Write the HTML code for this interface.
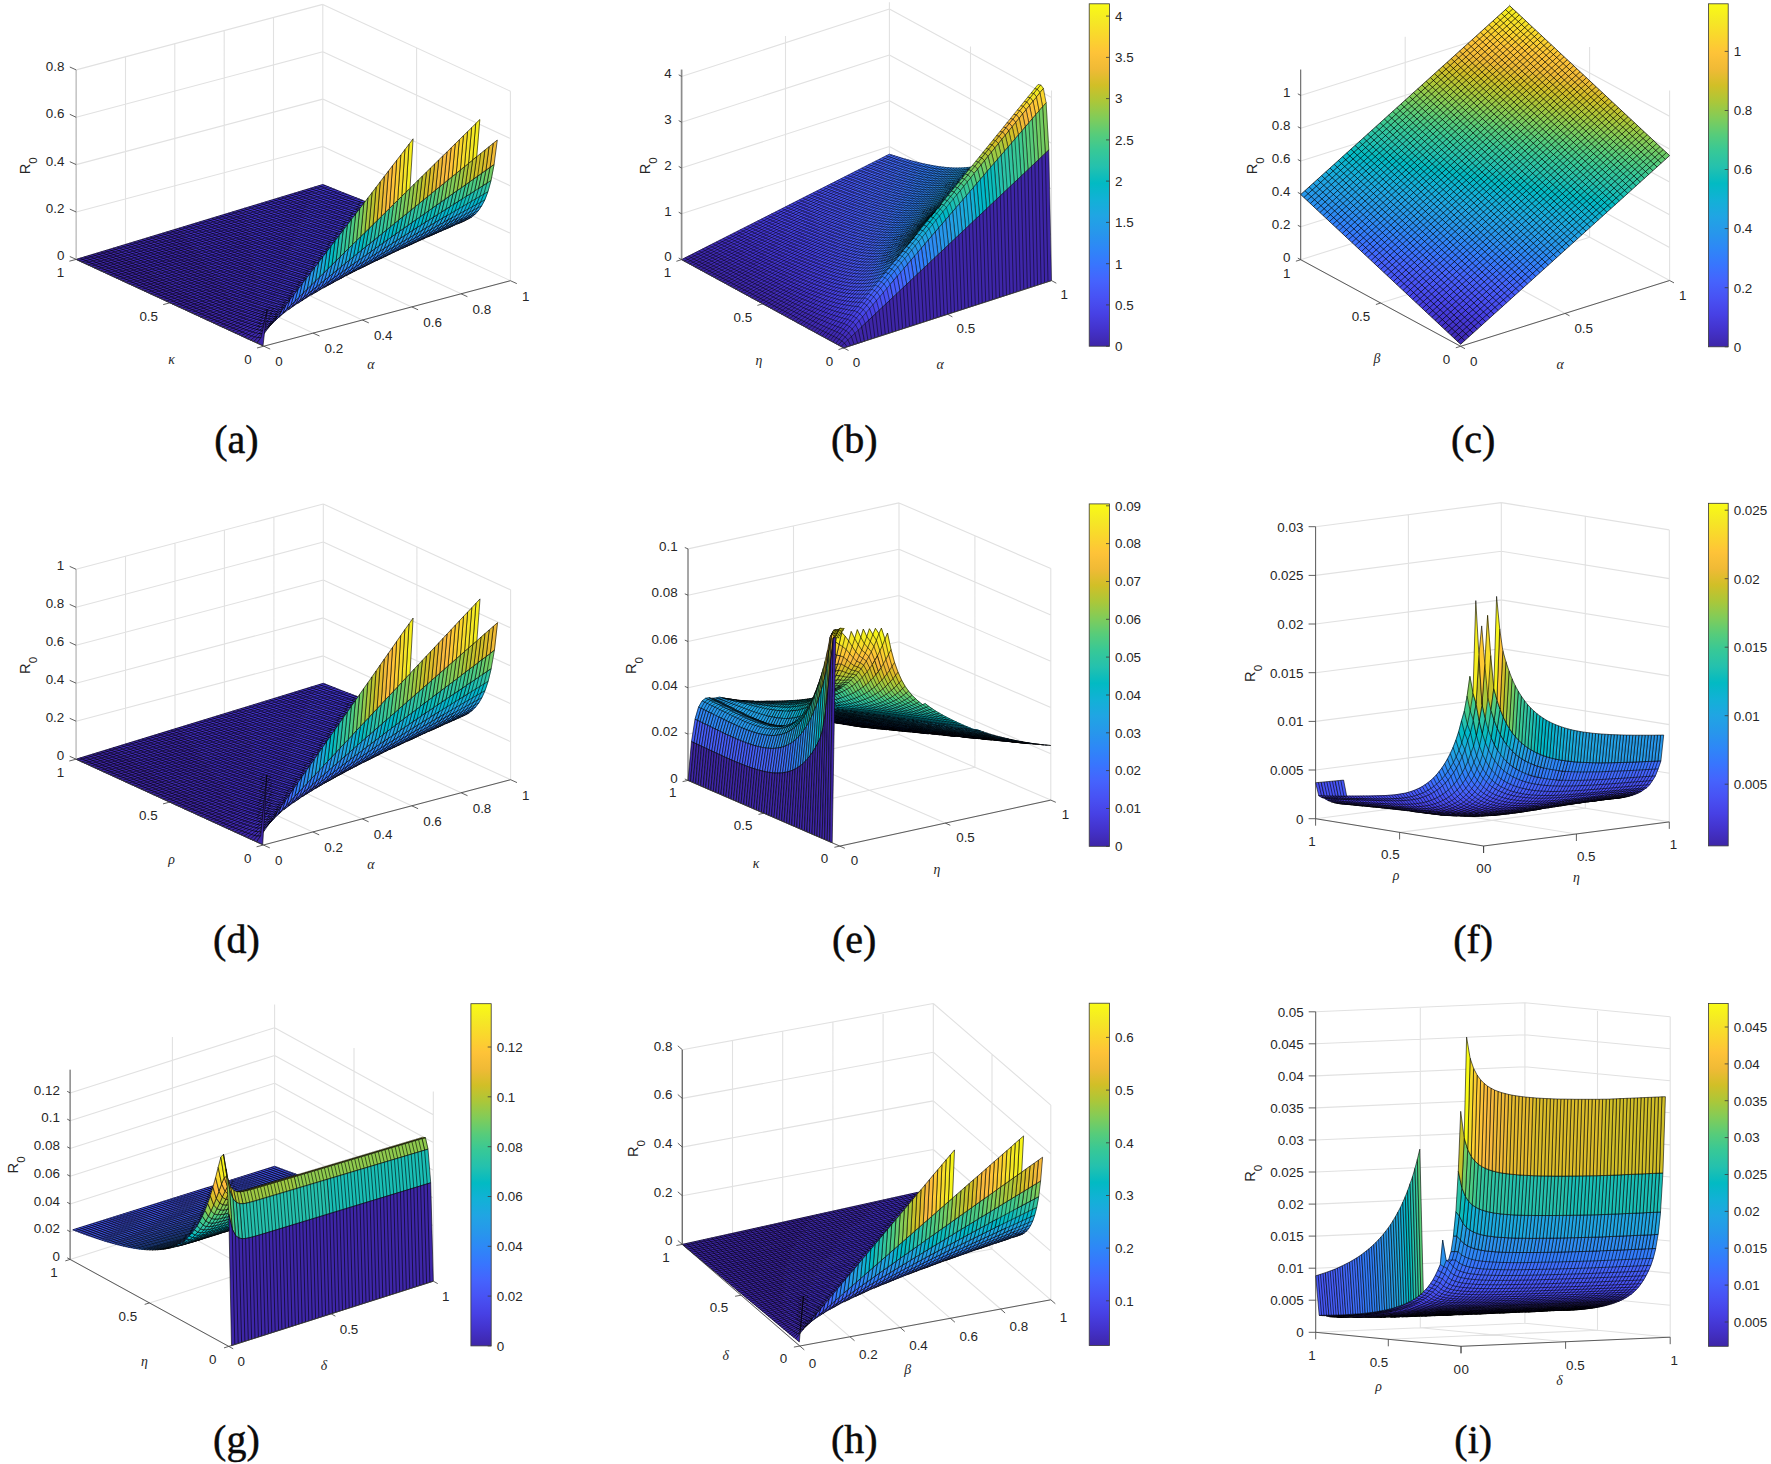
<!DOCTYPE html>
<html><head><meta charset="utf-8"><title>Figure</title>
<style>
html,body{margin:0;padding:0;background:#fff}
svg{display:block}
text{font-family:"Liberation Sans",sans-serif;fill:#262626}
.gk{font-family:"Liberation Serif",serif;font-style:italic;font-size:13.8px}
.cap{font-family:"Liberation Serif",serif;font-size:40px;fill:#0a0a0a;stroke:#0a0a0a;stroke-width:.45px}
</style></head><body>
<svg width="1771" height="1464" viewBox="0 0 1771 1464">
<rect width="1771" height="1464" fill="#fff"/>
<defs><linearGradient id="gc" gradientUnits="userSpaceOnUse" x1="1460.6" y1="344.5" x2="1528.3" y2="1.0"><stop offset="0.0000" stop-color="#3e26a8"/><stop offset="0.0476" stop-color="#4332cb"/><stop offset="0.0952" stop-color="#4741e5"/><stop offset="0.1429" stop-color="#4852f4"/><stop offset="0.1905" stop-color="#4563fd"/><stop offset="0.2381" stop-color="#3875fe"/><stop offset="0.2857" stop-color="#2e87f7"/><stop offset="0.3333" stop-color="#2797eb"/><stop offset="0.3810" stop-color="#20a5e3"/><stop offset="0.4286" stop-color="#12b1d6"/><stop offset="0.4762" stop-color="#02bac3"/><stop offset="0.5238" stop-color="#24c1ae"/><stop offset="0.5714" stop-color="#37c897"/><stop offset="0.6190" stop-color="#57cc7a"/><stop offset="0.6667" stop-color="#81cc59"/><stop offset="0.7143" stop-color="#abc739"/><stop offset="0.7619" stop-color="#d1bf27"/><stop offset="0.8095" stop-color="#f0ba36"/><stop offset="0.8571" stop-color="#fec338"/><stop offset="0.9048" stop-color="#fad62d"/><stop offset="0.9524" stop-color="#f5e924"/><stop offset="1.0000" stop-color="#f9fb15"/></linearGradient></defs>
<path d="M263.8 346.2L76.2 259.4M313.1 333.1L125.5 246.3M362.4 320.0L174.8 233.2M411.8 306.9L224.2 220.1M461.1 293.8L273.5 207.0M510.4 280.7L322.8 193.9M263.8 346.2L510.4 280.7M170.0 302.8L416.6 237.3M76.2 259.4L322.8 193.9M76.2 259.4L76.2 69.9M125.5 246.3L125.5 56.8M174.8 233.2L174.8 43.7M224.2 220.1L224.2 30.6M273.5 207.0L273.5 17.5M322.8 193.9L322.8 4.4M76.2 259.4L322.8 193.9M76.2 212.0L322.8 146.5M76.2 164.6L322.8 99.1M76.2 117.3L322.8 51.8M76.2 69.9L322.8 4.4M510.4 280.7L510.4 91.2M416.6 237.3L416.6 47.8M322.8 193.9L322.8 4.4M322.8 193.9L510.4 280.7M322.8 146.5L510.4 233.3M322.8 99.1L510.4 185.9M322.8 51.8L510.4 138.6M322.8 4.4L510.4 91.2" stroke="#e1e1e1" stroke-width="1.1" fill="none"/><g transform="scale(0.1)" stroke="#000" stroke-width="6" stroke-linejoin="round" fill="none"><g stroke-width="6"><path fill=#4537d5 stroke=#4537d5 d="M3228 1845l-82 25 25 10 82-25zM3253 1855l-123 38 31 12 123-37zM3284 1868l-164 50 31 13 164-50zM3315 1881l-205 62 31 13 206-63zM3347 1893l-247 76 31 13 247-76zM3378 1906l-288 88 32 13 287-88zM3409 1919l-329 101 32 13 329-102zM3441 1931l-370 114 31 13 370-115zM3472 1943l-411 128 31 12 411-127zM3503 1956l-452 140 31 13 452-141zM3534 1968l-493 154 31 12 494-154zM3566 1980l-535 167 32 13 534-168zM3556 2005l-535 168 32 12 534-168zM3546 2030l-534 168 31 13 534-169zM3495 2068l-493 155 31 13 493-156zM3485 2093l-493 156 31 12 493-156zM3475 2118l-493 156 31 13 494-157zM3466 2143l-494 157 32 12 493-158zM3456 2168l-494 157 32 13 493-159zM3405 2206l-452 145 31 12 452-146zM3395 2231l-452 145 31 13 452-147zM3385 2255l-452 147 31 12 452-147zM3375 2280l-452 148 31 12 453-148zM3324 2319l-411 134 32 12 411-135zM3314 2343l-411 136 32 12 411-136zM3305 2368l-411 136 31 12 411-137zM3295 2393l-411 137 31 11 411-137zM3244 2431l-329 110 31 12 329-111zM3234 2456l-329 111 32 12 328-112zM3224 2481l-329 111 32 12 328-112zM3214 2506l-328 112 31 11 329-113zM3163 2544l-287 99 31 12 288-100zM3154 2569l-288 100 31 11 288-101zM3144 2594l-288 101 31 11 288-102zM3134 2618l-288 102 32 11 287-103zM3083 2658l-247 88 32 10 246-88zM3073 2682l-246 89 31 11 246-90zM3063 2707l-246 90 31 10 247-91zM3054 2731l-247 91 31 11 247-93zM3044 2756l-247 92 31 10 247-93zM2993 2796l-206 78 32 10 205-80zM2983 2820l-206 79 32 10 205-81zM2973 2845l-205 80 31 9 205-82zM2963 2869l-205 82 31 9 206-84zM2912 2910l-164 67 31 8 165-68zM2902 2934l-164 68 31 9 165-70zM2893 2958l-165 70 32 8 164-72zM2883 2982l-165 72 32 8 164-75zM2832 3024l-123 56 31 7 123-58zM2822 3049l-123 58 31 6 123-61zM2812 3073l-123 60 31 5 123-63zM2761 3117l-82 43 31 4 83-45zM2751 3142l-82 44 32 4 82-48zM2742 3166l-83 48 32 2 82-53zM2732 3189l-41 27 31-3 41-30zM2722 3213l-41 29 31-8 41-33z"/><path fill=#4332cb stroke=#4332cb d="M3146 1870l-699 212 25 11 699-213zM3130 1893l-658 200 31 13 658-201zM3120 1918l-658 201 31 13 658-201zM3110 1943l-658 201 32 14 657-202zM3100 1969l-657 201 31 14 657-202zM3090 1994l-616 190 31 13 617-190zM3080 2020l-616 190 31 13 617-190zM3071 2045l-617 191 31 13 617-191zM3061 2071l-576 178 32 13 575-179zM3051 2096l-575 179 31 13 575-179zM3041 2122l-575 179 31 13 575-180zM3031 2147l-534 167 31 13 535-167zM3021 2173l-534 167 31 13 535-168zM3012 2198l-535 168 32 13 534-168zM3002 2223l-493 156 31 13 493-156zM2992 2249l-493 156 31 13 493-157zM2982 2274l-493 157 31 13 493-157zM2972 2300l-452 144 31 13 453-145zM2962 2325l-452 145 32 13 452-145zM2953 2351l-452 145 31 13 452-146zM2943 2376l-452 146 31 13 452-146zM2933 2402l-411 133 31 13 411-134zM2923 2428l-411 133 31 13 411-134zM2913 2453l-411 135 32 12 411-135zM2903 2479l-369 121 31 13 370-122zM2894 2504l-370 122 31 13 370-123zM2884 2530l-370 123 31 12 370-124zM2915 2541l-370 124 31 13 370-125zM2905 2567l-370 125 32 12 370-125zM2895 2592l-369 126 31 12 370-126zM2886 2618l-329 112 31 12 329-113zM2876 2643l-329 114 31 12 329-114zM2866 2669l-329 114 31 12 329-115zM2856 2695l-288 100 32 12 287-101zM2846 2720l-287 102 31 12 288-103zM2836 2746l-287 102 31 12 288-104zM2827 2771l-288 104 31 12 288-105zM2817 2797l-247 90 31 11 247-91zM2807 2822l-247 91 32 12 246-92zM2797 2848l-247 92 32 12 246-94zM2787 2874l-205 78 31 11 206-79zM2777 2899l-205 79 31 11 206-80zM2768 2925l-206 81 31 10 206-82zM2758 2951l-165 65 32 11 164-67zM2748 2977l-164 67 31 10 164-69zM2738 3002l-164 69 31 10 164-70zM2728 3028l-123 53 31 9 124-54zM2718 3054l-123 54 31 10 124-56zM2626 3118l-41 18 32 9 41-19z"/><path fill=#422ec0 stroke=#422ec0 d="M2447 2082l-657 200 24 11 658-200zM2472 2093l-658 200 32 14 657-201zM2462 2119l-657 200 31 14 657-201zM2452 2144l-616 189 31 14 617-189zM2443 2170l-617 189 31 14 617-189zM2474 2184l-617 189 32 14 616-190zM2464 2210l-617 189 32 14 616-190zM2454 2236l-575 177 31 14 575-178zM2485 2249l-575 178 31 14 576-179zM2476 2275l-576 178 31 14 576-179zM2466 2301l-535 166 32 14 534-167zM2497 2314l-575 180 31 13 575-180zM2487 2340l-534 167 31 14 534-168zM2477 2366l-493 155 31 13 494-155zM2509 2379l-535 168 32 14 534-169zM2499 2405l-493 156 31 14 493-157zM2489 2431l-493 157 31 13 493-157zM2520 2444l-493 157 31 14 493-158zM2510 2470l-452 145 32 13 452-145zM2501 2496l-453 145 32 14 452-146zM2491 2522l-411 133 31 13 411-133zM2522 2535l-452 147 31 13 452-147zM2512 2561l-411 134 31 14 411-135zM2502 2588l-411 134 32 13 411-135zM2534 2600l-411 135 31 14 411-136zM2524 2626l-370 123 31 13 370-123zM2514 2653l-370 123 31 13 370-124zM2545 2665l-370 124 32 13 369-124zM2535 2692l-370 124 32 13 370-125zM2526 2718l-329 111 31 14 329-113zM2557 2730l-329 113 31 13 329-114zM2547 2757l-329 113 31 13 329-114zM2537 2783l-288 100 32 13 287-101zM2568 2795l-328 115 31 13 329-116zM2559 2822l-288 101 31 13 288-102zM2549 2848l-288 103 31 13 288-104zM2539 2875l-247 89 32 13 246-90zM2570 2887l-246 90 31 12 246-91zM2560 2913l-246 91 31 13 247-92zM2550 2940l-205 77 31 12 206-77zM2582 2952l-247 93 31 13 247-95zM2572 2978l-206 80 32 12 205-81zM2562 3006l-164 64 31 12 164-66zM2593 3016l-205 82 31 12 206-83zM2584 3044l-165 66 31 12 165-68zM2574 3071l-165 68 32 12 164-70zM2605 3081l-164 70 31 12 164-73zM2595 3108l-123 55 31 11 123-56zM2585 3136l-123 56 31 11 124-58zM2617 3145l-124 58 32 11 123-61zM2607 3173l-124 61 32 10 123-63zM2597 3202l-82 42 31 10 82-45zM2587 3231l-82 45 31 10 82-48zM2577 3262l-41 24 31 8 41-26zM2599 3300l-41 29 31 6 41-34z"/><path fill=#402ab4 stroke=#402ab4 d="M1790 2282l-658 200 25 11 657-200zM1814 2293l-657 200 31 14 658-200zM1805 2319l-658 201 31 14 658-201zM1836 2333l-658 201 32 14 657-201zM1826 2359l-616 189 31 14 616-189zM1857 2373l-616 189 31 15 617-190zM1847 2399l-575 178 31 14 576-178zM1879 2413l-576 178 32 14 575-178zM1910 2427l-575 178 31 14 575-178zM1900 2453l-575 179 31 14 575-179zM1931 2467l-575 179 31 14 576-179zM1922 2494l-535 166 32 15 534-168zM1953 2507l-534 168 31 14 534-168zM1984 2521l-534 168 31 14 534-169zM1974 2547l-493 156 31 14 494-156zM2006 2561l-494 156 32 14 493-156zM1996 2588l-493 156 31 14 493-157zM2027 2601l-493 157 31 15 493-158zM2058 2615l-493 158 31 14 494-159zM2048 2641l-452 146 32 14 452-146zM2080 2655l-452 146 31 14 452-147zM2070 2682l-411 133 31 14 411-134zM2101 2695l-411 134 31 14 411-134zM2091 2722l-411 135 32 14 411-136zM2123 2735l-411 136 31 14 411-136zM2154 2749l-411 136 31 14 411-137zM2144 2776l-370 123 31 14 370-124zM2175 2789l-370 124 32 14 370-125zM2165 2816l-328 111 31 14 329-112zM2197 2829l-329 112 31 14 329-112zM2228 2843l-329 112 31 14 329-113zM2218 2870l-329 113 32 14 328-114zM2249 2883l-328 114 31 14 329-115zM2240 2910l-288 101 31 14 288-102zM2271 2923l-288 102 31 14 288-103zM2261 2951l-247 88 32 14 246-89zM2292 2964l-246 89 31 13 247-89zM2324 2977l-247 89 31 14 247-91zM2314 3004l-247 91 31 14 247-92zM2345 3017l-247 92 32 14 246-94zM2335 3045l-205 78 31 14 205-79zM2366 3058l-205 79 31 13 206-80zM2398 3070l-206 80 31 14 206-82zM2388 3098l-165 66 32 13 164-67zM2419 3110l-164 67 31 14 164-69zM2409 3139l-164 69 31 13 165-70zM2441 3151l-165 70 31 14 165-72zM2472 3163l-165 72 32 13 164-74zM2462 3192l-123 56 31 13 123-58zM2493 3203l-123 58 31 13 124-60zM2483 3234l-82 40 31 13 83-43zM2515 3244l-83 43 32 12 82-45zM2505 3276l-82 45 31 13 82-48zM2536 3286l-82 48 31 12 82-52zM2567 3294l-82 52 31 12 83-58zM2558 3329l-42 29 32 10 41-33zM2589 3335l-41 33 31 7 41-40z"/><path fill=#3e26a8 stroke=#3e26a8 d="M1132 2482l-370 112 25 12 370-113zM1157 2493l-370 113 31 14 370-113zM1147 2520l-329 100 31 14 329-100zM1178 2534l-329 100 32 15 329-101zM1210 2548l-329 101 31 14 329-101zM1241 2562l-329 101 31 15 329-101zM1272 2577l-329 101 32 14 328-101zM1303 2591l-328 101 31 15 329-102zM1335 2605l-329 102 31 14 329-102zM1325 2632l-288 89 31 15 288-90zM1356 2646l-288 90 32 14 287-90zM1387 2660l-287 90 31 15 288-90zM1419 2675l-288 90 31 14 288-90zM1450 2689l-288 90 31 15 288-91zM1481 2703l-288 91 32 14 287-91zM1512 2717l-287 91 31 15 288-92zM1503 2744l-247 79 31 14 247-79zM1534 2758l-247 79 31 14 247-78zM1565 2773l-247 78 32 15 246-79zM1596 2787l-246 79 31 14 247-79zM1628 2801l-247 79 31 15 247-80zM1659 2815l-247 80 32 14 246-80zM1690 2829l-246 80 31 15 246-81zM1680 2857l-205 67 31 14 206-67zM1712 2871l-206 67 31 15 206-68zM1743 2885l-206 68 32 14 205-68zM1774 2899l-205 68 31 15 205-69zM1805 2913l-205 69 31 14 206-69zM1837 2927l-206 69 31 15 206-70zM1868 2941l-206 70 32 14 205-70zM1899 2955l-205 70 31 15 205-71zM1889 2983l-164 57 31 14 165-57zM1921 2997l-165 57 31 14 165-57zM1952 3011l-165 57 32 15 164-58zM1983 3025l-164 58 31 14 164-58zM2014 3039l-164 58 31 15 165-59zM2046 3053l-165 59 32 14 164-60zM2077 3066l-164 60 31 15 164-61zM2067 3095l-123 46 31 14 123-46zM2098 3109l-123 46 31 15 124-47zM2130 3123l-124 47 32 14 123-47zM2161 3137l-123 47 31 15 123-49zM2192 3150l-123 49 31 14 123-49zM2223 3164l-123 49 31 15 124-51zM2255 3177l-124 51 32 14 123-51zM2245 3208l-82 34 31 15 82-36zM2276 3221l-82 36 31 14 82-36zM2307 3235l-82 36 31 14 83-37zM2339 3248l-83 37 32 15 82-39zM2370 3261l-82 39 31 14 82-40zM2401 3274l-82 40 31 15 82-42zM2432 3287l-82 42 32 14 82-44zM2423 3321l-41 22 31 15 41-24zM2454 3334l-41 24 31 14 41-26zM2485 3346l-41 26 31 15 41-29zM2516 3358l-41 29 32 14 41-33zM2548 3368l-41 33 31 15 41-41z"/><path fill=#463cde stroke=#463cde d="M3597 1992l-41 13 31 12 41-13zM3587 2017l-41 13 31 12 41-13zM3577 2042l-82 26 31 12 82-26zM3567 2067l-82 26 31 12 83-26zM3558 2092l-83 26 32 12 82-27zM3507 2130l-41 13 31 11 41-13zM3497 2154l-41 14 31 11 41-13zM3487 2179l-82 27 31 11 82-26zM3436 2217l-41 14 31 11 41-13zM3426 2242l-41 13 31 12 41-13zM3416 2267l-41 13 32 12 41-14zM3407 2292l-83 27 32 11 82-27zM3356 2330l-42 13 32 12 41-14zM3346 2355l-41 13 31 11 41-13zM3336 2379l-41 14 31 11 41-14zM3285 2418l-41 13 31 11 41-13zM3275 2442l-41 14 31 11 41-14zM3265 2467l-41 14 31 11 42-14zM3255 2492l-41 14 32 10 41-14zM3205 2530l-42 14 32 11 41-14zM3195 2555l-41 14 31 10 41-14zM3185 2579l-41 15 31 10 41-15zM3124 2643l-41 15 31 10 41-15zM3114 2668l-41 14 31 10 42-15zM3034 2780l-41 16 31 8 41-15zM2763 3183l-41 30 31-12 41-33z"/><path fill=#4269fe stroke=#4269fe d="M4351 2324l-41 17 31-6 41-17z"/><path fill=#4563fd stroke=#4563fd d="M4310 2341l-41 16 31-5 41-17zM4094 2438l-82 34 31-5 83-36z"/><path fill=#465efb stroke=#465efb d="M3746 2603l-41 18 31-7 41-18z"/><path fill=#4758f8 stroke=#4758f8 d="M3572 2689l-83 37 32-6 82-39z"/><path fill=#2797eb stroke=#2797eb d="M4754 2140l-82 39 31-34 82-40zM4580 2206l-42 20 32-40 41-21z"/><path fill=#2b91ef stroke=#2b91ef d="M4672 2179l-83 38 32-31 82-41z"/><path fill=#23a0e5 stroke=#23a0e5 d="M4785 2105l-123 60 31-42 123-64zM4570 2186l-83 42 32-50 82-45z"/><path fill=#259be8 stroke=#259be8 d="M4662 2165l-82 41 31-41 82-42z"/><path fill=#4852f4 stroke=#4852f4 d="M3305 2831l-41 20 32-9 41-21z"/><path fill=#18addb stroke=#18addb d="M4816 2059l-82 42 31-57 83-45zM4560 2156l-82 44 31-67 82-48z"/><path fill=#1ca9df stroke=#1ca9df d="M4734 2101l-82 43 31-56 82-44zM4478 2200l-41 23 31-66 41-24z"/><path fill=#20a5e3 stroke=#20a5e3 d="M4652 2144l-82 42 31-53 82-45z"/><path fill=#02bac3 stroke=#02bac3 d="M4848 1999l-42 22 32-80 41-24zM4591 2085l-82 48 31-93 82-52z"/><path fill=#01b8ca stroke=#01b8ca d="M4806 2021l-82 45 32-77 82-48zM4509 2133l-82 48 31-88 82-53z"/><path fill=#08b5d0 stroke=#08b5d0 d="M4724 2066l-82 45 31-74 83-48zM4427 2181l-82 48 31-84 82-52z"/><path fill=#12b1d6 stroke=#12b1d6 d="M4642 2111l-82 45 31-71 82-48z"/><path fill=#31c69f stroke=#31c69f d="M4879 1917l-41 24 31-110 41-26zM4540 2040l-41 26 31-131 41-29z"/><path fill=#2cc4a7 stroke=#2cc4a7 d="M4838 1941l-41 24 31-108 41-26z"/><path fill=#24c1ae stroke=#24c1ae d="M4797 1965l-83 48 32-103 82-53zM4417 2119l-41 26 31-123 41-29z"/><path fill=#19bfb6 stroke=#19bfb6 d="M4714 2013l-82 48 31-99 83-52z"/><path fill=#0bbdbd stroke=#0bbdbd d="M4632 2061l-41 24 31-97 41-26z"/><path fill=#72cd64 stroke=#72cd64 d="M4910 1805l-41 26 31-158 41-29z"/><path fill=#57cc7a stroke=#57cc7a d="M4787 1884l-41 26 31-149 41-30z"/><path fill=#3fca8e stroke=#3fca8e d="M4663 1962l-41 26 32-140 41-29z"/><path fill=#f6ef20 stroke=#f6ef20 d="M4767 1567l-41 33 31-364 41-40z"/></g><path d="M2538 3416l82-81M4757 1236l41-40M2507 3401l123-100M2712 3234l82-66M4726 1600l41-33M2475 3387l124-87M2681 3242l82-59M4407 2022l41-29M4530 1935l41-29M4654 1848l41-29M4777 1761l41-30M4900 1673l41-29M2444 3372l164-104M2691 3216l82-53M4376 2145l534-340M2413 3358l205-120M2659 3214l124-72M4345 2229l534-312M2382 3343l246-134M2669 3186l124-67M4437 2223l411-224M2350 3329l288-148M2679 3160l164-85M3296 2842l41-21M4487 2228l329-169M2319 3314l329-161M2689 3133l164-81M3264 2851l41-20M4538 2226l247-121M2288 3300l370-174M2699 3107l164-78M3521 2720l82-39M4589 2217l165-77M2256 3285l658-298M3489 2726l83-37M3736 2614l41-18M2225 3271l699-307M3705 2621l41-18M2194 3257l740-316M4043 2467l83-36M2163 3242l781-325M4012 2472l82-34M4300 2352l82-34M2131 3228l864-352M4269 2357l82-33M2100 3213l904-361M2069 3199l945-371M2038 3184l1027-395M2006 3170l1069-405M1975 3155l1110-415M1944 3141l1151-425M1913 3126l1233-449M1881 3112l1274-459M1850 3097l1315-469M1819 3083l1397-494M1787 3068l1439-503M1756 3054l1480-513M1725 3040l1562-538M1694 3025l1603-547M1662 3011l1644-558M1631 2996l1685-567M1600 2982l1767-592M1569 2967l1808-601M1537 2953l1850-612M1506 2938l1932-635M1475 2924l1973-646M1444 2909l2013-655M1412 2895l2055-666M1381 2880l2137-689M1350 2866l2178-700M1318 2851l2220-710M1287 2837l2302-734M1256 2823l2343-744M1225 2808l2383-754M1193 2794l2425-765M1162 2779l2466-775M1131 2765l2466-773M1100 2750l2466-770M1068 2736l2466-768M1037 2721l2466-765M1006 2707l2466-764M975 2692l2466-761M943 2678l2466-759M912 2663l2466-757M881 2649l2466-756M849 2634l2466-753M818 2620l2466-752M787 2606l2466-751M762 2594l2466-749M2538 3416l-1776-822M2579 3375l-31-7-32-10-62-24-219-95-469-214-963-443M2620 3335l-31 0-31-6-63-19-94-36-125-53-187-82-282-128-963-442M2630 3301l-31-1-32-6-62-18-94-34-156-65-188-82-281-126-901-412M2608 3268l-31-6-31-8-94-31-94-37-156-65-188-82-281-126-807-369M2712 3234l-31 8M2618 3238l-62-15-94-31-125-48-156-66-188-81-250-112-775-353M2753 3201l-31 12-31 3-32-2M2628 3209l-62-16-94-30-125-48-157-65-187-82-250-111-744-338M2794 3168l-31 15-31 6-31 1-32-4M2638 3181l-63-16-93-31-125-48-157-65-187-80-250-111-713-323M2773 3163l-31 3-32-2-31-4M2648 3153l-94-26-94-33-125-49-156-65-188-81-250-111-650-294M2783 3142l-32 0-31-4-31-5M2658 3126l-94-27-94-33-125-49-156-65-407-177-650-293M2793 3119l-32-2-62-10M2667 3099l-93-28-94-33-125-49-157-64-406-177-619-279M2802 3096l-62-9-31-7-63-17-125-41-156-60-188-78-250-108-313-139-400-180M2843 3075l-31-2-31-5-31-6-63-16-62-19-63-21-156-59-188-77-250-108-313-138-400-180M2853 3052l-31-3-62-13-94-26-125-43-157-60-187-78-250-107-282-125-369-165M2863 3029l-31-5-63-13-93-27-126-44-156-60-187-78-219-94-282-124-369-165M2873 3006l-31-6-63-15-94-28-125-44-156-60-188-78-218-94-282-123-338-151M2914 2987l-31-5-63-14-94-27-125-43-156-60-188-76-218-94-282-123-337-151M2924 2964l-31-6-63-15-94-28-125-43-156-60-188-77-219-94-281-123-306-136M2934 2941l-94-23-94-29-125-44-156-60-188-77-219-93-556-246M2944 2917l-94-24-94-30-125-44-156-61-188-77-188-79-250-109-306-136M2953 2893l-93-25-94-30-125-45-157-61-187-77-188-80-525-231M2995 2876l-94-24-94-30-125-44-156-60-188-77-188-79-525-230M3004 2852l-93-25-94-30-125-45-157-60-187-77-188-80-494-216M3296 2842l-32 9M3014 2828l-94-26-93-31-125-45-157-61-156-63-188-80-494-215M3337 2821l-32 10M3024 2804l-94-27-94-31-125-46-156-61-156-64-188-79-463-202M3065 2789l-94-27-93-31-126-45-156-61-156-63-188-79-462-201M3075 2765l-94-28-94-31-125-46-156-61-156-63-188-79-431-188M3085 2740l-94-28-94-32-125-46-125-48-156-64-188-78-431-187M3095 2716l-94-29-94-32-125-46-125-49-313-129-431-187M3104 2692l-93-30-94-33-125-46-125-49-313-129-400-173M3521 2720l-32 6M3146 2677l-94-29-94-33-125-46-125-49-313-128-400-173M3562 2701l-31 7M3155 2653l-93-30-94-33-125-47-125-49-313-128-369-159M3603 2681l-31 8M3165 2628l-94-30-93-33-125-47-126-49-281-116-369-159M3175 2604l-94-31-94-34-218-84-282-115-369-158M3216 2589l-94-30-93-34-219-83-282-115-369-158M3226 2565l-94-31-94-34-218-84-282-115-338-144M3736 2614l-31 7M3236 2541l-188-66-219-84-281-116-306-131M3777 2596l-31 7M3246 2516l-188-66-219-85-250-103-306-130M3287 2502l-188-66-219-84-250-102-306-131M3297 2478l-188-67-188-72-250-102-306-130M3306 2453l-187-67-188-73-250-102-275-117M3316 2429l-187-68-188-73-219-90-275-116M3326 2404l-156-57-188-73-219-89-275-115M3367 2390l-156-56-188-73-219-88-275-116M3377 2366l-156-57-188-73-219-89-244-102M4043 2467l-31 5M3387 2341l-156-57-188-73-188-77-243-102M4085 2449l-32 6M3397 2316l-157-57-156-61-188-76-243-102M4407 2022l-31 123-31 84M4126 2431l-32 7M3438 2303l-157-58-156-60-187-76-244-102M4448 1993l-31 126-31 86M3448 2278l-157-58-156-61-188-76-212-88M4458 2093l-31 88M3457 2254l-156-59-156-61-369-152M4530 1935l-31 131-31 91-31 66M3467 2229l-125-47-156-61-369-151M4571 1906l-31 134-31 93-31 67M3477 2204l-125-47-156-61-338-139M4581 2014l-31 95-31 69-32 50M4300 2352l-31 5M3518 2191l-125-47-156-61-338-138M4654 1848l-32 140-31 97-31 71-31 51M4341 2335l-31 6M3528 2166l-281-108-307-126M4757 1236l-31 364M4695 1819l-32 143-31 99-31 72-31 53-32 40M4382 2318l-31 6M3538 2141l-250-96-307-125M4798 1196l-31 371M4705 1936l-32 101-31 74-31 54-31 41M3548 2117l-250-97-276-113M4777 1761l-31 149-32 103-31 75-31 56-31 42-32 31M3589 2103l-250-96-275-112M4818 1731l-31 153-31 105-32 77-31 57-31 42-32 33M3599 2079l-219-85-275-112M4828 1857l-31 108-32 79-31 57-31 44-31 34M3608 2054l-218-85-244-99M4900 1673l-31 158-31 110-32 80-31 59-31 45-31 34M3618 2029l-187-73-244-99M4941 1644l-31 161-31 112-31 82-32 60-31 46-31 35M3628 2004l-187-73-213-86"/><path fill=#463cde d="M3628 2004l-41 13 31 12 41-13z"/><path fill=#463cde d="M3659 2016l-82 26 31 12 83-26zM3618 2029l32 12"/><path fill=#463cde d="M3608 2054l-41 13 32 12 41-13z"/><path fill=#463cde d="M3599 2079l-41 13 31 11 41-13z"/><path fill=#463cde d="M3589 2103l-82 27 31 11 82-26zM3548 2117l31 11"/><path fill=#463cde d="M3579 2128l-82 26 31 12 82-26zM3538 2141l31 12"/><path fill=#463cde d="M3528 2166l-41 13 31 12 41-13z"/><path fill=#463cde d="M3518 2191l-82 26 31 12 82-27zM3477 2204l31 11"/><path fill=#463cde d="M3508 2215l-82 27 31 12 83-27zM3467 2229l32 11"/><path fill=#463cde d="M3457 2254l-41 13 32 11 41-13z"/><path fill=#463cde d="M3448 2278l-41 14 31 11 41-14z"/><path fill=#463cde d="M3438 2303l-82 27 31 11 82-27zM3397 2316l31 11"/><path fill=#463cde d="M3428 2327l-82 28 31 11 82-28zM3387 2341l31 11"/><path fill=#463cde d="M3377 2366l-41 13 31 11 41-14z"/><path fill=#463cde d="M3367 2390l-82 28 31 11 82-28zM3326 2404l31 11"/><path fill=#463cde d="M3357 2415l-82 27 31 11 83-28zM3316 2429l32 10"/><path fill=#463cde d="M3306 2453l-41 14 32 11 41-14z"/><path fill=#463cde d="M3297 2478l-42 14 32 10 41-14z"/><path fill=#463cde d="M3287 2502l-82 28 31 11 82-29zM3246 2516l31 10"/><path fill=#463cde d="M3277 2526l-82 29 31 10 82-29zM3236 2541l31 10"/><path fill=#463cde d="M3226 2565l-41 14 31 10 41-14z"/><path fill=#463cde d="M3216 2589l-82 29 31 10 82-29zM3175 2604l31 10"/><path fill=#463cde d="M3206 2614l-82 29 31 10 83-30zM3165 2628l31 10"/><path fill=#463cde d="M3155 2653l-41 15 32 9 41-15z"/><path fill=#463cde d="M3146 2677l-83 30 32 9 82-30zM3104 2692l32 9"/><path fill=#463cde d="M3136 2701l-82 30 31 9 82-30zM3095 2716l31 9"/><path fill=#463cde d="M3126 2725l-82 31 31 9 82-32zM3085 2740l31 9"/><path fill=#463cde d="M3075 2765l-41 15 31 9 41-16z"/><path fill=#463cde d="M3065 2789l-82 31 31 8 82-32zM3024 2804l31 8"/><path fill=#463cde d="M3055 2812l-82 33 31 7 83-32zM3014 2828l31 8"/><path fill=#463cde d="M3004 2852l-41 17 32 7 41-17z"/><path fill=#463cde d="M2995 2876l-83 34 32 7 82-34zM2953 2893l32 7"/><path fill=#463cde d="M2985 2900l-83 34 32 7 82-36zM2944 2917l31 6"/><path fill=#327cfc d="M4619 2221l-41 17 31-14 41-18z"/><path fill=#3875fe d="M4496 2273l-42 18 32-13 41-18z"/><path fill=#463cde d="M2934 2941l-41 17 31 6 41-18z"/><path fill=#2e87f7 d="M4691 2188l-41 18 31-20 41-19z"/><path fill=#2f81fa d="M4650 2206l-123 54 31-19 123-55zM4609 2224l31-20M4568 2242l31-19"/><path fill=#327cfc d="M4527 2260l-123 54 31-17 123-56zM4486 2278l31-18M4445 2296l31-17"/><path fill=#3875fe d="M4404 2314l-124 54 31-15 124-56zM4362 2332l32-16M4321 2350l32-15"/><path fill=#463cde d="M2924 2964l-41 18 31 5 41-18z"/><path fill=#2d8cf3 d="M4722 2167l-82 37 32-25 82-39zM4681 2186l32-27"/><path fill=#2e87f7 d="M4640 2204l-164 75 31-23 165-77zM4599 2223l31-25M4558 2241l31-24M4517 2260l31-23"/><path fill=#2f81fa d="M4476 2279l-123 56 31-21 123-58zM4435 2297l31-22M4394 2316l31-21"/><path fill=#327cfc d="M4353 2335l-124 56 32-19 123-58zM4311 2353l32-20M4270 2372l32-19"/><path fill=#3875fe d="M4229 2391l-123 56 31-17 124-58zM4188 2409l31-18M4147 2428l31-17"/><path fill=#3e6fff d="M4106 2447l-82 37 31-15 82-39zM4065 2465l31-16"/><path fill=#463cde d="M2914 2987l-82 37 31 5 82-38zM2873 3006l31 4"/><path fill=#4332cb d="M2709 3080l-83 38 32 8 82-39zM2667 3099l32 8"/><path fill=#2b91ef d="M4589 2217l-41 20 32-31 41-20z"/><path fill=#2d8cf3 d="M4548 2237l-123 58 31-29 124-60zM4507 2256l31-30M4466 2275l31-29"/><path fill=#2e87f7 d="M4425 2295l-82 38 31-26 82-41zM4384 2314l31-28"/><path fill=#2f81fa d="M4343 2333l-124 58 32-24 123-60zM4302 2353l31-26M4261 2372l31-25"/><path fill=#327cfc d="M4219 2391l-123 58 31-22 124-60zM4178 2411l32-24M4137 2430l32-23"/><path fill=#3875fe d="M4096 2449l-123 58 31-19 123-61zM4055 2469l31-21M4014 2488l31-20"/><path fill=#3e6fff d="M3973 2507l-123 58 31-17 123-60zM3932 2527l31-19M3891 2546l31-18"/><path fill=#4269fe d="M3850 2565l-83 39 32-15 82-41zM3808 2585l32-16"/><path fill=#463cde d="M2904 3010l-82 39 31 3 83-40zM2863 3029l31 3"/><path fill=#4332cb d="M2699 3107l-82 38 31 8 82-40zM2658 3126l31 7"/><path fill=#2797eb d="M4538 2226l-82 40 31-38 83-42zM4497 2246l32-39"/><path fill=#2b91ef d="M4456 2266l-82 41 31-36 82-43zM4415 2286l31-36"/><path fill=#2d8cf3 d="M4374 2307l-123 60 31-33 123-63zM4333 2327l31-35M4292 2347l31-34"/><path fill=#2e87f7 d="M4251 2367l-82 40 31-30 82-43zM4210 2387l31-32"/><path fill=#2f81fa d="M4169 2407l-124 61 31-28 124-63zM4127 2427l32-29M4086 2448l32-29"/><path fill=#327cfc d="M4045 2468l-82 40 31-26 82-42zM4004 2488l31-27"/><path fill=#3875fe d="M3963 2508l-123 61 31-23 123-64zM3922 2528l31-24M3881 2548l31-23"/><path fill=#3e6fff d="M3840 2569l-82 40 31-21 82-42zM3799 2589l31-22"/><path fill=#4269fe d="M3758 2609l-124 60 31-17 124-64zM3716 2629l32-20M3675 2649l32-18"/><path fill=#4563fd d="M3634 2669l-41 21 31-17 41-21z"/><path fill=#463cde d="M2853 3052l-41 21 31 2 42-21z"/><path fill=#4332cb d="M2689 3133l-82 40 31 8 82-43zM2648 3153l31 7"/><path fill=#23a0e5 d="M4487 2228l-41 22 32-50 41-22z"/><path fill=#259be8 d="M4446 2250l-82 42 31-47 83-45zM4405 2271l32-48"/><path fill=#2797eb d="M4364 2292l-82 42 31-44 82-45zM4323 2313l31-45"/><path fill=#2b91ef d="M4282 2334l-82 43 31-42 82-45zM4241 2355l31-43"/><path fill=#2d8cf3 d="M4200 2377l-124 63 32-38 123-67zM4159 2398l31-41M4118 2419l31-39"/><path fill=#2e87f7 d="M4076 2440l-82 42 32-35 82-45zM4035 2461l32-37"/><path fill=#2f81fa d="M3994 2482l-82 43 31-33 83-45zM3953 2504l31-35"/><path fill=#327cfc d="M3912 2525l-123 63 31-29 123-67zM3871 2546l31-32M3830 2567l31-30"/><path fill=#3875fe d="M3789 2588l-82 43 31-27 82-45zM3748 2609l31-28"/><path fill=#3e6fff d="M3707 2631l-83 42 32-24 82-45zM3665 2652l32-26"/><path fill=#4269fe d="M3624 2673l-82 42 31-22 83-44zM3583 2694l32-23"/><path fill=#4563fd d="M3542 2715l-82 43 31-20 82-45zM3501 2736l31-20"/><path fill=#465efb d="M3419 2779l-41 21 31-17 41-22z"/><path fill=#463cde d="M2843 3075l-41 21 32 1 41-23z"/><path fill=#4537d5 d="M2802 3096l-41 21 32 2 41-22z"/><path fill=#4332cb d="M2679 3160l-82 42 31 7 82-45zM2638 3181l31 5"/><path fill=#1ca9df d="M4437 2223l-42 22 32-64 41-24z"/><path fill=#20a5e3 d="M4395 2245l-82 45 32-61 82-48zM4354 2268l32-63"/><path fill=#23a0e5 d="M4313 2290l-82 45 31-58 83-48zM4272 2312l31-59"/><path fill=#259be8 d="M4231 2335l-82 45 31-54 82-49zM4190 2357l31-55"/><path fill=#2797eb d="M4149 2380l-82 44 31-50 82-48zM4108 2402l31-52"/><path fill=#2b91ef d="M4067 2424l-83 45 32-47 82-48zM4026 2447l31-49"/><path fill=#2d8cf3 d="M3984 2469l-82 45 32-44 82-48zM3943 2492l32-46"/><path fill=#2e87f7 d="M3902 2514l-82 45 31-41 83-48zM3861 2537l31-43"/><path fill=#2f81fa d="M3820 2559l-82 45 31-38 82-48zM3779 2581l31-39"/><path fill=#327cfc d="M3738 2604l-82 45 31-35 82-48zM3697 2626l31-36"/><path fill=#3875fe d="M3656 2649l-83 44 32-31 82-48zM3615 2671l31-33"/><path fill=#3e6fff d="M3573 2693l-82 45 32-28 82-48zM3532 2716l32-30"/><path fill=#4269fe d="M3491 2738l-82 45 31-25 83-48zM3450 2761l31-27"/><path fill=#4563fd d="M3409 2783l-82 45 31-22 82-48zM3368 2805l31-23"/><path fill=#465efb d="M3327 2828l-82 45 31-19 82-48zM3286 2850l31-20"/><path fill=#463cde d="M2834 3097l-83 45 32 0 82-48zM2793 3119l31-1"/><path fill=#4332cb d="M2669 3186l-82 45 31 7 83-48zM2628 3209l31 5"/><path fill=#12b1d6 d="M4345 2229l-42 24 32-82 41-26z"/><path fill=#18addb d="M4303 2253l-82 49 31-79 83-52zM4262 2277l32-80"/><path fill=#1ca9df d="M4221 2302l-82 48 31-75 82-52zM4180 2326l31-77"/><path fill=#20a5e3 d="M4139 2350l-41 24 31-73 41-26z"/><path fill=#23a0e5 d="M4098 2374l-82 48 31-68 82-53zM4057 2398l31-70"/><path fill=#259be8 d="M4016 2422l-82 48 31-64 82-52zM3975 2446l31-66"/><path fill=#2797eb d="M3934 2470l-83 48 32-60 82-52zM3892 2494l32-62"/><path fill=#2b91ef d="M3851 2518l-41 24 31-58 42-26z"/><path fill=#2d8cf3 d="M3810 2542l-82 48 31-53 82-53zM3769 2566l31-56"/><path fill=#2e87f7 d="M3728 2590l-82 48 31-49 82-52zM3687 2614l31-51"/><path fill=#2f81fa d="M3646 2638l-41 24 31-47 41-26z"/><path fill=#327cfc d="M3605 2662l-82 48 31-43 82-52zM3564 2686l31-45"/><path fill=#3875fe d="M3523 2710l-83 48 32-39 82-52zM3481 2734l32-41"/><path fill=#3e6fff d="M3440 2758l-41 24 31-37 42-26z"/><path fill=#4269fe d="M3399 2782l-82 48 31-32 82-53zM3358 2806l31-34"/><path fill=#4563fd d="M3317 2830l-82 48 31-28 82-52zM3276 2854l31-30"/><path fill=#465efb d="M3235 2878l-82 48 31-24 82-52zM3194 2902l31-26"/><path fill=#4758f8 d="M3153 2926l-41 24 31-22 41-26z"/><path fill=#463cde d="M2783 3142l-41 24 31-3 41-26z"/><path fill=#4332cb d="M2659 3214l-41 24 32 4 41-26z"/><path fill=#422ec0 d="M2618 3238l-41 24 31 6 42-26z"/><path fill=#72cd64 d="M4869 1831l-41 26 31-155 41-29z"/><path fill=#64cd6f d="M4828 1857l-41 27 31-153 41-29z"/><path fill=#4acb84 d="M4746 1910l-83 52 32-143 82-58zM4705 1936l31-146"/><path fill=#37c897 d="M4622 1988l-82 52 31-134 83-58zM4581 2014l32-137"/><path fill=#2cc4a7 d="M4499 2066l-82 53 31-126 82-58zM4458 2093l31-129"/><path fill=#19bfb6 d="M4376 2145l-41 26 31-120 41-29z"/><path fill=#0bbdbd d="M4335 2171l-83 52 32-114 82-58zM4294 2197l31-117"/><path fill=#02bac3 d="M4252 2223l-41 26 32-111 41-29z"/><path fill=#01b8ca d="M4211 2249l-82 52 31-105 83-58zM4170 2275l32-108"/><path fill=#08b5d0 d="M4129 2301l-41 27 31-103 41-29z"/><path fill=#12b1d6 d="M4088 2328l-82 52 31-97 82-58zM4047 2354l31-100"/><path fill=#18addb d="M4006 2380l-41 26 31-94 41-29z"/><path fill=#1ca9df d="M3965 2406l-41 26 31-91 41-29z"/><path fill=#20a5e3 d="M3924 2432l-83 52 32-85 82-58zM3883 2458l31-88"/><path fill=#23a0e5 d="M3841 2484l-41 26 32-82 41-29z"/><path fill=#259be8 d="M3800 2510l-82 53 31-76 83-59zM3759 2537l32-80"/><path fill=#2797eb d="M3718 2563l-41 26 31-73 41-29z"/><path fill=#2b91ef d="M3677 2589l-82 52 31-67 82-58zM3636 2615l31-70"/><path fill=#2d8cf3 d="M3595 2641l-41 26 31-64 41-29z"/><path fill=#2e87f7 d="M3554 2667l-41 26 31-61 41-29z"/><path fill=#2f81fa d="M3513 2693l-83 52 32-55 82-58zM3472 2719l31-58"/><path fill=#327cfc d="M3430 2745l-41 27 32-53 41-29z"/><path fill=#3875fe d="M3389 2772l-82 52 31-47 83-58zM3348 2798l32-50"/><path fill=#3e6fff d="M3307 2824l-41 26 31-44 41-29z"/><path fill=#4269fe d="M3266 2850l-82 52 31-38 82-58zM3225 2876l31-41"/><path fill=#4563fd d="M3184 2902l-41 26 31-35 41-29z"/><path fill=#465efb d="M3143 2928l-41 26 31-32 41-29z"/><path fill=#4758f8 d="M3102 2954l-83 53 32-27 82-58zM3061 2981l31-30"/><path fill=#4852f4 d="M3019 3007l-41 26 32-24 41-29z"/><path fill=#463cde d="M2773 3163l-41 26 31-6 41-29z"/><path fill=#4332cb d="M2691 3216l-83 52 32 3 82-58zM2650 3242l31 0"/><path fill=#422ec0 d="M2608 3268l-41 26 32 6 41-29z"/><path fill=#f0ba36 d="M4941 1644l-41 29 32-240 41-33z"/><path fill=#e6bb2d d="M4900 1673l-41 29 31-235 42-34z"/><path fill=#dcbd29 d="M4859 1702l-41 29 31-231 41-33z"/><path fill=#d1bf27 d="M4818 1731l-82 59 31-223 82-67zM4777 1761l31-228"/><path fill=#c5c22a d="M4736 1790l-41 29 31-219 41-33z"/><path fill=#b9c431 d="M4695 1819l-41 29 31-214 41-34z"/><path fill=#abc739 d="M4654 1848l-41 29 31-210 41-33z"/><path fill=#9dc943 d="M4613 1877l-42 29 32-206 41-33z"/><path fill=#8fcb4e d="M4571 1906l-41 29 32-201 41-34z"/><path fill=#81cc59 d="M4530 1935l-82 58 31-193 83-66zM4489 1964l32-197"/><path fill=#72cd64 d="M4448 1993l-41 29 31-188 41-34z"/><path fill=#64cd6f d="M4407 2022l-41 29 31-184 41-33z"/><path fill=#57cc7a d="M4366 2051l-41 29 31-180 41-33z"/><path fill=#4acb84 d="M4325 2080l-41 29 31-175 41-34z"/><path fill=#3fca8e d="M4284 2109l-41 29 31-171 41-33z"/><path fill=#37c897 d="M4243 2138l-41 29 31-167 41-33z"/><path fill=#31c69f d="M4202 2167l-83 58 32-158 82-67zM4160 2196l32-162"/><path fill=#2cc4a7 d="M4119 2225l-41 29 32-154 41-33z"/><path fill=#24c1ae d="M4078 2254l-41 29 31-149 42-34z"/><path fill=#19bfb6 d="M4037 2283l-41 29 31-145 41-33z"/><path fill=#0bbdbd d="M3996 2312l-41 29 31-140 41-34z"/><path fill=#02bac3 d="M3955 2341l-41 29 31-136 41-33z"/><path fill=#01b8ca d="M3914 2370l-82 58 31-127 82-67zM3873 2399l31-132"/><path fill=#08b5d0 d="M3832 2428l-41 29 31-123 41-33z"/><path fill=#12b1d6 d="M3791 2457l-42 30 32-120 41-33z"/><path fill=#18addb d="M3749 2487l-41 29 32-115 41-34z"/><path fill=#1ca9df d="M3708 2516l-41 29 32-111 41-33z"/><path fill=#20a5e3 d="M3667 2545l-41 29 31-107 42-33z"/><path fill=#23a0e5 d="M3626 2574l-41 29 31-102 41-34z"/><path fill=#259be8 d="M3585 2603l-82 58 31-94 82-66zM3544 2632l31-98"/><path fill=#2797eb d="M3503 2661l-41 29 31-89 41-34z"/><path fill=#2b91ef d="M3462 2690l-41 29 31-85 41-33z"/><path fill=#2d8cf3 d="M3421 2719l-41 29 31-81 41-33z"/><path fill=#2e87f7 d="M3380 2748l-42 29 32-76 41-34z"/><path fill=#2f81fa d="M3338 2777l-41 29 32-72 41-33z"/><path fill=#327cfc d="M3297 2806l-82 58 31-63 83-67zM3256 2835l32-67"/><path fill=#3875fe d="M3215 2864l-41 29 31-59 41-33z"/><path fill=#3e6fff d="M3174 2893l-41 29 31-54 41-34z"/><path fill=#4269fe d="M3133 2922l-41 29 31-50 41-33z"/><path fill=#4563fd d="M3092 2951l-41 29 31-46 41-33z"/><path fill=#465efb d="M3051 2980l-41 29 31-41 41-34z"/><path fill=#4758f8 d="M3010 3009l-83 58 32-33 82-66zM2969 3038l31-37"/><path fill=#4852f4 d="M2927 3067l-41 29 32-28 41-34z"/><path fill=#4332cb d="M2681 3242l-82 58 31 1 82-67zM2640 3271l31-3"/><path fill=#f5e924 d="M4726 1600l-41 34 31-357 41-41z"/><path fill=#f5e327 d="M4685 1634l-41 33 31-350 41-40z"/><path fill=#f7dc2a d="M4644 1667l-41 33 31-343 41-40z"/><path fill=#fad62d d="M4603 1700l-41 34 31-336 41-41z"/><path fill=#fccf30 d="M4562 1734l-41 33 31-329 41-40z"/><path fill=#fec338 d="M4521 1767l-42 33 32-322 41-40z"/><path fill=#febe3c d="M4479 1800l-41 34 32-315 41-41z"/><path fill=#f8ba3d d="M4438 1834l-41 33 31-308 42-40z"/><path fill=#f0ba36 d="M4397 1867l-41 33 31-301 41-40z"/><path fill=#e6bb2d d="M4356 1900l-41 34 31-294 41-41z"/><path fill=#dcbd29 d="M4315 1934l-41 33 31-287 41-40z"/><path fill=#d1bf27 d="M4274 1967l-41 33 31-279 41-41z"/><path fill=#c5c22a d="M4233 2000l-41 34 31-273 41-40z"/><path fill=#abc739 d="M4192 2034l-41 33 31-266 41-40z"/><path fill=#9dc943 d="M4151 2067l-41 33 31-258 41-41z"/><path fill=#8fcb4e d="M4110 2100l-42 34 32-252 41-40z"/><path fill=#81cc59 d="M4068 2134l-41 33 32-245 41-40z"/><path fill=#72cd64 d="M4027 2167l-41 34 31-238 42-41z"/><path fill=#64cd6f d="M3986 2201l-41 33 31-231 41-40z"/><path fill=#57cc7a d="M3945 2234l-41 33 31-224 41-40z"/><path fill=#3fca8e d="M3904 2267l-41 34 31-217 41-41z"/><path fill=#37c897 d="M3863 2301l-41 33 31-210 41-40z"/><path fill=#31c69f d="M3822 2334l-41 33 31-202 41-41z"/><path fill=#2cc4a7 d="M3781 2367l-41 34 31-196 41-40z"/><path fill=#24c1ae d="M3740 2401l-41 33 31-189 41-40z"/><path fill=#19bfb6 d="M3699 2434l-42 33 32-181 41-41z"/><path fill=#0bbdbd d="M3657 2467l-41 34 32-175 41-40z"/><path fill=#02bac3 d="M3616 2501l-41 33 31-168 42-40z"/><path fill=#08b5d0 d="M3575 2534l-41 33 31-160 41-41z"/><path fill=#12b1d6 d="M3534 2567l-41 34 31-154 41-40z"/><path fill=#18addb d="M3493 2601l-41 33 31-147 41-40z"/><path fill=#1ca9df d="M3452 2634l-41 33 31-139 41-41z"/><path fill=#20a5e3 d="M3411 2667l-41 34 31-133 41-40z"/><path fill=#23a0e5 d="M3370 2701l-41 33 31-126 41-40z"/><path fill=#259be8 d="M3329 2734l-41 34 31-119 41-41z"/><path fill=#2b91ef d="M3288 2768l-42 33 32-112 41-40z"/><path fill=#2d8cf3 d="M3246 2801l-41 33 32-104 41-41z"/><path fill=#2e87f7 d="M3205 2834l-41 34 31-98 42-40z"/><path fill=#2f81fa d="M3164 2868l-41 33 31-91 41-40z"/><path fill=#327cfc d="M3123 2901l-41 33 31-83 41-41z"/><path fill=#3875fe d="M3082 2934l-41 34 31-77 41-40z"/><path fill=#3e6fff d="M3041 2968l-41 33 31-70 41-40z"/><path fill=#4563fd d="M3000 3001l-41 33 31-62 41-41z"/><path fill=#465efb d="M2959 3034l-41 34 31-56 41-40z"/><path fill=#4758f8 d="M2918 3068l-41 33 31-49 41-40z"/><path fill=#4852f4 d="M2877 3101l-42 33 32-41 41-41z"/><path fill=#484df0 d="M2835 3134l-41 34 32-35 41-40z"/><path fill=#4747eb d="M2794 3168l-41 33 31-27 42-41z"/><path fill=#463cde d="M2712 3234l-41 34 31-14 41-40z"/><path fill=#4332cb d="M2671 3268l-41 33 31-6 41-41z"/><path fill=#422ec0 d="M2630 3301l-41 34 31 0 41-40z"/><path fill=#f6ef20 d="M4100 1882l-41 40 31-480 41-54z"/><path fill=#f5e327 d="M4059 1922l-42 41 32-467 41-54z"/><path fill=#f7dc2a d="M4017 1963l-41 40 32-453 41-54z"/><path fill=#fccf30 d="M3976 2003l-41 40 32-440 41-53z"/><path fill=#fec338 d="M3935 2043l-41 41 31-427 42-54z"/><path fill=#febe3c d="M3894 2084l-41 40 31-413 41-54z"/><path fill=#f0ba36 d="M3853 2124l-41 41 31-401 41-53z"/><path fill=#e6bb2d d="M3812 2165l-41 40 31-387 41-54z"/><path fill=#d1bf27 d="M3771 2205l-41 40 31-373 41-54z"/><path fill=#b9c431 d="M3730 2245l-41 41 31-360 41-54z"/><path fill=#abc739 d="M3689 2286l-41 40 31-347 41-53z"/><path fill=#8fcb4e d="M3648 2326l-42 40 32-333 41-54z"/><path fill=#72cd64 d="M3606 2366l-41 41 32-320 41-54z"/><path fill=#64cd6f d="M3565 2407l-41 40 32-306 41-54z"/><path fill=#4acb84 d="M3524 2447l-41 40 31-293 42-53z"/><path fill=#37c897 d="M3483 2487l-41 41 31-280 41-54z"/><path fill=#31c69f d="M3442 2528l-41 40 31-266 41-54z"/><path fill=#24c1ae d="M3401 2568l-41 40 31-252 41-54z"/><path fill=#0bbdbd d="M3360 2608l-41 41 31-240 41-53z"/><path fill=#02bac3 d="M3319 2649l-41 40 31-226 41-54z"/><path fill=#08b5d0 d="M3278 2689l-41 41 31-213 41-54z"/><path fill=#18addb d="M3237 2730l-42 40 32-200 41-53z"/><path fill=#1ca9df d="M3195 2770l-41 40 32-186 41-54z"/><path fill=#23a0e5 d="M3154 2810l-41 41 32-173 41-54z"/><path fill=#2797eb d="M3113 2851l-41 40 31-159 42-54z"/><path fill=#2b91ef d="M3072 2891l-41 40 31-146 41-53z"/><path fill=#2e87f7 d="M3031 2931l-41 41 31-133 41-54z"/><path fill=#2f81fa d="M2990 2972l-41 40 31-119 41-54z"/><path fill=#3875fe d="M2949 3012l-41 40 31-105 41-54z"/><path fill=#4269fe d="M2908 3052l-41 41 31-93 41-53z"/><path fill=#4563fd d="M2867 3093l-41 40 31-79 41-54z"/><path fill=#4758f8 d="M2826 3133l-42 41 32-66 41-54z"/><path fill=#484df0 d="M2784 3174l-41 40 32-53 41-53z"/><path fill=#4747eb d="M2743 3214l-41 40 32-39 41-54z"/><path fill=#463cde d="M2702 3254l-41 41 31-26 42-54z"/><path fill=#4332cb d="M2661 3295l-41 40 31-12 41-54z"/><path fill=#422ec0 d="M2620 3335l-41 40 31 1 41-53z"/><path fill=#3e26a8 d="M2579 3375l-41 41 31 14 41-54z"/><path fill=#3e26a8 d="M2610 3376l-41 54 61 29 42-367z"/></g><path d="M76.2 259.4L76.2 69.9" stroke="#c6c6c6" stroke-width="1.5" fill="none"/><path d="M263.8 346.2L510.4 280.7M263.8 346.2L76.2 259.4M263.8 346.2L270.2 349.1M313.1 333.1L319.5 336.0M362.4 320.0L368.8 322.9M411.8 306.9L418.1 309.8M461.1 293.8L467.4 296.7M510.4 280.7L516.8 283.6M263.8 346.2L257.0 348.0M170.0 302.8L163.2 304.6M76.2 259.4L69.4 261.2M76.2 259.4L69.8 256.5M76.2 212.0L69.8 209.1M76.2 164.6L69.8 161.7M76.2 117.3L69.8 114.3M76.2 69.9L69.8 67.0" stroke="#3a3a3a" stroke-width="0.8" fill="none"/><text x="275.3" y="366.0" font-size="13.4" text-anchor="start">0</text><text x="324.6" y="352.9" font-size="13.4" text-anchor="start">0.2</text><text x="373.9" y="339.8" font-size="13.4" text-anchor="start">0.4</text><text x="423.3" y="326.7" font-size="13.4" text-anchor="start">0.6</text><text x="472.6" y="313.6" font-size="13.4" text-anchor="start">0.8</text><text x="521.9" y="300.5" font-size="13.4" text-anchor="start">1</text><text x="251.8" y="364.0" font-size="13.4" text-anchor="end">0</text><text x="158.0" y="320.6" font-size="13.4" text-anchor="end">0.5</text><text x="64.2" y="277.2" font-size="13.4" text-anchor="end">1</text><text x="64.4" y="260.4" font-size="13.4" text-anchor="end">0</text><text x="64.4" y="213.0" font-size="13.4" text-anchor="end">0.2</text><text x="64.4" y="165.6" font-size="13.4" text-anchor="end">0.4</text><text x="64.4" y="118.3" font-size="13.4" text-anchor="end">0.6</text><text x="64.4" y="70.9" font-size="13.4" text-anchor="end">0.8</text><text x="370.8" y="369.4" class="gk" text-anchor="middle">α</text><text x="171.6" y="364.4" class="gk" text-anchor="middle">κ</text><text transform="translate(30.1 165.8) rotate(-90)" font-size="14.7" text-anchor="middle">R<tspan font-size="11.7" dy="7">0</tspan></text>
<path d="M843.7 347.9L681.6 259.6M947.6 314.2L785.5 225.9M1051.5 280.6L889.4 192.3M843.7 347.9L1051.5 280.6M762.7 303.8L970.5 236.4M681.6 259.6L889.4 192.3M681.6 259.6L681.6 69.6M785.5 225.9L785.5 35.9M889.4 192.3L889.4 2.3M681.6 259.6L889.4 192.3M681.6 213.8L889.4 146.5M681.6 168.0L889.4 100.7M681.6 122.2L889.4 54.9M681.6 76.4L889.4 9.1M1051.5 280.6L1051.5 90.6M970.5 236.4L970.5 46.4M889.4 192.3L889.4 2.3M889.4 192.3L1051.5 280.6M889.4 146.5L1051.5 234.8M889.4 100.7L1051.5 189.0M889.4 54.9L1051.5 143.2M889.4 9.1L1051.5 97.4" stroke="#e1e1e1" stroke-width="1.1" fill="none"/><g transform="scale(0.1)" stroke="#000" stroke-width="5" stroke-linejoin="round" fill="none"><g stroke-width="6"><path fill=#4269fe stroke=#4269fe d="M8894 1542l-35 17 27 9 35-17zM8921 1551l-69 35 27 9 69-36zM8948 1559l-104 54 27 8 104-53zM8975 1568l-138 71 27 9 138-72zM9002 1576l-173 90 27 9 173-91zM8994 1602l-173 91 27 8 173-91zM8987 1629l-139 72 27 9 139-74zM8979 1655l-138 73 27 8 138-73zM8972 1681l-139 74 27 8 139-74zM8964 1707l-139 75 27 8 139-75zM8956 1734l-138 74 27 8 138-75zM8949 1760l-139 75 27 8 139-76zM8941 1786l-138 76 27 8 138-77zM8934 1812l-139 77 27 8 139-78zM8926 1839l-139 77 27 7 139-77zM8918 1865l-104 58 27 8 104-59zM8911 1891l-104 59 27 7 104-59zM8903 1918l-104 59 27 7 104-60zM8895 1944l-103 60 27 7 103-60zM8888 1971l-104 60 27 7 104-61zM8880 1997l-104 61 27 7 104-62zM8873 2024l-104 61 27 6 104-62zM8865 2050l-104 62 27 6 104-62zM8857 2077l-104 62 27 6 104-63zM8884 2082l-104 63 27 6 104-64zM8877 2108l-104 65 27 5 104-65zM8869 2135l-104 65 27 5 104-66zM8862 2161l-104 66 27 5 104-67zM8854 2188l-104 66 27 5 104-67zM8846 2214l-104 68 27 4 104-68zM8839 2241l-104 68 27 4 104-69zM8831 2267l-104 70 27 4 104-71zM8823 2294l-69 47 27 3 69-47zM8816 2321l-69 47 27 3 69-48zM8808 2347l-69 49 27 3 69-49zM8801 2374l-70 49 27 3 70-50zM8793 2401l-69 50 27 2 69-50zM8785 2428l-69 51 27 2 69-52zM8778 2455l-70 52 27 2 70-53zM8770 2482l-69 53 27 2 69-54zM8763 2510l-35 27 27 0 35-27zM8755 2537l-35 28 27 0 35-28zM8782 2537l-69 56 27 0 69-58zM8774 2564l-69 58 27-1 69-59zM8767 2591l-70 59 27-1 70-61zM8759 2619l-69 61 27-2 69-63zM8751 2647l-69 62 27-2 69-64zM8744 2675l-35 32 27-3 35-33zM8736 2704l-34 33 27-4 34-34zM8729 2733l-35 35 27-4 35-36zM8721 2764l-35 35 27-4 35-37zM8748 2758l-35 37 27-5 35-38zM8740 2790l-34 38 27-5 34-39zM8733 2823l-35 40 27-3 35-41zM8725 2860l-35 41 28-8 34-42zM8752 2851l-34 42 27 13 34-43zM8814 2820l-35 43 27 19 35-42zM8841 2840l-35 42 27 43 35-41zM9041 2682l-35 41 27 152 35-33z"/><path fill=#4563fd stroke=#4563fd d="M8859 1559l-173 88 27 10 173-89zM8852 1586l-173 88 27 10 173-89zM8844 1613l-138 71 27 9 138-72zM8837 1639l-139 72 27 9 139-72zM8829 1666l-139 72 27 9 139-72zM8821 1693l-138 72 27 9 138-73zM8848 1701l-173 91 27 9 173-91zM8841 1728l-139 73 27 9 139-74zM8833 1755l-138 74 27 8 138-74zM8825 1782l-138 74 27 8 138-74zM8818 1808l-139 75 27 9 139-76zM8810 1835l-138 75 27 9 138-76zM8803 1862l-139 76 27 8 139-76zM8795 1889l-104 57 27 8 104-57zM8787 1916l-104 58 27 8 104-59zM8814 1923l-138 78 27 8 138-78zM8807 1950l-139 79 27 7 139-79zM8799 1977l-138 79 27 8 138-80zM8792 2004l-104 60 27 7 104-60zM8784 2031l-104 60 27 8 104-61zM8776 2058l-104 61 27 7 104-61zM8769 2085l-104 62 27 7 104-63zM8761 2112l-104 62 27 7 104-63zM8753 2139l-103 63 27 7 103-64zM8780 2145l-103 64 27 6 103-64zM8773 2173l-104 64 27 6 104-65zM8765 2200l-104 65 27 6 104-66zM8758 2227l-104 66 27 6 104-67zM8750 2254l-104 67 27 5 104-67zM8742 2282l-69 44 27 6 69-46zM8735 2309l-69 46 27 5 69-47zM8727 2337l-69 46 27 5 69-47zM8754 2341l-104 70 27 5 104-72zM8747 2368l-104 71 27 5 104-73zM8739 2396l-104 72 27 4 104-73zM8731 2423l-69 49 27 4 69-50zM8724 2451l-70 50 27 3 70-51zM8716 2479l-69 51 27 3 69-52zM8708 2507l-69 52 27 3 69-53zM8701 2535l-69 53 27 3 69-54zM8728 2537l-69 54 27 1 69-55zM8720 2565l-69 55 27 1 69-56zM8713 2593l-70 56 27 2 70-58zM8705 2622l-69 57 27 1 69-59zM8697 2650l-34 30 27 0 34-31zM8690 2680l-35 30 27-1 35-31zM8682 2709l-34 32 27-1 34-33zM8709 2707l-69 65 27-2 69-66zM8702 2737l-35 33 27-2 35-35zM8694 2768l-35 34 27-3 35-35zM8686 2799l-34 36 27-3 34-37zM8713 2795l-69 74 27-3 69-76zM8706 2828l-35 38 27-3 35-40zM8698 2863l-35 39 27-1 35-41zM8718 2893l-35 43 27 13 35-43zM8779 2863l-34 43 27 19 34-43zM8806 2882l-34 43 27 40 34-40zM9006 2723l-34 40 27 145 34-33z"/><path fill=#465efb stroke=#465efb d="M8686 1647l-138 70 27 10 138-70zM8679 1674l-139 71 27 10 139-71zM8706 1684l-174 88 27 10 174-89zM8698 1711l-173 89 27 10 173-90zM8690 1738l-138 72 27 9 138-72zM8683 1765l-139 72 27 10 139-73zM8675 1792l-138 73 27 10 138-74zM8702 1801l-173 92 27 9 173-92zM8695 1829l-139 73 27 9 139-74zM8687 1856l-139 74 27 9 139-75zM8679 1883l-138 75 27 9 138-75zM8672 1910l-139 76 27 9 139-76zM8664 1938l-104 57 27 9 104-58zM8691 1946l-138 77 27 8 138-77zM8683 1974l-138 77 27 8 138-77zM8676 2001l-139 78 27 8 139-78zM8668 2029l-104 58 27 9 104-60zM8661 2056l-104 59 27 9 104-60zM8688 2064l-139 79 27 9 139-81zM8680 2091l-139 81 28 8 138-81zM8672 2119l-103 61 27 8 103-62zM8665 2147l-104 61 27 8 104-62zM8657 2174l-104 62 27 8 104-63zM8650 2202l-104 63 27 7 104-63zM8677 2209l-104 63 27 7 104-64zM8669 2237l-104 64 27 7 104-65zM8661 2265l-104 65 27 6 104-65zM8654 2293l-104 65 27 7 104-66zM8646 2321l-69 44 27 6 69-45zM8673 2326l-104 68 27 6 104-68zM8666 2355l-104 68 27 6 104-69zM8658 2383l-104 69 27 6 104-70zM8650 2411l-69 47 27 5 69-47zM8643 2439l-70 48 27 5 70-48zM8635 2468l-69 48 27 6 69-50zM8662 2472l-104 74 27 5 104-75zM8654 2501l-69 50 27 4 69-51zM8647 2530l-69 51 27 4 69-52zM8639 2559l-69 52 27 4 69-53zM8632 2588l-35 27 27 3 35-27zM8659 2591l-70 54 27 2 70-55zM8651 2620l-69 55 27 3 69-57zM8643 2649l-69 57 27 2 69-57zM8636 2679l-35 29 27 2 35-30zM8663 2680l-69 59 27 2 69-61zM8655 2710l-69 61 27 1 69-63zM8648 2741l-35 31 27 0 35-32zM8640 2772l-35 32 27 0 35-34zM8667 2770l-69 67 27-1 69-68zM8659 2802l-34 34 27-1 34-36zM8652 2835l-35 35 27-1 35-37zM8644 2869l-35 36 27-1 35-38zM8671 2866l-35 38 27-2 35-39zM8663 2902l-34 40 27 0 34-41zM8690 2901l-34 41 27-6 35-43zM8745 2906l-35 43 27 18 35-42zM8772 2925l-35 42 27 38 35-40z"/><path fill=#4758f8 stroke=#4758f8 d="M8548 1717l-174 88 28 11 173-89zM8540 1745l-173 88 27 11 173-89zM8532 1772l-138 72 27 10 138-72zM8525 1800l-139 72 27 10 139-72zM8552 1810l-173 90 27 10 173-91zM8544 1837l-138 73 27 10 138-73zM8537 1865l-139 73 27 10 139-73zM8529 1893l-139 73 27 10 139-74zM8556 1902l-173 93 27 9 173-93zM8548 1930l-138 74 27 10 138-75zM8541 1958l-139 75 27 9 139-75zM8533 1986l-138 75 27 10 138-76zM8560 1995l-138 76 27 9 138-76zM8553 2023l-139 76 27 9 139-77zM8545 2051l-139 77 27 9 139-78zM8537 2079l-104 58 27 9 104-59zM8564 2087l-138 79 27 9 138-79zM8557 2115l-139 79 27 9 139-79zM8549 2143l-104 60 27 9 104-60zM8541 2172l-103 60 27 9 104-61zM8569 2180l-139 81 27 9 139-82zM8561 2208l-104 62 27 8 104-62zM8553 2236l-104 63 27 8 104-63zM8546 2265l-104 63 27 8 104-64zM8573 2272l-104 64 27 8 104-65zM8565 2301l-104 64 27 8 104-65zM8557 2330l-103 64 27 8 103-66zM8550 2358l-69 44 27 7 69-44zM8577 2365l-104 67 27 7 104-68zM8569 2394l-104 67 27 7 104-68zM8562 2423l-70 45 27 7 70-46zM8554 2452l-69 46 27 7 69-47zM8581 2458l-104 70 27 7 104-72zM8573 2487l-69 48 27 6 69-49zM8566 2516l-70 49 28 6 69-49zM8558 2546l-69 49 27 6 69-50zM8585 2551l-69 50 27 5 69-51zM8578 2581l-70 51 27 5 70-52zM8570 2611l-69 52 27 4 69-52zM8597 2615l-69 52 27 5 69-54zM8589 2645l-69 54 27 4 69-56zM8582 2675l-70 55 27 4 70-56zM8574 2706l-35 28 27 3 35-29zM8601 2708l-69 58 27 3 69-59zM8594 2739l-70 60 27 3 70-61zM8586 2771l-35 31 27 1 35-31zM8613 2772l-69 63 27 1 69-64zM8605 2804l-34 32 27 1 34-33zM8598 2837l-35 33 27 1 35-35zM8625 2836l-70 69 27 1 70-71zM8617 2870l-35 36 27-1 35-36zM8609 2905l-34 37 27 0 34-38zM8636 2904l-34 38 27 0 34-40zM8629 2942l-35 39 27 1 35-40zM8656 2942l-35 40 27-3 35-43zM8683 2936l-35 43 27 13 35-43zM8710 2949l-35 43 27 18 35-43zM8737 2967l-35 43 27 36 35-41zM8902 2844l-34 40 27 122 34-33z"/><path fill=#4852f4 stroke=#4852f4 d="M8374 1805l-173 88 27 11 174-88zM8367 1833l-139 71 27 11 139-71zM8394 1844l-173 88 27 11 173-89zM8386 1872l-173 89 27 11 173-90zM8379 1900l-139 72 27 10 139-72zM8406 1910l-173 90 27 11 173-91zM8398 1938l-138 73 27 10 138-73zM8390 1966l-138 73 27 11 138-74zM8383 1995l-139 73 27 11 139-75zM8410 2004l-139 75 27 10 139-75zM8402 2033l-138 74 27 11 138-76zM8395 2061l-104 57 27 10 104-57zM8422 2071l-139 76 27 9 139-76zM8414 2099l-139 77 28 10 138-78zM8406 2128l-103 58 27 9 103-58zM8433 2137l-138 78 27 9 138-78zM8426 2166l-104 58 27 10 104-59zM8418 2194l-104 60 27 9 104-60zM8445 2203l-138 80 27 9 138-80zM8438 2232l-104 60 27 10 104-61zM8430 2261l-104 61 27 9 104-61zM8457 2270l-104 61 27 9 104-62zM8449 2299l-104 62 27 9 104-63zM8442 2328l-104 62 27 9 104-63zM8469 2336l-104 63 27 9 104-64zM8461 2365l-104 64 27 9 104-65zM8454 2394l-70 44 27 8 70-44zM8481 2402l-104 66 27 8 104-67zM8473 2432l-104 66 27 8 104-67zM8465 2461l-69 45 27 8 69-46zM8492 2468l-104 69 27 7 104-69zM8485 2498l-104 69 27 8 104-70zM8477 2528l-69 47 27 7 69-47zM8504 2535l-104 71 27 7 104-72zM8496 2565l-69 48 27 7 70-49zM8489 2595l-69 49 27 7 69-50zM8516 2601l-69 50 27 6 69-51zM8508 2632l-69 50 27 6 69-51zM8501 2663l-70 51 27 6 70-53zM8528 2667l-70 53 27 6 70-54zM8520 2699l-69 54 27 5 69-55zM8512 2730l-34 28 27 4 34-28zM8539 2734l-69 57 27 4 69-58zM8532 2766l-69 58 27 4 69-59zM8524 2799l-34 29 27 4 34-30zM8551 2802l-69 60 27 4 69-63zM8544 2835l-35 31 27 3 35-33zM8571 2836l-70 65 27 2 70-66zM8563 2870l-35 33 27 2 35-34zM8555 2905l-34 34 27 2 34-35zM8582 2906l-34 35 27 1 34-37zM8575 2942l-35 37 27 1 35-38zM8602 2942l-35 38 27 1 35-39zM8594 2981l-34 40 27 2 34-41zM8621 2982l-34 41 27-2 34-42zM8648 2979l-34 42 27 13 34-42zM8675 2992l-34 42 27 18 34-42zM8702 3010l-34 42 27 34 34-40zM8868 2884l-69 81 27 106 69-65z"/><path fill=#484df0 stroke=#484df0 d="M8201 1893l-138 70 27 12 138-71zM8228 1904l-173 88 27 11 173-88zM8221 1932l-173 89 27 11 173-89zM8213 1961l-138 71 27 12 138-72zM8240 1972l-173 90 27 11 173-91zM8233 2000l-139 73 27 11 139-73zM8260 2011l-174 91 27 11 174-92zM8252 2039l-139 74 27 11 139-74zM8244 2068l-138 74 27 11 138-74zM8271 2079l-138 74 27 11 138-75zM8264 2107l-139 75 27 11 139-75zM8291 2118l-139 75 27 10 139-75zM8283 2147l-138 75 27 11 138-77zM8275 2176l-103 57 27 10 104-57zM8303 2186l-139 77 27 10 139-78zM8295 2215l-104 58 27 10 104-59zM8322 2224l-139 79 27 10 139-79zM8314 2254l-138 79 27 10 138-80zM8307 2283l-104 60 27 10 104-61zM8334 2292l-139 81 27 10 139-81zM8326 2322l-104 61 27 10 104-62zM8353 2331l-138 82 27 10 138-83zM8345 2361l-103 62 27 9 103-62zM8338 2390l-104 63 27 10 104-64zM8365 2399l-104 64 27 9 104-64zM8357 2429l-104 64 27 10 104-65zM8384 2438l-104 65 27 9 104-66zM8377 2468l-104 65 27 9 104-66zM8369 2498l-69 44 27 9 69-45zM8396 2506l-104 68 27 8 104-68zM8388 2537l-69 45 27 8 69-46zM8381 2567l-69 47 27 8 69-47zM8408 2575l-69 47 27 8 69-48zM8400 2606l-69 48 27 7 69-48zM8427 2613l-104 73 27 7 104-73zM8420 2644l-70 49 27 8 70-50zM8447 2651l-104 75 27 7 104-76zM8439 2682l-69 51 27 7 69-52zM8431 2714l-69 52 27 7 69-53zM8458 2720l-69 53 27 7 69-54zM8451 2753l-69 54 27 6 69-55zM8478 2758l-69 55 27 6 69-57zM8470 2791l-69 56 27 6 69-58zM8463 2824l-35 29 27 5 35-30zM8490 2828l-70 60 27 5 70-61zM8482 2862l-35 31 27 4 35-31zM8509 2866l-69 63 27 4 69-64zM8501 2901l-34 32 27 4 34-34zM8528 2903l-69 67 27 4 69-69zM8521 2939l-35 35 27 3 35-36zM8548 2941l-69 71 27 4 69-74zM8540 2979l-34 37 27 2 34-38zM8567 2980l-34 38 27 3 34-40zM8560 3021l-35 39 27 4 35-41zM8587 3023l-35 41 27 0 35-43zM8614 3021l-35 43 27 13 35-43zM8641 3034l-35 43 27 18 35-43zM8668 3052l-35 43 27 32 35-41zM8799 2965l-35 40 27 99 35-33z"/><path fill=#4747eb stroke=#4747eb d="M8063 1963l-173 88 27 12 173-88zM8055 1992l-173 89 27 11 173-89zM8048 2021l-139 71 27 12 139-72zM8075 2032l-174 90 27 11 174-89zM8067 2062l-139 71 27 12 139-72zM8094 2073l-139 72 27 11 139-72zM8086 2102l-138 73 27 11 138-73zM8113 2113l-138 73 27 11 138-73zM8106 2142l-139 74 27 11 139-74zM8133 2153l-139 74 27 11 139-74zM8125 2182l-138 75 27 11 138-75zM8152 2193l-138 75 27 11 138-76zM8145 2222l-139 76 27 11 139-76zM8172 2233l-139 76 27 11 139-77zM8164 2263l-139 77 27 11 139-78zM8191 2273l-139 78 27 10 139-78zM8183 2303l-138 78 27 11 138-79zM8176 2333l-104 59 27 11 104-60zM8203 2343l-104 60 27 10 104-60zM8195 2373l-104 60 27 11 104-61zM8222 2383l-104 61 27 10 104-61zM8215 2413l-104 62 27 10 104-62zM8242 2423l-104 62 27 10 104-63zM8234 2453l-104 63 27 10 104-63zM8261 2463l-104 63 27 10 104-64zM8253 2493l-104 65 27 10 104-65zM8280 2503l-104 65 27 9 104-65zM8273 2533l-104 66 27 10 104-67zM8300 2542l-104 67 27 9 104-67zM8292 2574l-104 67 27 9 104-68zM8319 2582l-104 68 27 10 104-70zM8312 2614l-70 46 27 9 70-47zM8339 2622l-104 70 27 9 104-71zM8331 2654l-69 47 27 9 69-49zM8323 2686l-69 48 27 9 69-50zM8350 2693l-69 50 27 8 69-50zM8343 2726l-70 50 27 8 70-51zM8370 2733l-70 51 28 8 69-52zM8362 2766l-69 52 27 8 69-53zM8389 2773l-69 53 27 8 69-54zM8382 2807l-70 54 27 7 70-55zM8409 2813l-70 55 27 7 70-56zM8401 2847l-35 28 27 7 35-29zM8428 2853l-69 58 27 6 69-59zM8420 2888l-34 29 27 6 34-30zM8447 2893l-69 61 27 6 69-63zM8440 2929l-35 31 27 5 35-32zM8467 2933l-70 65 27 5 70-66zM8459 2970l-35 33 28 5 34-34zM8486 2974l-34 34 27 4 34-35zM8479 3012l-35 36 27 4 35-36zM8506 3016l-35 36 27 5 35-39zM8533 3018l-70 77 27 5 70-79zM8525 3060l-35 40 27 5 35-41zM8552 3064l-35 41 27 2 35-43zM8579 3064l-35 43 27 13 35-43zM8606 3077l-35 43 27 17 35-42zM8633 3095l-35 42 27 30 35-40zM8764 3005l-35 41 27 91 35-33z"/><path fill=#4741e5 stroke=#4741e5 d="M7890 2051l-174 88 27 12 174-88zM7882 2081l-139 70 27 12 139-71zM7909 2092l-173 89 27 12 173-89zM7901 2122l-138 71 27 12 138-72zM7928 2133l-138 72 27 12 138-72zM7955 2145l-173 90 27 12 173-91zM7948 2175l-139 72 27 12 139-73zM7975 2186l-173 92 27 12 173-93zM7967 2216l-138 74 27 11 138-74zM7994 2227l-138 74 27 12 138-75zM7987 2257l-139 75 27 12 139-76zM8014 2268l-139 76 27 11 139-76zM8006 2298l-104 57 27 12 104-58zM8033 2309l-138 77 27 11 138-77zM8025 2340l-103 57 27 12 103-58zM8052 2351l-138 77 27 12 138-79zM8045 2381l-104 59 27 11 104-59zM8072 2392l-104 59 27 11 104-59zM8099 2403l-139 79 27 12 139-81zM8091 2433l-104 61 27 11 104-61zM8118 2444l-138 81 27 11 138-82zM8111 2475l-104 61 27 11 104-62zM8138 2485l-104 62 27 11 104-63zM8130 2516l-104 63 27 11 104-64zM8157 2526l-104 64 27 10 104-64zM8149 2558l-103 64 27 10 103-64zM8176 2568l-103 64 27 11 103-66zM8169 2599l-69 44 27 10 69-44zM8196 2609l-104 66 27 11 104-68zM8188 2641l-69 45 27 10 69-46zM8215 2650l-104 69 27 10 104-69zM8242 2660l-104 69 27 10 104-70zM8235 2692l-70 47 27 10 70-48zM8262 2701l-104 71 27 10 104-72zM8254 2734l-69 48 27 10 69-49zM8281 2743l-69 49 27 9 69-50zM8273 2776l-69 50 27 9 69-51zM8300 2784l-69 51 27 9 70-52zM8293 2818l-69 52 27 9 69-53zM8320 2826l-69 53 27 9 69-54zM8312 2861l-34 27 27 8 34-28zM8339 2868l-69 55 27 9 69-57zM8366 2875l-69 57 27 8 69-58zM8359 2911l-70 58 27 8 70-60zM8386 2917l-70 60 27 7 70-61zM8378 2954l-35 30 27 7 35-31zM8405 2960l-69 62 27 8 69-65zM8397 2998l-34 32 27 6 34-33zM8424 3003l-34 33 27 6 35-34zM8452 3008l-70 69 27 6 70-71zM8444 3048l-35 35 27 6 35-37zM8471 3052l-35 37 27 6 35-38zM8463 3095l-34 38 27 6 34-39zM8490 3100l-34 39 27 7 34-41zM8517 3105l-34 41 27 3 34-42zM8544 3107l-34 42 27 14 34-43zM8571 3120l-34 43 27 17 34-43zM8598 3137l-34 43 27 27 34-40zM8729 3046l-69 81 27 75 69-65z"/><path fill=#463cde stroke=#463cde d="M7716 2139l-138 70 27 13 138-71zM7743 2151l-173 89 27 12 173-89zM7736 2181l-139 71 27 13 139-72zM7763 2193l-139 72 27 12 139-72zM7790 2205l-173 90 27 13 173-91zM7782 2235l-138 73 27 12 138-73zM7809 2247l-138 73 27 13 138-74zM7802 2278l-139 73 27 12 139-73zM7829 2290l-139 73 27 13 139-75zM7856 2301l-139 75 27 12 139-75zM7848 2332l-138 75 27 12 138-75zM7875 2344l-138 75 27 12 138-76zM7902 2355l-138 76 27 12 138-76zM7895 2386l-139 76 27 13 139-78zM7922 2397l-139 78 27 12 139-78zM7914 2428l-104 59 27 12 104-59zM7941 2440l-139 78 27 12 139-79zM7968 2451l-139 79 27 12 139-80zM7960 2482l-104 60 27 12 104-60zM7987 2494l-138 80 27 12 138-81zM7980 2525l-104 61 27 12 104-62zM8007 2536l-104 62 27 11 104-62zM8034 2547l-139 83 27 12 139-84zM8026 2579l-104 63 27 11 104-63zM8053 2590l-104 63 27 11 104-64zM8046 2622l-70 42 27 12 70-44zM8073 2632l-104 65 27 12 104-66zM8100 2643l-104 66 27 11 104-67zM8092 2675l-69 45 27 11 69-45zM8119 2686l-104 67 27 11 104-68zM8111 2719l-69 45 27 11 69-46zM8138 2729l-69 46 27 11 69-47zM8165 2739l-103 70 27 11 103-71zM8158 2772l-69 48 27 11 69-49zM8185 2782l-69 49 27 10 69-49zM8212 2792l-104 73 27 11 104-75zM8204 2826l-69 50 27 10 69-51zM8231 2835l-69 51 27 10 69-52zM8224 2870l-70 52 27 10 70-53zM8251 2879l-70 53 27 10 70-54zM8278 2888l-70 54 27 9 70-55zM8270 2923l-69 56 27 9 69-56zM8297 2932l-69 56 27 9 69-57zM8289 2969l-34 28 27 9 34-29zM8316 2977l-34 29 27 9 34-31zM8343 2984l-69 61 27 9 69-63zM8336 3022l-35 32 27 8 35-32zM8363 3030l-35 32 27 8 35-34zM8390 3036l-69 67 27 8 69-69zM8382 3077l-34 34 27 8 34-36zM8409 3083l-34 36 27 7 34-37zM8436 3089l-34 37 27 7 34-38zM8429 3133l-35 38 27 8 35-40zM8456 3139l-35 40 27 8 35-41zM8483 3146l-35 41 27 5 35-43zM8510 3149l-35 43 27 14 35-43zM8537 3163l-35 43 27 16 35-42zM8564 3180l-35 42 27 26 35-41zM8660 3127l-35 40 27 68 35-33z"/><path fill=#4537d5 stroke=#4537d5 d="M7578 2209l-173 88 27 13 173-88zM7570 2240l-138 70 27 13 138-71zM7597 2252l-173 89 27 13 173-89zM7624 2265l-173 89 27 13 173-90zM7617 2295l-139 72 27 13 139-72zM7644 2308l-139 72 27 13 139-73zM7671 2320l-173 91 27 13 173-91zM7663 2351l-138 73 27 13 138-74zM7690 2363l-138 74 27 13 138-74zM7717 2376l-138 74 27 13 138-75zM7710 2407l-139 74 27 13 139-75zM7737 2419l-139 75 27 13 139-76zM7764 2431l-139 76 27 13 139-77zM7756 2462l-104 58 27 12 104-57zM7783 2475l-139 77 27 12 139-77zM7810 2487l-139 77 27 13 139-78zM7802 2518l-104 59 28 12 103-59zM7829 2530l-103 59 27 13 103-60zM7856 2542l-138 80 27 12 138-80zM7849 2574l-104 60 27 13 104-61zM7876 2586l-104 61 27 12 104-61zM7903 2598l-104 61 27 12 104-62zM7895 2630l-104 62 27 12 104-62zM7922 2642l-104 62 27 13 104-64zM7949 2653l-104 64 27 12 104-65zM7976 2664l-104 65 27 12 104-65zM7969 2697l-104 65 27 12 104-65zM7996 2709l-104 65 27 12 104-66zM8023 2720l-104 66 27 12 104-67zM8015 2753l-69 45 27 12 69-46zM8042 2764l-104 69 27 11 104-69zM8069 2775l-104 69 27 12 104-70zM8062 2809l-70 47 27 12 70-48zM8089 2820l-70 48 27 11 70-48zM8116 2831l-104 72 27 12 104-74zM8108 2865l-69 50 27 11 69-50zM8135 2876l-69 50 27 11 69-51zM8162 2886l-69 51 27 11 69-52zM8154 2922l-69 52 27 11 69-53zM8181 2932l-69 53 27 11 69-54zM8208 2942l-69 54 27 10 69-55zM8201 2979l-35 27 27 10 35-28zM8228 2988l-70 57 28 10 69-58zM8255 2997l-69 58 27 11 69-60zM8282 3006l-69 60 27 10 69-61zM8274 3045l-34 31 27 9 34-31zM8301 3054l-34 31 27 9 34-32zM8328 3062l-69 64 27 10 69-66zM8321 3103l-35 33 27 9 35-34zM8348 3111l-35 34 27 9 35-35zM8375 3119l-35 35 27 9 35-37zM8402 3126l-70 73 27 10 70-76zM8394 3171l-35 38 27 9 35-39zM8421 3179l-35 39 27 9 35-40zM8448 3187l-35 40 27 8 35-43zM8475 3192l-35 43 27 14 35-43zM8502 3206l-35 43 27 16 35-43zM8529 3222l-35 43 28 23 34-40zM8625 3167l-69 81 27 53 69-66z"/><path fill=#4332cb stroke=#4332cb d="M7405 2297l-173 88 27 14 173-89zM7432 2310l-173 89 27 13 173-89zM7424 2341l-138 71 27 14 138-72zM7451 2354l-138 72 27 13 138-72zM7478 2367l-173 90 27 14 173-91zM7505 2380l-173 91 27 13 173-91zM7498 2411l-139 73 27 13 139-73zM7525 2424l-139 73 27 14 139-74zM7552 2437l-139 74 27 13 139-74zM7579 2450l-139 74 27 13 139-74zM7571 2481l-139 75 28 14 138-76zM7598 2494l-138 76 27 13 138-76zM7625 2507l-138 76 27 13 138-76zM7652 2520l-138 76 27 13 138-77zM7644 2552l-103 57 27 14 103-59zM7671 2564l-103 59 27 13 103-59zM7698 2577l-138 78 27 13 139-79zM7726 2589l-139 79 27 14 139-80zM7718 2622l-104 60 27 13 104-61zM7745 2634l-104 61 27 13 104-61zM7772 2647l-104 61 27 13 104-62zM7799 2659l-139 82 27 13 139-83zM7791 2692l-104 62 27 13 104-63zM7818 2704l-104 63 27 13 104-63zM7845 2717l-104 63 27 13 104-64zM7872 2729l-104 64 28 13 103-65zM7865 2762l-69 44 27 12 69-44zM7892 2774l-104 66 27 13 104-67zM7919 2786l-104 67 27 13 104-68zM7946 2798l-104 68 27 12 104-68zM7938 2833l-69 45 27 13 69-47zM7965 2844l-69 47 27 12 69-47zM7992 2856l-69 47 27 12 69-47zM8019 2868l-104 71 27 12 104-72zM8012 2903l-70 48 27 13 70-49zM8039 2915l-70 49 27 12 70-50zM8066 2926l-70 50 27 12 70-51zM8093 2937l-70 51 27 12 70-52zM8085 2974l-69 52 27 12 69-53zM8112 2985l-69 53 27 12 69-54zM8139 2996l-69 54 27 11 69-55zM8166 3006l-69 55 27 12 69-57zM8158 3045l-34 28 27 11 35-29zM8186 3055l-35 29 27 11 35-29zM8213 3066l-70 59 27 11 70-60zM8240 3076l-70 60 27 12 70-63zM8267 3085l-70 63 27 11 70-65zM8259 3126l-35 33 27 10 35-33zM8286 3136l-35 33 27 11 35-35zM8313 3145l-35 35 27 10 35-36zM8340 3154l-69 71 27 11 69-73zM8332 3199l-34 37 27 11 34-38zM8359 3209l-34 38 27 11 34-40zM8386 3218l-34 40 27 10 34-41zM8413 3227l-34 41 27 9 34-42zM8440 3235l-34 42 27 15 34-43zM8467 3249l-34 43 27 15 34-42zM8494 3265l-34 42 27 21 35-40zM8556 3248l-34 40 27 45 34-32z"/><path fill=#422ec0 stroke=#422ec0 d="M7232 2385l-139 70 27 14 139-70zM7259 2399l-174 88 27 14 174-89zM7286 2412l-174 89 27 14 174-89zM7313 2426l-174 89 28 14 173-90zM7305 2457l-138 72 27 14 138-72zM7332 2471l-138 72 27 14 138-73zM7359 2484l-138 73 27 14 138-74zM7386 2497l-138 74 27 14 138-74zM7413 2511l-138 74 27 13 138-74zM7440 2524l-138 74 27 14 138-75zM7432 2556l-138 75 27 14 139-75zM7460 2570l-139 75 27 14 139-76zM7487 2583l-139 76 27 14 139-77zM7514 2596l-139 77 27 13 139-77zM7541 2609l-139 77 27 14 139-77zM7568 2623l-139 77 27 14 139-78zM7560 2655l-104 59 27 14 104-60zM7587 2668l-104 60 27 13 104-59zM7614 2682l-104 59 27 14 104-60zM7641 2695l-139 80 28 14 138-81zM7668 2708l-138 81 27 14 138-82zM7660 2741l-103 62 27 13 103-62zM7687 2754l-103 62 27 14 103-63zM7714 2767l-103 63 27 13 103-63zM7741 2780l-103 63 27 14 103-64zM7768 2793l-103 64 27 13 104-64zM7796 2806l-104 64 27 14 104-66zM7788 2840l-69 44 27 13 69-44zM7815 2853l-69 44 27 13 69-44zM7842 2866l-104 67 27 13 104-68zM7869 2878l-104 68 27 14 104-69zM7896 2891l-104 69 27 13 104-70zM7923 2903l-104 70 27 14 104-72zM7915 2939l-69 48 27 13 69-49zM7942 2951l-69 49 27 13 69-49zM7969 2964l-69 49 27 13 69-50zM7996 2976l-69 50 27 13 69-51zM8023 2988l-69 51 27 13 69-52zM8016 3026l-69 51 27 14 69-53zM8043 3038l-69 53 27 13 69-54zM8070 3050l-69 54 27 13 69-56zM8097 3061l-69 56 27 12 69-56zM8124 3073l-69 56 27 13 69-58zM8151 3084l-69 58 27 13 69-60zM8143 3125l-34 30 27 12 34-31zM8170 3136l-34 31 27 12 34-31zM8197 3148l-34 31 27 12 34-32zM8224 3159l-34 32 27 12 34-34zM8251 3169l-69 67 27 12 69-68zM8278 3180l-69 68 27 13 69-71zM8271 3225l-35 36 27 12 35-37zM8298 3236l-35 37 27 12 35-38zM8325 3247l-35 38 27 12 35-39zM8352 3258l-35 39 27 12 35-41zM8379 3268l-35 41 27 11 35-43zM8406 3277l-35 43 27 14 35-42zM8433 3292l-35 42 27 16 35-43zM8460 3307l-35 43 27 19 35-41zM8522 3288l-35 40 27 38 35-33z"/><path fill=#402ab4 stroke=#402ab4 d="M7093 2455l-173 88 27 15 173-89zM7085 2487l-138 71 27 14 138-71zM7112 2501l-138 71 27 15 138-72zM7139 2515l-138 72 27 14 139-72zM7167 2529l-139 72 27 14 139-72zM7194 2543l-139 72 27 15 139-73zM7221 2557l-139 73 27 14 139-73zM7248 2571l-139 73 27 14 139-73zM7275 2585l-139 73 27 15 139-75zM7302 2598l-139 75 27 14 139-75zM7294 2631l-139 75 27 14 139-75zM7321 2645l-139 75 27 15 139-76zM7348 2659l-139 76 27 14 139-76zM7375 2673l-139 76 28 15 138-78zM7402 2686l-138 78 27 14 138-78zM7429 2700l-138 78 27 14 138-78zM7456 2714l-138 78 27 15 138-79zM7483 2728l-138 79 27 14 138-80zM7510 2741l-138 80 27 14 138-80zM7502 2775l-103 60 27 15 104-61zM7530 2789l-104 61 27 14 104-61zM7557 2803l-104 61 27 14 104-62zM7584 2816l-104 62 27 15 104-63zM7611 2830l-104 63 27 14 104-64zM7638 2843l-104 64 27 14 104-64zM7665 2857l-104 64 27 14 104-65zM7692 2870l-104 65 27 15 104-66zM7719 2884l-104 66 27 14 104-67zM7746 2897l-104 67 27 14 104-68zM7738 2933l-69 45 27 14 69-46zM7765 2946l-69 46 27 14 69-46zM7792 2960l-69 46 27 14 69-47zM7819 2973l-69 47 27 14 69-47zM7846 2987l-69 47 27 14 69-48zM7873 3000l-69 48 27 14 69-49zM7900 3013l-69 49 27 14 69-50zM7927 3026l-69 50 27 14 69-51zM7954 3039l-69 51 27 13 69-51zM7947 3077l-70 52 27 15 70-53zM7974 3091l-70 53 27 14 70-54zM8001 3104l-70 54 27 14 70-55zM8028 3117l-70 55 27 14 70-57zM8055 3129l-70 57 27 14 70-58zM8082 3142l-70 58 27 14 70-59zM8109 3155l-70 59 27 14 70-61zM8136 3167l-70 61 27 14 70-63zM8163 3179l-70 63 27 13 70-64zM8190 3191l-70 64 27 14 70-66zM8182 3236l-35 33 27 14 35-35zM8209 3248l-35 35 27 13 35-35zM8236 3261l-35 35 27 14 35-37zM8263 3273l-35 37 28 13 34-38zM8290 3285l-34 38 27 14 34-40zM8317 3297l-34 40 27 13 34-41zM8344 3309l-34 41 27 13 34-43zM8371 3320l-34 43 27 14 34-43zM8398 3334l-34 43 27 15 34-42zM8425 3350l-34 42 27 17 34-40zM8487 3328l-69 81 27 23 69-66z"/><path fill=#3e26a8 stroke=#3e26a8 d="M6920 2543l-104 53 27 15 104-53zM6947 2558l-104 53 27 14 104-53zM6974 2572l-104 53 27 15 104-53zM7001 2587l-104 53 27 15 104-54zM7028 2601l-104 54 27 15 104-55zM7055 2615l-104 55 27 14 104-54zM7082 2630l-104 54 27 15 104-55zM7109 2644l-104 55 27 15 104-56zM7136 2658l-104 56 27 14 104-55zM7163 2673l-104 55 27 15 104-56zM7155 2706l-69 37 27 15 69-38zM7182 2720l-69 38 27 15 69-38zM7209 2735l-69 38 27 14 69-38zM7236 2749l-69 38 27 15 70-38zM7264 2764l-70 38 27 15 70-39zM7291 2778l-70 39 27 14 70-39zM7318 2792l-70 39 27 15 70-39zM7345 2807l-70 39 27 15 70-40zM7372 2821l-70 40 27 15 70-41zM7399 2835l-70 41 27 14 70-40zM7426 2850l-70 40 27 15 70-41zM7453 2864l-70 41 27 15 70-42zM7480 2878l-70 42 27 14 70-41zM7507 2893l-70 41 27 15 70-42zM7534 2907l-70 42 27 15 70-43zM7561 2921l-70 43 27 15 70-44zM7588 2935l-70 44 27 14 70-43zM7615 2950l-70 43 27 15 70-44zM7642 2964l-70 44 27 15 70-45zM7669 2978l-70 45 28 15 69-46zM7696 2992l-69 46 27 14 69-46zM7723 3006l-69 46 27 15 69-47zM7750 3020l-69 47 27 15 69-48zM7777 3034l-69 48 27 14 69-48zM7804 3048l-69 48 27 15 69-49zM7831 3062l-69 49 27 15 69-50zM7858 3076l-69 50 27 15 69-51zM7885 3090l-69 51 27 14 69-52zM7877 3129l-34 26 27 15 34-26zM7904 3144l-34 26 27 15 34-27zM7931 3158l-34 27 27 14 34-27zM7958 3172l-34 27 27 15 34-28zM7985 3186l-34 28 27 15 34-29zM8012 3200l-34 29 27 15 34-30zM8039 3214l-34 30 27 14 34-30zM8066 3228l-34 30 27 15 34-31zM8093 3242l-34 31 27 15 34-33zM8120 3255l-34 33 27 14 34-33zM8147 3269l-34 33 27 15 34-34zM8174 3283l-34 34 27 15 34-36zM8201 3296l-34 36 27 15 34-37zM8228 3310l-34 37 27 14 35-38zM8256 3323l-35 38 27 15 35-39zM8283 3337l-35 39 27 15 35-41zM8310 3350l-35 41 27 14 35-42zM8337 3363l-35 42 27 15 35-43zM8364 3377l-35 43 27 15 35-43zM8391 3392l-35 43 27 15 35-41zM8418 3409l-35 41 27 14 35-32zM8618 3268l-208 196 27 15 208-67z"/><path fill=#3e6fff stroke=#3e6fff d="M9029 1584l-35 18 27 8 35-18zM9056 1592l-69 37 27 7 69-36zM9083 1600l-104 55 27 8 104-56zM9110 1607l-138 74 27 8 138-75zM9103 1633l-139 74 27 8 139-75zM9095 1659l-139 75 27 7 139-75zM9087 1684l-138 76 27 7 138-76zM9080 1710l-139 76 27 7 139-76zM9072 1736l-138 76 27 7 138-77zM9064 1762l-138 77 27 7 138-78zM9057 1787l-139 78 27 7 139-78zM9049 1813l-138 78 27 7 138-79zM9042 1839l-139 79 27 6 139-79zM9034 1864l-139 80 27 7 139-81zM9026 1890l-138 81 27 6 138-81zM9019 1916l-139 81 27 6 139-82zM9011 1942l-138 82 27 5 138-82zM9004 1967l-139 83 27 6 139-84zM8996 1993l-139 84 27 5 139-85zM8954 2040l-70 42 27 5 70-43zM8946 2066l-69 42 27 5 69-43zM8938 2091l-69 44 27 4 69-43zM8931 2117l-69 44 27 4 69-44zM8923 2143l-69 45 27 4 69-45zM8916 2169l-70 45 27 4 70-46zM8908 2195l-69 46 27 3 69-46zM8900 2221l-69 46 27 3 69-46zM8893 2247l-70 47 27 3 70-48zM8885 2273l-69 48 27 2 69-48zM8877 2299l-69 48 27 3 69-50zM8870 2325l-69 49 27 2 69-50zM8862 2351l-69 50 27 2 69-51zM8855 2377l-70 51 27 1 70-52zM8847 2403l-69 52 27 1 69-53zM8839 2429l-69 53 27 1 69-54zM8832 2456l-69 54 27 0 69-56zM8824 2482l-69 55 27 0 69-57zM8817 2508l-35 29 27-2 35-29zM8809 2535l-35 29 27-2 35-30zM8801 2562l-34 29 27-3 34-30zM8794 2588l-35 31 27-4 35-31zM8786 2615l-35 32 27-4 35-32zM8778 2643l-34 32 27-4 34-34zM8771 2671l-35 33 27-5 35-34zM8798 2665l-69 68 27-5 69-71zM8790 2693l-69 71 27-6 69-73zM8783 2722l-35 36 27-6 35-38zM8775 2752l-35 38 27-6 35-40zM8767 2784l-34 39 27-4 34-41zM8760 2819l-35 41 27-9 35-43zM8787 2808l-35 43 27 12 35-43zM8875 2797l-34 43 27 44 34-40z"/><path fill=#3875fe stroke=#3875fe d="M9137 1614l-34 19 27 7 34-19zM9164 1621l-69 38 27 7 69-38zM9191 1628l-104 56 27 7 104-57zM9218 1634l-138 76 27 7 138-77zM9211 1659l-139 77 27 6 139-77zM9168 1704l-104 58 27 6 104-58zM9161 1729l-104 58 27 7 104-59zM9153 1754l-104 59 27 6 104-59zM9145 1780l-103 59 27 6 103-60zM9138 1805l-104 59 27 6 104-60zM9130 1830l-104 60 27 6 104-61zM9123 1855l-104 61 27 5 104-61zM9115 1880l-104 62 27 5 104-63zM9107 1905l-103 62 27 5 103-63zM9100 1930l-104 63 27 4 104-63zM9058 1976l-104 64 27 4 104-64zM9050 2001l-104 65 27 4 104-65zM9042 2027l-104 64 27 5 104-66zM9035 2052l-104 65 27 4 104-66zM9027 2077l-104 66 27 4 104-68zM9019 2102l-103 67 27 3 103-68zM9012 2127l-104 68 27 3 104-69zM9004 2152l-104 69 27 3 104-71zM8997 2177l-104 70 27 2 104-71zM8989 2202l-104 71 27 2 104-73zM8981 2226l-104 73 27 1 104-73zM8939 2276l-69 49 27 1 69-50zM8932 2301l-70 50 27 1 70-51zM8924 2326l-69 51 27 0 69-52zM8916 2351l-69 52 27 0 69-53zM8909 2376l-70 53 27 0 70-54zM8901 2402l-69 54 27-2 69-55zM8893 2427l-69 55 27-2 69-56zM8886 2452l-69 56 27-2 69-58zM8878 2477l-69 58 27-3 69-59zM8871 2502l-70 60 27-4 70-61zM8828 2558l-34 30 27-4 34-31zM8855 2553l-69 62 27-4 69-65zM8813 2611l-35 32 27-6 35-33zM8840 2604l-69 67 27-6 69-69zM8832 2630l-34 35 27-8 35-35zM8825 2657l-35 36 27-8 35-37zM8817 2685l-34 37 27-8 34-38zM8810 2714l-35 38 27-8 35-39zM8802 2744l-35 40 27-6 35-41zM8794 2778l-34 41 27-11 34-43zM8821 2765l-34 43 27 12 34-43zM8848 2777l-34 43 27 20 34-43zM8945 2712l-70 85 27 47 70-81z"/><path fill=#327cfc stroke=#327cfc d="M9245 1640l-34 19 27 6 34-19zM9272 1646l-104 58 27 6 104-59zM9299 1651l-138 78 27 6 138-79zM9292 1676l-139 78 27 6 139-79zM9284 1701l-139 79 27 5 139-80zM9242 1745l-104 60 27 5 104-61zM9234 1770l-104 60 27 5 104-61zM9227 1794l-104 61 27 5 104-62zM9219 1819l-104 61 27 4 104-62zM9211 1843l-104 62 27 4 104-63zM9204 1867l-104 63 27 4 104-63zM9161 1913l-103 63 27 4 103-64zM9154 1937l-104 64 27 4 104-65zM9146 1962l-104 65 27 3 104-66zM9139 1986l-104 66 27 3 104-67zM9131 2010l-104 67 27 2 104-67zM9123 2034l-104 68 27 2 104-68zM9081 2081l-69 46 27 2 69-46zM9073 2106l-69 46 27 1 69-47zM9066 2130l-69 47 27 1 69-48zM9058 2154l-69 48 27 0 69-48zM9051 2178l-70 48 27 1 70-49zM9043 2202l-104 74 27 0 104-75zM9001 2251l-69 50 27 0 69-51zM8993 2275l-69 51 27-1 69-51zM8986 2299l-70 52 27-1 70-53zM8978 2324l-69 52 27-1 69-54zM8970 2348l-69 54 27-3 69-55zM8928 2399l-35 28 27-3 35-29zM8955 2395l-69 57 27-4 69-58zM8905 2473l-34 29 27-5 34-30zM8898 2497l-35 30 27-5 35-32zM8882 2546l-34 32 27-7 34-33zM8867 2596l-35 34 28-8 34-36zM8860 2622l-35 35 27-9 35-37zM8852 2648l-35 37 27-9 35-39zM8844 2676l-34 38 27-9 34-39zM8837 2705l-35 39 27-7 35-40zM8829 2737l-35 41 27-13 35-42zM8856 2723l-35 42 27 12 35-43zM8883 2734l-35 43 27 20 35-42zM8979 2670l-34 42 27 51 34-40zM9180 2521l-35 40 27 183 35-33z"/><path fill=#2f81fa stroke=#2f81fa d="M9326 1656l-34 20 27 5 34-20zM9353 1661l-69 40 27 4 69-40zM9380 1665l-138 80 27 4 138-80zM9373 1689l-139 81 27 4 139-81zM9330 1733l-103 61 27 4 103-61zM9323 1757l-104 62 27 3 104-62zM9315 1781l-104 62 27 3 104-62zM9308 1805l-104 62 27 4 104-64zM9265 1849l-104 64 27 3 104-64zM9258 1873l-104 64 27 3 104-65zM9250 1897l-104 65 27 2 104-66zM9242 1920l-103 66 27 2 104-66zM9200 1966l-69 44 27 2 69-45zM9193 1990l-70 44 27 2 70-46zM9185 2013l-104 68 27 2 104-70zM9177 2036l-104 70 27 0 104-70zM9170 2060l-104 70 27 0 104-71zM9128 2107l-70 47 27 0 70-48zM9120 2130l-69 48 27 0 69-50zM9112 2153l-69 49 27-1 69-50zM9105 2176l-104 75 27-1 104-76zM9062 2224l-69 51 27-1 69-52zM9055 2248l-69 51 27-2 69-53zM9047 2271l-69 53 27-3 69-54zM9040 2294l-70 54 27-4 70-55zM9032 2316l-69 56 27-5 69-56zM8982 2390l-69 58 27-5 69-59zM8974 2413l-34 30 27-7 34-30zM8967 2436l-69 61 27-7 69-62zM8959 2459l-69 63 27-8 69-65zM8917 2514l-35 32 27-8 35-33zM8909 2538l-34 33 27-9 34-35zM8902 2562l-35 34 27-10 35-35zM8887 2611l-35 37 27-11 35-38zM8879 2637l-35 39 27-10 35-40zM8871 2666l-34 39 27-8 34-41zM8918 2692l-35 42 27 21 35-43zM9014 2627l-35 43 27 53 35-41z"/><path fill=#2e87f7 stroke=#2e87f7 d="M9407 1669l-34 20 27 4 34-21zM9434 1672l-104 61 27 4 104-62zM9427 1696l-104 61 27 3 104-62zM9419 1719l-104 62 27 3 104-63zM9411 1742l-103 63 27 2 104-63zM9369 1786l-104 63 27 3 104-64zM9362 1809l-104 64 27 2 104-65zM9354 1832l-104 65 27 1 104-65zM9312 1877l-70 43 28 2 69-45zM9304 1899l-104 67 27 1 104-67zM9297 1922l-104 68 27 0 104-68zM9289 1945l-104 68 27 0 104-69zM9247 1990l-70 46 27 0 70-47zM9239 2013l-69 47 27-1 69-48zM9231 2035l-103 72 27-1 103-73zM9189 2082l-69 48 27-2 69-49zM9182 2104l-70 49 27-2 70-50zM9174 2126l-69 50 27-2 69-51zM9132 2174l-70 50 27-2 70-52zM9124 2196l-69 52 27-4 69-53zM9116 2218l-69 53 27-4 69-54zM9109 2240l-69 54 27-5 69-55zM9067 2289l-35 27 27-5 35-29zM9059 2311l-69 56 27-6 69-57zM9017 2361l-35 29 27-6 35-30zM9044 2354l-70 59 27-7 70-61zM9001 2406l-34 30 27-8 34-32zM8994 2428l-35 31 27-10 35-32zM8986 2449l-69 65 27-9 69-67zM8979 2471l-70 67 27-11 70-68zM8936 2527l-34 35 27-11 34-36zM8929 2551l-35 35 27-11 35-37zM8914 2599l-35 38 27-11 35-39zM8906 2626l-35 40 27-10 35-41zM8898 2656l-34 41 27-17 34-43zM8925 2637l-34 43 27 12 34-43zM8952 2649l-34 43 27 20 34-42zM9049 2585l-35 42 27 55 35-40z"/><path fill=#2d8cf3 stroke=#2d8cf3 d="M9461 1675l-34 21 27 2 34-21zM9488 1677l-69 42 27 2 69-42zM9515 1679l-104 63 28 2 103-64zM9473 1722l-104 64 27 2 104-65zM9466 1745l-104 64 27 1 104-65zM9458 1767l-104 65 27 1 104-66zM9416 1811l-104 66 27 0 104-66zM9408 1833l-104 66 27 1 104-68zM9366 1877l-69 45 27 0 69-46zM9358 1899l-69 46 27-1 69-46zM9351 1921l-104 69 27-1 104-70zM9308 1966l-69 47 27-2 69-47zM9301 1988l-70 47 27-2 70-48zM9293 2009l-104 73 27-3 104-73zM9251 2055l-69 49 27-3 69-50zM9243 2076l-69 50 27-3 69-51zM9201 2123l-69 51 27-4 69-52zM9193 2144l-69 52 27-5 69-53zM9186 2165l-70 53 27-5 70-54zM9143 2213l-34 27 27-6 34-28zM9136 2234l-35 27 27-7 35-28zM9094 2282l-35 29 27-7 35-29zM9086 2304l-35 28 27-8 35-29zM9071 2345l-35 30 27-10 35-31zM9028 2396l-34 32 27-11 35-32zM9006 2459l-70 68 27-12 70-71zM8963 2515l-34 36 27-13 34-37zM8956 2538l-35 37 27-14 35-38zM8933 2615l-35 41 27-19 35-42zM8960 2595l-35 42 27 12 35-43zM8987 2606l-35 43 27 21 35-43zM9083 2542l-34 43 27 57 34-40z"/><path fill=#2b91ef stroke=#2b91ef d="M9542 1680l-69 42 27 1 69-42zM9569 1681l-103 64 27 0 103-65zM9527 1724l-69 43 27 0 69-44zM9520 1745l-104 66 27 0 104-67zM9477 1789l-69 44 27-1 69-45zM9470 1810l-104 67 27-1 104-68zM9462 1831l-104 68 27-1 104-69zM9420 1875l-69 46 27-2 69-47zM9412 1896l-104 70 27-2 104-72zM9370 1940l-69 48 27-3 69-48zM9362 1961l-69 48 27-3 69-49zM9320 2006l-69 49 27-4 69-50zM9312 2026l-69 50 27-4 69-51zM9305 2046l-104 77 27-5 104-78zM9228 2118l-35 26 27-6 35-26zM9220 2138l-34 27 27-6 34-27zM9213 2159l-70 54 27-7 70-55zM9205 2178l-69 56 27-8 69-56zM9155 2246l-69 58 27-9 69-60zM9148 2265l-70 59 27-10 70-61zM9090 2353l-69 64 27-12 69-67zM9033 2444l-35 36 27-16 35-37zM8990 2501l-34 37 27-15 34-38zM8983 2523l-35 38 27-14 35-39zM8975 2547l-34 40 27-13 34-41zM8995 2552l-35 43 27 11 35-43zM9022 2563l-35 43 27 21 35-42zM9118 2500l-35 42 27 60 35-41z"/><path fill=#2797eb stroke=#2797eb d="M9596 1680l-69 44 27-1 69-44zM9623 1679l-103 66 27-1 103-66zM9581 1722l-104 67 27-2 104-67zM9574 1742l-104 68 27-2 104-68zM9531 1785l-69 46 27-2 69-47zM9524 1806l-35 23 27-4 35-23zM9454 1852l-34 23 27-3 34-23zM9447 1872l-35 24 27-4 35-23zM9474 1869l-104 71 27-3 104-73zM9432 1912l-70 49 27-4 70-50zM9424 1932l-104 74 27-5 104-75zM9382 1976l-70 50 27-5 70-51zM9374 1995l-69 51 27-6 69-52zM9332 2040l-69 52 27-6 69-53zM9324 2059l-34 27 27-8 34-27zM9247 2132l-34 27 27-8 34-28zM9274 2123l-69 55 27-8 69-57zM9232 2170l-69 56 27-9 69-58zM9225 2188l-35 29 27-11 35-30zM9182 2235l-34 30 27-12 34-30zM9175 2253l-70 61 27-12 70-62zM9132 2302l-34 32 27-13 34-33zM9117 2338l-34 34 27-16 34-35zM9017 2485l-34 38 27-15 34-40zM9029 2509l-34 43 27 11 34-43zM9056 2520l-34 43 27 22 34-43zM9153 2457l-35 43 27 61 35-40z"/><path fill=#259be8 stroke=#259be8 d="M9650 1678l-69 44 27-2 69-45zM9643 1698l-69 44 27-2 69-46zM9635 1717l-104 68 27-3 104-69zM9593 1759l-69 47 27-4 69-47zM9585 1779l-69 46 27-4 69-47zM9543 1821l-35 24 28-5 34-24zM9501 1864l-69 48 27-5 69-49zM9493 1883l-69 49 27-6 69-50zM9451 1926l-69 50 27-6 69-51zM9443 1945l-69 50 27-7 69-52zM9401 1988l-69 52 27-7 69-53zM9359 2033l-35 26 27-8 35-27zM9351 2051l-69 54 27-9 69-56zM9309 2096l-35 27 27-10 35-28zM9267 2141l-35 29 27-11 35-29zM9252 2176l-70 59 27-12 70-61zM9167 2271l-35 31 27-14 35-32zM9052 2447l-35 38 27-17 35-39zM9091 2477l-35 43 27 22 35-42zM9187 2415l-34 42 27 64 34-40z"/><path fill=#23a0e5 stroke=#23a0e5 d="M9677 1675l-34 23 27-4 34-22zM9670 1694l-35 23 27-4 35-23zM9628 1736l-35 23 27-4 35-23zM9620 1755l-35 24 27-5 35-24zM9578 1797l-35 24 27-5 35-24zM9570 1816l-69 48 27-6 69-49zM9563 1834l-35 24 27-7 35-25zM9520 1876l-34 25 27-7 34-26zM9478 1919l-35 26 27-9 35-25zM9470 1936l-69 52 27-8 69-53zM9428 1980l-69 53 27-9 69-54zM9421 1997l-70 54 27-11 70-55zM9344 2068l-35 28 27-11 35-28zM9336 2085l-35 28 27-12 35-29zM9294 2130l-35 29 27-13 35-29zM9279 2162l-70 61 27-15 70-62zM9194 2256l-35 32 27-16 35-33zM9079 2429l-35 39 27-16 35-41zM9098 2424l-34 43 27 10 35-43zM9126 2434l-35 43 27 23 35-43zM9222 2372l-35 43 27 66 35-41z"/><path fill=#20a5e3 stroke=#20a5e3 d="M9363 2072l-35 29 27-14 35-30zM9321 2117l-35 29 27-14 35-31zM9271 2177l-35 31 27-16 35-33zM9133 2381l-35 43 28 10 34-42zM9160 2392l-34 42 27 23 34-42zM9256 2330l-34 42 27 68 34-40z"/><path fill=#24c1ae stroke=#24c1ae d="M9410 2040l-34 43 27 9 34-43zM9472 2006l-35 43 27 25 35-42zM9568 1947l-35 42 27 88 35-41z"/><path fill=#0bbdbd stroke=#0bbdbd d="M9376 2083l-35 42 27 9 35-42zM9403 2092l-35 42 27 25 35-42zM9499 2032l-35 42 27 84 35-41z"/><path fill=#02bac3 stroke=#02bac3 d="M9341 2125l-35 43 27 9 35-43zM9368 2134l-35 43 27 25 35-43zM9464 2074l-34 43 27 81 34-40z"/><path fill=#18addb stroke=#18addb d="M9202 2296l-34 43 27 10 34-43zM9229 2306l-34 43 27 23 34-42zM9326 2244l-35 43 27 72 35-40z"/><path fill=#1ca9df stroke=#1ca9df d="M9168 2339l-35 42 27 11 35-43zM9195 2349l-35 43 27 23 35-43zM9291 2287l-35 43 27 70 35-41z"/><path fill=#f6ef20 stroke=#f6ef20 d="M10407 849l-35 43 27 35 35-43z"/><path fill=#9dc943 stroke=#9dc943 d="M9818 1577l-34 43 27 29 34-42z"/><path fill=#31c69f stroke=#31c69f d="M9541 1920l-35 43 27 26 35-42zM9637 1862l-34 42 27 92 34-40z"/><path fill=#2cc4a7 stroke=#2cc4a7 d="M9506 1963l-34 43 27 26 34-43zM9603 1904l-35 43 27 89 35-40z"/><path fill=#19bfb6 stroke=#19bfb6 d="M9437 2049l-34 43 27 25 34-43zM9533 1989l-34 43 27 85 34-40z"/><path fill=#01b8ca stroke=#01b8ca d="M9333 2177l-34 43 27 24 34-42zM9430 2117l-35 42 27 79 35-40z"/><path fill=#08b5d0 stroke=#08b5d0 d="M9299 2220l-35 43 27 24 35-43zM9395 2159l-35 43 27 77 35-41z"/><path fill=#12b1d6 stroke=#12b1d6 d="M9264 2263l-35 43 27 24 35-43zM9360 2202l-34 42 27 75 34-40z"/><path fill=#fec934 stroke=#fec934 d="M10365 969l-35 43 27 136 35-40z"/><path fill=#4acb84 stroke=#4acb84 d="M9741 1734l-34 43 27 98 34-40z"/><path fill=#3fca8e stroke=#3fca8e d="M9707 1777l-35 42 27 96 35-40z"/><path fill=#37c897 stroke=#37c897 d="M9672 1819l-35 43 27 94 35-41z"/><path fill=#81cc59 stroke=#81cc59 d="M10461 1027l-35 40 27 465 35-32z"/></g><path d="M8437 3479l208-67M8410 3464l519-491M8999 2908l69-66M9172 2744l35-33M10453 1532l35-32M8383 3450l1385-1615M10357 1148l35-40M10426 1067l35-40M8356 3435l1385-1701M9811 1649l34-42M10330 1012l35-43M10399 927l35-43M8329 3420l1212-1500M9784 1620l34-43M10372 892l35-43M8302 3405l554-682M8891 2680l138-171M9064 2467l138-171M9306 2168l104-128M8275 3391l658-776M8968 2574l34-41M9071 2452l35-41M8248 3376l831-947M8221 3361l693-762M8948 2561l104-114M8194 3347l693-736M8921 2575l69-74M9025 2464l35-37M8167 3332l866-888M8140 3317l866-858M9110 2356l34-35M8113 3302l727-698M8875 2571l138-133M9048 2405l69-67M9186 2272l35-33M8086 3288l1004-935M9125 2321l69-65M9263 2192l35-33M8059 3273l796-720M8890 2522l138-126M9063 2365l139-125M9236 2208l70-62M8032 3258l1039-913M9105 2314l174-152M9313 2132l35-31M8005 3244l900-771M8940 2443l104-89M9078 2324l174-148M9286 2146l35-29M9355 2087l35-30M7978 3229l1177-983M9190 2217l104-87M9328 2101l35-29M7951 3214l1004-819M8990 2367l104-85M9128 2254l243-197M7924 3199l1524-1214M7897 3185l1350-1053M9282 2105l173-135M7870 3170l1385-1058M9290 2086l207-159M7843 3155l1662-1244M7816 3141l1662-1222M9513 1894l34-26M7789 3126l1731-1250M9555 1851l35-25M7762 3111l1835-1302M7735 3096l1870-1304M7708 3082l1766-1213M9508 1845l139-95M7681 3067l1800-1218M9516 1825l139-93M7654 3052l2043-1362M7627 3038l2077-1366M7599 3023l2078-1348M7572 3008l2078-1330M7545 2993l2078-1314M7518 2979l2078-1299M7491 2964l2078-1283M7464 2949l2078-1269M7437 2934l2078-1255M7410 2920l2078-1243M7383 2905l2078-1230M7356 2890l2078-1218M7329 2876l2078-1207M7302 2861l2078-1196M7275 2846l2078-1185M7248 2831l2078-1175M7221 2817l2078-1166M7194 2802l2078-1156M7167 2787l2078-1147M7140 2773l2078-1139M7113 2758l2078-1130M7086 2743l2078-1122M7059 2728l2078-1114M7032 2714l2078-1107M7005 2699l2078-1099M6978 2684l2078-1092M6951 2670l2078-1086M6924 2655l2078-1079M6897 2640l2078-1072M6870 2625l2078-1066M6843 2611l2078-1060M6816 2596l2078-1054M8437 3479l-1621-883M8472 3468l-27-36-27-23-54-32-271-135-270-141-405-216-567-307M8506 3457l-27-58-27-30-27-19-27-16-27-14-108-47-135-63-270-134-405-212-568-303M8541 3445l-27-79-27-38-27-21-27-15-27-15-27-9-81-32-135-57-135-62-136-66-189-96-216-111-567-301M8576 3434l-27-101-27-45-28-23-27-16-27-14-27-8-81-28-135-51-135-59-135-63-189-93-216-110-567-297M8610 3423l-27-122-27-53-27-26-27-16-27-14-27-5-81-24-54-18-81-29-135-55-135-60-189-91-216-107-271-139-297-156M8645 3412l-27-144-27-61-27-27-27-17-27-14-27-3-81-20-54-15-81-26-136-51-135-58-189-88-216-106-270-137-297-154M8652 3235l-27-68-27-30-27-17-27-13-27-2-81-16-54-12-54-15-54-17-81-29-135-54-189-84-216-103-270-135-325-167M8687 3202l-27-75-27-32-27-18-27-13-27 0-81-12-54-10-54-12-54-15-81-27-135-51-189-82-217-101-270-133-324-166M8722 3170l-27-84-27-34-27-18-27-13-27 2-81-7-54-8-55-10-54-14-81-24-135-49-81-32-108-46-216-100-270-131-324-164M8756 3137l-27-91-27-36-27-18-27-13-27 3-81-3-54-5-54-9-54-11-81-22-54-17-81-29-81-31-108-45-216-97-270-130-325-163M8791 3104l-27-99-27-38-27-18-27-13-27 6-81 0-54-3-54-6-54-10-81-19-54-16-81-27-81-30-109-44-108-46-108-49-270-128-324-161M8826 3071l-27-106-27-40-27-19-27-13-28 8-81 4-54 0-54-4-54-8-81-18-54-14-81-26-81-29-108-42-108-45-108-48-270-126-324-160M8860 3039l-27-114-27-43-27-19-27-12-27 9-81 9-54 2-54-2-54-7-81-15-54-13-81-24-81-28-108-40-108-45-108-46-135-62-136-63-324-158M8895 3006l-27-122-27-44-27-20-27-12-27 11-81 13-54 4-54 0-54-4-81-13-54-12-82-23-81-26-108-39-108-43-108-46-135-60-135-63-324-157M8929 2973l-27-129-27-47-27-20-27-12-27 13-81 17-54 7-54 2-54-2-81-11-54-11-81-21-81-25-108-38-108-42-108-45-135-59-135-62-324-156M8937 2804l-27-49-27-21-27-11-27 14-81 21-54 10-27 2-54 2-54-3-81-11-81-18-108-30-81-27-81-30-108-42-109-45-243-109-297-142M8999 2908l-27-145-27-51-27-20-27-12-27 17-81 25-54 11-54 7-54 1-82-7-54-8-81-18-81-22-108-36-108-39-108-43-135-58-135-60-162-75-162-78M9033 2875l-27-152-27-53-27-21-27-12-27 19-81 29-54 14-54 8-54 3-27 0-54-4-54-7-81-17-81-21-108-33-108-39-108-42-135-56-135-60-162-74-163-77M9068 2842l-27-160-27-55-27-21-27-11-27 20-81 33-54 17-54 10-54 5-27 0-54-2-54-6-81-15-81-20-108-32-109-37-108-42-135-55-135-59-162-74-162-76M9076 2642l-27-57-27-22-27-11M8968 2574l-54 25-54 23-55 15-54 10-54 3-27 1-54-4-54-6-81-15-81-20-108-32-108-38-108-41-135-55-135-59-135-61-162-75M9110 2602l-27-60-27-22-27-11M9002 2533l-54 28-54 25-54 18-54 11-54 6-27 1-54-2-54-5-81-14-81-19-108-31-108-36-108-40-135-55-136-58-135-60-162-75M9172 2744l-27-183-27-61-27-23-27-10M9010 2508l-54 30-54 24-54 16-54 10-54 5-27 0-54-2-54-6-81-14-82-19-81-23-108-36-108-39-135-53-135-57-135-60-162-75M9207 2711l-27-190-27-64-27-23-28-10M9071 2452l-54 33-54 30-54 23-54 15-54 9-27 2-54 1-54-3-81-11-81-16-108-29-108-34-108-38-135-53-135-56-135-59-162-74M9214 2481l-27-66-27-23-27-11M9106 2411l-54 36M9025 2464l-54 29-54 21-54 13-54 8-54 2-81-4-54-7-81-15-81-20-81-23-108-36-108-39-109-42-135-57-270-120M9249 2440l-27-68-27-23-27-10M9060 2427l-54 32-54 23-54 15-54 9-54 4-82-3-54-6-81-14-81-19-81-22-108-35-108-38-108-42-135-55-135-59-135-60M9283 2400l-27-70-27-24-27-10M9013 2438l-27 11-54 18-54 10-54 5-54 0-81-6-54-8-81-16-81-20-81-24-81-27-108-38-108-42-108-44-135-58-136-60M9318 2359l-27-72-27-24M9048 2405l-27 12-54 19-54 12-54 6-54 2-81-5-54-7-81-15-81-20-81-23-82-25-108-38-108-41-108-44-135-57-135-59M9353 2319l-27-75-27-24M9110 2356l-27 16-55 24-54 17-54 11-54 5-81-1-54-5-81-12-81-17-81-21-81-24-108-36-108-40-135-53-135-57-135-59M9387 2279l-27-77-27-25-27-9M9144 2321l-27 17-27 15M9063 2365l-27 10-54 15-54 9-54 4-54 0-81-7-54-8-81-17-81-20-81-23-81-26-81-29-108-40-108-43-244-104M9422 2238l-27-79-27-25-27-9M9125 2321l-27 13-54 20-54 13-54 8-54 2-81-3-54-6-81-13-82-19-81-21-81-25-108-36-108-40-108-43-243-102M9457 2198l-27-81-27-25-27-9M9186 2272l-27 16-54 26-54 18-54 12-54 6-81 1-54-4-81-10-81-16-81-20-81-23-108-35-108-38-108-41-135-55-135-58M9491 2158l-27-84-27-25-27-9M9221 2239l-27 17-54 28-54 20-54 12-54 8-27 1-54 1-54-3-81-10-81-14-81-20-81-22-108-34-108-37-109-41-135-54-135-57M9526 2117l-27-85-27-26M9202 2240l-27 13-54 22-54 14-54 8-54 4-82-2-54-5-81-12-81-17-81-21-81-24-81-26-108-38-108-40-108-43-135-57M9560 2077l-27-88-27-26M9263 2192l-27 16-27 15-54 23M9128 2254l-27 7-54 10-54 4-54 1-54-3-54-6-54-8-81-16-54-13-81-22-81-25-81-27-189-69-216-88M9595 2036l-27-89-27-27M9298 2159l-27 18-54 29-54 20-54 14-54 8-27 2-54 1-54-2-81-8-81-14-81-18-81-21-109-33-108-37-108-39-108-43-135-55M9630 1996l-27-92M9306 2146l-27 16-54 26-55 18-54 12-54 6-81 2-54-2-81-10-81-14-81-19-81-22-81-24-108-36-108-39-108-42-135-55M9664 1956l-27-94M9313 2132l-27 14-54 24-54 16-54 10-54 5-81 1-54-4-81-10-81-15-81-19-81-22-81-25-81-27-108-39-108-41-136-54M9699 1915l-27-96M9348 2101l-27 16-54 24-54 18-54 11-54 6-81 2-54-3-81-10-82-14-81-18-81-22-81-24-81-26-108-38-108-41-135-54M9734 1875l-27-98M9355 2087l-27 14-54 22-54 15-54 10-54 5-81 0-54-3-81-11-81-15-81-18-81-22-81-25-81-26-108-38-108-41-108-43M9768 1835l-27-101M9390 2057l-54 28-54 20M9255 2112l-27 6-54 8-54 4-54 0-54-3-54-6-108-18-54-12-81-20-81-23-81-25-163-57-189-73M9371 2057l-27 11-54 18-54 11-54 7-54 3-55-1-54-4-81-11-54-9-81-17-81-21-81-24-81-25-108-37-108-40-108-42M9811 1649l-27-29M9378 2040l-27 11-54 15-54 10-54 6-54 1-54-2-54-4-81-11-54-10-81-18-81-21-81-24-81-26-108-37-189-72M9845 1607l-27-30M9413 2013l-27 11-54 16-54 11-54 6-54 3-54-1-54-4-81-11-54-9-81-18-81-20-82-23-81-26-108-37-189-71M9448 1985l-27 12-55 17-54 12-54 7-54 3-54 0-54-4-81-9-54-9-81-17-81-20-81-23-81-25-108-36-189-70M9455 1970l-27 10-54 15-54 11-54 5-54 2-54-1-54-4-81-11-54-9-81-17-81-21-81-23-162-52-190-70M9463 1953l-27 9-54 14-54 9-54 4-54 1-54-2-54-5-54-7-54-9-82-16-81-20-81-23-162-52-189-68M9497 1927l-27 9-54 15-54 10-54 5-54 1-54-1-54-4-54-7-54-8-81-17-81-19-81-22-162-51-189-68M9505 1911l-27 8-54 13-54 8-54 4-54 1-54-3-54-5-54-7-54-9-81-17-135-34-162-50-190-67M9513 1894l-27 7-54 11-54 7-54 3-54 0-55-4-54-5-54-8-54-9-81-18-135-35-162-51-162-57M9547 1868l-27 8-54 12-54 8-54 3-54 0-54-2-54-5-54-8-54-9-81-16-135-35-162-50-162-57M9555 1851l-27 7-54 11-54 6-54 2-54 0-54-4-54-6-54-7-54-10-81-17-136-36-135-41-162-56M9590 1826l-27 8-55 11M9481 1849l-81 6-81-2-81-7-108-16-108-23-135-36-135-42-135-47M9597 1809l-27 7-54 9-81 7-54 1-54-3-54-4-54-7-54-9-81-16-135-34-135-40-162-55M9605 1792l-27 5-54 9-81 5-54-1-54-3-54-5-54-8-109-20-135-33-135-40-162-54M9612 1774l-27 5-54 6-81 4-54-1-54-4-108-14-108-21-135-34-135-40-135-45M9647 1750l-27 5-54 8-81 4-54-1-54-3-108-14-108-20-135-33-135-39-136-45M10357 1148l-27-136M9655 1732l-81 10-81 3-82-3-108-13-108-19-135-33-135-39-135-44M10392 1108l-27-139M9662 1713l-81 9-81 1-81-4-108-14-108-20-108-26-135-39-135-43M10453 1532l-27-465M10399 927l-27-35M9697 1690l-81 10-81 2-81-4-108-13-108-20-108-25-136-38-135-43M10488 1500l-27-473M10434 884l-27-35M9704 1672l-81 7-81 1-81-5-108-14-108-21-108-26-108-30-135-42"/><path fill=#23a0e5 d="M9704 1672l-34 22 27-4 35-23z"/><path fill=#23a0e5 d="M9697 1690l-69 46 27-4 69-47zM9662 1713l27-5"/><path fill=#2797eb d="M9489 1829l-35 23 27-3 35-24z"/><path fill=#23a0e5 d="M9655 1732l-35 23 27-5 35-24z"/><path fill=#259be8 d="M9516 1825l-35 24 27-4 35-24z"/><path fill=#2797eb d="M9481 1849l-34 23 27-3 34-24z"/><path fill=#20a5e3 d="M9647 1750l-35 24 27-7 35-24z"/><path fill=#23a0e5 d="M9612 1774l-34 23 27-5 34-25z"/><path fill=#259be8 d="M9508 1845l-34 24 27-5 35-24z"/><path fill=#23a0e5 d="M9605 1792l-35 24 27-7 35-24z"/><path fill=#20a5e3 d="M9597 1809l-34 25 27-8 34-25z"/><path fill=#23a0e5 d="M9528 1858l-35 25 27-7 35-25z"/><path fill=#20a5e3 d="M9590 1826l-70 50 27-8 70-51zM9555 1851l27-8"/><path fill=#23a0e5 d="M9486 1901l-35 25 27-7 35-25z"/><path fill=#20a5e3 d="M9547 1868l-34 26 27-9 34-26z"/><path fill=#23a0e5 d="M9513 1894l-35 25 27-8 35-26z"/><path fill=#20a5e3 d="M9540 1885l-70 51 27-9 70-53zM9505 1911l27-11"/><path fill=#2b91ef d="M9263 2092l-35 26 27-6 35-26z"/><path fill=#20a5e3 d="M9497 1927l-69 53 27-10 69-54zM9463 1953l27-10"/><path fill=#2797eb d="M9290 2086l-35 26 27-7 35-27z"/><path fill=#2b91ef d="M9255 2112l-35 26 27-6 35-27z"/><path fill=#20a5e3 d="M9490 1943l-69 54 27-12 69-55zM9455 1970l27-12"/><path fill=#2797eb d="M9282 2105l-35 27 27-9 35-27z"/><path fill=#20a5e3 d="M9448 1985l-70 55 27-12 70-56zM9413 2013l27-13"/><path fill=#23a0e5 d="M9378 2040l-34 28 27-11 34-29z"/><path fill=#2d8cf3 d="M9101 2261l-34 28 27-7 34-28z"/><path fill=#327cfc d="M8963 2372l-35 27 27-4 35-28z"/><path fill=#1ca9df d="M9440 2000l-35 28 27-14 35-29z"/><path fill=#20a5e3 d="M9405 2028l-34 29 27-14 34-29z"/><path fill=#23a0e5 d="M9371 2057l-35 28 27-13 35-29z"/><path fill=#259be8 d="M9301 2113l-34 28 27-11 34-29z"/><path fill=#2b91ef d="M9163 2226l-35 28 27-8 35-29z"/><path fill=#2d8cf3 d="M9128 2254l-34 28 27-7 34-29z"/><path fill=#2f81fa d="M8990 2367l-35 28 27-5 35-29z"/><path fill=#1ca9df d="M9432 2014l-34 29 27-15 34-30z"/><path fill=#20a5e3 d="M9398 2043l-35 29 27-15 35-29z"/><path fill=#23a0e5 d="M9328 2101l-34 29 27-13 34-30z"/><path fill=#259be8 d="M9259 2159l-34 29 27-12 34-30z"/><path fill=#2797eb d="M9190 2217l-35 29 27-11 35-29z"/><path fill=#2e87f7 d="M9051 2332l-34 29 27-7 34-30z"/><path fill=#327cfc d="M8913 2448l-35 29 27-4 35-30z"/><path fill=#1ca9df d="M9390 2057l-35 30 27-16 35-31z"/><path fill=#20a5e3 d="M9355 2087l-34 30 27-16 34-30z"/><path fill=#23a0e5 d="M9286 2146l-34 30 27-14 34-30z"/><path fill=#2d8cf3 d="M9078 2324l-34 30 27-9 34-31z"/><path fill=#2f81fa d="M8940 2443l-35 30 27-6 35-31z"/><path fill=#1ca9df d="M9382 2071l-69 61 27-17 69-63zM9348 2101l27-18"/><path fill=#20a5e3 d="M9313 2132l-34 30 27-16 34-31z"/><path fill=#259be8 d="M9209 2223l-34 30 27-13 34-32z"/><path fill=#2b91ef d="M9105 2314l-34 31 27-11 34-32z"/><path fill=#2d8cf3 d="M9036 2375l-35 31 27-10 35-31z"/><path fill=#3875fe d="M8863 2527l-35 31 27-5 35-31z"/><path fill=#18addb d="M9375 2083l-35 32 27-20 35-32z"/><path fill=#1ca9df d="M9340 2115l-34 31 27-19 34-32z"/><path fill=#20a5e3 d="M9306 2146l-35 31 27-18 35-32z"/><path fill=#23a0e5 d="M9236 2208l-34 32 27-16 34-32z"/><path fill=#259be8 d="M9202 2240l-35 31 27-15 35-32z"/><path fill=#2b91ef d="M9098 2334l-70 62 28-11 69-64zM9063 2365l27-12"/><path fill=#327cfc d="M8890 2522l-35 31 27-7 35-32z"/><path fill=#18addb d="M9333 2127l-35 32 27-20 35-33z"/><path fill=#1ca9df d="M9298 2159l-35 33 27-20 35-33z"/><path fill=#20a5e3 d="M9263 2192l-34 32 27-19 34-33z"/><path fill=#23a0e5 d="M9229 2224l-35 32 27-17 35-34z"/><path fill=#259be8 d="M9159 2288l-34 33 27-16 34-33z"/><path fill=#2797eb d="M9125 2321l-35 32 27-15 35-33z"/><path fill=#2d8cf3 d="M9021 2417l-35 32 27-11 35-33z"/><path fill=#3875fe d="M8848 2578l-35 33 27-7 35-33z"/><path fill=#18addb d="M9325 2139l-35 33 27-22 35-35z"/><path fill=#1ca9df d="M9290 2172l-69 67 27-21 69-68zM9256 2205l27-21"/><path fill=#20a5e3 d="M9221 2239l-35 33 27-19 35-35z"/><path fill=#23a0e5 d="M9186 2272l-34 33 27-18 34-34z"/><path fill=#259be8 d="M9152 2305l-35 33 27-17 35-34z"/><path fill=#2797eb d="M9083 2372l-35 33 27-15 35-34z"/><path fill=#2b91ef d="M9048 2405l-35 33 27-14 35-34z"/><path fill=#2d8cf3 d="M9013 2438l-34 33 27-12 34-35z"/><path fill=#327cfc d="M8875 2571l-35 33 27-8 35-34z"/><path fill=#12b1d6 d="M9317 2150l-34 34 27-24 34-35z"/><path fill=#18addb d="M9283 2184l-35 34 27-22 35-36z"/><path fill=#1ca9df d="M9248 2218l-35 35 27-22 35-35z"/><path fill=#20a5e3 d="M9213 2253l-34 34 27-20 34-36z"/><path fill=#23a0e5 d="M9179 2287l-69 69 27-18 69-71zM9144 2321l27-19"/><path fill=#259be8 d="M9110 2356l-35 34 27-17 35-35z"/><path fill=#2797eb d="M9075 2390l-35 34 27-15 35-36z"/><path fill=#2b91ef d="M9040 2424l-34 35 27-15 34-35z"/><path fill=#12b1d6 d="M9310 2160l-35 36 27-26 35-37z"/><path fill=#18addb d="M9275 2196l-35 35 27-24 35-37z"/><path fill=#1ca9df d="M9240 2231l-69 71 27-22 69-73zM9206 2267l27-23"/><path fill=#20a5e3 d="M9171 2302l-34 36 27-21 34-37z"/><path fill=#23a0e5 d="M9137 2338l-35 35 27-19 35-37z"/><path fill=#259be8 d="M9102 2373l-35 36 27-18 35-37z"/><path fill=#2797eb d="M9067 2409l-34 35 27-17 34-36z"/><path fill=#2d8cf3 d="M8998 2480l-35 35 27-14 35-37z"/><path fill=#2f81fa d="M8894 2586l-34 36 27-11 34-36z"/><path fill=#18addb d="M9233 2244l-35 36 27-23 35-39z"/><path fill=#1ca9df d="M9198 2280l-34 37 27-22 34-38z"/><path fill=#20a5e3 d="M9164 2317l-35 37 27-21 35-38z"/><path fill=#23a0e5 d="M9129 2354l-35 37 27-20 35-38z"/><path fill=#259be8 d="M9094 2391l-34 36 27-18 34-38z"/><path fill=#2797eb d="M9060 2427l-35 37 27-17 35-38z"/><path fill=#2b91ef d="M9025 2464l-35 37 27-16 35-38z"/><path fill=#2e87f7 d="M8921 2575l-34 36 27-12 34-38z"/><path fill=#08b5d0 d="M9294 2180l-34 38 27-26 35-40z"/><path fill=#12b1d6 d="M9260 2218l-35 39 27-26 35-39z"/><path fill=#18addb d="M9225 2257l-34 38 27-24 34-40z"/><path fill=#1ca9df d="M9191 2295l-35 38 27-23 35-39z"/><path fill=#20a5e3 d="M9156 2333l-35 38 27-21 35-40z"/><path fill=#23a0e5 d="M9121 2371l-34 38 27-20 34-39z"/><path fill=#259be8 d="M9087 2409l-35 38 27-18 35-40z"/><path fill=#2d8cf3 d="M8948 2561l-34 38 27-12 34-40z"/><path fill=#12b1d6 d="M9252 2231l-69 79 27-22 69-81zM9218 2271l27-23"/><path fill=#18addb d="M9183 2310l-35 40 27-21 35-41z"/><path fill=#1ca9df d="M9148 2350l-34 39 27-19 34-41z"/><path fill=#20a5e3 d="M9114 2389l-35 40 27-18 35-41z"/><path fill=#259be8 d="M9044 2468l-34 40 27-16 34-40z"/><path fill=#2797eb d="M9010 2508l-35 39 27-14 35-41z"/><path fill=#2d8cf3 d="M8941 2587l-35 39 27-11 35-41z"/><path fill=#1ca9df d="M9141 2370l-35 41 27-30 35-42z"/><path fill=#20a5e3 d="M9106 2411l-35 41 27-28 35-43z"/><path fill=#23a0e5 d="M9071 2452l-34 40 27-25 34-43z"/><path fill=#259be8 d="M9037 2492l-35 41 27-24 35-42z"/><path fill=#2797eb d="M9002 2533l-34 41 27-22 34-43z"/><path fill=#2b91ef d="M8968 2574l-35 41 27-20 35-43z"/><path fill=#2f81fa d="M8864 2697l-35 40 27-14 35-43z"/><path fill=#f7f51b d="M10380 845l-35 43 27 4 35-43z"/><path fill=#f6ef20 d="M10345 888l-34 43 27 3 34-42z"/><path fill=#f5e924 d="M10311 931l-35 42 27 4 35-43z"/><path fill=#f5e327 d="M10276 973l-35 43 27 4 35-43z"/><path fill=#f7dc2a d="M10241 1016l-34 43 27 4 34-43z"/><path fill=#fad62d d="M10207 1059l-35 42 27 5 35-43z"/><path fill=#fccf30 d="M10172 1101l-35 43 27 5 35-43z"/><path fill=#fec934 d="M10137 1144l-34 43 27 5 34-43z"/><path fill=#febe3c d="M10103 1187l-35 42 27 5 35-42z"/><path fill=#f8ba3d d="M10068 1229l-34 43 27 5 34-43z"/><path fill=#f0ba36 d="M10034 1272l-35 43 27 5 35-43z"/><path fill=#e6bb2d d="M9999 1315l-35 42 27 6 35-43z"/><path fill=#dcbd29 d="M9964 1357l-34 43 27 6 34-43z"/><path fill=#d1bf27 d="M9930 1400l-35 43 27 6 35-43z"/><path fill=#c5c22a d="M9895 1443l-35 42 27 7 35-43z"/><path fill=#b9c431 d="M9860 1485l-34 43 27 6 34-42z"/><path fill=#abc739 d="M9826 1528l-35 43 27 6 35-43z"/><path fill=#9dc943 d="M9791 1571l-34 42 27 7 34-43z"/><path fill=#8fcb4e d="M9757 1613l-35 43 27 7 35-43z"/><path fill=#81cc59 d="M9722 1656l-35 43 27 7 35-43z"/><path fill=#72cd64 d="M9687 1699l-34 42 27 8 34-43z"/><path fill=#64cd6f d="M9653 1741l-35 43 27 8 35-43z"/><path fill=#57cc7a d="M9618 1784l-35 43 27 7 35-42z"/><path fill=#4acb84 d="M9583 1827l-34 42 27 8 34-43z"/><path fill=#3fca8e d="M9549 1869l-35 43 27 8 35-43z"/><path fill=#37c897 d="M9514 1912l-35 43 27 8 35-43z"/><path fill=#31c69f d="M9479 1955l-34 42 27 9 34-43z"/><path fill=#2cc4a7 d="M9445 1997l-35 43 27 9 35-43z"/><path fill=#01b8ca d="M9306 2168l-34 43 27 9 34-43z"/><path fill=#08b5d0 d="M9272 2211l-35 42 27 10 35-43z"/><path fill=#12b1d6 d="M9237 2253l-35 43 27 10 35-43z"/><path fill=#259be8 d="M9064 2467l-35 42 27 11 35-43z"/><path fill=#2f81fa d="M8891 2680l-35 43 27 11 35-42z"/><path fill=#f5e924 d="M10372 892l-34 42 27 35 34-42z"/><path fill=#f5e327 d="M10338 934l-35 43 27 35 35-43z"/><path fill=#f7dc2a d="M10303 977l-35 43 27 34 35-42z"/><path fill=#fad62d d="M10268 1020l-34 43 27 34 34-43z"/><path fill=#fccf30 d="M10234 1063l-35 43 27 33 35-42z"/><path fill=#fec934 d="M10199 1106l-35 43 28 33 34-43z"/><path fill=#fec338 d="M10164 1149l-34 43 27 32 35-42z"/><path fill=#febe3c d="M10130 1192l-35 42 27 33 35-43z"/><path fill=#f8ba3d d="M10095 1234l-34 43 27 32 34-42z"/><path fill=#f0ba36 d="M10061 1277l-35 43 27 32 35-43z"/><path fill=#e6bb2d d="M10026 1320l-35 43 27 31 35-42z"/><path fill=#dcbd29 d="M9991 1363l-34 43 27 31 34-43z"/><path fill=#d1bf27 d="M9957 1406l-35 43 27 30 35-42z"/><path fill=#c5c22a d="M9922 1449l-35 43 27 30 35-43z"/><path fill=#b9c431 d="M9887 1492l-34 42 27 30 34-42z"/><path fill=#abc739 d="M9853 1534l-35 43 27 30 35-43z"/><path fill=#8fcb4e d="M9784 1620l-35 43 27 29 35-43z"/><path fill=#81cc59 d="M9749 1663l-35 43 27 28 35-42z"/><path fill=#64cd6f d="M9714 1706l-34 43 27 28 34-43z"/><path fill=#57cc7a d="M9680 1749l-35 43 27 27 35-42z"/><path fill=#4acb84 d="M9645 1792l-35 42 27 28 35-43z"/><path fill=#3fca8e d="M9610 1834l-34 43 27 27 34-42z"/><path fill=#37c897 d="M9576 1877l-35 43 27 27 35-43z"/><path fill=#fad62d d="M10434 884l-35 43 27 140 35-40z"/><path fill=#fccf30 d="M10399 927l-34 42 27 139 34-41z"/><path fill=#fec338 d="M10330 1012l-35 42 27 135 35-41z"/><path fill=#febe3c d="M10295 1054l-34 43 27 132 34-40z"/><path fill=#f8ba3d d="M10261 1097l-35 42 27 130 35-40z"/><path fill=#f0ba36 d="M10226 1139l-34 43 27 128 34-41z"/><path fill=#e6bb2d d="M10192 1182l-35 42 27 126 35-40z"/><path fill=#dcbd29 d="M10157 1224l-35 43 27 123 35-40z"/><path fill=#d1bf27 d="M10122 1267l-34 42 27 122 34-41z"/><path fill=#c5c22a d="M10088 1309l-35 43 27 119 35-40z"/><path fill=#b9c431 d="M10053 1352l-35 42 27 118 35-41z"/><path fill=#abc739 d="M10018 1394l-34 43 27 115 34-40z"/><path fill=#9dc943 d="M9984 1437l-70 85 27 111 70-81zM9949 1479l27 113"/><path fill=#8fcb4e d="M9914 1522l-34 42 27 109 34-40z"/><path fill=#81cc59 d="M9880 1564l-35 43 27 106 35-40z"/><path fill=#72cd64 d="M9845 1607l-34 42 27 105 34-41z"/><path fill=#64cd6f d="M9811 1649l-35 43 27 102 35-40z"/><path fill=#57cc7a d="M9776 1692l-35 42 27 101 35-41z"/><path fill=#72cd64 d="M10426 1067l-69 81 27 450 69-66zM10392 1108l27 457"/><path fill=#64cd6f d="M10357 1148l-35 41 27 442 35-33z"/><path fill=#57cc7a d="M10322 1189l-69 80 27 427 69-65zM10288 1229l27 434"/><path fill=#4acb84 d="M10253 1269l-34 41 27 419 34-33z"/><path fill=#3fca8e d="M10219 1310l-35 40 27 412 35-33z"/><path fill=#37c897 d="M10184 1350l-69 81 27 396 69-65zM10149 1390l27 404"/><path fill=#31c69f d="M10115 1431l-35 40 27 389 35-33z"/><path fill=#2cc4a7 d="M10080 1471l-69 81 27 373 69-65zM10045 1512l27 381"/><path fill=#24c1ae d="M10011 1552l-35 40 27 366 35-33z"/><path fill=#19bfb6 d="M9976 1592l-35 41 27 358 35-33z"/><path fill=#0bbdbd d="M9941 1633l-69 80 27 343 69-65zM9907 1673l27 351"/><path fill=#02bac3 d="M9872 1713l-34 41 27 335 34-33z"/><path fill=#01b8ca d="M9838 1754l-70 81 27 320 70-66zM9803 1794l27 328"/><path fill=#08b5d0 d="M9768 1835l-34 40 27 312 34-32z"/><path fill=#12b1d6 d="M9734 1875l-35 40 27 305 35-33z"/><path fill=#18addb d="M9699 1915l-69 81 27 290 69-66zM9664 1956l27 297"/><path fill=#1ca9df d="M9630 1996l-35 40 27 282 35-32z"/><path fill=#20a5e3 d="M9595 2036l-69 81 27 267 69-66zM9560 2077l28 274"/><path fill=#23a0e5 d="M9526 2117l-35 41 27 259 35-33z"/><path fill=#259be8 d="M9491 2158l-34 40 27 251 34-32z"/><path fill=#2797eb d="M9457 2198l-70 81 27 236 70-66zM9422 2238l27 244"/><path fill=#2b91ef d="M9387 2279l-34 40 27 228 34-32z"/><path fill=#2d8cf3 d="M9353 2319l-70 81 27 213 70-66zM9318 2359l27 221"/><path fill=#2e87f7 d="M9283 2400l-34 40 27 206 34-33z"/><path fill=#2f81fa d="M9249 2440l-35 41 27 197 35-32z"/><path fill=#327cfc d="M9214 2481l-34 40 27 190 34-33z"/><path fill=#3875fe d="M9145 2561l-35 41 27 175 35-33z"/><path fill=#3e6fff d="M9110 2602l-69 80 27 160 69-65zM9076 2642l27 167"/><path fill=#465efb d="M8972 2763l-70 81 27 129 70-65zM8937 2804l27 136"/><path fill=#3e26a8 d="M10488 1500l-1870 1768 27 144 1870-606zM10453 1532l27 1285M10419 1565l27 1263M10384 1598l27 1242M10349 1631l27 1220M10315 1663l27 1199M10280 1696l27 1177M10246 1729l27 1156M10211 1762l27 1134M10176 1794l27 1113M10142 1827l27 1091M10107 1860l27 1069M10072 1893l27 1048M10038 1925l27 1027M10003 1958l27 1005M9968 1991l28 983M9934 2024l27 961M9899 2056l27 941M9865 2089l27 919M9830 2122l27 897M9795 2155l27 875M9761 2187l27 855M9726 2220l27 833M9691 2253l27 811M9657 2286l27 789M9622 2318l27 768M9588 2351l27 747M9553 2384l27 725M9518 2417l27 703M9484 2449l27 682M9449 2482l27 660M9414 2515l27 639M9380 2547l27 618M9345 2580l27 596M9310 2613l27 574M9276 2646l27 553M9241 2678l27 532M9207 2711l27 510M9172 2744l27 488M9137 2777l27 466M9103 2809l27 446M9068 2842l27 424M9033 2875l27 402M8999 2908l27 380M8964 2940l27 360M8929 2973l27 338M8895 3006l27 316M8860 3039l27 294M8826 3071l27 273M8791 3104l27 252M8756 3137l27 230M8722 3170l27 208M8687 3202l27 187M8652 3235l27 165"/></g><path d="M681.6 259.6L681.6 69.6" stroke="#8c8c8c" stroke-width="1.7" fill="none"/><path d="M843.7 347.9L1051.5 280.6M843.7 347.9L681.6 259.6M843.7 347.9L848.5 350.5M947.6 314.2L952.4 316.9M1051.5 280.6L1056.3 283.2M843.7 347.9L838.5 349.6M762.7 303.8L757.4 305.4M681.6 259.6L676.4 261.3M681.6 259.6L678.7 258.0M681.6 213.8L678.7 212.2M681.6 168.0L678.7 166.4M681.6 122.2L678.7 120.6M681.6 76.4L678.7 74.8" stroke="#3a3a3a" stroke-width="0.8" fill="none"/><text x="852.7" y="366.7" font-size="13.4" text-anchor="start">0</text><text x="956.6" y="333.0" font-size="13.4" text-anchor="start">0.5</text><text x="1060.5" y="299.4" font-size="13.4" text-anchor="start">1</text><text x="833.2" y="365.7" font-size="13.4" text-anchor="end">0</text><text x="752.2" y="321.5" font-size="13.4" text-anchor="end">0.5</text><text x="671.1" y="277.4" font-size="13.4" text-anchor="end">1</text><text x="671.7" y="261.4" font-size="13.4" text-anchor="end">0</text><text x="671.7" y="215.6" font-size="13.4" text-anchor="end">1</text><text x="671.7" y="169.8" font-size="13.4" text-anchor="end">2</text><text x="671.7" y="124.0" font-size="13.4" text-anchor="end">3</text><text x="671.7" y="78.2" font-size="13.4" text-anchor="end">4</text><text x="940.0" y="368.9" class="gk" text-anchor="middle">α</text><text x="759.0" y="364.7" class="gk" text-anchor="middle">η</text><text transform="translate(649.6 165.8) rotate(-90)" font-size="14.7" text-anchor="middle">R<tspan font-size="11.7" dy="7">0</tspan></text><linearGradient id="cbb" x1="0" y1="0" x2="0" y2="1"><stop offset="0.0000" stop-color="#f9fb15"/><stop offset="0.0476" stop-color="#f5e924"/><stop offset="0.0952" stop-color="#fad62d"/><stop offset="0.1429" stop-color="#fec338"/><stop offset="0.1905" stop-color="#f0ba36"/><stop offset="0.2381" stop-color="#d1bf27"/><stop offset="0.2857" stop-color="#abc739"/><stop offset="0.3333" stop-color="#81cc59"/><stop offset="0.3810" stop-color="#57cc7a"/><stop offset="0.4286" stop-color="#37c897"/><stop offset="0.4762" stop-color="#24c1ae"/><stop offset="0.5238" stop-color="#02bac3"/><stop offset="0.5714" stop-color="#12b1d6"/><stop offset="0.6190" stop-color="#20a5e3"/><stop offset="0.6667" stop-color="#2797eb"/><stop offset="0.7143" stop-color="#2e87f7"/><stop offset="0.7619" stop-color="#3875fe"/><stop offset="0.8095" stop-color="#4563fd"/><stop offset="0.8571" stop-color="#4852f4"/><stop offset="0.9048" stop-color="#4741e5"/><stop offset="0.9524" stop-color="#4332cb"/><stop offset="1.0000" stop-color="#3e26a8"/></linearGradient><rect x="1089.2" y="3.8" width="20.3" height="342.4" fill="url(#cbb)" stroke="#3a3a3a" stroke-width="0.8"/><text x="1115.0" y="351.0" font-size="13.4" text-anchor="start">0</text><text x="1115.0" y="309.7" font-size="13.4" text-anchor="start">0.5</text><text x="1115.0" y="268.5" font-size="13.4" text-anchor="start">1</text><text x="1115.0" y="227.2" font-size="13.4" text-anchor="start">1.5</text><text x="1115.0" y="185.9" font-size="13.4" text-anchor="start">2</text><text x="1115.0" y="144.7" font-size="13.4" text-anchor="start">2.5</text><text x="1115.0" y="103.4" font-size="13.4" text-anchor="start">3</text><text x="1115.0" y="62.2" font-size="13.4" text-anchor="start">3.5</text><text x="1115.0" y="20.9" font-size="13.4" text-anchor="start">4</text><path d="M1109.5 346.2h-3.5M1109.5 304.9h-3.5M1109.5 263.7h-3.5M1109.5 222.4h-3.5M1109.5 181.1h-3.5M1109.5 139.9h-3.5M1109.5 98.6h-3.5M1109.5 57.4h-3.5M1109.5 16.1h-3.5" stroke="#3a3a3a" stroke-width="0.8" fill="none"/>
<path d="M263.4 845.0L76.1 759.2M312.8 831.9L125.5 746.1M362.3 818.9L175.0 733.1M411.7 805.8L224.4 720.0M461.2 792.8L273.9 707.0M510.6 779.7L323.3 693.9M263.4 845.0L510.6 779.7M169.7 802.1L416.9 736.8M76.1 759.2L323.3 693.9M76.1 759.2L76.1 569.3M125.5 746.1L125.5 556.2M175.0 733.1L175.0 543.2M224.4 720.0L224.4 530.1M273.9 707.0L273.9 517.1M323.3 693.9L323.3 504.0M76.1 759.2L323.3 693.9M76.1 721.2L323.3 655.9M76.1 683.2L323.3 617.9M76.1 645.3L323.3 580.0M76.1 607.3L323.3 542.0M76.1 569.3L323.3 504.0M510.6 779.7L510.6 589.8M416.9 736.8L416.9 546.9M323.3 693.9L323.3 504.0M323.3 693.9L510.6 779.7M323.3 655.9L510.6 741.7M323.3 617.9L510.6 703.7M323.3 580.0L510.6 665.8M323.3 542.0L510.6 627.8M323.3 504.0L510.6 589.8" stroke="#e1e1e1" stroke-width="1.1" fill="none"/><g transform="scale(0.1)" stroke="#000" stroke-width="6" stroke-linejoin="round" fill="none"><g stroke-width="6"><path fill=#4537d5 stroke=#4537d5 d="M3233 6833l-124 38 25 10 124-38zM3258 6843l-124 38 32 13 123-38zM3289 6856l-165 50 32 13 164-51zM3320 6868l-206 64 32 12 206-64zM3352 6880l-248 77 32 12 247-76zM3383 6893l-289 89 32 13 288-90zM3414 6905l-330 103 32 12 329-103zM3445 6917l-371 116 32 12 370-116zM3476 6929l-412 129 32 12 412-129zM3508 6941l-454 142 32 13 453-143zM3539 6953l-495 156 32 12 494-157zM3529 6977l-495 157 32 12 494-157zM3519 7002l-495 157 32 12 494-157zM3468 7040l-453 144 31 13 453-145zM3458 7065l-453 145 31 12 453-146zM3448 7090l-453 145 31 12 453-146zM3438 7114l-453 146 31 12 453-146zM3387 7152l-412 134 31 12 412-134zM3377 7177l-412 134 31 12 412-135zM3367 7202l-412 134 31 12 412-135zM3357 7226l-412 136 31 11 412-136zM3347 7251l-412 136 31 12 412-137zM3295 7289l-370 123 31 12 371-124zM3285 7314l-370 124 31 11 371-124zM3275 7339l-370 124 31 11 371-125zM3266 7363l-371 125 31 12 371-126zM3214 7402l-329 112 31 11 330-113zM3204 7427l-329 112 31 11 330-113zM3194 7451l-288 99 31 11 289-100zM3184 7476l-288 100 31 11 289-101zM3174 7500l-288 101 31 11 289-102zM3123 7539l-247 87 31 11 247-88zM3113 7564l-247 88 31 10 247-88zM3103 7588l-247 89 31 10 247-89zM3093 7613l-247 89 31 11 247-91zM3042 7652l-206 76 31 10 206-76zM3032 7677l-206 76 31 10 206-77zM3022 7701l-206 77 31 10 206-78zM3012 7726l-206 78 31 9 206-79zM3002 7750l-206 79 31 10 206-81zM2951 7790l-165 65 31 9 165-66zM2941 7815l-165 65 31 9 165-67zM2931 7839l-165 67 31 8 165-68zM2921 7863l-165 68 31 9 165-70zM2870 7905l-124 52 31 8 124-54zM2860 7929l-124 54 31 7 124-55zM2850 7954l-124 55 31 7 124-57zM2840 7978l-124 56 31 7 124-59zM2830 8002l-124 58 32 6 123-61zM2779 8046l-83 41 32 5 82-43zM2769 8070l-83 43 32 4 82-45zM2759 8095l-83 44 32 3 82-47zM2749 8119l-83 47 32 2 82-51zM2739 8142l-83 52 32 0 82-56z"/><path fill=#4332cb stroke=#4332cb d="M3109 6871l-659 203 25 10 659-203zM3134 6881l-659 203 31 13 660-203zM3124 6906l-659 204 31 13 660-204zM3114 6932l-659 203 31 13 660-204zM3104 6957l-659 204 31 13 660-205zM3094 6982l-618 192 32 13 618-192zM3084 7008l-618 192 32 13 618-193zM3074 7033l-618 193 32 13 618-194zM3064 7058l-576 181 31 13 577-182zM3054 7083l-576 182 31 12 577-181zM3044 7109l-576 181 31 13 577-182zM3034 7134l-535 169 31 13 536-170zM3024 7159l-535 170 31 13 536-171zM3015 7184l-536 171 31 13 536-171zM3005 7210l-495 158 31 12 495-158zM2995 7235l-495 159 31 12 495-159zM2985 7260l-495 160 31 12 495-160zM2975 7286l-454 146 32 13 453-147zM2965 7311l-454 147 32 13 453-148zM2955 7336l-454 148 32 13 453-149zM2945 7362l-454 148 32 13 453-150zM2935 7387l-412 136 31 12 412-136zM2925 7412l-412 137 31 12 412-137zM2915 7438l-412 137 31 12 412-138zM2905 7463l-371 124 31 12 371-125zM2895 7488l-371 125 31 12 371-125zM2885 7514l-371 125 31 13 371-127zM2875 7539l-330 113 31 12 330-114zM2906 7550l-371 128 31 12 371-129zM2896 7576l-371 128 31 12 371-129zM2886 7601l-330 115 32 12 329-116zM2876 7626l-330 116 32 12 329-117zM2866 7652l-330 117 32 11 329-118zM2856 7677l-206 74 31 11 206-75zM2609 7766l-41 14 31 12 41-15zM2846 7702l-165 60 31 11 165-60zM2599 7792l-41 15 31 11 41-15zM2836 7728l-165 60 31 11 165-61zM2630 7803l-82 30 31 12 82-31zM2826 7753l-165 61 32 11 164-62zM2620 7829l-82 31 31 11 82-31zM2816 7778l-123 47 31 10 123-47zM2610 7856l-41 15 31 11 41-15zM2806 7804l-123 47 31 10 123-48zM2600 7882l-41 16 31 11 41-16zM2796 7829l-123 48 31 10 123-48zM2590 7909l-41 16 31 10 41-16zM2786 7855l-123 48 31 10 123-49zM2621 7919l-41 16 31 11 42-16zM2776 7880l-82 33 31 10 82-34zM2611 7946l-41 16 31 11 42-17zM2766 7906l-82 33 31 10 82-35zM2601 7973l-41 16 31 11 42-17zM2756 7931l-82 35 31 9 82-35zM2746 7957l-82 35 31 9 82-36zM2736 7983l-82 36 31 8 82-37zM2726 8009l-41 18 31 7 41-18zM2716 8034l-41 19 31 7 41-19zM2706 8060l-41 20 31 7 42-21zM2696 8087l-41 20 31 6 42-21zM2686 8113l-41 21 31 5 42-22zM2678 8220l-42 31 32-5 41-36z"/><path fill=#422ec0 stroke=#422ec0 d="M2450 7074l-659 202 25 11 659-203zM2475 7084l-659 203 31 13 659-203zM2465 7110l-659 203 31 13 659-203zM2455 7135l-618 191 31 14 618-192zM2445 7161l-618 192 31 13 618-192zM2476 7174l-618 192 32 14 618-193zM2466 7200l-618 193 32 13 618-193zM2456 7226l-576 180 31 14 577-181zM2488 7239l-577 181 31 13 577-181zM2478 7265l-577 181 31 13 577-182zM2468 7290l-536 169 31 14 536-170zM2499 7303l-577 183 31 13 577-183zM2489 7329l-536 170 32 14 535-171zM2479 7355l-494 158 31 13 494-158zM2510 7368l-535 171 31 13 535-172zM2500 7394l-494 158 31 14 494-160zM2490 7420l-494 159 31 13 494-160zM2521 7432l-494 160 31 13 495-160zM2511 7458l-494 161 31 13 495-161zM2501 7484l-453 148 31 13 454-148zM2491 7510l-412 135 32 14 412-136zM2523 7523l-454 149 32 13 453-150zM2513 7549l-412 136 31 13 412-137zM2503 7575l-412 137 31 13 412-138zM2534 7587l-412 138 31 13 412-139zM2524 7613l-371 125 31 13 371-126zM2514 7639l-371 126 31 13 371-126zM2545 7652l-371 126 32 13 370-127zM2535 7678l-371 127 32 13 370-128zM2525 7704l-329 114 31 13 329-115zM2556 7716l-329 115 31 13 330-116zM2546 7742l-329 116 31 13 330-117zM2536 7769l-288 102 31 13 289-104zM2568 7780l-330 119 31 12 330-119zM2558 7807l-289 104 31 13 289-106zM2548 7833l-289 106 31 12 289-106zM2538 7860l-248 91 32 13 247-93zM2569 7871l-247 93 31 12 247-94zM2559 7898l-247 94 31 12 247-95zM2549 7925l-206 79 31 12 206-81zM2580 7935l-247 97 31 12 247-98zM2570 7962l-206 82 31 12 206-83zM2560 7989l-165 67 32 12 164-68zM2591 8000l-206 85 32 11 206-87zM2581 8027l-164 69 31 12 165-72zM2571 8054l-164 72 31 11 165-73zM2603 8064l-165 73 31 11 165-76zM2593 8091l-124 57 31 10 124-58zM2583 8119l-124 59 31 10 124-61zM2573 8148l-83 40 32 10 82-43zM2563 8177l-83 42 32 10 82-45zM2594 8184l-82 45 31 9 82-48zM2584 8214l-82 47 31 9 82-51zM2574 8245l-41 25 31 7 41-27z"/><path fill=#402ab4 stroke=#402ab4 d="M1791 7276l-659 202 25 11 659-202zM1816 7287l-659 202 31 14 659-203zM1806 7313l-659 203 31 14 659-204zM1837 7326l-659 204 31 14 659-204zM1827 7353l-618 191 31 14 618-192zM1858 7366l-618 192 32 14 618-192zM1848 7393l-576 179 31 14 577-180zM1880 7406l-577 180 31 14 577-180zM1911 7420l-577 180 31 14 577-181zM1901 7446l-577 181 31 14 577-182zM1932 7459l-577 182 31 14 577-182zM1922 7486l-536 169 32 14 535-170zM1953 7499l-535 170 31 14 536-170zM1985 7513l-536 170 31 14 536-171zM1975 7539l-495 158 31 14 495-159zM2006 7552l-495 159 32 14 494-159zM1996 7579l-495 159 32 14 494-160zM2027 7592l-494 160 31 14 494-161zM2017 7619l-453 147 31 14 453-148zM2048 7632l-453 148 31 14 453-149zM2079 7645l-453 149 31 14 454-149zM2069 7672l-412 136 32 14 412-137zM2101 7685l-412 137 31 14 412-138zM2091 7712l-412 137 31 14 412-138zM2122 7725l-412 138 31 14 412-139zM2153 7738l-412 139 31 14 412-140zM2143 7765l-371 126 32 14 370-127zM2174 7778l-370 127 31 14 371-128zM2164 7805l-329 114 31 13 330-114zM2196 7818l-330 114 31 14 330-115zM2227 7831l-330 115 31 14 330-116zM2217 7858l-330 116 31 14 330-117zM2248 7871l-330 117 32 14 329-118zM2238 7899l-288 103 31 14 288-105zM2269 7911l-288 105 31 13 288-105zM2259 7939l-247 90 31 14 247-92zM2290 7951l-247 92 32 13 247-92zM2322 7964l-247 92 31 14 247-94zM2312 7992l-247 94 31 13 247-95zM2343 8004l-247 95 31 14 247-97zM2333 8032l-206 81 31 13 206-82zM2364 8044l-206 82 31 14 206-84zM2395 8056l-206 84 32 13 206-85zM2385 8085l-164 68 31 13 165-70zM2417 8096l-165 70 31 13 165-71zM2407 8126l-165 71 31 13 165-73zM2438 8137l-165 73 31 13 165-75zM2469 8148l-165 75 31 13 165-78zM2459 8178l-124 58 32 13 123-61zM2490 8188l-123 61 31 13 124-64zM2480 8219l-82 43 31 12 83-45zM2512 8229l-83 45 31 11 83-47zM2502 8261l-83 48 31 12 83-51zM2533 8270l-83 51 32 12 82-56zM2564 8277l-82 56 31 11 82-62zM2554 8313l-41 31 31 10 41-36z"/><path fill=#3e26a8 stroke=#3e26a8 d="M1132 7478l-371 114 25 11 371-114zM1157 7489l-371 114 31 15 371-115zM1147 7516l-330 102 31 14 330-102zM1178 7530l-330 102 32 14 329-102zM1209 7544l-329 102 31 15 329-103zM1240 7558l-329 103 31 14 330-103zM1272 7572l-330 103 31 14 330-103zM1303 7586l-330 103 31 15 330-104zM1334 7600l-330 104 32 14 329-104zM1324 7627l-288 91 31 14 288-91zM1355 7641l-288 91 31 14 288-91zM1386 7655l-288 91 31 15 289-92zM1418 7669l-289 92 32 14 288-92zM1449 7683l-288 92 31 14 288-92zM1480 7697l-288 92 31 15 288-93zM1511 7711l-288 93 31 14 289-93zM1501 7738l-247 80 31 14 248-80zM1533 7752l-248 80 32 15 247-81zM1564 7766l-247 81 31 14 247-81zM1595 7780l-247 81 31 14 247-81zM1626 7794l-247 81 31 14 247-81zM1657 7808l-247 81 31 15 248-82zM1689 7822l-248 82 32 14 247-82zM1679 7849l-206 69 31 14 206-69zM1710 7863l-206 69 31 15 206-70zM1741 7877l-206 70 31 14 206-70zM1772 7891l-206 70 32 14 206-70zM1804 7905l-206 70 31 15 206-71zM1835 7919l-206 71 31 14 206-72zM1866 7932l-206 72 31 14 206-72zM1897 7946l-206 72 31 14 206-72zM1887 7974l-165 58 32 15 164-59zM1918 7988l-164 59 31 14 165-59zM1950 8002l-165 59 31 14 165-59zM1981 8016l-165 59 31 15 165-61zM2012 8029l-165 61 31 14 165-61zM2043 8043l-165 61 32 14 165-62zM2075 8056l-165 62 31 15 165-63zM2065 8086l-124 47 31 14 124-48zM2096 8099l-124 48 31 14 124-48zM2127 8113l-124 48 32 14 123-49zM2158 8126l-123 49 31 15 123-50zM2189 8140l-123 50 31 14 124-51zM2221 8153l-124 51 31 14 124-52zM2252 8166l-124 52 31 15 124-54zM2242 8197l-83 36 32 14 82-37zM2273 8210l-82 37 31 14 82-38zM2304 8223l-82 38 31 15 82-40zM2335 8236l-82 40 31 14 83-41zM2367 8249l-83 41 32 14 82-42zM2398 8262l-82 42 31 14 82-44zM2429 8274l-82 44 31 15 82-48zM2419 8309l-41 24 31 14 41-26zM2450 8321l-41 26 31 14 42-28zM2482 8333l-42 28 32 15 41-32zM2513 8344l-41 32 31 14 41-36zM2544 8354l-41 36 31 14 41-44z"/><path fill=#4563fd stroke=#4563fd d="M4538 7188l-83 33 32-5 82-34z"/><path fill=#465efb stroke=#465efb d="M4198 7335l-41 17 31-4 41-18zM4106 7383l-41 17 31-6 41-18zM3931 7465l-41 18 31-6 41-18z"/><path fill=#4758f8 stroke=#4758f8 d="M3890 7483l-41 18 31-6 41-18z"/><path fill=#2d8cf3 stroke=#2d8cf3 d="M4725 7102l-124 59 32-30 123-61zM4550 7172l-41 20 31-35 42-22z"/><path fill=#2e87f7 stroke=#2e87f7 d="M4601 7161l-41 20 32-29 41-21z"/><path fill=#4852f4 stroke=#4852f4 d="M3448 7709l-41 19 31-7 41-21z"/><path fill=#2797eb stroke=#2797eb d="M4756 7070l-82 41 31-39 83-43zM4582 7135l-83 43 31-46 83-44z"/><path fill=#2b91ef stroke=#2b91ef d="M4674 7111l-124 61 32-37 123-63z"/><path fill=#23a0e5 stroke=#23a0e5 d="M4788 7029l-124 64 31-50 124-67zM4572 7110l-124 67 31-57 124-71z"/><path fill=#259be8 stroke=#259be8 d="M4664 7093l-82 42 31-47 82-45zM4448 7177l-41 23 31-56 41-24z"/><path fill=#18addb stroke=#18addb d="M4819 6976l-83 44 32-66 82-48zM4562 7072l-83 48 31-77 83-51z"/><path fill=#1ca9df stroke=#1ca9df d="M4736 7020l-82 45 31-64 83-47zM4479 7120l-82 48 31-74 82-51z"/><path fill=#20a5e3 stroke=#20a5e3 d="M4654 7065l-82 45 31-61 82-48zM4397 7168l-41 23 31-71 41-26z"/><path fill=#02bac3 stroke=#02bac3 d="M4850 6906l-41 24 31-92 41-25zM4593 6992l-83 51 32-107 82-55zM4253 7132l-41 28 31-127 41-31z"/><path fill=#01b8ca stroke=#01b8ca d="M4809 6930l-83 47 32-87 82-52zM4510 7043l-82 51 31-102 83-56z"/><path fill=#08b5d0 stroke=#08b5d0 d="M4726 6977l-82 48 31-84 83-51zM4428 7094l-82 51 31-97 82-56z"/><path fill=#12b1d6 stroke=#12b1d6 d="M4644 7025l-82 47 31-80 82-51zM4346 7145l-42 26 32-95 41-28z"/><path fill=#31c69f stroke=#31c69f d="M4881 6813l-41 25 31-125 41-28z"/><path fill=#2cc4a7 stroke=#2cc4a7 d="M4840 6838l-41 26 31-123 41-28zM4500 6964l-41 28 31-146 42-31z"/><path fill=#24c1ae stroke=#24c1ae d="M4799 6864l-83 51 32-118 82-56z"/><path fill=#19bfb6 stroke=#19bfb6 d="M4716 6915l-41 26 31-116 42-28zM4377 7048l-41 28 31-136 41-32z"/><path fill=#64cd6f stroke=#64cd6f d="M4830 6741l-41 28 31-173 41-31z"/><path fill=#4acb84 stroke=#4acb84 d="M4706 6825l-41 28 31-163 42-31z"/><path fill=#f0ba36 stroke=#f0ba36 d="M4944 6503l-42 31 32-271 41-36z"/><path fill=#d1bf27 stroke=#d1bf27 d="M4820 6596l-41 31 31-256 41-36z"/><path fill=#57cc7a stroke=#57cc7a d="M4367 6940l-41 31 31-204 41-36z"/><path fill=#37c897 stroke=#37c897 d="M4243 7033l-41 32 31-189 41-36z"/><path fill=#463cde stroke=#463cde d="M2709 8210l-41 36 31-17 41-44z"/></g><path d="M2534 8404l41-44M2699 8229l41-44M2503 8390l82-72M2668 8246l41-36M4233 6876l41-36M4357 6767l41-36M4810 6371l41-36M4934 6263l41-36M2472 8376l123-94M2636 8251l42-31M4202 7065l82-63M4326 6971l82-63M4490 6846l42-31M4696 6690l42-31M4779 6627l82-62M4902 6534l42-31M2440 8361l165-111M2688 8194l82-56M4212 7160l41-28M4336 7076l288-195M4665 6853l247-168M2409 8347l206-128M2656 8194l124-77M4304 7171l577-358M2378 8333l247-143M2666 8166l124-71M4356 7191l494-285M2347 8318l247-134M2676 8139l124-67M4407 7200l412-224M2316 8304l288-149M2645 8134l165-85M4499 7178l289-149M2284 8290l330-163M2655 8107l206-102M3438 7721l41-21M4509 7192l247-122M2253 8276l371-176M2665 8080l206-98M3407 7728l41-19M4560 7181l165-79M2222 8261l412-189M2675 8053l206-94M2191 8247l412-183M2685 8027l206-92M3880 7495l82-36M2159 8233l454-197M2654 8019l247-108M3849 7501l82-36M4096 7394l41-18M2128 8218l495-209M2664 7992l288-122M4065 7400l41-17M4188 7348l41-18M2097 8204l536-221M2674 7966l288-120M4157 7352l41-17M4487 7216l82-34M2066 8190l577-234M2684 7939l288-117M4455 7221l83-33M2035 8175l618-245M2694 7913l288-115M2003 8161l618-242M2663 7903l370-145M1972 8147l659-254M2673 7877l370-143M1941 8133l700-266M2683 7851l370-141M1910 8118l741-278M2693 7825l370-139M1878 8104l1195-442M1847 8090l783-287M2671 7788l453-166M1816 8075l824-298M2681 7762l453-164M1785 8061l1359-487M1754 8047l1400-498M1722 8032l1484-522M1691 8018l1525-532M1660 8004l1566-543M1629 7990l1607-553M1598 7975l1648-563M1566 7961l1731-587M1535 7947l1772-598M1504 7932l1813-607M1473 7918l1854-618M1441 7904l1937-642M1410 7889l1978-652M1379 7875l2019-662M1348 7861l2060-673M1317 7847l2101-683M1285 7832l2184-706M1254 7818l2225-717M1223 7804l2266-728M1192 7789l2307-737M1161 7775l2389-761M1129 7761l2431-772M1098 7746l2472-782M1067 7732l2472-779M1036 7718l2472-777M1004 7704l2472-775M973 7689l2472-772M942 7675l2472-770M911 7661l2472-768M880 7646l2472-766M848 7632l2472-764M817 7618l2472-762M786 7603l2472-760M761 7592l2472-759M2534 8404l-1773-812M2575 8360l-31-6-31-10-63-23-93-38-125-54-468-211-962-439M2585 8318l-31-5-31-8-63-20-93-36-156-66-469-208-899-408M2595 8282l-31-5-31-7-63-19-93-34-156-64-188-81-281-125-867-393M2699 8229l-31 17-32 5M2605 8250l-31-5-31-7-94-29-94-35-156-64-187-81-281-124-805-364M2740 8185l-31 25-31 10M2615 8219l-62-12-94-29-125-47-156-64-187-80-250-110-774-348M2688 8194l-32 0M2625 8190l-62-13-94-29-125-46-156-63-187-80-250-110-743-333M2729 8166l-31 2-32-2M2604 8155l-94-26-93-33-125-48-156-64-188-80-249-110-650-291M2770 8138l-31 4-31 0-32-3-31-5M2614 8127l-94-27-93-32-125-48-156-64-406-175-649-290M2780 8117l-31 2-31-2-63-10M2624 8100l-94-28-93-33-125-47-156-64-188-79-218-96-618-275M2790 8095l-31 0-31-3-63-12M2634 8072l-94-28-93-33-125-47-156-64-188-79-218-95-587-260M2800 8072l-31-2-31-4-63-13M2613 8036l-94-30-94-34-125-48-156-64-374-161-556-246M2810 8049l-63-8-31-7-62-15M2623 8009l-94-30-94-34-125-49-156-63-374-161-525-232M2820 8026l-63-10-93-24M2633 7983l-94-31-94-35-125-48-156-64-374-160-493-217M2861 8005l-31-3-63-12-93-24M2643 7956l-94-31-94-35-125-48-156-64-343-146-493-217M2871 7982l-31-4-63-13-93-26M2653 7930l-94-32-94-35-125-48-156-64-343-146-462-203M2881 7959l-31-5-63-14-62-17-62-20M2631 7893l-93-33-94-35-250-101-343-145-431-189M2891 7935l-94-21-124-37M2641 7867l-187-69-250-100-312-133-431-188M2901 7911l-94-22-124-38M2651 7840l-187-69-250-100-312-132-399-175M2911 7887l-94-23-93-29-125-43-156-59-188-76-187-78-524-227M2952 7870l-62-14-63-17-62-19-94-32M2640 7777l-187-71-219-88-281-119-368-160M2962 7846l-93-23-94-29-125-43-156-59-187-75-188-78-493-213M2972 7822l-93-24-94-30-125-43-156-59-156-63-187-77-494-212M2982 7798l-93-25-94-30-125-44-156-60-156-62-187-78-462-198M2992 7774l-93-26-94-31-125-44-156-60-156-62-187-78-431-185M3033 7758l-93-26-94-30-125-44-156-59-156-62-187-77-431-184M3043 7734l-93-27-94-30-125-44-125-47-156-62-187-77-431-184M3053 7710l-93-28-94-30-125-45-125-47-312-126-431-183M3438 7721l-31 7M3063 7686l-93-28-94-32-125-45-125-47-312-126-399-170M3479 7700l-31 9M3073 7662l-93-29-94-32-125-45-125-48-312-127-368-156M3083 7637l-93-29-94-32-125-46-125-48-281-114-368-155M3124 7622l-93-29-94-32-125-45-125-48-281-113-368-155M3134 7598l-93-30-94-32-218-81-281-113-369-155M3144 7574l-93-31-94-32-218-82-281-113-337-141M3154 7549l-93-30-94-33-218-83-281-113-306-128M3164 7525l-187-64-218-83-250-101-306-128M3206 7510l-188-63-218-83-250-100-306-127M3216 7486l-188-64-187-71-250-100-306-127M3226 7461l-188-65-187-70-250-100-274-115M3236 7437l-188-66-187-71-219-87-274-114M3246 7412l-157-54-187-71-218-87-275-114M3880 7495l-31 6M3256 7388l-157-55-187-72-218-87-244-100M4233 6876l-31 189M3921 7477l-31 6M3297 7374l-156-55-188-71-218-87-244-100M4274 6840l-31 193-31 127M3962 7459l-31 6M3307 7349l-156-55-188-71-187-75-243-100M4284 7002l-31 130M3317 7325l-156-56-156-59-188-75-243-99M4357 6767l-31 204M3327 7300l-156-56-156-60-188-74-212-87M4398 6731l-31 209-31 136-32 95M3337 7276l-156-57-157-60-187-74-181-75M4408 6908l-31 140-31 97M4096 7394l-31 6M3378 7262l-156-56-156-60-188-74-181-74M4418 7020l-31 100-31 71M4137 7376l-31 7M3388 7237l-125-45-156-59-187-74-181-74M4490 6846l-31 146-31 102-31 74M3398 7213l-125-46-156-59-337-136M4532 6815l-32 149-31 105-31 75-31 56M4188 7348l-31 4M3408 7188l-125-46-156-59-306-123M4542 6936l-32 107-31 77-31 57M4229 7330l-31 5M3418 7164l-250-94-306-123M4583 6909l-31 108-32 79-31 59M3428 7139l-250-95-275-110M4624 6881l-31 111-31 80-32 60-31 46M3469 7126l-250-94-274-110M4696 6690l-31 163M4634 6966l-31 83-31 61-32 47-31 35M3479 7101l-219-82-274-110M4738 6659l-32 166-31 116-31 84-31 63-31 47-32 37M3489 7076l-219-83-243-97M4810 6371l-31 256M4748 6797l-32 118-31 86-31 64-31 49-31 38-32 29M3499 7052l-187-71-244-97M4851 6335l-31 261-31 173-31 121-32 87-31 66-31 50-31 38-32 30M3509 7027l-187-71-213-85M4861 6565l-31 176-31 123-31 90-32 66-31 52-31 39-31 30M4487 7216l-32 5M3550 7014l-187-71-212-84M4934 6263l-32 271M4871 6713l-31 125-31 92-31 68-32 52-31 41-31 31M4528 7199l-31 6M3560 6989l-187-71-181-72M4975 6227l-31 276M4912 6685l-31 128-31 93-31 70-31 53-32 41-31 32M4569 7182l-31 6M3570 6964l-156-59-181-72"/><path fill=#4537d5 d="M3570 6964l-41 13 31 12 41-13z"/><path fill=#4537d5 d="M3560 6989l-41 13 31 12 41-13z"/><path fill=#4537d5 d="M3550 7014l-82 26 31 12 82-27zM3509 7027l31 11"/><path fill=#463cde d="M3540 7038l-41 14 31 11 41-13z"/><path fill=#4537d5 d="M3499 7052l-41 13 31 11 41-13z"/><path fill=#463cde d="M3530 7063l-41 13 31 12 41-14z"/><path fill=#4537d5 d="M3489 7076l-41 14 31 11 41-13z"/><path fill=#4537d5 d="M3479 7101l-41 13 31 12 41-14z"/><path fill=#4537d5 d="M3469 7126l-82 26 31 12 82-27zM3428 7139l31 11"/><path fill=#463cde d="M3459 7150l-41 14 31 11 41-14z"/><path fill=#4537d5 d="M3418 7164l-41 13 31 11 41-13z"/><path fill=#463cde d="M3449 7175l-41 13 31 11 41-13z"/><path fill=#4537d5 d="M3408 7188l-41 14 31 11 41-14z"/><path fill=#4537d5 d="M3398 7213l-41 13 31 11 41-13z"/><path fill=#4537d5 d="M3388 7237l-41 14 31 11 41-14z"/><path fill=#4537d5 d="M3378 7262l-83 27 32 11 82-27zM3337 7276l31 11"/><path fill=#463cde d="M3368 7287l-41 13 31 11 41-14z"/><path fill=#4537d5 d="M3327 7300l-42 14 32 11 41-14z"/><path fill=#4537d5 d="M3317 7325l-42 14 32 10 41-13z"/><path fill=#4537d5 d="M3307 7349l-41 14 31 11 41-14z"/><path fill=#4537d5 d="M3297 7374l-83 28 32 10 82-28zM3256 7388l31 10"/><path fill=#463cde d="M3287 7398l-41 14 31 11 41-14z"/><path fill=#4537d5 d="M3246 7412l-42 15 32 10 41-14z"/><path fill=#463cde d="M3277 7423l-41 14 31 10 41-14z"/><path fill=#4537d5 d="M3236 7437l-42 14 32 10 41-14z"/><path fill=#4537d5 d="M3226 7461l-42 15 32 10 41-15z"/><path fill=#4537d5 d="M3216 7486l-42 14 32 10 41-14z"/><path fill=#463cde d="M3206 7510l-42 15 32 10 41-15z"/><path fill=#4537d5 d="M3164 7525l-41 14 31 10 42-14z"/><path fill=#463cde d="M3196 7535l-42 14 32 10 41-15z"/><path fill=#4537d5 d="M3154 7549l-41 15 31 10 42-15z"/><path fill=#4537d5 d="M3144 7574l-41 14 31 10 42-15z"/><path fill=#4332cb d="M2650 7751l-41 15 31 11 41-15z"/><path fill=#4537d5 d="M3134 7598l-41 15 31 9 42-15z"/><path fill=#4332cb d="M2681 7762l-82 30 31 11 82-30zM2640 7777l31 11"/><path fill=#463cde d="M3124 7622l-41 15 31 9 42-15z"/><path fill=#4537d5 d="M3083 7637l-41 15 31 10 41-16z"/><path fill=#4332cb d="M2671 7788l-41 15 31 11 41-15z"/><path fill=#463cde d="M3114 7646l-41 16 32 8 41-15z"/><path fill=#4537d5 d="M3073 7662l-41 15 31 9 42-16z"/><path fill=#4332cb d="M2661 7814l-41 15 31 11 42-15z"/><path fill=#463cde d="M3105 7670l-42 16 32 8 41-15z"/><path fill=#4537d5 d="M3063 7686l-41 15 31 9 42-16z"/><path fill=#4332cb d="M2693 7825l-83 31 31 11 83-32zM2651 7840l32 11"/><path fill=#4537d5 d="M3053 7710l-41 16 31 8 42-16z"/><path fill=#4332cb d="M2683 7851l-83 31 31 11 83-32zM2641 7867l32 10"/><path fill=#463cde d="M3043 7734l-41 16 31 8 42-16z"/><path fill=#4332cb d="M2673 7877l-83 32 31 10 83-32zM2631 7893l32 10"/><path fill=#463cde d="M3033 7758l-41 16 31 8 42-16z"/><path fill=#4537d5 d="M2992 7774l-41 16 31 8 41-16z"/><path fill=#4332cb d="M2663 7903l-42 16 32 11 41-17z"/><path fill=#463cde d="M3023 7782l-41 16 31 8 42-17z"/><path fill=#4537d5 d="M2982 7798l-41 17 31 7 41-16z"/><path fill=#4332cb d="M2694 7913l-83 33 32 10 82-33zM2653 7930l31 9"/><path fill=#4537d5 d="M2972 7822l-41 17 31 7 41-17z"/><path fill=#4332cb d="M2684 7939l-83 34 32 10 82-34zM2643 7956l31 10"/><path fill=#4537d5 d="M2962 7846l-41 17 31 7 41-17z"/><path fill=#4332cb d="M2674 7966l-83 34 32 9 82-34zM2633 7983l31 9"/><path fill=#463cde d="M2952 7870l-41 17 31 7 41-18z"/><path fill=#4537d5 d="M2911 7887l-41 18 31 6 41-17z"/><path fill=#4332cb d="M2664 7992l-83 35 32 9 82-35zM2623 8009l31 10"/><path fill=#463cde d="M2942 7894l-41 17 31 6 41-18z"/><path fill=#4537d5 d="M2901 7911l-41 18 31 6 41-18z"/><path fill=#4332cb d="M2654 8019l-83 35 32 10 82-37zM2613 8036l31 9"/><path fill=#327cfc d="M4663 7147l-124 55 31-18 124-57zM4621 7165l32-19M4580 7184l31-19"/><path fill=#3875fe d="M4539 7202l-82 37 31-17 82-38zM4498 7220l31-17"/><path fill=#3875fe d="M4415 7257l-41 18 31-15 42-19z"/><path fill=#3e6fff d="M4374 7275l-82 37 31-14 82-38zM4333 7294l31-15"/><path fill=#463cde d="M2932 7917l-41 18 31 5 41-19z"/><path fill=#4537d5 d="M2891 7935l-41 19 31 5 41-19z"/><path fill=#4332cb d="M2685 8027l-82 37 31 8 82-38zM2644 8045l31 8"/><path fill=#2e87f7 d="M4694 7127l-41 19 31-24 41-20z"/><path fill=#2f81fa d="M4653 7146l-124 57 31-22 124-59zM4611 7165l32-24M4570 7184l31-23"/><path fill=#327cfc d="M4529 7203l-124 57 32-21 123-58zM4488 7222l31-22M4447 7241l31-21"/><path fill=#3875fe d="M4405 7260l-164 75 31-18 165-78zM4364 7279l31-20M4323 7298l31-20M4282 7316l31-18"/><path fill=#3e6fff d="M4241 7335l-124 57 31-16 124-59zM4199 7354l32-17M4158 7373l31-16"/><path fill=#4269fe d="M4117 7392l-41 19 31-15 41-20z"/><path fill=#4537d5 d="M2881 7959l-41 19 31 4 41-19z"/><path fill=#4332cb d="M2675 8053l-82 38 31 9 82-40zM2634 8072l31 8"/><path fill=#2e87f7 d="M4560 7181l-82 39 31-28 83-40zM4519 7200l31-28"/><path fill=#2f81fa d="M4478 7220l-124 58 32-25 123-61zM4437 7239l31-26M4395 7259l32-26"/><path fill=#327cfc d="M4354 7278l-123 59 31-23 124-61zM4313 7298l31-24M4272 7317l31-23"/><path fill=#3875fe d="M4231 7337l-124 59 31-21 124-61zM4189 7357l32-23M4148 7376l32-21"/><path fill=#3e6fff d="M4107 7396l-124 58 32-18 123-61zM4066 7415l31-20M4025 7435l31-19"/><path fill=#4269fe d="M3983 7454l-82 39 31-16 83-41zM3942 7474l32-18"/><path fill=#463cde d="M2871 7982l-41 20 31 3 41-20z"/><path fill=#4332cb d="M2665 8080l-82 39 31 8 82-40zM2624 8100l31 7"/><path fill=#2d8cf3 d="M4509 7192l-82 41 31-34 82-42zM4468 7213l31-35"/><path fill=#2e87f7 d="M4427 7233l-83 41 32-32 82-43zM4386 7253l31-33"/><path fill=#2f81fa d="M4344 7274l-123 60 31-29 124-63zM4303 7294l31-31M4262 7314l31-30"/><path fill=#327cfc d="M4221 7334l-124 61 31-26 124-64zM4180 7355l31-28M4138 7375l32-27"/><path fill=#3875fe d="M4097 7395l-123 61 31-23 123-64zM4056 7416l31-26M4015 7436l31-24"/><path fill=#3e6fff d="M3974 7456l-124 61 31-20 124-64zM3932 7477l32-23M3891 7497l31-22"/><path fill=#4269fe d="M3850 7517l-82 41 31-19 82-42zM3809 7538l31-20"/><path fill=#4563fd d="M3768 7558l-124 61 31-16 124-64zM3726 7578l32-18M3685 7599l31-17"/><path fill=#463cde d="M2861 8005l-41 21 31 2 41-21z"/><path fill=#4537d5 d="M2820 8026l-41 20 31 3 41-21z"/><path fill=#4332cb d="M2655 8107l-41 20 31 7 41-21z"/><path fill=#422ec0 d="M2614 8127l-41 21 31 7 41-21z"/><path fill=#2797eb d="M4499 7178l-41 21 31-44 41-23z"/><path fill=#2b91ef d="M4458 7199l-82 43 31-42 82-45zM4417 7220l31-43"/><path fill=#2d8cf3 d="M4376 7242l-124 63 31-38 124-67zM4334 7263l32-41M4293 7284l31-40"/><path fill=#2e87f7 d="M4252 7305l-82 43 31-37 82-44zM4211 7327l31-38"/><path fill=#2f81fa d="M4170 7348l-124 64 31-33 124-68zM4128 7369l32-35M4087 7390l31-34"/><path fill=#327cfc d="M4046 7412l-82 42 31-31 82-44zM4005 7433l31-32"/><path fill=#3875fe d="M3964 7454l-124 64 31-28 124-67zM3922 7475l32-29M3881 7497l31-29"/><path fill=#3e6fff d="M3840 7518l-82 42 31-25 82-45zM3799 7539l31-26"/><path fill=#4269fe d="M3758 7560l-124 64 31-22 124-67zM3716 7582l32-24M3675 7603l31-23"/><path fill=#4563fd d="M3634 7624l-82 43 31-20 82-45zM3593 7645l31-20"/><path fill=#465efb d="M3552 7667l-83 42 31-17 83-45zM3510 7688l32-19"/><path fill=#4758f8 d="M3428 7730l-41 22 31-15 41-23z"/><path fill=#463cde d="M2851 8028l-41 21 31 1 41-23z"/><path fill=#4537d5 d="M2810 8049l-41 21 31 2 41-22z"/><path fill=#4332cb d="M2645 8134l-41 21 31 7 41-23z"/><path fill=#422ec0 d="M2604 8155l-41 22 31 7 41-22z"/><path fill=#259be8 d="M4407 7200l-41 22 31-54 41-24z"/><path fill=#2797eb d="M4366 7222l-83 45 31-52 83-47zM4324 7244l32-53"/><path fill=#2b91ef d="M4283 7267l-123 67 31-48 123-71zM4242 7289l31-50M4201 7311l31-48"/><path fill=#2d8cf3 d="M4160 7334l-83 45 31-45 83-48zM4118 7356l32-46"/><path fill=#2e87f7 d="M4077 7379l-82 44 31-41 82-48zM4036 7401l31-43"/><path fill=#2f81fa d="M3995 7423l-83 45 32-39 82-47zM3954 7446l31-41"/><path fill=#327cfc d="M3912 7468l-123 67 31-35 124-71zM3871 7490l31-37M3830 7513l31-36"/><path fill=#3875fe d="M3789 7535l-83 45 32-32 82-48zM3748 7558l31-34"/><path fill=#3e6fff d="M3706 7580l-82 45 31-29 83-48zM3665 7602l31-30"/><path fill=#4269fe d="M3624 7625l-82 44 31-26 82-47zM3583 7647l31-28"/><path fill=#4563fd d="M3542 7669l-124 68 31-23 124-71zM3500 7692l32-25M3459 7714l31-23"/><path fill=#465efb d="M3418 7737l-82 44 31-19 82-48zM3377 7759l31-21"/><path fill=#4758f8 d="M3336 7781l-83 45 31-16 83-48zM3294 7804l32-18"/><path fill=#4537d5 d="M2800 8072l-41 23 31 0 41-24z"/><path fill=#4332cb d="M2676 8139l-82 45 31 6 83-48zM2635 8162l31 4"/><path fill=#20a5e3 d="M4356 7191l-42 24 32-70 41-25z"/><path fill=#23a0e5 d="M4314 7215l-82 48 31-67 83-51zM4273 7239l31-68"/><path fill=#259be8 d="M4232 7263l-82 47 31-63 82-51zM4191 7286l31-64"/><path fill=#2797eb d="M4150 7310l-83 48 31-59 83-52zM4108 7334l32-61"/><path fill=#2b91ef d="M4067 7358l-82 47 31-55 82-51zM4026 7382l31-58"/><path fill=#2d8cf3 d="M3985 7405l-83 48 32-52 82-51zM3944 7429l31-54"/><path fill=#2e87f7 d="M3902 7453l-82 47 31-48 83-51zM3861 7477l31-51"/><path fill=#2f81fa d="M3820 7500l-82 48 31-45 82-51zM3779 7524l31-46"/><path fill=#327cfc d="M3738 7548l-83 48 31-42 83-51zM3696 7572l32-43"/><path fill=#3875fe d="M3655 7596l-82 47 31-38 82-51zM3614 7619l31-39"/><path fill=#3e6fff d="M3573 7643l-83 48 32-34 82-52zM3532 7667l31-36"/><path fill=#4269fe d="M3490 7691l-82 47 31-30 83-51zM3449 7714l31-32"/><path fill=#4563fd d="M3408 7738l-82 48 31-27 82-51zM3367 7762l31-29"/><path fill=#465efb d="M3326 7786l-83 47 31-23 83-51zM3284 7810l32-26"/><path fill=#4758f8 d="M3243 7833l-82 48 31-20 82-51zM3202 7857l31-21"/><path fill=#463cde d="M2790 8095l-41 24 31-2 41-26z"/><path fill=#4332cb d="M2666 8166l-82 48 31 5 83-51zM2625 8190l31 4"/><path fill=#19bfb6 d="M4675 6941l-41 25 31-113 41-28z"/><path fill=#0bbdbd d="M4634 6966l-41 26 31-111 41-28z"/><path fill=#18addb d="M4304 7171l-82 51 31-90 83-56zM4263 7196l31-92"/><path fill=#1ca9df d="M4222 7222l-82 51 31-85 82-56zM4181 7247l31-87"/><path fill=#20a5e3 d="M4140 7273l-42 26 32-83 41-28z"/><path fill=#23a0e5 d="M4098 7299l-82 51 31-78 83-56zM4057 7324l31-80"/><path fill=#259be8 d="M4016 7350l-82 51 31-73 82-56zM3975 7375l31-75"/><path fill=#2797eb d="M3934 7401l-83 51 31-69 83-55zM3892 7426l32-70"/><path fill=#2b91ef d="M3851 7452l-41 26 31-67 41-28z"/><path fill=#2d8cf3 d="M3810 7478l-82 51 31-62 82-56zM3769 7503l31-64"/><path fill=#2e87f7 d="M3728 7529l-83 51 31-57 83-56zM3686 7554l32-59"/><path fill=#2f81fa d="M3645 7580l-41 25 31-54 41-28z"/><path fill=#327cfc d="M3604 7605l-82 52 31-50 82-56zM3563 7631l31-52"/><path fill=#3875fe d="M3522 7657l-83 51 31-45 83-56zM3480 7682l32-47"/><path fill=#3e6fff d="M3439 7708l-41 25 31-42 41-28z"/><path fill=#4269fe d="M3398 7733l-82 51 31-37 82-56zM3357 7759l31-40"/><path fill=#4563fd d="M3316 7784l-83 52 31-33 83-56zM3274 7810l32-35"/><path fill=#465efb d="M3233 7836l-82 51 31-29 82-55zM3192 7861l31-31"/><path fill=#4758f8 d="M3151 7887l-41 25 31-26 41-28z"/><path fill=#4852f4 d="M3110 7912l-83 51 31-21 83-56zM3068 7938l32-24"/><path fill=#463cde d="M2780 8117l-41 25 31-4 41-28z"/><path fill=#4332cb d="M2656 8194l-41 25 31 3 42-28z"/><path fill=#422ec0 d="M2615 8219l-41 26 31 5 41-28z"/><path fill=#72cd64 d="M4912 6685l-82 56 31-176 83-62zM4871 6713l31-179"/><path fill=#57cc7a d="M4789 6769l-41 28 31-170 41-31z"/><path fill=#4acb84 d="M4748 6797l-42 28 32-166 41-32z"/><path fill=#3fca8e d="M4665 6853l-41 28 31-160 41-31z"/><path fill=#37c897 d="M4624 6881l-82 55 31-152 82-63zM4583 6909l31-157"/><path fill=#31c69f d="M4542 6936l-42 28 32-149 41-31z"/><path fill=#2cc4a7 d="M4459 6992l-41 28 31-143 41-31z"/><path fill=#24c1ae d="M4418 7020l-41 28 31-140 41-31z"/><path fill=#0bbdbd d="M4336 7076l-83 56 31-130 83-62zM4294 7104l32-133"/><path fill=#01b8ca d="M4212 7160l-82 56 31-120 82-63zM4171 7188l31-123"/><path fill=#08b5d0 d="M4130 7216l-42 28 32-117 41-31z"/><path fill=#12b1d6 d="M4088 7244l-82 56 31-111 83-62zM4047 7272l31-114"/><path fill=#18addb d="M4006 7300l-41 28 31-107 41-32z"/><path fill=#1ca9df d="M3965 7328l-41 28 31-104 41-31z"/><path fill=#20a5e3 d="M3924 7356l-83 55 31-97 83-62zM3882 7383l32-100"/><path fill=#23a0e5 d="M3841 7411l-41 28 31-94 41-31z"/><path fill=#259be8 d="M3800 7439l-82 56 31-87 82-63zM3759 7467l31-90"/><path fill=#2797eb d="M3718 7495l-42 28 32-84 41-31z"/><path fill=#2b91ef d="M3676 7523l-82 56 31-77 83-63zM3635 7551l31-81"/><path fill=#2d8cf3 d="M3594 7579l-41 28 31-74 41-31z"/><path fill=#2e87f7 d="M3553 7607l-41 28 31-71 41-31z"/><path fill=#2f81fa d="M3512 7635l-83 56 31-65 83-62zM3470 7663l32-68"/><path fill=#327cfc d="M3429 7691l-41 28 31-61 41-32z"/><path fill=#3875fe d="M3388 7719l-82 56 31-55 82-62zM3347 7747l31-58"/><path fill=#3e6fff d="M3306 7775l-42 28 32-52 41-31z"/><path fill=#4269fe d="M3264 7803l-82 55 31-44 83-63zM3223 7830l31-48"/><path fill=#4563fd d="M3182 7858l-41 28 31-41 41-31z"/><path fill=#465efb d="M3141 7886l-41 28 31-38 41-31z"/><path fill=#4758f8 d="M3100 7914l-83 56 31-31 83-63zM3058 7942l32-35"/><path fill=#4852f4 d="M3017 7970l-41 28 31-28 41-31z"/><path fill=#484df0 d="M2976 7998l-41 28 31-25 41-31z"/><path fill=#463cde d="M2770 8138l-41 28 31-9 41-31z"/><path fill=#4537d5 d="M2729 8166l-41 28 31-6 41-31z"/><path fill=#4332cb d="M2688 8194l-83 56 31 1 83-63zM2646 8222l32-2"/><path fill=#422ec0 d="M2605 8250l-41 27 31 5 41-31z"/><path fill=#e6bb2d d="M4902 6534l-41 31 31-266 42-36z"/><path fill=#dcbd29 d="M4861 6565l-41 31 31-261 41-36z"/><path fill=#d1bf27 d="M4779 6627l-41 32 31-252 41-36z"/><path fill=#c5c22a d="M4738 6659l-42 31 32-247 41-36z"/><path fill=#b9c431 d="M4696 6690l-41 31 31-242 42-36z"/><path fill=#abc739 d="M4655 6721l-41 31 31-237 41-36z"/><path fill=#9dc943 d="M4614 6752l-41 32 31-233 41-36z"/><path fill=#8fcb4e d="M4573 6784l-41 31 31-228 41-36z"/><path fill=#81cc59 d="M4532 6815l-83 62 31-218 83-72zM4490 6846l32-223"/><path fill=#72cd64 d="M4449 6877l-41 31 31-213 41-36z"/><path fill=#64cd6f d="M4408 6908l-41 32 31-209 41-36z"/><path fill=#4acb84 d="M4326 6971l-42 31 32-199 41-36z"/><path fill=#3fca8e d="M4284 7002l-41 31 31-193 42-37z"/><path fill=#31c69f d="M4202 7065l-82 62 31-179 82-72zM4161 7096l31-184"/><path fill=#2cc4a7 d="M4120 7127l-42 31 32-174 41-36z"/><path fill=#24c1ae d="M4078 7158l-41 31 31-169 42-36z"/><path fill=#19bfb6 d="M4037 7189l-41 32 31-165 41-36z"/><path fill=#0bbdbd d="M3996 7221l-41 31 31-160 41-36z"/><path fill=#02bac3 d="M3955 7252l-41 31 31-155 41-36z"/><path fill=#01b8ca d="M3914 7283l-83 62 31-145 83-72zM3872 7314l32-150"/><path fill=#08b5d0 d="M3831 7345l-41 32 31-141 41-36z"/><path fill=#12b1d6 d="M3790 7377l-41 31 31-136 41-36z"/><path fill=#18addb d="M3749 7408l-41 31 31-131 41-36z"/><path fill=#1ca9df d="M3708 7439l-42 31 32-126 41-36z"/><path fill=#20a5e3 d="M3666 7470l-41 32 31-122 42-36z"/><path fill=#23a0e5 d="M3625 7502l-82 62 31-112 82-72zM3584 7533l31-117"/><path fill=#259be8 d="M3543 7564l-41 31 31-106 41-37z"/><path fill=#2797eb d="M3502 7595l-42 31 32-101 41-36z"/><path fill=#2b91ef d="M3460 7626l-41 32 31-97 42-36z"/><path fill=#2d8cf3 d="M3419 7658l-41 31 31-92 41-36z"/><path fill=#2e87f7 d="M3378 7689l-41 31 31-87 41-36z"/><path fill=#2f81fa d="M3337 7720l-41 31 31-82 41-36z"/><path fill=#327cfc d="M3296 7751l-83 63 31-73 83-72zM3254 7782l32-77"/><path fill=#3875fe d="M3213 7814l-41 31 31-68 41-36z"/><path fill=#3e6fff d="M3172 7845l-41 31 31-63 41-36z"/><path fill=#4269fe d="M3131 7876l-41 31 31-58 41-36z"/><path fill=#4563fd d="M3090 7907l-42 32 32-54 41-36z"/><path fill=#465efb d="M3048 7939l-41 31 31-49 42-36z"/><path fill=#4758f8 d="M3007 7970l-82 62 31-39 82-72zM2966 8001l31-44"/><path fill=#4852f4 d="M2925 8032l-41 31 31-34 41-36z"/><path fill=#484df0 d="M2884 8063l-42 32 32-30 41-36z"/><path fill=#4537d5 d="M2719 8188l-41 32 31-10 41-36z"/><path fill=#4332cb d="M2636 8251l-41 31 31 0 42-36z"/><path fill=#422ec0 d="M2595 8282l-41 31 31 5 41-36z"/><path fill=#f6ef20 d="M4769 6407l-41 36 31-410 41-44z"/><path fill=#f5e924 d="M4728 6443l-42 36 32-402 41-44z"/><path fill=#f5e327 d="M4686 6479l-41 36 31-394 42-44z"/><path fill=#f7dc2a d="M4645 6515l-41 36 31-387 41-43z"/><path fill=#fad62d d="M4604 6551l-41 36 31-379 41-44z"/><path fill=#fccf30 d="M4563 6587l-41 36 31-371 41-44z"/><path fill=#fec934 d="M4522 6623l-42 36 32-363 41-44z"/><path fill=#febe3c d="M4480 6659l-41 36 31-355 42-44z"/><path fill=#f8ba3d d="M4439 6695l-41 36 31-347 41-44z"/><path fill=#f0ba36 d="M4398 6731l-41 36 31-339 41-44z"/><path fill=#e6bb2d d="M4357 6767l-41 36 31-331 41-44z"/><path fill=#dcbd29 d="M4316 6803l-42 37 32-324 41-44z"/><path fill=#d1bf27 d="M4274 6840l-41 36 31-316 42-44z"/><path fill=#c5c22a d="M4233 6876l-41 36 31-308 41-44z"/><path fill=#abc739 d="M4192 6912l-41 36 31-300 41-44z"/><path fill=#9dc943 d="M4151 6948l-41 36 31-293 41-43z"/><path fill=#8fcb4e d="M4110 6984l-42 36 32-285 41-44z"/><path fill=#81cc59 d="M4068 7020l-41 36 31-277 42-44z"/><path fill=#72cd64 d="M4027 7056l-41 36 31-269 41-44z"/><path fill=#64cd6f d="M3986 7092l-41 36 31-261 41-44z"/><path fill=#57cc7a d="M3945 7128l-41 36 31-253 41-44z"/><path fill=#3fca8e d="M3904 7164l-42 36 32-245 41-44z"/><path fill=#37c897 d="M3862 7200l-41 36 31-237 42-44z"/><path fill=#31c69f d="M3821 7236l-41 36 31-229 41-44z"/><path fill=#2cc4a7 d="M3780 7272l-41 36 31-221 41-44z"/><path fill=#24c1ae d="M3739 7308l-41 36 31-213 41-44z"/><path fill=#19bfb6 d="M3698 7344l-42 36 32-205 41-44z"/><path fill=#0bbdbd d="M3656 7380l-41 36 31-198 42-43z"/><path fill=#02bac3 d="M3615 7416l-41 36 31-190 41-44z"/><path fill=#08b5d0 d="M3574 7452l-41 37 31-183 41-44z"/><path fill=#12b1d6 d="M3533 7489l-41 36 31-175 41-44z"/><path fill=#18addb d="M3492 7525l-42 36 32-167 41-44z"/><path fill=#1ca9df d="M3450 7561l-41 36 31-159 42-44z"/><path fill=#20a5e3 d="M3409 7597l-41 36 31-151 41-44z"/><path fill=#23a0e5 d="M3368 7633l-41 36 31-143 41-44z"/><path fill=#259be8 d="M3327 7669l-41 36 31-135 41-44z"/><path fill=#2b91ef d="M3286 7705l-42 36 32-127 41-44z"/><path fill=#2d8cf3 d="M3244 7741l-41 36 31-119 42-44z"/><path fill=#2e87f7 d="M3203 7777l-41 36 31-111 41-44z"/><path fill=#2f81fa d="M3162 7813l-41 36 31-104 41-43z"/><path fill=#327cfc d="M3121 7849l-41 36 31-96 41-44z"/><path fill=#3875fe d="M3080 7885l-42 36 32-88 41-44z"/><path fill=#3e6fff d="M3038 7921l-41 36 31-80 42-44z"/><path fill=#4563fd d="M2997 7957l-41 36 31-72 41-44z"/><path fill=#465efb d="M2956 7993l-41 36 31-64 41-44z"/><path fill=#4758f8 d="M2915 8029l-41 36 31-56 41-44z"/><path fill=#4852f4 d="M2874 8065l-42 36 32-48 41-44z"/><path fill=#484df0 d="M2832 8101l-41 37 31-41 42-44z"/><path fill=#4747eb d="M2791 8138l-41 36 31-33 41-44z"/><path fill=#4332cb d="M2668 8246l-42 36 32-10 41-43z"/><path fill=#422ec0 d="M2626 8282l-41 36 31-2 42-44z"/><path fill=#402ab4 d="M2585 8318l-41 36 31 6 41-44z"/><path fill=#f6ef20 d="M4100 6735l-42 44 32-540 41-59z"/><path fill=#f5e327 d="M4058 6779l-41 44 31-526 42-58z"/><path fill=#f7dc2a d="M4017 6823l-41 44 31-511 41-59z"/><path fill=#fccf30 d="M3976 6867l-41 44 31-496 41-59z"/><path fill=#fec338 d="M3935 6911l-41 44 31-481 41-59z"/><path fill=#febe3c d="M3894 6955l-42 44 32-466 41-59z"/><path fill=#f0ba36 d="M3852 6999l-41 44 31-451 42-59z"/><path fill=#e6bb2d d="M3811 7043l-41 44 31-436 41-59z"/><path fill=#d1bf27 d="M3770 7087l-41 44 31-421 41-59z"/><path fill=#b9c431 d="M3729 7131l-41 44 31-406 41-59z"/><path fill=#abc739 d="M3688 7175l-42 43 32-390 41-59z"/><path fill=#8fcb4e d="M3646 7218l-41 44 31-375 42-59z"/><path fill=#72cd64 d="M3605 7262l-41 44 31-360 41-59z"/><path fill=#64cd6f d="M3564 7306l-41 44 31-346 41-58z"/><path fill=#4acb84 d="M3523 7350l-41 44 31-331 41-59z"/><path fill=#37c897 d="M3482 7394l-42 44 32-316 41-59z"/><path fill=#31c69f d="M3440 7438l-41 44 31-301 42-59z"/><path fill=#24c1ae d="M3399 7482l-41 44 31-286 41-59z"/><path fill=#0bbdbd d="M3358 7526l-41 44 31-271 41-59z"/><path fill=#02bac3 d="M3317 7570l-41 44 31-256 41-59z"/><path fill=#08b5d0 d="M3276 7614l-42 44 32-241 41-59z"/><path fill=#18addb d="M3234 7658l-41 44 31-226 42-59z"/><path fill=#1ca9df d="M3193 7702l-41 43 31-210 41-59z"/><path fill=#23a0e5 d="M3152 7745l-41 44 31-195 41-59z"/><path fill=#2797eb d="M3111 7789l-41 44 31-180 41-59z"/><path fill=#2b91ef d="M3070 7833l-42 44 32-166 41-58z"/><path fill=#2e87f7 d="M3028 7877l-41 44 31-151 42-59z"/><path fill=#2f81fa d="M2987 7921l-41 44 31-136 41-59z"/><path fill=#3875fe d="M2946 7965l-41 44 31-121 41-59z"/><path fill=#4269fe d="M2905 8009l-41 44 31-106 41-59z"/><path fill=#4563fd d="M2864 8053l-42 44 32-91 41-59z"/><path fill=#4758f8 d="M2822 8097l-41 44 31-76 42-59z"/><path fill=#484df0 d="M2781 8141l-41 44 31-61 41-59z"/><path fill=#4747eb d="M2740 8185l-41 44 31-46 41-59z"/><path fill=#463cde d="M2699 8229l-41 43 31-30 41-59z"/><path fill=#4332cb d="M2658 8272l-42 44 32-15 41-59z"/><path fill=#422ec0 d="M2616 8316l-41 44 31 0 42-59z"/><path fill=#3e26a8 d="M2575 8360l-41 44 31 15 41-59z"/><path fill=#3e26a8 d="M2606 8360l-41 59 62 28 41-695z"/></g><path d="M76.1 759.2L76.1 569.3" stroke="#c6c6c6" stroke-width="1.5" fill="none"/><path d="M263.4 845.0L510.6 779.7M263.4 845.0L76.1 759.2M263.4 845.0L269.8 847.9M312.8 831.9L319.2 834.9M362.3 818.9L368.6 821.8M411.7 805.8L418.1 808.7M461.2 792.8L467.5 795.7M510.6 779.7L517.0 782.6M263.4 845.0L256.6 846.8M169.7 802.1L163.0 803.9M76.1 759.2L69.3 761.0M76.1 759.2L69.7 756.3M76.1 721.2L69.7 718.3M76.1 683.2L69.7 680.3M76.1 645.3L69.7 642.3M76.1 607.3L69.7 604.4M76.1 569.3L69.7 566.4" stroke="#3a3a3a" stroke-width="0.8" fill="none"/><text x="274.9" y="864.8" font-size="13.4" text-anchor="start">0</text><text x="324.3" y="851.7" font-size="13.4" text-anchor="start">0.2</text><text x="373.8" y="838.7" font-size="13.4" text-anchor="start">0.4</text><text x="423.2" y="825.6" font-size="13.4" text-anchor="start">0.6</text><text x="472.7" y="812.6" font-size="13.4" text-anchor="start">0.8</text><text x="522.1" y="799.5" font-size="13.4" text-anchor="start">1</text><text x="251.4" y="862.8" font-size="13.4" text-anchor="end">0</text><text x="157.7" y="819.9" font-size="13.4" text-anchor="end">0.5</text><text x="64.1" y="777.0" font-size="13.4" text-anchor="end">1</text><text x="64.3" y="760.2" font-size="13.4" text-anchor="end">0</text><text x="64.3" y="722.2" font-size="13.4" text-anchor="end">0.2</text><text x="64.3" y="684.2" font-size="13.4" text-anchor="end">0.4</text><text x="64.3" y="646.3" font-size="13.4" text-anchor="end">0.6</text><text x="64.3" y="608.3" font-size="13.4" text-anchor="end">0.8</text><text x="64.3" y="570.3" font-size="13.4" text-anchor="end">1</text><text x="370.8" y="868.5" class="gk" text-anchor="middle">α</text><text x="171.6" y="863.5" class="gk" text-anchor="middle">ρ</text><text transform="translate(30.1 665.4) rotate(-90)" font-size="14.7" text-anchor="middle">R<tspan font-size="11.7" dy="7">0</tspan></text>
<path d="M799.8 1346.0L682.3 1244.4M850.0 1336.8L732.5 1235.2M900.2 1327.5L782.7 1225.9M950.4 1318.3L832.9 1216.7M1000.6 1309.0L883.1 1207.4M1050.8 1299.8L933.3 1198.2M799.8 1346.0L1050.8 1299.8M741.0 1295.2L992.0 1249.0M682.3 1244.4L933.3 1198.2M682.3 1244.4L682.3 1049.7M732.5 1235.2L732.5 1040.5M782.7 1225.9L782.7 1031.2M832.9 1216.7L832.9 1022.0M883.1 1207.4L883.1 1012.7M933.3 1198.2L933.3 1003.5M682.3 1244.4L933.3 1198.2M682.3 1195.7L933.3 1149.5M682.3 1147.1L933.3 1100.9M682.3 1098.4L933.3 1052.2M682.3 1049.7L933.3 1003.5M1050.8 1299.8L1050.8 1105.1M992.0 1249.0L992.0 1054.3M933.3 1198.2L933.3 1003.5M933.3 1198.2L1050.8 1299.8M933.3 1149.5L1050.8 1251.1M933.3 1100.9L1050.8 1202.5M933.3 1052.2L1050.8 1153.8M933.3 1003.5L1050.8 1105.1" stroke="#e1e1e1" stroke-width="1.1" fill="none"/><g transform="scale(0.1)" stroke="#000" stroke-width="6" stroke-linejoin="round" fill="none"><g stroke-width="6"><path fill=#422ec0 stroke=#422ec0 d="M9166 11926l-335 74 16 12 334-74zM9139 11948l-376 83 20 15 376-84zM9117 11972l-376 83 19 15 377-83zM9095 11996l-377 84 20 15 377-84zM9073 12020l-377 84 20 15 376-84zM9050 12044l-376 85 20 15 376-85zM9028 12068l-376 85 19 15 377-85zM9006 12092l-377 85 20 15 377-85zM8984 12117l-377 85 20 15 376-86zM8961 12141l-376 85 20 15 376-86zM8939 12165l-418 95 19 15 419-95zM8917 12189l-418 96 19 15 419-96zM8895 12213l-419 97 20 15 418-97zM8872 12238l-418 96 20 15 418-97zM8850 12262l-418 97 19 15 419-98zM8828 12286l-418 97 19 15 419-98zM8806 12310l-419 98 20 15 418-98zM8825 12325l-460 108 20 15 460-109zM8803 12349l-460 109 19 14 461-109zM8781 12373l-419 99 20 15 418-100zM8759 12397l-419 100 20 15 418-101zM8736 12421l-418 101 20 15 418-102zM8714 12446l-418 101 19 15 419-102zM8692 12470l-419 102 20 14 418-102zM8670 12494l-419 103 20 14 418-103zM8605 12529l-376 93 20 14 376-93zM8583 12553l-376 94 19 14 377-94zM8561 12577l-377 95 20 14 377-95zM8539 12602l-335 84 20 15 334-85zM8516 12626l-334 86 19 14 335-86zM8494 12651l-334 86 19 14 335-87zM8472 12675l-335 87 20 14 335-87zM8450 12700l-335 87 20 15 334-89zM8427 12724l-292 78 19 14 293-79zM8405 12749l-293 78 20 15 293-80zM8383 12773l-293 80 20 14 293-81zM8361 12798l-293 81 19 14 293-82zM8338 12823l-251 70 20 14 251-71zM8316 12847l-251 72 20 14 251-73zM8294 12872l-251 73 20 14 251-74zM8272 12897l-209 62 19 13 209-62zM8249 12922l-209 63 20 14 209-64zM8227 12947l-167 52 19 13 168-52zM8205 12973l-167 52 19 13 168-53zM8183 12998l-126 40 20 13 125-41zM8160 13024l-125 41 20 13 125-43zM8180 13035l-125 43 19 12 126-44zM8158 13061l-126 44 20 12 125-45zM8136 13087l-84 30 19 12 84-32zM8113 13113l-83 32 19 11 84-33zM8091 13140l-42 16 20 11 42-18zM8111 13149l-84 36 20 10 83-38zM8088 13176l-41 19 19 8 42-20zM8066 13203l-42 21 20 8 42-23z"/><path fill=#402ab4 stroke=#402ab4 d="M8831 12000l-669 148 15 13 670-149zM8763 12031l-628 139 20 15 628-139zM8741 12055l-628 140 20 15 627-140zM8718 12080l-627 139 20 16 627-140zM8696 12104l-627 140 19 16 628-141zM8674 12129l-628 140 20 16 628-141zM8652 12153l-628 141 20 16 627-142zM8629 12177l-585 133 19 15 586-133zM8607 12202l-585 133 19 15 586-133zM8585 12226l-586 133 20 16 586-134zM8521 12260l-544 124 20 16 543-125zM8499 12285l-544 125 19 15 544-125zM8476 12310l-502 115 20 15 502-115zM8454 12334l-502 116 20 16 502-117zM8432 12359l-502 116 19 16 502-117zM8410 12383l-502 117 19 16 502-118zM8387 12408l-460 108 20 15 460-108zM8365 12433l-460 108 20 16 460-109zM8343 12458l-460 108 19 16 460-110zM8362 12472l-460 110 20 15 460-110zM8340 12497l-460 110 20 16 460-111zM8318 12522l-460 111 19 15 461-111zM8296 12547l-419 101 20 15 418-101zM8273 12572l-418 102 20 15 418-103zM8251 12597l-418 102 19 16 419-104zM8229 12622l-377 93 20 15 377-94zM8207 12647l-377 93 20 16 376-95zM8184 12672l-334 84 19 15 335-85zM8204 12686l-376 96 19 15 377-96zM8182 12712l-335 85 20 15 334-86zM8160 12737l-335 86 19 15 335-87zM8137 12762l-293 76 20 15 293-77zM8115 12787l-293 77 20 16 293-78zM8135 12802l-293 78 19 15 293-79zM8112 12827l-292 79 19 15 293-79zM8090 12853l-251 68 20 15 251-69zM8068 12879l-251 69 19 15 251-70zM8087 12893l-251 70 20 15 251-71zM8065 12919l-251 71 20 15 251-72zM8043 12945l-209 60 19 15 210-61zM7979 12983l-126 37 20 15 125-38zM7998 12997l-167 50 20 15 167-51zM7976 13024l-125 38 19 15 126-39zM7996 13038l-168 52 20 15 167-53zM7974 13065l-126 40 20 15 125-41zM7993 13079l-125 41 19 15 126-43zM7971 13106l-126 43 20 15 125-44zM7990 13120l-125 44 20 14 125-45zM7968 13148l-83 30 19 15 84-32zM7988 13161l-84 32 20 14 83-34zM7966 13190l-84 33 19 15 84-36zM7985 13202l-84 36 20 14 84-38zM7963 13233l-42 19 20 13 41-21zM7982 13244l-41 21 19 12 42-23zM7960 13277l-42 23 20 13 42-25z"/><path fill=#3e26a8 stroke=#3e26a8 d="M8162 12148l-1339 296 16 13 1338-296zM8135 12170l-1296 287 19 16 1297-288zM8113 12195l-1255 278 20 17 1255-280zM8091 12219l-1213 271 19 16 1214-271zM8069 12244l-1172 262 20 16 1171-262zM8046 12269l-1129 253 20 17 1129-254zM8024 12294l-1087 245 19 16 1088-245zM8044 12310l-1088 245 20 16 1087-246zM8022 12335l-1046 236 19 17 1046-238zM7999 12359l-1004 229 20 16 1004-229zM7977 12384l-962 220 19 16 963-220zM7955 12410l-921 210 20 17 920-212zM7974 12425l-920 212 20 16 920-213zM7952 12450l-878 203 19 16 879-203zM7930 12475l-837 194 20 17 836-195zM7908 12500l-795 186 19 16 795-186zM7927 12516l-795 186 20 16 795-187zM7905 12541l-753 177 20 17 753-178zM7883 12566l-711 169 19 16 711-169zM7902 12582l-711 169 20 16 711-170zM7880 12607l-669 160 19 17 670-161zM7858 12633l-628 151 20 16 627-152zM7877 12648l-627 152 19 16 628-153zM7855 12674l-586 142 20 16 586-143zM7833 12699l-544 133 20 17 543-134zM7852 12715l-543 134 19 16 544-135zM7830 12740l-502 125 20 16 502-125zM7850 12756l-502 125 19 17 502-127zM7828 12782l-461 116 20 16 460-117zM7847 12797l-460 117 20 16 460-118zM7825 12823l-418 107 19 17 418-109zM7844 12838l-418 109 20 16 418-110zM7822 12864l-376 99 19 16 377-99zM7842 12880l-377 99 20 17 376-101zM7820 12906l-335 90 19 16 335-91zM7839 12921l-335 91 20 16 335-92zM7817 12948l-293 80 20 17 292-82zM7836 12963l-292 82 19 16 293-83zM7814 12990l-251 71 20 16 251-72zM7834 13005l-251 72 19 17 251-74zM7853 13020l-251 74 20 16 251-75zM7831 13047l-209 63 20 16 209-64zM7851 13062l-209 64 19 17 209-66zM7828 13090l-167 53 20 16 167-54zM7848 13105l-167 54 19 16 168-55zM7868 13120l-168 55 20 17 167-57zM7845 13149l-125 43 19 16 126-44zM7865 13164l-126 44 20 16 126-46zM7885 13178l-126 46 20 17 125-48zM7904 13193l-125 48 19 16 126-50zM7882 13223l-84 34 20 16 83-35zM7901 13238l-83 35 19 17 84-38zM7921 13252l-84 38 20 16 84-41zM7941 13265l-84 41 20 16 83-45zM7918 13300l-41 22 19 17 42-26zM7938 13313l-42 26 20 16 42-30zM7958 13325l-42 30 19 16 42-36z"/><path fill=#4332cb stroke=#4332cb d="M8647 12518l-42 11 20 14 42-11zM8625 12543l-42 10 20 14 42-11zM8603 12567l-42 10 20 14 41-10zM8581 12591l-42 11 19 14 42-11zM8558 12616l-42 10 20 14 42-11zM8536 12640l-42 11 20 13 42-11zM8514 12664l-42 11 20 14 41-11zM8492 12689l-42 11 19 13 42-11zM8469 12713l-42 11 20 13 42-11zM8489 12726l-84 23 20 13 83-23zM8467 12751l-84 22 20 13 83-23zM8444 12775l-83 23 19 13 84-23zM8422 12799l-84 24 20 13 84-24zM8400 12824l-84 23 20 13 83-24zM8378 12848l-84 24 20 13 83-25zM8355 12873l-83 24 19 13 84-25zM8333 12897l-84 25 20 13 84-26zM8311 12922l-84 25 20 13 83-27zM8289 12947l-84 26 20 12 83-27zM8266 12971l-83 27 19 12 84-28zM8244 12996l-84 28 20 11 84-28zM8222 13021l-42 14 20 11 41-14zM8200 13046l-42 15 19 11 42-16zM8177 13072l-41 15 19 10 42-16zM8155 13097l-42 16 20 10 42-17zM8133 13123l-42 17 20 9 41-18zM8152 13131l-41 18 19 8 42-19zM8108 13183l-42 20 20 6 42-22z"/><path fill=#2f81fa stroke=#2f81fa d="M10208 12340l-42 15 19-17 42-15z"/><path fill=#2d8cf3 stroke=#2d8cf3 d="M10269 12308l-84 30 20-23 84-32z"/><path fill=#2e87f7 stroke=#2e87f7 d="M10185 12338l-41 15 19-22 42-16z"/><path fill=#2797eb stroke=#2797eb d="M10289 12283l-84 32 20-30 83-34z"/><path fill=#2b91ef stroke=#2b91ef d="M10205 12315l-84 32 20-29 84-33z"/><path fill=#23a0e5 stroke=#23a0e5 d="M10308 12251l-125 50 19-39 126-54z"/><path fill=#259be8 stroke=#259be8 d="M10183 12301l-84 34 20-38 83-35z"/><path fill=#18addb stroke=#18addb d="M10328 12208l-84 36 20-55 83-38zM10055 12284l-84 38 19-64 84-41z"/><path fill=#1ca9df stroke=#1ca9df d="M10244 12244l-84 35 20-52 84-38z"/><path fill=#20a5e3 stroke=#20a5e3 d="M10160 12279l-125 54 20-49 125-57z"/><path fill=#02bac3 stroke=#02bac3 d="M10347 12151l-41 19 19-76 42-21zM10032 12238l-83 41 19-87 84-46z"/><path fill=#01b8ca stroke=#01b8ca d="M10306 12170l-84 38 19-73 84-41z"/><path fill=#08b5d0 stroke=#08b5d0 d="M10222 12208l-84 38 20-70 83-41z"/><path fill=#12b1d6 stroke=#12b1d6 d="M10138 12246l-83 38 19-67 84-41z"/><path fill=#31c69f stroke=#31c69f d="M10367 12073l-42 21 20-106 42-22zM10010 12169l-84 45 20-124 84-51z"/><path fill=#2cc4a7 stroke=#2cc4a7 d="M10325 12094l-84 41 20-102 84-45zM9926 12214l-41 23 19-121 42-26z"/><path fill=#24c1ae stroke=#24c1ae d="M10241 12135l-83 41 19-97 84-46z"/><path fill=#19bfb6 stroke=#19bfb6 d="M10158 12176l-42 21 20-96 41-22z"/><path fill=#0bbdbd stroke=#0bbdbd d="M10116 12197l-84 41 20-92 84-45z"/><path fill=#4acb84 stroke=#4acb84 d="M10177 12079l-41 22 19-138 42-26z"/><path fill=#3fca8e stroke=#3fca8e d="M10136 12101l-84 45 19-132 84-51z"/><path fill=#37c897 stroke=#37c897 d="M10052 12146l-42 23 20-130 41-25z"/><path fill=#57cc7a stroke=#57cc7a d="M9820 12167l-41 25 19-174 42-30z"/></g><path d="M7935 13371l42-36M7916 13355l42-30M9798 12018l42-30M7896 13339l84-51M9779 12192l41-25M9904 12116l293-179M7877 13322l125-68M8044 13232l84-45M9885 12237l502-271M7857 13306l125-62M8024 13224l84-41M9949 12279l418-206M7837 13290l168-76M8047 13195l125-57M9971 12322l376-171M7818 13273l167-71M8027 13185l125-54M10035 12333l293-125M7798 13257l209-84M8049 13156l126-50M10099 12335l209-84M7779 13241l209-80M8030 13145l167-64M10121 12347l168-64M7759 13224l251-91M8052 13117l167-61M10144 12353l125-45M7739 13208l251-88M8032 13105l209-73M10166 12355l42-15M7720 13192l293-100M8055 13078l209-71M7700 13175l293-96M8035 13065l251-83M7681 13159l334-107M8057 13038l251-80M7661 13143l335-105M8038 13025l292-92M7642 13126l376-115M8060 12999l293-90M7622 13110l376-113M8040 12985l335-100M7602 13094l795-234M7583 13077l836-241M7563 13061l879-249M7544 13045l920-257M7524 13028l962-265M7504 13012l1004-273M7485 12996l1004-270M7465 12979l1046-277M7446 12963l1087-285M7426 12947l1130-294M7407 12930l1171-301M7387 12914l1213-309M7367 12898l1255-317M7348 12881l1297-325M7328 12865l1339-333M7309 12849l1380-341M7289 12832l1422-348M7269 12816l1465-356M7250 12800l1506-365M7230 12784l1548-373M7211 12767l1589-380M7191 12751l1632-388M7172 12735l1673-396M7152 12718l1673-393M7132 12702l1716-402M7113 12686l1757-410M7093 12669l1799-417M7074 12653l1840-425M7054 12637l1883-433M7034 12620l1925-440M7015 12604l1966-449M6995 12588l2008-457M6976 12571l2050-464M6956 12555l2092-472M6937 12539l2133-480M6917 12522l2175-487M6897 12506l2218-495M6878 12490l2259-503M6858 12473l2301-511M6839 12457l2342-519M6823 12444l2343-518M7935 13371l-1112-927M7977 13335l-19-10-20-12-39-28-137-108-294-241-603-501M7980 13288l-39-23-40-27-58-44-98-77-294-240-544-451M8002 13254l-39-21-59-40-59-44-98-77-293-238-506-418M8044 13232l-20-8M8005 13214l-39-24-59-41-79-59-97-76-275-223-466-384M8086 13209l-20-6-39-18M8007 13173l-58-39-59-42-176-137-275-222-407-335M8128 13187l-20-4-20-7-19-9-39-22M8010 13133l-59-40-58-43-177-137-254-206-388-318M8130 13157l-39-17-59-35M8013 13092l-118-84-176-137-255-206-348-286M8172 13138l-20-7-39-18-39-23-39-25M8015 13052l-117-86-176-137-235-189-329-270M8175 13106l-59-30-78-51M8018 13011l-117-86-177-138-215-173-310-253M8197 13081l-59-31-39-25-59-40M8021 12971l-118-88-176-137-215-174-271-220M8219 13056l-59-32-58-38-79-55-98-74-254-200-388-315M8241 13032l-58-34-59-38-78-56-98-73-255-199-368-299M8264 13007l-59-34-59-39-78-55-98-73-255-200-348-282M8286 12982l-59-35-59-38-78-56-98-73-235-184-348-281M8308 12958l-59-36-58-39-79-56-98-73-235-183-329-266M8330 12933l-58-36-59-39-78-56-98-73-235-184-310-249M8353 12909l-59-37-59-39-78-57-98-73-215-168-310-248M8375 12885l-59-38-59-40-78-56-98-73-215-168-290-232M8397 12860l-59-37-58-41-79-56-98-73-215-168-270-217M8419 12836l-117-79-157-115-215-167-270-216M8442 12812l-118-79-156-116-196-151-270-216M8464 12788l-118-80-156-116-196-152-251-199M8486 12763l-117-80-157-116-196-152-231-184M8508 12739l-117-81-157-116-176-136-231-184M8511 12702l-117-83-137-102-177-136-211-168M8533 12678l-117-83-137-103-176-136-192-152M8556 12653l-118-83-137-103-157-121-192-152M8578 12629l-118-84-117-87-157-121-192-152M8600 12605l-117-84-118-88-157-121-172-136M8622 12581l-117-85-118-88-309-241M8645 12556l-98-70-118-88-137-105-172-135M8667 12532l-98-70-118-88-289-226M8689 12508l-98-71-117-88-270-210M8711 12484l-195-145-271-209M8734 12460l-196-145-251-194M8756 12435l-196-145-231-179M8778 12411l-176-130-231-179M8800 12387l-176-131-211-163M8823 12363l-177-131-192-148M8845 12339l-157-117-192-148M8848 12300l-138-102-172-133M8870 12276l-137-103-153-117M8892 12252l-117-88-153-117M8914 12228l-250-191M9798 12018l-19 174M8937 12204l-231-176M9840 11988l-20 179M8959 12180l-212-161M8981 12155l-192-145M9904 12116l-19 121M9003 12131l-172-131M9946 12090l-20 124M9026 12107l-153-116M9988 12065l-20 127-19 87M9048 12083l-133-101M10030 12039l-20 130-20 89-19 64M9070 12059l-114-86M10071 12014l-19 132-20 92-19 65M9092 12035l-94-72M10113 11988l-19 136-20 93-19 67-20 49M9115 12011l-75-57M10155 11963l-19 138-20 96-20 68-19 50M9137 11987l-55-42M10197 11937l-20 142-19 97-20 70-19 51-20 38M9159 11962l-35-26M10219 12056l-19 100-20 71-20 52-19 39-20 29M9181 11938l-15-12M10261 12033l-20 102-19 73-20 54-19 39-20 30-19 22M10303 12011l-20 104-19 74-20 55-19 41-20 30-20 23-19 17M10345 11988l-20 106-19 76-20 56-20 42-19 31-20 24-19 17M10387 11966l-20 107-20 78-19 57-20 43-19 32-20 25"/><path fill=#422ec0 d="M9208 11917l-42 9 15 12 42-9z"/><path fill=#422ec0 d="M9181 11938l-42 10 20 14 42-9z"/><path fill=#422ec0 d="M9159 11962l-42 10 20 15 42-10z"/><path fill=#422ec0 d="M9137 11987l-42 9 20 15 41-10z"/><path fill=#422ec0 d="M9115 12011l-42 9 19 15 42-10z"/><path fill=#422ec0 d="M9092 12035l-42 9 20 15 42-9z"/><path fill=#422ec0 d="M9070 12059l-42 9 20 15 42-9z"/><path fill=#422ec0 d="M9048 12083l-42 9 20 15 41-9z"/><path fill=#422ec0 d="M9026 12107l-42 10 19 14 42-9z"/><path fill=#422ec0 d="M9003 12131l-42 10 20 14 42-9z"/><path fill=#422ec0 d="M8981 12155l-42 10 20 15 42-10z"/><path fill=#422ec0 d="M8959 12180l-42 9 20 15 41-10z"/><path fill=#422ec0 d="M8978 12194l-83 19 19 15 84-19zM8937 12204l19 14"/><path fill=#422ec0 d="M8956 12218l-84 20 20 14 84-19zM8914 12228l20 14"/><path fill=#422ec0 d="M8934 12242l-84 20 20 14 83-19zM8892 12252l20 14"/><path fill=#422ec0 d="M8912 12266l-84 20 20 14 83-19zM8870 12276l19 15"/><path fill=#422ec0 d="M8889 12291l-83 19 19 15 84-20zM8848 12300l19 15"/><path fill=#422ec0 d="M8867 12315l-42 10 20 14 42-10z"/><path fill=#422ec0 d="M8845 12339l-42 10 20 14 41-10z"/><path fill=#4332cb d="M8823 12363l-42 10 19 14 42-10z"/><path fill=#4332cb d="M8800 12387l-41 10 19 14 42-10z"/><path fill=#4332cb d="M8778 12411l-42 10 20 14 42-10z"/><path fill=#4332cb d="M8756 12435l-42 11 20 14 41-11z"/><path fill=#4332cb d="M8734 12460l-42 10 19 14 42-10z"/><path fill=#4332cb d="M8711 12484l-41 10 19 14 42-10z"/><path fill=#4332cb d="M8689 12508l-42 10 20 14 42-10z"/><path fill=#4332cb d="M8667 12532l-42 11 20 13 41-10z"/><path fill=#4332cb d="M8645 12556l-42 11 19 14 42-11z"/><path fill=#4332cb d="M8622 12581l-41 10 19 14 42-11z"/><path fill=#4332cb d="M8600 12605l-42 11 20 13 42-11z"/><path fill=#4332cb d="M8620 12618l-84 22 20 13 83-21zM8578 12629l19 13"/><path fill=#4332cb d="M8597 12642l-83 22 19 14 84-22zM8556 12653l19 14"/><path fill=#4332cb d="M8575 12667l-83 22 19 13 84-22zM8533 12678l20 13"/><path fill=#4332cb d="M8553 12691l-84 22 20 13 84-22zM8511 12702l20 13"/><path fill=#4332cb d="M8531 12715l-42 11 19 13 42-11z"/><path fill=#4332cb d="M8508 12739l-41 12 19 12 42-11z"/><path fill=#4332cb d="M8486 12763l-42 12 20 13 42-12z"/><path fill=#4332cb d="M8464 12788l-42 11 20 13 42-12z"/><path fill=#4332cb d="M8442 12812l-42 12 19 12 42-12z"/><path fill=#4332cb d="M8419 12836l-41 12 19 12 42-12z"/><path fill=#4332cb d="M8397 12860l-42 13 20 12 42-13z"/><path fill=#402ab4 d="M8063 12959l-84 24 19 14 84-25zM8021 12971l19 14"/><path fill=#4332cb d="M8375 12885l-42 12 20 12 42-13z"/><path fill=#402ab4 d="M8040 12985l-42 12 20 14 42-12z"/><path fill=#4332cb d="M8353 12909l-42 13 19 11 42-13z"/><path fill=#422ec0 d="M8060 12999l-42 12 20 14 41-13z"/><path fill=#402ab4 d="M8018 13011l-42 13 20 14 42-13z"/><path fill=#4332cb d="M8330 12933l-41 14 19 11 42-14z"/><path fill=#402ab4 d="M8038 13025l-42 13 19 14 42-14z"/><path fill=#4332cb d="M8308 12958l-42 13 20 11 42-13z"/><path fill=#422ec0 d="M8057 13038l-42 14 20 13 42-14z"/><path fill=#402ab4 d="M8015 13052l-41 13 19 14 42-14z"/><path fill=#3875fe d="M10210 12348l-83 28 19-9 84-28zM10168 12362l20-9"/><path fill=#3e6fff d="M10085 12390l-126 41 20-7 125-42zM10043 12403l20-7M10001 12417l20-7"/><path fill=#4332cb d="M8286 12982l-42 14 20 11 42-14z"/><path fill=#402ab4 d="M8035 13065l-42 14 20 13 42-14z"/><path fill=#327cfc d="M10230 12339l-126 43 20-12 125-44zM10188 12353l20-13M10146 12367l20-12"/><path fill=#3875fe d="M10104 12382l-125 42 19-10 126-44zM10063 12396l19-12M10021 12410l19-11"/><path fill=#3e6fff d="M9979 12424l-167 57 19-8 167-59zM9937 12438l20-9M9895 12453l20-10M9853 12467l20-9"/><path fill=#4269fe d="M9812 12481l-42 14 19-8 42-14z"/><path fill=#4332cb d="M8264 13007l-42 14 19 11 42-15z"/><path fill=#422ec0 d="M8055 13078l-42 14 19 13 42-15z"/><path fill=#402ab4 d="M8013 13092l-42 14 19 14 42-15z"/><path fill=#2e87f7 d="M10249 12326l-41 14 19-17 42-15z"/><path fill=#2f81fa d="M10166 12355l-84 29 20-15 83-31zM10124 12370l20-17"/><path fill=#327cfc d="M10082 12384l-125 45 19-15 126-45zM10040 12399l20-15M9998 12414l20-15"/><path fill=#3875fe d="M9957 12429l-126 44 20-13 125-46zM9915 12443l19-13M9873 12458l20-13"/><path fill=#3e6fff d="M9831 12473l-167 59 19-11 168-61zM9789 12487l20-11M9747 12502l20-11M9706 12517l19-11"/><path fill=#4269fe d="M9664 12532l-126 44 20-9 125-46zM9622 12546l20-9M9580 12561l20-9"/><path fill=#4563fd d="M9538 12576l-83 29 19-7 84-31zM9496 12590l20-7"/><path fill=#4332cb d="M8241 13032l-41 14 19 10 42-15z"/><path fill=#422ec0 d="M8032 13105l-42 15 20 13 42-16z"/><path fill=#2e87f7 d="M10144 12353l-84 31 19-21 84-32zM10102 12369l19-22"/><path fill=#2f81fa d="M10060 12384l-126 46 20-19 125-48zM10018 12399l20-20M9976 12414l20-19"/><path fill=#327cfc d="M9934 12430l-167 61 20-16 167-64zM9893 12445l19-18M9851 12460l19-17M9809 12476l19-17"/><path fill=#3875fe d="M9767 12491l-125 46 19-14 126-48zM9725 12506l20-15M9683 12521l20-14"/><path fill=#3e6fff d="M9642 12537l-126 46 20-13 125-47zM9600 12552l19-13M9558 12567l19-12"/><path fill=#4269fe d="M9516 12583l-125 45 19-10 126-48zM9474 12598l20-12M9432 12613l20-11"/><path fill=#4563fd d="M9391 12628l-126 46 20-8 125-48zM9349 12644l19-10M9307 12659l19-9"/><path fill=#465efb d="M9265 12674l-42 16 20-8 42-16z"/><path fill=#4332cb d="M8261 13041l-84 31 20 9 84-32zM8219 13056l20 9"/><path fill=#422ec0 d="M8052 13117l-42 16 20 12 41-16z"/><path fill=#402ab4 d="M8010 13133l-42 15 20 13 42-16z"/><path fill=#2b91ef d="M10121 12347l-42 16 20-28 42-17z"/><path fill=#2d8cf3 d="M10079 12363l-125 48 20-26 125-50zM10038 12379l19-27M9996 12395l19-27"/><path fill=#2e87f7 d="M9954 12411l-84 32 20-24 84-34zM9912 12427l20-25"/><path fill=#2f81fa d="M9870 12443l-125 48 19-22 126-50zM9828 12459l20-24M9787 12475l19-23"/><path fill=#327cfc d="M9745 12491l-126 48 20-20 125-50zM9703 12507l20-21M9661 12523l20-20"/><path fill=#3875fe d="M9619 12539l-125 47 19-16 126-51zM9577 12555l20-19M9536 12570l19-17"/><path fill=#3e6fff d="M9494 12586l-84 32 20-15 83-33zM9452 12602l20-16"/><path fill=#4269fe d="M9410 12618l-125 48 19-13 126-50zM9368 12634l20-14M9326 12650l20-13"/><path fill=#4563fd d="M9285 12666l-126 48 20-10 125-51zM9243 12682l19-12M9201 12698l20-11"/><path fill=#465efb d="M9159 12714l-84 32 20-9 84-33zM9117 12730l20-10"/><path fill=#4332cb d="M8239 13065l-84 32 20 9 83-33zM8197 13081l20 8"/><path fill=#422ec0 d="M8030 13145l-42 16 19 12 42-17z"/><path fill=#2797eb d="M10099 12335l-125 50 19-35 126-53zM10057 12352l20-37M10015 12368l20-35"/><path fill=#2b91ef d="M9974 12385l-84 34 19-33 84-36zM9932 12402l19-34"/><path fill=#2d8cf3 d="M9890 12419l-126 50 20-30 125-53zM9848 12435l20-31M9806 12452l20-31"/><path fill=#2e87f7 d="M9764 12469l-83 34 19-28 84-36zM9723 12486l19-29"/><path fill=#2f81fa d="M9681 12503l-126 50 20-25 125-53zM9639 12519l19-27M9597 12536l20-26"/><path fill=#327cfc d="M9555 12553l-83 33 19-23 84-35zM9513 12570l20-24"/><path fill=#3875fe d="M9472 12586l-126 51 20-20 125-54zM9430 12603l19-22M9388 12620l19-21"/><path fill=#3e6fff d="M9346 12637l-84 33 20-18 84-35zM9304 12653l20-19"/><path fill=#4269fe d="M9262 12670l-125 50 19-15 126-53zM9221 12687l19-17M9179 12704l19-16"/><path fill=#4563fd d="M9137 12720l-84 34 20-13 83-36zM9095 12737l20-14"/><path fill=#465efb d="M9053 12754l-125 50 19-10 126-53zM9011 12771l20-12M8970 12788l19-12"/><path fill=#4758f8 d="M8928 12804l-84 34 20-8 83-36zM8886 12821l19-9"/><path fill=#4332cb d="M8217 13089l-84 34 19 8 84-35zM8175 13106l19 8"/><path fill=#422ec0 d="M8049 13156l-42 17 20 12 42-18z"/><path fill=#402ab4 d="M8007 13173l-41 17 19 12 42-17z"/><path fill=#23a0e5 d="M10035 12333l-84 35 20-46 84-38zM9993 12350l20-47"/><path fill=#259be8 d="M9951 12368l-83 36 19-44 84-38zM9909 12386l20-45"/><path fill=#2797eb d="M9868 12404l-84 35 20-41 83-38zM9826 12421l19-42"/><path fill=#2b91ef d="M9784 12439l-126 53 20-37 126-57zM9742 12457l20-40M9700 12475l20-39"/><path fill=#2d8cf3 d="M9658 12492l-83 36 19-35 84-38zM9617 12510l19-36"/><path fill=#2e87f7 d="M9575 12528l-84 35 20-32 83-38zM9533 12546l20-34"/><path fill=#2f81fa d="M9491 12563l-84 36 20-30 84-38zM9449 12581l20-31"/><path fill=#327cfc d="M9407 12599l-125 53 20-27 125-56zM9366 12617l19-30M9324 12634l19-28"/><path fill=#3875fe d="M9282 12652l-84 36 20-25 84-38zM9240 12670l20-26"/><path fill=#3e6fff d="M9198 12688l-83 35 19-22 84-38zM9156 12705l20-23"/><path fill=#4269fe d="M9115 12723l-84 36 20-20 83-38zM9073 12741l19-21"/><path fill=#4563fd d="M9031 12759l-84 35 20-17 84-38zM8989 12776l20-18"/><path fill=#465efb d="M8947 12794l-125 53 19-13 126-57zM8905 12812l20-16M8864 12830l19-15"/><path fill=#4758f8 d="M8822 12847l-84 36 20-11 83-38zM8780 12865l20-12"/><path fill=#4332cb d="M8194 13114l-42 17 20 7 42-19z"/><path fill=#422ec0 d="M8027 13185l-42 17 20 12 42-19z"/><path fill=#1ca9df d="M9971 12322l-84 38 20-61 83-41zM9929 12341l20-62"/><path fill=#20a5e3 d="M9887 12360l-83 38 19-58 84-41zM9845 12379l20-59"/><path fill=#23a0e5 d="M9804 12398l-84 38 19-54 84-42zM9762 12417l19-56"/><path fill=#259be8 d="M9720 12436l-84 38 20-51 83-41zM9678 12455l20-53"/><path fill=#2797eb d="M9636 12474l-83 38 19-48 84-41zM9594 12493l20-50"/><path fill=#2b91ef d="M9553 12512l-84 38 19-45 84-41zM9511 12531l19-47"/><path fill=#2d8cf3 d="M9469 12550l-84 37 20-41 83-41zM9427 12569l20-44"/><path fill=#2e87f7 d="M9385 12587l-83 38 19-38 84-41zM9343 12606l20-40"/><path fill=#2f81fa d="M9302 12625l-84 38 19-35 84-41zM9260 12644l19-36"/><path fill=#327cfc d="M9218 12663l-84 38 20-32 83-41zM9176 12682l20-33"/><path fill=#3875fe d="M9134 12701l-83 38 19-29 84-41zM9092 12720l20-30"/><path fill=#3e6fff d="M9051 12739l-84 38 19-26 84-41zM9009 12758l19-27"/><path fill=#4269fe d="M8967 12777l-84 38 20-23 83-41zM8925 12796l20-24"/><path fill=#4563fd d="M8883 12815l-83 38 19-20 84-41zM8841 12834l20-21"/><path fill=#465efb d="M8800 12853l-84 38 19-16 84-42zM8758 12872l19-18"/><path fill=#4758f8 d="M8716 12891l-84 38 20-13 83-41zM8674 12910l20-15"/><path fill=#4852f4 d="M8632 12929l-83 38 19-10 84-41zM8590 12948l20-12"/><path fill=#4332cb d="M8172 13138l-84 38 20 7 84-41zM8130 13157l20 5"/><path fill=#422ec0 d="M8047 13195l-42 19 19 10 42-21z"/><path fill=#402ab4 d="M8005 13214l-42 19 19 11 42-20z"/><path fill=#01b8ca d="M9949 12279l-42 20 19-85 42-22z"/><path fill=#08b5d0 d="M9907 12299l-84 41 20-81 83-45zM9865 12320l20-83"/><path fill=#12b1d6 d="M9823 12340l-84 42 20-77 84-46zM9781 12361l20-79"/><path fill=#18addb d="M9739 12382l-41 20 19-75 42-22z"/><path fill=#1ca9df d="M9698 12402l-84 41 20-70 83-46zM9656 12423l19-73"/><path fill=#20a5e3 d="M9614 12443l-84 41 20-66 84-45zM9572 12464l20-69"/><path fill=#23a0e5 d="M9530 12484l-42 21 20-65 42-22z"/><path fill=#259be8 d="M9488 12505l-83 41 19-60 84-46zM9447 12525l19-62"/><path fill=#2797eb d="M9405 12546l-84 41 20-56 83-45zM9363 12566l20-58"/><path fill=#2b91ef d="M9321 12587l-42 21 20-55 42-22z"/><path fill=#2d8cf3 d="M9279 12608l-83 41 19-50 84-46zM9237 12628l20-52"/><path fill=#2e87f7 d="M9196 12649l-84 41 20-46 83-45zM9154 12669l19-48"/><path fill=#2f81fa d="M9112 12690l-42 20 20-43 42-23z"/><path fill=#327cfc d="M9070 12710l-84 41 20-39 84-45zM9028 12731l20-42"/><path fill=#3875fe d="M8986 12751l-83 41 19-35 84-45zM8945 12772l19-38"/><path fill=#3e6fff d="M8903 12792l-84 41 20-31 83-45zM8861 12813l20-33"/><path fill=#4269fe d="M8819 12833l-42 21 20-29 42-23z"/><path fill=#4563fd d="M8777 12854l-83 41 19-25 84-45zM8735 12875l20-28"/><path fill=#465efb d="M8694 12895l-84 41 20-21 83-45zM8652 12916l19-23"/><path fill=#4758f8 d="M8610 12936l-42 21 20-19 42-23z"/><path fill=#4852f4 d="M8568 12957l-84 41 20-15 84-45zM8526 12977l20-17"/><path fill=#484df0 d="M8484 12998l-41 20 19-12 42-23z"/><path fill=#4332cb d="M8150 13162l-42 21 20 4 41-23z"/><path fill=#422ec0 d="M8024 13224l-42 20 20 10 42-22z"/><path fill=#81cc59 d="M10387 11966l-42 22 19-153 42-25z"/><path fill=#72cd64 d="M10345 11988l-42 23 19-150 42-26z"/><path fill=#64cd6f d="M10303 12011l-84 45 20-144 83-51zM10261 12033l20-147"/><path fill=#57cc7a d="M10219 12056l-42 23 20-142 42-25z"/><path fill=#24c1ae d="M9885 12237l-42 22 19-118 42-25z"/><path fill=#19bfb6 d="M9843 12259l-84 46 20-113 83-51zM9801 12282l19-115"/><path fill=#0bbdbd d="M9759 12305l-42 22 20-109 42-26z"/><path fill=#02bac3 d="M9717 12327l-83 46 19-105 84-50zM9675 12350l20-107"/><path fill=#01b8ca d="M9634 12373l-42 22 19-101 42-26z"/><path fill=#08b5d0 d="M9592 12395l-42 23 19-99 42-25z"/><path fill=#12b1d6 d="M9550 12418l-84 45 20-93 83-51zM9508 12440l20-95"/><path fill=#18addb d="M9466 12463l-42 23 20-90 42-26z"/><path fill=#1ca9df d="M9424 12486l-83 45 19-84 84-51zM9383 12508l19-87"/><path fill=#20a5e3 d="M9341 12531l-42 22 19-81 42-25z"/><path fill=#23a0e5 d="M9299 12553l-84 46 20-76 83-51zM9257 12576l20-78"/><path fill=#259be8 d="M9215 12599l-42 22 20-72 42-26z"/><path fill=#2797eb d="M9173 12621l-41 23 19-70 42-25z"/><path fill=#2b91ef d="M9132 12644l-84 45 19-64 84-51zM9090 12667l19-67"/><path fill=#2d8cf3 d="M9048 12689l-42 23 20-61 41-26z"/><path fill=#2e87f7 d="M9006 12712l-84 45 20-55 84-51zM8964 12734l20-58"/><path fill=#2f81fa d="M8922 12757l-41 23 19-53 42-25z"/><path fill=#327cfc d="M8881 12780l-42 22 19-49 42-26z"/><path fill=#3875fe d="M8839 12802l-84 45 20-43 83-51zM8797 12825l19-47"/><path fill=#3e6fff d="M8755 12847l-42 23 20-41 42-25z"/><path fill=#4269fe d="M8713 12870l-83 45 19-35 84-51zM8671 12893l20-39"/><path fill=#4563fd d="M8630 12915l-42 23 19-33 42-25z"/><path fill=#465efb d="M8588 12938l-42 22 19-29 42-26z"/><path fill=#4758f8 d="M8546 12960l-84 46 20-24 83-51zM8504 12983l20-27"/><path fill=#4852f4 d="M8462 13006l-42 22 20-21 42-25z"/><path fill=#484df0 d="M8420 13028l-83 46 19-16 84-51zM8379 13051l19-18"/><path fill=#4747eb d="M8337 13074l-42 22 19-12 42-26z"/><path fill=#4332cb d="M8128 13187l-84 45 19 5 84-51zM8086 13209l19 2"/><path fill=#422ec0 d="M8044 13232l-42 22 20 8 41-25z"/><path fill=#402ab4 d="M8002 13254l-42 23 20 11 42-26z"/><path fill=#f8ba3d d="M10406 11810l-42 25 20-233 42-30z"/><path fill=#f0ba36 d="M10364 11835l-42 26 20-229 42-30z"/><path fill=#e6bb2d d="M10322 11861l-41 25 19-225 42-29z"/><path fill=#dcbd29 d="M10281 11886l-42 26 19-221 42-30z"/><path fill=#d1bf27 d="M10239 11912l-42 25 20-216 41-30z"/><path fill=#c5c22a d="M10197 11937l-42 26 20-212 42-30z"/><path fill=#b9c431 d="M10155 11963l-42 25 20-208 42-29z"/><path fill=#abc739 d="M10113 11988l-83 51 19-199 84-60zM10071 12014l20-204"/><path fill=#9dc943 d="M10030 12039l-42 26 19-196 42-29z"/><path fill=#8fcb4e d="M9988 12065l-42 25 20-191 41-30z"/><path fill=#81cc59 d="M9946 12090l-42 26 20-187 42-30z"/><path fill=#72cd64 d="M9904 12116l-42 25 20-182 42-30z"/><path fill=#64cd6f d="M9862 12141l-42 26 20-179 42-29z"/><path fill=#4acb84 d="M9779 12192l-84 51 20-166 83-59zM9737 12218l19-170"/><path fill=#3fca8e d="M9695 12243l-42 25 20-161 42-30z"/><path fill=#37c897 d="M9653 12268l-42 26 20-157 42-30z"/><path fill=#31c69f d="M9611 12294l-42 25 20-152 42-30z"/><path fill=#2cc4a7 d="M9569 12319l-41 26 19-149 42-29z"/><path fill=#24c1ae d="M9528 12345l-42 25 19-144 42-30z"/><path fill=#19bfb6 d="M9486 12370l-42 26 20-140 41-30z"/><path fill=#0bbdbd d="M9444 12396l-84 51 20-132 84-59zM9402 12421l20-136"/><path fill=#02bac3 d="M9360 12447l-42 25 20-127 42-30z"/><path fill=#01b8ca d="M9318 12472l-41 26 19-124 42-29z"/><path fill=#08b5d0 d="M9277 12498l-42 25 19-119 42-30z"/><path fill=#12b1d6 d="M9235 12523l-42 26 20-115 41-30z"/><path fill=#18addb d="M9193 12549l-42 25 20-110 42-30z"/><path fill=#1ca9df d="M9151 12574l-42 26 20-107 42-29z"/><path fill=#20a5e3 d="M9109 12600l-83 51 19-98 84-60zM9067 12625l20-102"/><path fill=#23a0e5 d="M9026 12651l-42 25 19-94 42-29z"/><path fill=#259be8 d="M8984 12676l-42 26 20-90 41-30z"/><path fill=#2797eb d="M8942 12702l-42 25 20-85 42-30z"/><path fill=#2b91ef d="M8900 12727l-42 26 20-81 42-30z"/><path fill=#2d8cf3 d="M8858 12753l-42 25 20-77 42-29z"/><path fill=#2e87f7 d="M8816 12778l-41 26 19-73 42-30z"/><path fill=#2f81fa d="M8775 12804l-84 50 20-64 83-59zM8733 12829l19-68"/><path fill=#327cfc d="M8691 12854l-42 26 20-60 42-30z"/><path fill=#3875fe d="M8649 12880l-42 25 20-55 42-30z"/><path fill=#3e6fff d="M8607 12905l-42 26 20-51 42-30z"/><path fill=#4269fe d="M8565 12931l-41 25 19-47 42-29z"/><path fill=#4563fd d="M8524 12956l-42 26 19-43 42-30z"/><path fill=#465efb d="M8482 12982l-42 25 20-38 41-30z"/><path fill=#4758f8 d="M8440 13007l-84 51 20-30 84-59zM8398 13033l20-35"/><path fill=#4852f4 d="M8356 13058l-42 26 20-26 42-30z"/><path fill=#484df0 d="M8314 13084l-41 25 19-21 42-30z"/><path fill=#4747eb d="M8273 13109l-42 26 19-18 42-29z"/><path fill=#4741e5 d="M8231 13135l-42 25 20-13 41-30z"/><path fill=#4332cb d="M8105 13211l-83 51 19 4 84-60zM8063 13237l20-1"/><path fill=#422ec0 d="M8022 13262l-42 26 19 7 42-29z"/><path fill=#402ab4 d="M7980 13288l-42 25 20 12 41-30z"/><path fill=#f7f51b d="M10217 11721l-42 30 19-355 42-37z"/><path fill=#f6ef20 d="M10175 11751l-42 29 19-348 42-36z"/><path fill=#f5e924 d="M10133 11780l-42 30 20-341 41-37z"/><path fill=#f5e327 d="M10091 11810l-42 30 20-334 42-37z"/><path fill=#fad62d d="M10049 11840l-42 29 20-327 42-36z"/><path fill=#fccf30 d="M10007 11869l-41 30 19-320 42-37z"/><path fill=#fec934 d="M9966 11899l-42 30 19-314 42-36z"/><path fill=#fec338 d="M9924 11929l-42 30 19-307 42-37z"/><path fill=#febe3c d="M9882 11959l-42 29 20-300 41-36z"/><path fill=#f8ba3d d="M9840 11988l-42 30 20-293 42-37z"/><path fill=#f0ba36 d="M9798 12018l-42 30 20-286 42-37z"/><path fill=#dcbd29 d="M9756 12048l-41 29 19-279 42-36z"/><path fill=#d1bf27 d="M9715 12077l-42 30 19-272 42-37z"/><path fill=#c5c22a d="M9673 12107l-42 30 19-266 42-36z"/><path fill=#b9c431 d="M9631 12137l-42 30 20-259 41-37z"/><path fill=#abc739 d="M9589 12167l-42 29 20-252 42-36z"/><path fill=#9dc943 d="M9547 12196l-42 30 20-245 42-37z"/><path fill=#81cc59 d="M9505 12226l-41 30 19-238 42-37z"/><path fill=#72cd64 d="M9464 12256l-42 29 19-231 42-36z"/><path fill=#64cd6f d="M9422 12285l-42 30 19-224 42-37z"/><path fill=#57cc7a d="M9380 12315l-42 30 20-218 41-36z"/><path fill=#4acb84 d="M9338 12345l-42 29 20-210 42-37z"/><path fill=#3fca8e d="M9296 12374l-42 30 20-203 42-37z"/><path fill=#37c897 d="M9254 12404l-41 30 19-197 42-36z"/><path fill=#2cc4a7 d="M9213 12434l-42 30 19-190 42-37z"/><path fill=#24c1ae d="M9171 12464l-42 29 19-183 42-36z"/><path fill=#19bfb6 d="M9129 12493l-42 30 20-176 41-37z"/><path fill=#0bbdbd d="M9087 12523l-42 30 20-170 42-36z"/><path fill=#02bac3 d="M9045 12553l-42 29 20-162 42-37z"/><path fill=#01b8ca d="M9003 12582l-41 30 19-155 42-37z"/><path fill=#08b5d0 d="M8962 12612l-42 30 19-149 42-36z"/><path fill=#18addb d="M8920 12642l-42 30 19-142 42-37z"/><path fill=#1ca9df d="M8878 12672l-42 29 20-135 41-36z"/><path fill=#20a5e3 d="M8836 12701l-42 30 20-128 42-37z"/><path fill=#23a0e5 d="M8794 12731l-42 30 20-121 42-37z"/><path fill=#259be8 d="M8752 12761l-41 29 19-114 42-36z"/><path fill=#2797eb d="M8711 12790l-42 30 19-107 42-37z"/><path fill=#2d8cf3 d="M8669 12820l-42 30 19-101 42-36z"/><path fill=#2e87f7 d="M8627 12850l-42 30 20-94 41-37z"/><path fill=#2f81fa d="M8585 12880l-42 29 20-87 42-36z"/><path fill=#327cfc d="M8543 12909l-42 30 20-80 42-37z"/><path fill=#3875fe d="M8501 12939l-41 30 19-73 42-37z"/><path fill=#3e6fff d="M8460 12969l-42 29 19-66 42-36z"/><path fill=#4269fe d="M8418 12998l-42 30 19-59 42-37z"/><path fill=#465efb d="M8376 13028l-42 30 20-53 41-36z"/><path fill=#4758f8 d="M8334 13058l-42 30 20-46 42-37z"/><path fill=#4852f4 d="M8292 13088l-42 29 20-38 42-37z"/><path fill=#484df0 d="M8250 13117l-41 30 19-32 42-36z"/><path fill=#4747eb d="M8209 13147l-42 30 19-25 42-37z"/><path fill=#4741e5 d="M8167 13177l-42 29 19-18 42-36z"/><path fill=#4332cb d="M8083 13236l-42 30 20-5 42-36z"/><path fill=#422ec0 d="M8041 13266l-42 29 20 3 42-37z"/><path fill=#402ab4 d="M7999 13295l-41 30 19 10 42-37z"/><path fill=#f7f51b d="M9525 11981l-42 37 20-469 42-50z"/><path fill=#f5e924 d="M9483 12018l-42 36 20-456 42-49z"/><path fill=#f7dc2a d="M9441 12054l-42 37 20-443 42-50z"/><path fill=#fad62d d="M9399 12091l-41 36 19-429 42-50z"/><path fill=#fec934 d="M9358 12127l-42 37 19-417 42-49z"/><path fill=#febe3c d="M9316 12164l-42 37 20-404 41-50z"/><path fill=#f8ba3d d="M9274 12201l-42 36 20-390 42-50z"/><path fill=#e6bb2d d="M9232 12237l-42 37 20-377 42-50z"/><path fill=#d1bf27 d="M9190 12274l-42 36 20-364 42-49z"/><path fill=#c5c22a d="M9148 12310l-41 37 19-351 42-50z"/><path fill=#abc739 d="M9107 12347l-42 36 19-337 42-50z"/><path fill=#8fcb4e d="M9065 12383l-42 37 20-325 41-49z"/><path fill=#81cc59 d="M9023 12420l-42 37 20-312 42-50z"/><path fill=#64cd6f d="M8981 12457l-42 36 20-298 42-50z"/><path fill=#4acb84 d="M8939 12493l-42 37 20-286 42-49z"/><path fill=#3fca8e d="M8897 12530l-41 36 19-272 42-50z"/><path fill=#31c69f d="M8856 12566l-42 37 19-259 42-50z"/><path fill=#24c1ae d="M8814 12603l-42 37 20-246 41-50z"/><path fill=#19bfb6 d="M8772 12640l-42 36 20-233 42-49z"/><path fill=#02bac3 d="M8730 12676l-42 37 20-220 42-50z"/><path fill=#08b5d0 d="M8688 12713l-42 36 20-206 42-50z"/><path fill=#12b1d6 d="M8646 12749l-41 37 19-194 42-49z"/><path fill=#1ca9df d="M8605 12786l-42 36 19-180 42-50z"/><path fill=#23a0e5 d="M8563 12822l-42 37 20-167 41-50z"/><path fill=#259be8 d="M8521 12859l-42 37 20-155 42-49z"/><path fill=#2b91ef d="M8479 12896l-42 36 20-141 42-50z"/><path fill=#2e87f7 d="M8437 12932l-42 37 20-128 42-50z"/><path fill=#2f81fa d="M8395 12969l-41 36 19-114 42-50z"/><path fill=#3875fe d="M8354 13005l-42 37 19-102 42-49z"/><path fill=#4269fe d="M8312 13042l-42 37 20-89 41-50z"/><path fill=#4563fd d="M8270 13079l-42 36 20-75 42-50z"/><path fill=#4758f8 d="M8228 13115l-42 37 20-63 42-49z"/><path fill=#484df0 d="M8186 13152l-42 36 20-49 42-50z"/><path fill=#4747eb d="M8144 13188l-41 37 19-36 42-50z"/><path fill=#463cde d="M8103 13225l-42 36 19-23 42-49z"/><path fill=#4332cb d="M8061 13261l-42 37 20-10 41-50z"/><path fill=#422ec0 d="M8019 13298l-42 37 20 3 42-50z"/><path fill=#3e26a8 d="M7977 13335l-42 36 20 17 42-50z"/><path fill=#3e26a8 d="M7997 13338l-42 50 38 32 42-459z"/></g><path d="M682.3 1244.4L682.3 1049.7" stroke="#707070" stroke-width="1.4" fill="none"/><path d="M799.8 1346.0L1050.8 1299.8M799.8 1346.0L682.3 1244.4M799.8 1346.0L804.3 1349.9M850.0 1336.8L854.5 1340.7M900.2 1327.5L904.7 1331.4M950.4 1318.3L954.9 1322.2M1000.6 1309.0L1005.1 1313.0M1050.8 1299.8L1055.3 1303.7M799.8 1346.0L793.9 1347.1M741.0 1295.2L735.1 1296.3M682.3 1244.4L676.4 1245.5M682.3 1244.4L677.8 1240.5M682.3 1195.7L677.8 1191.8M682.3 1147.1L677.8 1143.1M682.3 1098.4L677.8 1094.5M682.3 1049.7L677.8 1045.8" stroke="#3a3a3a" stroke-width="0.8" fill="none"/><text x="808.8" y="1368.3" font-size="13.4" text-anchor="start">0</text><text x="859.0" y="1359.1" font-size="13.4" text-anchor="start">0.2</text><text x="909.2" y="1349.8" font-size="13.4" text-anchor="start">0.4</text><text x="959.4" y="1340.6" font-size="13.4" text-anchor="start">0.6</text><text x="1009.6" y="1331.3" font-size="13.4" text-anchor="start">0.8</text><text x="1059.8" y="1322.1" font-size="13.4" text-anchor="start">1</text><text x="787.1" y="1363.2" font-size="13.4" text-anchor="end">0</text><text x="728.3" y="1312.4" font-size="13.4" text-anchor="end">0.5</text><text x="669.6" y="1261.6" font-size="13.4" text-anchor="end">1</text><text x="672.4" y="1245.2" font-size="13.4" text-anchor="end">0</text><text x="672.4" y="1196.5" font-size="13.4" text-anchor="end">0.2</text><text x="672.4" y="1147.8" font-size="13.4" text-anchor="end">0.4</text><text x="672.4" y="1099.2" font-size="13.4" text-anchor="end">0.6</text><text x="672.4" y="1050.5" font-size="13.4" text-anchor="end">0.8</text><text x="907.8" y="1373.6" class="gk" text-anchor="middle">β</text><text x="725.6" y="1360.3" class="gk" text-anchor="middle">δ</text><text transform="translate(637.8 1148.5) rotate(-90)" font-size="14.7" text-anchor="middle">R<tspan font-size="11.7" dy="7">0</tspan></text><linearGradient id="cbh" x1="0" y1="0" x2="0" y2="1"><stop offset="0.0000" stop-color="#f9fb15"/><stop offset="0.0476" stop-color="#f5e924"/><stop offset="0.0952" stop-color="#fad62d"/><stop offset="0.1429" stop-color="#fec338"/><stop offset="0.1905" stop-color="#f0ba36"/><stop offset="0.2381" stop-color="#d1bf27"/><stop offset="0.2857" stop-color="#abc739"/><stop offset="0.3333" stop-color="#81cc59"/><stop offset="0.3810" stop-color="#57cc7a"/><stop offset="0.4286" stop-color="#37c897"/><stop offset="0.4762" stop-color="#24c1ae"/><stop offset="0.5238" stop-color="#02bac3"/><stop offset="0.5714" stop-color="#12b1d6"/><stop offset="0.6190" stop-color="#20a5e3"/><stop offset="0.6667" stop-color="#2797eb"/><stop offset="0.7143" stop-color="#2e87f7"/><stop offset="0.7619" stop-color="#3875fe"/><stop offset="0.8095" stop-color="#4563fd"/><stop offset="0.8571" stop-color="#4852f4"/><stop offset="0.9048" stop-color="#4741e5"/><stop offset="0.9524" stop-color="#4332cb"/><stop offset="1.0000" stop-color="#3e26a8"/></linearGradient><rect x="1089.2" y="1003.2" width="20.3" height="342.4" fill="url(#cbh)" stroke="#3a3a3a" stroke-width="0.8"/><text x="1115.0" y="1305.6" font-size="13.4" text-anchor="start">0.1</text><text x="1115.0" y="1252.9" font-size="13.4" text-anchor="start">0.2</text><text x="1115.0" y="1200.3" font-size="13.4" text-anchor="start">0.3</text><text x="1115.0" y="1147.6" font-size="13.4" text-anchor="start">0.4</text><text x="1115.0" y="1094.9" font-size="13.4" text-anchor="start">0.5</text><text x="1115.0" y="1042.2" font-size="13.4" text-anchor="start">0.6</text><path d="M1109.5 1300.8h-3.5M1109.5 1248.1h-3.5M1109.5 1195.5h-3.5M1109.5 1142.8h-3.5M1109.5 1090.1h-3.5M1109.5 1037.4h-3.5" stroke="#3a3a3a" stroke-width="0.8" fill="none"/>
<path d="M1460.6 346.3L1300.7 259.7M1565.1 313.4L1405.2 226.8M1669.6 280.5L1509.7 193.9M1460.6 346.3L1669.6 280.5M1380.6 303.0L1589.6 237.2M1300.7 259.7L1509.7 193.9M1300.7 259.7L1300.7 69.6M1405.2 226.8L1405.2 36.7M1509.7 193.9L1509.7 3.8M1300.7 259.7L1509.7 193.9M1300.7 226.8L1509.7 161.0M1300.7 194.0L1509.7 128.2M1300.7 161.1L1509.7 95.3M1300.7 128.3L1509.7 62.5M1300.7 95.4L1509.7 29.6M1669.6 280.5L1669.6 90.4M1589.6 237.2L1589.6 47.1M1509.7 193.9L1509.7 3.8M1509.7 193.9L1669.6 280.5M1509.7 161.0L1669.6 247.6M1509.7 128.2L1669.6 214.8M1509.7 95.3L1669.6 181.9M1509.7 62.5L1669.6 149.1M1509.7 29.6L1669.6 116.2" stroke="#e1e1e1" stroke-width="1.1" fill="none"/><path d="M1460.6 344.3L1669.6 155.6L1509.7 5.8L1300.7 194.5z" fill="url(#gc)"/><path d="M1460.6 344.3L1300.7 194.5M1460.6 344.3L1669.6 155.6M1464.8 340.6L1304.9 190.7M1457.4 341.3L1666.4 152.6M1469.0 336.8L1309.1 186.9M1454.2 338.3L1663.2 149.6M1473.1 333.0L1313.2 183.2M1451.0 335.3L1660.0 146.6M1477.3 329.2L1317.4 179.4M1447.8 332.3L1656.8 143.6M1481.5 325.5L1321.6 175.6M1444.6 329.3L1653.6 140.6M1485.7 321.7L1325.8 171.8M1441.4 326.3L1650.4 137.6M1489.9 317.9L1330.0 168.1M1438.2 323.3L1647.2 134.7M1494.0 314.1L1334.1 164.3M1435.0 320.4L1644.0 131.7M1498.2 310.4L1338.3 160.5M1431.8 317.4L1640.8 128.7M1502.4 306.6L1342.5 156.7M1428.6 314.4L1637.6 125.7M1506.6 302.8L1346.7 153.0M1425.4 311.4L1634.4 122.7M1510.8 299.0L1350.9 149.2M1422.2 308.4L1631.2 119.7M1514.9 295.3L1355.0 145.4M1419.0 305.4L1628.0 116.7M1519.1 291.5L1359.2 141.6M1415.8 302.4L1624.8 113.7M1523.3 287.7L1363.4 137.9M1412.6 299.4L1621.6 110.7M1527.5 283.9L1367.6 134.1M1409.4 296.4L1618.4 107.7M1531.7 280.2L1371.8 130.3M1406.2 293.4L1615.2 104.7M1535.8 276.4L1375.9 126.5M1403.0 290.4L1612.0 101.7M1540.0 272.6L1380.1 122.8M1399.8 287.4L1608.8 98.7M1544.2 268.8L1384.3 119.0M1396.6 284.4L1605.6 95.7M1548.4 265.1L1388.5 115.2M1393.4 281.4L1602.4 92.7M1552.6 261.3L1392.7 111.4M1390.2 278.4L1599.2 89.7M1556.7 257.5L1396.8 107.7M1387.0 275.4L1596.0 86.7M1560.9 253.8L1401.0 103.9M1383.8 272.4L1592.8 83.7M1565.1 250.0L1405.2 100.1M1380.6 269.4L1589.6 80.7M1569.3 246.2L1409.4 96.4M1377.5 266.4L1586.5 77.7M1573.5 242.4L1413.6 92.6M1374.3 263.4L1583.3 74.7M1577.6 238.7L1417.7 88.8M1371.1 260.4L1580.1 71.7M1581.8 234.9L1421.9 85.0M1367.9 257.4L1576.9 68.7M1586.0 231.1L1426.1 81.3M1364.7 254.4L1573.7 65.7M1590.2 227.3L1430.3 77.5M1361.5 251.4L1570.5 62.7M1594.4 223.6L1434.5 73.7M1358.3 248.4L1567.3 59.7M1598.5 219.8L1438.6 69.9M1355.1 245.4L1564.1 56.7M1602.7 216.0L1442.8 66.2M1351.9 242.4L1560.9 53.7M1606.9 212.2L1447.0 62.4M1348.7 239.4L1557.7 50.7M1611.1 208.5L1451.2 58.6M1345.5 236.4L1554.5 47.7M1615.3 204.7L1455.4 54.8M1342.3 233.4L1551.3 44.7M1619.4 200.9L1459.5 51.1M1339.1 230.4L1548.1 41.7M1623.6 197.1L1463.7 47.3M1335.9 227.4L1544.9 38.7M1627.8 193.4L1467.9 43.5M1332.7 224.4L1541.7 35.7M1632.0 189.6L1472.1 39.7M1329.5 221.4L1538.5 32.8M1636.2 185.8L1476.3 36.0M1326.3 218.4L1535.3 29.8M1640.3 182.0L1480.4 32.2M1323.1 215.5L1532.1 26.8M1644.5 178.3L1484.6 28.4M1319.9 212.5L1528.9 23.8M1648.7 174.5L1488.8 24.6M1316.7 209.5L1525.7 20.8M1652.9 170.7L1493.0 20.9M1313.5 206.5L1522.5 17.8M1657.1 167.0L1497.2 17.1M1310.3 203.5L1519.3 14.8M1661.2 163.2L1501.3 13.3M1307.1 200.5L1516.1 11.8M1665.4 159.4L1505.5 9.6M1303.9 197.5L1512.9 8.8M1669.6 155.6L1509.7 5.8M1300.7 194.5L1509.7 5.8" stroke="#000" stroke-width="0.7" fill="none"/><path d="M1460.6 346.3L1669.6 280.5M1460.6 346.3L1300.7 259.7M1300.7 259.7L1300.7 69.6M1460.6 346.3L1465.0 348.7M1565.1 313.4L1569.5 315.8M1669.6 280.5L1674.0 282.9M1460.6 346.3L1455.8 347.8M1380.6 303.0L1375.9 304.5M1300.7 259.7L1295.9 261.2M1300.7 259.7L1297.8 258.1M1300.7 226.8L1297.8 225.3M1300.7 194.0L1297.8 192.4M1300.7 161.1L1297.8 159.5M1300.7 128.3L1297.8 126.7M1300.7 95.4L1297.8 93.8" stroke="#3a3a3a" stroke-width="0.8" fill="none"/><text x="1469.9" y="365.9" font-size="13.4" text-anchor="start">0</text><text x="1574.4" y="333.0" font-size="13.4" text-anchor="start">0.5</text><text x="1678.9" y="300.1" font-size="13.4" text-anchor="start">1</text><text x="1450.3" y="364.1" font-size="13.4" text-anchor="end">0</text><text x="1370.3" y="320.8" font-size="13.4" text-anchor="end">0.5</text><text x="1290.4" y="277.5" font-size="13.4" text-anchor="end">1</text><text x="1290.4" y="261.5" font-size="13.4" text-anchor="end">0</text><text x="1290.4" y="228.6" font-size="13.4" text-anchor="end">0.2</text><text x="1290.4" y="195.8" font-size="13.4" text-anchor="end">0.4</text><text x="1290.4" y="162.9" font-size="13.4" text-anchor="end">0.6</text><text x="1290.4" y="130.1" font-size="13.4" text-anchor="end">0.8</text><text x="1290.4" y="97.2" font-size="13.4" text-anchor="end">1</text><text x="1560.0" y="368.5" class="gk" text-anchor="middle">α</text><text x="1377.0" y="363.2" class="gk" text-anchor="middle">β</text><text transform="translate(1257.0 165.8) rotate(-90)" font-size="14.7" text-anchor="middle">R<tspan font-size="11.7" dy="7">0</tspan></text><linearGradient id="cbc" x1="0" y1="0" x2="0" y2="1"><stop offset="0.0000" stop-color="#f9fb15"/><stop offset="0.0476" stop-color="#f5e924"/><stop offset="0.0952" stop-color="#fad62d"/><stop offset="0.1429" stop-color="#fec338"/><stop offset="0.1905" stop-color="#f0ba36"/><stop offset="0.2381" stop-color="#d1bf27"/><stop offset="0.2857" stop-color="#abc739"/><stop offset="0.3333" stop-color="#81cc59"/><stop offset="0.3810" stop-color="#57cc7a"/><stop offset="0.4286" stop-color="#37c897"/><stop offset="0.4762" stop-color="#24c1ae"/><stop offset="0.5238" stop-color="#02bac3"/><stop offset="0.5714" stop-color="#12b1d6"/><stop offset="0.6190" stop-color="#20a5e3"/><stop offset="0.6667" stop-color="#2797eb"/><stop offset="0.7143" stop-color="#2e87f7"/><stop offset="0.7619" stop-color="#3875fe"/><stop offset="0.8095" stop-color="#4563fd"/><stop offset="0.8571" stop-color="#4852f4"/><stop offset="0.9048" stop-color="#4741e5"/><stop offset="0.9524" stop-color="#4332cb"/><stop offset="1.0000" stop-color="#3e26a8"/></linearGradient><rect x="1708.4" y="3.8" width="19.8" height="343.0" fill="url(#cbc)" stroke="#3a3a3a" stroke-width="0.8"/><text x="1733.7" y="351.6" font-size="13.4" text-anchor="start">0</text><text x="1733.7" y="292.5" font-size="13.4" text-anchor="start">0.2</text><text x="1733.7" y="233.4" font-size="13.4" text-anchor="start">0.4</text><text x="1733.7" y="174.3" font-size="13.4" text-anchor="start">0.6</text><text x="1733.7" y="115.2" font-size="13.4" text-anchor="start">0.8</text><text x="1733.7" y="56.2" font-size="13.4" text-anchor="start">1</text><path d="M1728.2 346.8h-3.5M1728.2 287.7h-3.5M1728.2 228.6h-3.5M1728.2 169.5h-3.5M1728.2 110.5h-3.5M1728.2 51.4h-3.5" stroke="#3a3a3a" stroke-width="0.8" fill="none"/>
<path d="M839.8 846.1L688.0 780.4M945.3 823.1L793.5 757.4M1050.8 800.1L899.0 734.4M839.8 846.1L1050.8 800.1M763.9 813.2L974.9 767.2M688.0 780.4L899.0 734.4M688.0 780.4L688.0 548.9M793.5 757.4L793.5 525.9M899.0 734.4L899.0 502.9M688.0 780.4L899.0 734.4M688.0 734.1L899.0 688.1M688.0 687.8L899.0 641.8M688.0 641.5L899.0 595.5M688.0 595.2L899.0 549.2M688.0 548.9L899.0 502.9M1050.8 800.1L1050.8 568.6M974.9 767.2L974.9 535.8M899.0 734.4L899.0 502.9M899.0 734.4L1050.8 800.1M899.0 688.1L1050.8 753.8M899.0 641.8L1050.8 707.5M899.0 595.5L1050.8 661.2M899.0 549.2L1050.8 614.9M899.0 502.9L1050.8 568.6" stroke="#e1e1e1" stroke-width="1.1" fill="none"/><g transform="scale(0.1)" stroke="#000" stroke-width="6" stroke-linejoin="round" fill="none"><g stroke-width="6"><path fill=#23a0e5 stroke=#23a0e5 d="M7196 6971l-35 8-35 4 25 11 36-7 35-10zM7056 6983l-35 26 25 12 35-26zM7222 6977l-35 10-36 7 26 13 35-11 35-13zM7081 6995l-35 26 25 12 35-26zM7247 6983l-35 13-35 11 25 12 35-13 35-17zM7106 7007l-35 26 26 13 35-27zM7272 6989l-35 17-35 13 25 13 36-17 35-19zM7132 7019l-35 27 25 12 35-26zM7298 6996l-35 19-36 17 26 12 35-19 35-22zM7192 7026l-35 6-35 26 25 13 35-26 36-6zM7323 7003l-35 22-35 19 25 13 70-47zM7218 7039l-36 6-35 26 25 13 36-27 35-6zM7348 7010l-70 47 25 13 71-54zM7243 7051l-35 6-36 27 26 12 35-26 35-6zM7374 7016l-71 54 26 13 70-60zM7268 7064l-35 6-35 26 25 13 35-26 35-6zM7364 7054l-35 29 25 12 35-32zM7293 7077l-35 6-35 26 25 13 36-26 35-6zM7389 7063l-35 32 25 13 35-35zM7319 7090l-35 6-36 26 26 12 35-26 35-6zM7414 7073l-35 35 25 12 36-38zM7344 7102l-35 6-35 26 25 13 35-26 35-6zM7440 7082l-36 38 26 13 35-41zM7369 7115l-35 6-35 26 25 12 35-26 36-6zM7465 7092l-35 41 25 12 35-44zM7395 7127l-36 6-35 26 26 12 35-26 35-6zM7490 7101l-35 44 25 11 36-46zM7420 7139l-35 6 25 12 35-6zM7516 7110l-36 46 26 12 35-50zM7445 7151l-35 6 25 12 35-6zM7541 7118l-35 50 25 11 35-52zM7470 7163l-35 6 26 11 35-6zM7566 7127l-35 52 25 11 35-55zM7496 7174l-35 6 25 11 35-6zM7591 7135l-35 55 26 10 35-57zM7521 7185l-35 6 25 10 35-6zM7617 7143l-35 57 25 10 35-60zM7546 7195l-35 6-35 26 25 10 36-26 35-6zM7642 7150l-35 60 25 10 35-63zM7572 7205l-35 6-36 26 26 9 35-26 35-6zM7667 7157l-35 63 25 8 36-65zM7597 7214l-35 6-35 26 25 9 35-26 35-6zM7622 7223l-35 6-35 26 25 8 35-26 36-6zM7648 7231l-36 6-35 26 26 7 35-26 35-6zM7743 7173l-35 70 25 7 36-72zM7638 7244l-35 26 25 6 35-26zM7663 7250l-35 26 25 6 35-27zM7688 7255l-35 27 25 4 36-27zM7780 7290l-36 65 26-3 35-66z"/><path fill=#20a5e3 stroke=#20a5e3 d="M7091 6977l-35 6 25 12 35-6zM7116 6989l-35 6 25 12 36-6zM7142 7001l-36 6 26 12 35-6zM7167 7013l-35 6 25 13 35-6zM7383 7006l-35 4 26 6 35-5zM7409 7011l-35 5 25 7 35-8zM7434 7015l-35 8-35 31 25 9 35-33 35-10zM7459 7020l-35 10-35 33 25 10 35-36 36-12zM7449 7037l-35 36 26 9 35-39zM7475 7043l-35 39 25 10 35-42zM7500 7050l-35 42 25 9 35-45zM7525 7056l-35 45 26 9 35-48zM7551 7062l-35 48 25 8 35-50zM7576 7068l-35 50 25 9 35-53zM7601 7074l-35 53 25 8 36-55zM7627 7080l-36 55 26 8 35-58zM7652 7085l-35 58 25 7 35-60zM7677 7090l-35 60 25 7 35-63zM7673 7238l-35 6 25 6 35-6zM7698 7244l-35 6 25 5 35-6zM7819 7183l-35 76 25 3 35-77zM7714 7259l-36 27 26 3 35-27zM7844 7185l-35 77 26 2 35-79zM7739 7262l-35 27 25 2 35-27zM7764 7264l-35 27 25 0 36-27zM9567 7297l-35-11 25 0 35 12z"/><path fill=#2797eb stroke=#2797eb d="M7021 7009l-35 62 25 12 35-62zM7046 7021l-35 62 25 12 35-62zM7071 7033l-35 62 25 12 36-61zM7097 7046l-36 61 26 13 35-62zM7122 7058l-35 62 25 12 35-61zM7147 7071l-35 61 25 13 35-61zM7172 7084l-35 61 26 12 35-61zM7198 7096l-35 61 25 13 35-61zM7223 7109l-35 61 25 12 35-60zM7248 7122l-35 60 25 13 36-61zM7274 7134l-36 61 26 12 35-60zM7299 7147l-35 60 25 12 35-60zM7324 7159l-35 60 25 12 36-60zM7350 7171l-36 60 26 12 35-60zM7375 7183l-35 60 25 12 35-60zM7400 7195l-35 60 25 11 35-60zM7425 7206l-35 60 26 11 35-60zM7451 7217l-35 60 25 10 35-60zM7476 7227l-35 60 25 10 35-60zM7501 7237l-35 60 25 10 36-61zM7527 7246l-36 61 26 8 35-60zM7552 7255l-35 60 25 9 35-61zM7577 7263l-35 61 25 7 36-61zM7603 7270l-36 61 26 7 35-62z"/><path fill=#2e87f7 stroke=#2e87f7 d="M6986 7071l-36 122 26 12 35-122zM7137 7145l-35 120 25 13 36-121zM7163 7157l-36 121 26 12 35-120z"/><path fill=#1ca9df stroke=#1ca9df d="M7520 7018l-35 7-36 12 26 6 35-14 35-8zM7510 7029l-35 14 25 7 35-16zM7535 7034l-35 16 25 6 36-18zM7561 7038l-36 18 26 6 35-20zM7586 7042l-35 20 25 6 35-22zM7611 7046l-35 22 25 6 35-24zM7636 7050l-35 24 26 6 35-26zM7753 7102l-35 66 25 5 35-68zM7790 7264l-36 27 26-1 35-28zM7815 7262l-35 28 25-4 35-28zM9300 7251l-35-11 25-1 35 12zM9360 7262l-70-23 25 0 71 24zM9386 7263l-35-12 25 0 35 12zM9507 7286l-71-24 26 0 70 24zM9532 7286l-35-12 25 0 35 12zM9592 7298l-70-24 25 0 71 24zM9678 7310l-35-12 25 0 35 12zM9739 7321l-71-23 26-1 70 24zM9764 7321l-70-24 25 0 70 24z"/><path fill=#259be8 stroke=#259be8 d="M7385 7145l-35 26 25 12 35-26zM7410 7157l-35 26 25 12 35-26zM7435 7169l-35 26 25 11 36-26zM7461 7180l-36 26 26 11 35-26zM7486 7191l-35 26 25 10 35-26zM7628 7276l-35 62 25 5 35-61zM7653 7282l-35 61 25 5 35-62zM7678 7286l-35 62 26 4 35-63zM7704 7289l-35 63 25 2 35-63z"/><path fill=#18addb stroke=#18addb d="M7662 7054l-35 26 25 5 35-28zM7687 7057l-35 28 25 5 35-30zM7712 7060l-35 30 25 4 36-31zM7738 7063l-36 31 26 4 35-33zM7763 7065l-35 33 25 4 35-35zM7829 7109l-35 72 25 2 35-73zM7854 7110l-35 73 25 2 36-75zM7880 7110l-36 75 26 0 35-76zM8937 7187l-35-11 25 0 35 10zM8998 7197l-36-11 26 0 35 11zM9083 7207l-35-11 26 0 35 11zM9179 7229l-70-22 25-1 70 22zM9169 7217l-35-11 25-1 35 12zM9290 7239l-35-11 25-1 35 12zM9351 7251l-71-24 26-1 70 25zM9411 7263l-35-12 25-1 35 12zM9436 7262l-70-24 25-1 71 25zM9522 7274l-35-12 25-1 35 13zM9583 7286l-71-25 26-1 70 26zM9608 7286l-35-13 25-1 35 13zM9668 7298l-70-26 25-1 71 26zM9694 7297l-36-13 26 0 35 13zM9754 7309l-70-25 25-1 70 26zM9779 7309l-35-13 26 0 35 13z"/><path fill=#12b1d6 stroke=#12b1d6 d="M7788 7067l-35 35 25 3 36-36zM7814 7069l-36 36 26 2 35-37zM7839 7070l-35 37 25 2 35-39zM8378 7107l-36-12 26-1 35 12zM7956 7104l-36 78 26-4 35-78zM8438 7117l-70-23 25 0 70 23zM8463 7117l-35-11 25-1 36 12zM8549 7127l-35-11 25-1 35 11zM8670 7146l-35-10 25-1 35 11zM8730 7157l-35-11 26-1 35 11zM8877 7177l-71-22 26-1 70 22zM9023 7197l-70-22 25-1 70 22zM9048 7196l-35-11 25-1 36 12zM9134 7206l-35-11 25-1 35 11zM9255 7228l-70-24 25-1 70 24zM9280 7227l-35-12 25-1 36 12zM9306 7226l-36-12 26-1 35 12zM9366 7238l-35-13 25-1 35 13zM9426 7250l-70-26 25-2 71 27zM9487 7262l-70-26 25-2 70 27zM9512 7261l-35-13 25-2 36 14zM9573 7273l-71-27 26-1 70 27zM9598 7272l-35-13 25-2 35 14zM9658 7284l-70-27 25-1 71 28zM9684 7284l-35-14 25-1 35 14z"/><path fill=#08b5d0 stroke=#08b5d0 d="M7864 7070l-35 39 25 1 35-40zM7889 7070l-35 40 26 0 35-41zM7981 7100l-35 78 25-6 35-78zM8428 7106l-35-12-35-15 25-1 35 15 35 12zM8514 7116l-35-11 25-2 35 12zM8625 7125l-35-12 25-1 35 11zM8685 7134l-35-11 26-1 35 11zM8746 7145l-35-12 25-1 35 12zM8806 7155l-70-23 25-2 71 24zM8832 7154l-36-12 26-1 35 12zM8892 7164l-35-11 25-2 35 12zM8953 7175l-71-24 26-1 70 24zM9013 7185l-70-23 25-2 70 24zM9038 7184l-70-24 25-2 71 25zM9099 7195l-71-24 26-2 70 25zM9124 7194l-35-12 25-2 35 12zM9185 7204l-71-24 26-2 70 25zM9245 7215l-70-24 25-2 70 25zM9270 7214l-35-12 25-2 36 13zM9331 7225l-71-25 26-3 70 27zM9356 7224l-35-13 25-2 35 13zM9417 7236l-36-14 26-2 35 14zM9477 7248l-70-28 25-2 70 28zM9502 7246l-35-14 25-2 36 15zM9563 7259l-71-29 26-2 70 29zM9588 7257l-35-15 25-1 35 15zM9649 7270l-36-14 26-2 35 15z"/><path fill=#01b8ca stroke=#01b8ca d="M8418 7093l-35-15 25-2 36 16zM8479 7105l-35-13-36-16 26-2 35 16 35 13zM8504 7103l-35-13 25-2 35 14zM8564 7114l-70-26 25-2 71 27zM8590 7113l-35-13 25-2 35 14zM8650 7123l-70-25 25-2 71 26zM8711 7133l-71-23 26-2 70 24zM8736 7132l-35-12 25-2 35 12zM8796 7142l-70-24 25-2 71 25zM8857 7153l-70-25 25-2 70 25zM8882 7151l-35-12 25-2 36 13zM8943 7162l-71-25 26-3 70 26zM8968 7160l-35-13 25-2 35 13zM9028 7171l-35-13 26-2 35 13zM9089 7182l-70-26 25-3 70 27zM9114 7180l-35-13 25-3 36 14zM9175 7191l-71-27 26-3 70 28zM9235 7202l-70-27 25-2 70 27zM9260 7200l-35-14 26-2 35 13zM9321 7211l-70-27 25-3 70 28zM9381 7222l-70-27 25-3 71 28zM9407 7220l-35-14 25-2 35 14zM9467 7232l-70-28 25-4 70 30zM9492 7230l-35-15 26-3 35 16zM9553 7242l-35-14 25-3 35 16zM9613 7256l-70-31 25-3 71 32z"/><path fill=#02bac3 stroke=#02bac3 d="M8383 7078l-35-20 25-2 35 20zM8408 7076l-35-20 25-3 36 21zM8469 7090l-35-16 25-3 35 17zM8494 7088l-35-17 25-2 35 17zM8555 7100l-36-14 26-2 35 14zM8580 7098l-35-14 25-3 35 15zM8640 7110l-35-14 25-3 36 15zM8701 7120l-71-27 26-3 70 28zM8726 7118l-35-13 25-3 35 14zM8787 7128l-71-26 26-3 70 27zM8847 7139l-70-26 25-3 70 27zM8872 7137l-35-14 25-3 36 14zM8933 7147l-71-27 26-3 70 28zM8993 7158l-70-27 25-3 71 28zM9019 7156l-36-14 26-3 35 14zM9079 7167l-70-28 25-4 70 29zM9104 7164l-35-14 25-3 36 14zM9165 7175l-35-14 25-3 35 15zM9225 7186l-70-28 25-4 71 30zM9251 7184l-36-15 26-3 35 15zM9311 7195l-35-14 25-4 35 15zM9372 7206l-71-29 25-4 71 31zM9397 7204l-35-15 25-4 35 15zM9457 7215l-35-15 25-4 36 16zM9518 7228l-71-32 26-3 70 32zM9543 7225l-35-16 25-3 35 16z"/><path fill=#0bbdbd stroke=#0bbdbd d="M8434 7074l-36-21 26-3 35 21zM8459 7071l-35-21 25-4 35 23zM8519 7086l-35-17-35-23 25-4 36 23 35 19zM8545 7084l-35-19 25-3 35 19zM8605 7096l-35-15-35-19 25-5 35 20 35 16zM8630 7093l-35-16 26-4 35 17zM8691 7105l-70-32 25-4 35 18 35 15zM8716 7102l-35-15 25-5 36 17zM8777 7113l-35-14 25-4 35 15zM8837 7123l-70-28 25-5 70 30zM8862 7120l-35-14 26-4 35 15zM8923 7131l-35-14 25-4 35 15zM8983 7142l-70-29 25-5 71 31zM9009 7139l-35-15 25-5 35 16zM9069 7150l-35-15 25-4 35 16zM9130 7161l-71-30 26-5 70 32zM9155 7158l-35-15 25-5 35 16zM9215 7169l-35-15 26-4 35 16zM9276 7181l-70-31 25-5 70 32zM9301 7177l-35-16 25-4 35 16zM9362 7189l-36-16 26-5 35 17zM9422 7200l-70-32 25-5 70 33zM9447 7196l-35-16 26-4 35 17zM9508 7209l-70-33 25-5 70 35z"/><path fill=#19bfb6 stroke=#19bfb6 d="M8398 7053l-35-23 26-5 35 25zM8424 7050l-35-25 25-5 35 26zM8510 7065l-36-23 26-5 35 25zM8535 7062l-35-25 25-6 35 26zM8595 7077l-35-20 25-5 36 21zM8621 7073l-36-21 26-5 35 22zM8681 7087l-35-18 25-5 35 18zM8742 7099l-36-17-35-18 26-6 35 20 35 17zM8767 7095l-35-17 25-6 35 18zM8827 7106l-35-16 25-5 36 17zM8888 7117l-71-32 26-5 70 33zM8913 7113l-35-16 25-6 35 17zM8974 7124l-36-16 26-5 35 16zM9034 7135l-70-32 25-6 70 34zM9059 7131l-35-17 25-5 36 17zM9120 7143l-35-17 25-5 35 17zM9180 7154l-70-33 25-6 71 35zM9206 7150l-36-17 26-6 35 18zM9266 7161l-35-16 25-6 35 18zM9326 7173l-70-34 25-6 71 35zM9352 7168l-35-17 25-6 35 18zM9412 7180l-35-17 25-5 36 18zM9438 7176l-36-18 26-6 35 19z"/><path fill=#24c1ae stroke=#24c1ae d="M8389 7025l-36-31 26-6 35 32zM8449 7046l-35-26 25-5 35 27zM8474 7042l-35-27 26-6 35 28zM8560 7057l-35-26 25-6 35 27zM8585 7052l-35-27 26-7 35 29zM8646 7069l-35-22 25-6 35 23zM8671 7064l-35-23 25-7 36 24zM8732 7078l-35-20 25-6 35 20zM8792 7090l-35-18 25-6 35 19zM8817 7085l-35-19 26-6 35 20zM8878 7097l-35-17 25-7 35 18zM8938 7108l-70-35 25-7 71 37zM8964 7103l-35-18 25-6 35 18zM9024 7114l-35-17 25-7 35 19zM9085 7126l-71-36 26-7 70 38zM9110 7121l-35-18 25-8 35 20zM9170 7133l-35-18 26-7 35 19zM9231 7145l-70-37 25-8 70 39zM9256 7139l-35-19 25-7 35 20zM9317 7151l-36-18 26-7 35 19zM9377 7163l-70-37 25-7 70 39zM9402 7158l-35-19 26-7 35 20z"/><path fill=#2cc4a7 stroke=#2cc4a7 d="M8414 7020l-35-32 25-7 35 34zM8439 7015l-35-34 25-8 36 36zM8500 7037l-35-28 25-7 35 29zM8525 7031l-35-29 25-8 35 31zM8611 7047l-35-29 25-7 35 30zM8697 7058l-36-24 26-8 35 26zM8757 7072l-35-20 25-7 35 21zM8782 7066l-35-21 25-8 36 23zM8843 7080l-35-20 25-8 35 21zM8868 7073l-35-21 25-8 35 22zM8929 7085l-36-19 26-8 35 21zM8989 7097l-35-18 25-8 35 19zM9014 7090l-35-19 25-9 36 21zM9075 7103l-35-20 25-8 35 20zM9135 7115l-35-20 25-7 36 20zM9161 7108l-36-20 26-9 35 21zM9221 7120l-35-20 25-8 35 21zM9281 7133l-35-20 26-8 35 21zM9307 7126l-35-21 25-8 35 22zM9367 7139l-35-20 25-8 36 21z"/><path fill=#37c897 stroke=#37c897 d="M8404 6981l-35-41 25-10 35 43zM8490 7002l-35-38 25-10 35 40zM8515 6994l-35-40 25-11 35 43zM8601 7011l-35-35 25-10 35 36zM8687 7026l-36-33 26-11 35 36zM8772 7037l-35-29 26-11 35 31zM8858 7044l-35-26 25-11 36 27zM8919 7058l-35-24 25-10 35 25zM8944 7049l-35-25 25-12 35 27zM9004 7062l-35-23 26-11 35 25zM9065 7075l-35-22 25-11 35 24zM9090 7066l-35-24 25-12 36 25zM9151 7079l-35-24 25-11 35 25zM9211 7092l-35-23 25-11 35 24zM9236 7082l-35-24 26-11 35 26zM9297 7097l-35-24 25-10 35 25z"/><path fill=#31c69f stroke=#31c69f d="M8465 7009l-36-36 26-9 35 38zM8550 7025l-35-31 25-8 36 32zM8576 7018l-36-32 26-10 35 35zM8636 7041l-35-30 25-9 35 32zM8661 7034l-35-32 25-9 36 33zM8722 7052l-35-26 25-8 35 27zM8747 7045l-35-27 25-10 35 29zM8808 7060l-36-23 26-9 35 24zM8833 7052l-35-24 25-10 35 26zM8893 7066l-35-22 26-10 35 24zM8954 7079l-35-21 25-9 35 22zM8979 7071l-35-22 25-10 35 23zM9040 7083l-36-21 26-9 35 22zM9100 7095l-35-20 25-9 35 22zM9125 7088l-35-22 26-11 35 24zM9186 7100l-35-21 25-10 35 23zM9246 7113l-35-21 25-10 36 23zM9272 7105l-36-23 26-9 35 24zM9332 7119l-35-22 25-9 35 23z"/><path fill=#3fca8e stroke=#3fca8e d="M8429 6973l-35-43 26-11 35 45zM8455 6964l-35-45 25-13 35 48zM8540 6986l-35-43 26-12 35 45zM8626 7002l-35-36 25-12 35 39zM8651 6993l-35-39 26-13 35 41zM8712 7018l-35-36 25-12 35 38zM8737 7008l-35-38 25-13 36 40zM8798 7028l-35-31 25-12 35 33zM8823 7018l-35-33 25-13 35 35zM8884 7034l-36-27 26-13 35 30zM8909 7024l-35-30 25-13 35 31zM8969 7039l-35-27 25-13 36 29zM9030 7053l-35-25 25-12 35 26zM9055 7042l-35-26 25-14 35 28zM9116 7055l-36-25 26-13 35 27zM9176 7069l-35-25 25-13 35 27zM9201 7058l-35-27 25-12 36 28zM9262 7073l-35-26 25-12 35 28z"/><path fill=#4acb84 stroke=#4acb84 d="M8394 6930l-35-23 25-13 36 25zM8420 6919l-36-25 26-15 35 27zM8480 6954l-35-48 25-14 35 51zM8566 6976l-35-45 25-13 35 48zM8591 6966l-35-48 25-15 35 51zM8677 6982l-35-41 25-15 35 44zM8763 6997l-36-40 26-14 35 42zM8848 7007l-35-35 25-15 36 37zM8934 7012l-35-31 25-15 35 33zM8995 7028l-36-29 26-14 35 31zM9080 7030l-35-28 25-15 36 30zM9141 7044l-35-27 25-15 35 29z"/><path fill=#57cc7a stroke=#57cc7a d="M8445 6906l-35-27-36 5 26-18 35-4 35 30zM8505 6943l-35-51 25-15 36 54zM8616 6954l-35-51 25-16 36 54zM8702 6970l-35-44 25-16 35 47zM8788 6985l-35-42 25-17 35 46zM8874 6994l-36-37 26-16 35 40zM8959 6999l-35-33 26-17 35 36zM9020 7016l-35-31 25-16 35 33zM9045 7002l-35-33 25-18 35 36zM9106 7017l-36-30 26-18 35 33zM9166 7031l-35-29 25-14 35 31z"/><path fill=#64cd6f stroke=#64cd6f d="M8470 6892l-35-30-35 4-35 12 25-22 35-10 35-2 35 33zM8531 6931l-36-54 26-17 35 58zM8642 6941l-36-54 26-18 35 57zM8727 6957l-35-47 26-17 35 50zM8813 6972l-35-46 25-17 35 48zM8899 6981l-35-40 25-18 35 43zM8985 6985l-35-36 25-19 35 39zM9070 6987l-35-36 26-20 35 38zM9131 7002l-35-33 25-16 35 35z"/><path fill=#72cd64 stroke=#72cd64 d="M8495 6877l-35-33-35 2-35 10-35 4 25-28 35-1 35-7 36 0 35 36zM8556 6918l-35-58 25-18 35 61zM8581 6903l-35-61 25-21 35 66zM8667 6926l-35-57 25-20 35 61zM8753 6943l-35-50 25-20 35 53zM8838 6957l-35-48 26-20 35 52zM8924 6966l-35-43 25-20 36 46zM9010 6969l-35-39 25-21 35 42zM9096 6969l-35-38 25-19 35 41z"/><path fill=#81cc59 stroke=#81cc59 d="M8521 6860l-35-36-36 0-35 7 25-28 36-4 35 3 35 40zM8606 6887l-35-66 26-22 35 70zM8692 6910l-35-61 25-22 36 66zM8778 6926l-35-53 25-22 35 58zM8864 6941l-35-52 25-22 35 56zM8950 6949l-36-46 26-22 35 49zM9035 6951l-35-42 25-23 36 45z"/><path fill=#8fcb4e stroke=#8fcb4e d="M8415 6831l-35 1 25-32 35 3zM8546 6842l-35-40-35-3 25-28 35 6 35 44zM8718 6893l-36-66 26-24 35 70zM8803 6909l-35-58 25-24 36 62zM8889 6923l-35-56 25-24 35 60zM8975 6930l-35-49 25-25 35 53zM9061 6931l-36-45 26-23 35 49z"/><path fill=#9dc943 stroke=#9dc943 d="M8476 6799l-36 4-35-3 26-36 35 8 35-1zM8571 6821l-35-44 25-27 36 49zM8632 6869l-35-70 25-25 35 75zM8743 6873l-35-70 25-27 35 75zM8829 6889l-36-62 26-26 35 66zM8914 6903l-35-60 25-27 36 65zM9000 6909l-35-53 25-27 35 57z"/><path fill=#abc739 stroke=#abc739 d="M8405 6800l-35-1 25-42 36 7zM8536 6777l-35-6-35 1 25-34 35 3 35 9zM8597 6799l-36-49 26-30 35 54zM8657 6849l-35-75 25-28 35 81zM8768 6851l-35-75 25-30 35 81zM8854 6867l-35-66 25-29 35 71zM8940 6881l-36-65 26-29 35 69zM9025 6886l-35-57 26-28 35 62z"/><path fill=#b9c431 stroke=#b9c431 d="M8466 6772l-71-15 26-46 70 27zM8561 6750l-35-9-35-3 25-38 36 7 35 13zM8682 6827l-35-81 25-30 36 87zM8879 6843l-35-71 25-33 35 77zM8965 6856l-35-69 25-33 35 75z"/><path fill=#c5c22a stroke=#c5c22a d="M8395 6757l-35-1 26-54 35 9zM8491 6738l-35-13 25-44 35 19zM8622 6774l-35-54 25-33 35 59zM8708 6803l-36-87 26-34 35 94zM8793 6827l-35-81 26-32 35 87z"/><path fill=#d1bf27 stroke=#d1bf27 d="M8456 6725l-35-14 25-52 35 22zM8587 6720l-35-13-36-7 26-42 35 11 35 18zM8647 6746l-35-59 25-36 35 65zM8819 6801l-35-87 25-37 35 95zM8904 6816l-35-77 26-35 35 83zM8990 6829l-35-75 25-33 36 80z"/><path fill=#dcbd29 stroke=#dcbd29 d="M8421 6711l-35-9-36 13 26-74 35-1 35 19zM8516 6700l-35-19 26-50 35 27zM8612 6687l-35-18 25-41 35 23zM8733 6776l-35-94 25-37 35 101zM8930 6787l-35-83 25-40 35 90z"/><path fill=#e6bb2d stroke=#e6bb2d d="M8481 6681l-35-22 25-58 36 30zM8577 6669l-35-11 25-47 35 17zM8672 6716l-35-65 26-41 35 72zM8844 6772l-35-95 25-39 35 101z"/><path fill=#f0ba36 stroke=#f0ba36 d="M8446 6659l-35-19 25-69 35 30zM8542 6658l-35-27 25-54 35 34zM8637 6651l-35-23 25-46 36 28zM8698 6682l-35-72 25-44 35 79zM8869 6739l-35-101 25-44 36 110zM8955 6754l-35-90 25-40 35 97z"/><path fill=#f8ba3d stroke=#f8ba3d d="M8411 6640l-35 1 25-83 35 13zM8602 6628l-35-17 25-53 35 24z"/><path fill=#febe3c stroke=#febe3c d="M8507 6631l-36-30 26-65 35 41zM8567 6611l-35-34 25-61 35 42zM8663 6610l-36-28 26-51 35 35zM8723 6645l-35-79 25-49 35 87zM8895 6704l-36-110 26-50 35 120z"/><path fill=#fec338 stroke=#fec338 d="M8471 6601l-35-30 26-76 35 41zM8627 6582l-35-24 26-57 35 30zM8809 6677l-35-118 25-50 35 129z"/><path fill=#fec934 stroke=#fec934 d="M8436 6571l-35-13 25-92 36 29zM8532 6577l-35-41 25-71 35 51zM8688 6566l-35-35 25-56 35 42zM8748 6604l-35-87 26-54 35 96zM8920 6664l-35-120 25-49 35 129z"/><path fill=#fccf30 stroke=#fccf30 d="M8401 6558l-35-6 25-108 35 22zM8592 6558l-35-42 25-68 36 53zM8653 6531l-35-30 25-65 35 39zM8834 6638l-35-129 25-55 35 140z"/><path fill=#fad62d stroke=#fad62d d="M8497 6536l-35-41 25-86 35 56zM8713 6517l-35-42 25-62 36 50zM8774 6559l-35-96 25-60 35 106z"/><path fill=#f5e327 stroke=#f5e327 d="M8462 6495l-36-29 26-104 35 47zM8678 6475l-35-39 25-71 35 48zM8739 6463l-36-50 26-69 35 59z"/><path fill=#f5e924 stroke=#f5e924 d="M8426 6466l-35-22 25-121 36 39zM8522 6465l-35-56 25-95 35 71zM8799 6509l-35-106 25-67 35 118zM8885 6544l-35-151 25-63 35 165z"/><path fill=#f7dc2a stroke=#f7dc2a d="M8557 6516l-35-51 25-80 35 63zM8618 6501l-36-53 26-75 35 63zM8859 6594l-35-140 26-61 35 151z"/><path fill=#f7f51b stroke=#f7f51b d="M8416 6323l-35-27 26-13 35 2zM8764 6403l-35-59 25-61 35 53zM8824 6454l-35-118 25-55 36 112z"/><path fill=#f6ef20 stroke=#f6ef20 d="M8582 6448l-35-63 26-89 35 77zM8643 6436l-35-63 25-83 35 75zM8703 6413l-35-48 26-78 35 57z"/></g><path d="M9770 7296l35 13M9252 7035l35 28 70 48 36 21 70 39 105 51 71 32 70 29 70 26M8875 6330l35 165 35 129 35 97 36 80 35 62 35 49 35 41 35 35 35 31 36 28 70 50 70 42 106 54 105 48 106 43 105 37M8814 6281l36 112 35 151 35 120 35 90 35 75 35 57 36 45 35 38 35 33 35 29 70 51 71 44 35 19 70 35 106 48 140 56 106 37M8754 6283l35 53 35 118 35 140 36 110 35 83 35 69 35 53 35 42 35 36 36 30 35 27 70 48 70 41 106 52 105 45 141 55 106 36M8694 6287l70 116 35 106 35 129 35 101 35 77 36 65 35 49 35 39 35 33 35 28 36 25 70 45 70 39 70 34 71 31 105 42 106 40M9643 7298l35 12M8633 6290l35 75 71 98 35 96 35 118 35 95 35 71 35 60 36 46 35 36 35 31 35 26 35 24 71 42 70 37 70 32 106 43 105 41 106 37M8573 6296l35 77 35 63 70 81 35 87M8784 6714l35 87 35 66 35 56 35 43 35 33 36 29 35 25 70 42 35 20 71 35 70 31 105 41 106 40 105 36M8407 6283l35 2M8512 6314l35 71 35 63 36 53 35 30 35 35 35 79 35 101 35 81 36 62 35 52 35 40 35 31 35 27 35 23 71 41 70 35 70 31 106 42 141 51 105 35M8381 6296l35 27 36 39 35 47 35 56 35 51 35 42 35 24 36 28 35 72 35 94 35 75 35 58 35 48 36 37 35 30 35 25 35 22 70 38 71 34 70 30 70 27 141 50 106 36M8391 6444l35 22 36 29 70 82 35 34 35 17 35 23 35 65 36 87 35 70 35 53 35 46 35 35 36 27 35 24 70 39 70 34 71 30 70 28 211 74M8366 6552l35 6 35 13 71 60 35 27 35 11 35 18 35 59 35 81 36 66 35 50 35 42 35 33 35 26 35 22 36 19 70 34 70 31 106 41 211 72M8376 6641l35-1 35 19 35 22 35 19 36 7 35 13 35 54 35 75 35 61 35 47 36 40 35 31 35 24 35 21 35 18 71 33 70 29 105 39 211 70M8350 6715l36-13 35 9 70 27 35 3 35 9 36 49 35 70 35 57 35 44 35 38 35 29 36 23 35 20 35 17 70 31 106 41 140 48M9265 7240l35 11M8360 6756l35 1 71 15 35-1 35 6 35 44 35 66 36 54 35 41 35 36 35 27 35 21 35 19 36 17 70 29 105 40 176 57M8370 6799l70 4 36-4 35 3 35 40 35 61 35 51 35 39 36 33 35 26 35 20 35 18 106 44 105 38 176 57M8380 6832l35-1 35-7 36 0 35 36 35 58 35 48 35 36 35 32 36 24 35 20 35 17 70 28 106 39 140 45M8355 6860l35-4 35-10 35-2 35 33 36 54 35 45 35 35 35 30 35 23 35 18 71 31 105 38 141 46M8365 6878l35-12 35-4 35 30 35 51 35 43 36 32 35 29 35 22 35 18 35 15 71 26 105 36M8927 7176l71 21M8374 6884l36-5 35 27 35 48 35 40 35 31 35 27 36 21 35 17 70 28 106 36 105 33M8384 6894l36 25 35 45 35 38 35 29 35 26 35 20 71 31 105 36 106 33M8359 6907l35 23 35 43 36 36 35 28 35 25 35 19 35 15 71 26 70 23M8369 6940l35 41 35 34 35 27 36 23 35 19 35 14 35 14 70 22M8721 7145l35 11M8379 6988l35 32 35 26 35 23 35 17 36 14 70 25M8660 7135l70 22M8353 6994l36 31 35 25 35 21 35 17 70 26M8635 7136l35 10M8363 7030l71 44 35 16 35 13 70 23M8373 7056l35 20 36 16 35 13 70 22M8348 7058l35 20 35 15 71 24M7971 7172l35-78M8358 7079l35 15 70 23M7770 7352l35-66 35-28M7946 7178l35-78M8368 7094l70 23M7744 7355l36-65 35-28M7920 7182l36-78M8342 7095l36 12M7754 7291l36-27M7694 7354l35-63 35-27M7835 7264l70-155M7669 7352l35-63 35-27M7809 7262l71-152 35-41M7643 7348l35-62 36-27M7784 7259l70-149 35-40M7618 7343l35-61 35-27 35-6M7794 7181l35-72 35-39M7593 7338l35-62 35-26 35-6M7733 7250l36-72M7804 7107l35-37M7567 7331l36-61 35-26 35-6M7708 7243l70-138 36-36M7542 7324l35-61 35-26 36-6M7718 7168l35-66 35-35M7517 7315l35-60 35-26 35-6M7657 7228l36-65M7728 7098l35-33M7491 7307l36-61 35-26 35-6M7632 7220l70-126 36-31M7466 7297l35-60 36-26 35-6M7607 7210l70-120 35-30M7441 7287l35-60 35-26 35-6M7582 7200l70-115 35-28M7416 7277l35-60 35-26 35-6M7556 7190l71-110 35-26M7390 7266l35-60 36-26 35-6M7531 7179l70-105 35-24M7365 7255l35-60 35-26 35-6M7506 7168l70-100 35-22M7340 7243l35-60 35-26 35-6M7480 7156l71-94 35-20M7314 7231l36-60 35-26 35-6M7455 7145l70-89 36-18M7289 7219l35-60 35-26 36-6M7430 7133l70-83 35-16M7264 7207l35-60 35-26 35-6M7404 7120l71-77 35-14 35-8M7238 7195l36-61 35-26 35-6M7379 7108l70-71 36-12 35-7M7213 7182l35-60 36-26 35-6M7354 7095l70-65 35-10M7153 7290l35-120 35-61 35-26 35-6M7329 7083l70-60 35-8M7127 7278l36-121 35-61 35-26 35-6M7303 7070l71-54 35-5M7102 7265l35-120 35-61 36-27 35-6M7278 7057l70-47 35-4M7112 7132l35-61 35-26 36-6M7253 7044l35-19 35-22M7087 7120l35-62 35-26 35-6M7227 7032l36-17 35-19M7061 7107l36-61 35-27 35-6M7202 7019l35-13 35-17M7036 7095l35-62 35-26 36-6M7177 7007l35-11 35-13M6976 7205l35-122 35-62 35-26 35-6M7151 6994l36-7 35-10M6950 7193l36-122 35-62 35-26 35-6M7126 6983l35-4 35-8M7153 7290l-51-25M6976 7205l-26-12M7770 7352l-26 3M7694 7354l-51-6-76-17-50-16-76-28-76-32-76-36-228-112-75-36M7805 7286l-51 5-25 0-51-5-25-4-50-12-76-24-76-29-101-46-253-125-76-37M7840 7258l-50 6-26 0-50-5-26-4-50-11-76-24-76-29-101-46-253-126-76-36M8407 6283l-26 13M7723 7249l-50-11-51-15-50-18-76-31-101-47-228-114-76-36M8442 6285l-26 38-25 121-25 108M7835 7264l-51-5M7733 7250l-25-7M7657 7228l-75-28-102-44-354-173M8452 6362l-26 104-25 92-25 83-26 74M7971 7172l-51 10M7870 7185l-26 0-50-4M7769 7178l-51-10M7693 7163l-76-20-101-33-279-104-76-27M8512 6314l-25 95-25 86-26 76-25 69-25 62-26 54M8006 7094l-50 10M7905 7109l-51 1-76-5-50-7-76-13-127-29-253-67-76-18M8573 6296l-26 89-25 80-25 71-26 65-25 58-25 52-26 46-25 42M7915 7069l-51 1-50-1-102-9-126-18-203-36M8633 6290l-25 83-26 75-25 68-25 61-25 54-26 50-25 44-25 39-26 36-25 32-25 28M7545 7021l-25-3M8694 6287l-26 78-25 71-25 65-26 57-25 53-25 47-26 42-25 38-25 34-26 31-25 28-50 47M8754 6283l-25 61-26 69-25 62-25 56-26 51-25 46-25 41-25 38-26 34-50 58-51 47-51 38M8814 6281l-25 55-25 67-25 60-26 54-25 49-25 44-26 41-25 36-51 63-25 27-50 47-51 38-25 17-51 28M8875 6330l-51 124-25 55-25 50-26 45-25 41-25 37-26 34-50 58-25 25-51 43-25 18-51 32-50 27-51 21M8910 6495l-51 99-25 44-25 39-25 37-26 32-25 30-51 51-25 22-51 38-25 16-50 28-26 12-50 21-51 17-51 13M8945 6624l-50 80-26 35-50 62-51 50-25 22-51 37-25 16-51 28-25 12-51 20-75 23-51 11-51 10M8980 6721l-50 66-26 29-50 51-51 42-25 17-51 31-25 13-51 23-50 18-51 14-50 12-51 9-101 12M9016 6801l-51 55-25 25-51 42-25 18-51 31-25 13-51 23-76 26-50 13-51 10-101 14-101 8M9051 6863l-51 46-25 21-51 36-25 15-51 26-25 11-51 19-75 21-51 11-51 8-50 7-76 6-127 5M9086 6912l-51 39-25 18-51 30-50 25-76 28-76 20-76 15-101 11-101 7M8453 7105l-75 2M9121 6953l-51 34-50 29-51 23-76 27-76 19-75 14-76 9-102 6M8539 7115l-25 1M8489 7117l-51 0M9156 6988l-50 29-51 25-51 20-75 23-51 12-76 13-76 8-101 7M8574 7126l-25 1M9191 7019l-50 25-51 22-50 17-76 20-51 10-76 10-76 7-76 4M8660 7135l-25 1M9252 7035l-76 34-51 19-50 15-51 11-50 10-76 10-76 7-76 4M8721 7145l-51 1M9287 7063l-101 37-51 15-50 11-51 9-76 10-76 6-76 4M8756 7156l-26 1M9322 7088l-101 32-51 13-50 10-101 13-127 8M8867 7165l-25 1M9357 7111l-101 28-76 15-101 13-126 8M8927 7176l-50 1M9393 7132l-102 25-50 9-51 7-50 5-76 5-127 4M9428 7152l-76 16-76 13-76 8-101 6M9074 7196l-76 1M9463 7171l-76 14-51 7-76 8-75 4M9159 7205l-76 2M9498 7189l-126 17-76 7-76 3M9194 7217l-50 1M9533 7206l-126 14-76 5-76 3M9204 7228l-25 1M9568 7222l-101 10-101 6M9341 7239l-76 1M9604 7238l-152 11-152 2M9639 7254l-152 8M9462 7262l-102 0M9674 7269l-101 4-102 1M9709 7283l-101 3-101 0M9770 7296l-127 2M9618 7298l-51-1M9805 7309l-127 1M9789 7321l-50 0"/><path fill=#463cde d="M8638 7273l-70-10 25 3 71 9zM8603 7268l25 2"/><path fill=#4741e5 d="M8568 7263l-70-10 25 2 70 11zM8533 7258l25 2"/><path fill=#4747eb d="M8462 7247l-35-5 26 2 35 6z"/><path fill=#484df0 d="M8392 7236l-70-12 25 2 70 12zM8357 7230l25 2"/><path fill=#20a5e3 d="M7126 6983l-35-6 25 12 35 5z"/><path fill=#465efb d="M6950 7193l-35 223 25 12 36-223z"/><path fill=#3e26a8 d="M6915 7416l-35 388 25 11 35-387z"/><path fill=#463cde d="M8699 7280l-35-5 25 2 35 5z"/><path fill=#4741e5 d="M8593 7266l-35-6 25 3 36 5z"/><path fill=#4747eb d="M8558 7260l-70-10 25 2 70 11zM8523 7255l25 2"/><path fill=#484df0 d="M8453 7244l-71-12 26 2 70 12zM8417 7238l26 2"/><path fill=#4852f4 d="M8382 7232l-35-6 25 2 36 6z"/><path fill=#23a0e5 d="M7257 6984l-35-7 25 6 35 5z"/><path fill=#20a5e3 d="M7151 6994l-35-5 26 12 35 6z"/><path fill=#2e87f7 d="M7011 7083l-35 122 25 11 35-121z"/><path fill=#465efb d="M6976 7205l-36 223 26 11 35-223z"/><path fill=#3e26a8 d="M6940 7428l-35 387 26 11 35-387z"/><path fill=#4741e5 d="M8654 7273l-71-10 26 2 70 10zM8619 7268l25 2"/><path fill=#4747eb d="M8548 7257l-35-5 25 2 36 6z"/><path fill=#484df0 d="M8513 7252l-105-18 25 2 105 18zM8478 7246l25 2M8443 7240l25 2"/><path fill=#4852f4 d="M8408 7234l-71-12 26 2 70 12zM8372 7228l26 2"/><path fill=#23a0e5 d="M7317 6994l-35-6 26 4 35 5z"/><path fill=#20a5e3 d="M7282 6988l-35-5 25 6 36 3z"/><path fill=#20a5e3 d="M7177 7007l-35-6 25 12 35 6z"/><path fill=#2e87f7 d="M7036 7095l-35 121 25 13 35-122z"/><path fill=#465efb d="M7001 7216l-35 223 25 12 35-222z"/><path fill=#3e26a8 d="M6966 7439l-35 387 25 11 35-386z"/><path fill=#463cde d="M8785 7289l-36-5 26 3 35 4z"/><path fill=#4741e5 d="M8749 7284l-35-4 26 2 35 5z"/><path fill=#4741e5 d="M8679 7275l-35-5 25 2 35 5z"/><path fill=#4747eb d="M8644 7270l-70-10 25 2 70 10zM8609 7265l25 2"/><path fill=#484df0 d="M8538 7254l-70-12 25 3 71 11zM8503 7248l26 2"/><path fill=#4852f4 d="M8468 7242l-70-12 25 2 70 13zM8433 7236l25 2"/><path fill=#4758f8 d="M8398 7230l-71-13 26 2 70 13zM8363 7224l25 2"/><path fill=#23a0e5 d="M7343 6997l-35-5 25 5 35 3z"/><path fill=#20a5e3 d="M7308 6992l-36-3 26 7 35 1z"/><path fill=#23a0e5 d="M7202 7019l-35-6 25 13 35 6z"/><path fill=#2e87f7 d="M7061 7107l-35 122 26 12 35-121z"/><path fill=#465efb d="M7026 7229l-35 222 25 12 36-222z"/><path fill=#3e26a8 d="M6991 7451l-35 386 25 11 35-385z"/><path fill=#463cde d="M8845 7295l-35-4 25 2 35 4z"/><path fill=#4747eb d="M8669 7272l-70-10 25 2 70 11zM8634 7267l25 3"/><path fill=#484df0 d="M8599 7262l-35-6 25 2 35 6z"/><path fill=#4852f4 d="M8529 7250l-106-18 25 2 106 19zM8493 7245l26 2M8458 7238l26 2"/><path fill=#4758f8 d="M8423 7232l-70-13 25 2 70 13zM8388 7226l25 2"/><path fill=#465efb d="M8353 7219l-35-7 25 2 35 7z"/><path fill=#20a5e3 d="M7368 7000l-35-3-35-1 25 7 35-2 35 2zM7333 6997l25 4"/><path fill=#23a0e5 d="M7227 7032l-35-6 26 13 35 5z"/><path fill=#2e87f7 d="M7087 7120l-35 121 25 12 35-121z"/><path fill=#465efb d="M7052 7241l-36 222 26 12 35-222z"/><path fill=#3e26a8 d="M7016 7463l-35 385 25 11 36-384z"/><path fill=#4741e5 d="M8765 7285l-35-5 25 2 35 5z"/><path fill=#4747eb d="M8730 7280l-36-5 26 2 35 5z"/><path fill=#484df0 d="M8659 7270l-105-17 25 2 106 17zM8624 7264l25 2M8589 7258l25 3"/><path fill=#4852f4 d="M8519 7247l-35-7 25 3 35 6z"/><path fill=#4758f8 d="M8484 7240l-71-12 25 2 71 13zM8448 7234l26 2"/><path fill=#465efb d="M8413 7228l-105-21 25 2 105 21zM8378 7221l25 2M8343 7214l25 2"/><path fill=#20a5e3 d="M7428 7006l-70-5-35 2 25 7 35-4 36 0 35 1zM7393 7003l26 3M7358 7001l25 5"/><path fill=#23a0e5 d="M7253 7044l-35-5 25 12 35 6z"/><path fill=#2e87f7 d="M7112 7132l-35 121 25 12 35-120z"/><path fill=#465efb d="M7077 7253l-35 222 25 11 35-221z"/><path fill=#3e26a8 d="M7042 7475l-36 384 26 11 35-384z"/><path fill=#4747eb d="M8755 7282l-70-10 25 2 70 10zM8720 7277l25 2"/><path fill=#484df0 d="M8685 7272l-71-11 26 2 70 11zM8649 7266l26 3"/><path fill=#4852f4 d="M8614 7261l-70-12 25 2 71 12zM8579 7255l25 2"/><path fill=#4758f8 d="M8509 7243l-35-7 25 2 35 7z"/><path fill=#465efb d="M8438 7230l-70-14 25 2 71 14zM8403 7223l26 2"/><path fill=#4563fd d="M8368 7216l-35-7 25 2 35 7z"/><path fill=#20a5e3 d="M7454 7007l-35-1-36 0 26 5 35-2 35 0zM7419 7006l25 3"/><path fill=#23a0e5 d="M7278 7057l-35-6 25 13 35 6z"/><path fill=#465efb d="M7102 7265l-35 221 25 12 35-220z"/><path fill=#3e26a8 d="M7067 7486l-35 384 25 11 35-383z"/><path fill=#4747eb d="M8815 7289l-35-5 26 3 35 5z"/><path fill=#484df0 d="M8745 7279l-70-10 25 2 70 11zM8710 7274l25 2"/><path fill=#4852f4 d="M8675 7269l-106-18 26 2 105 18zM8640 7263l25 2M8604 7257l26 2"/><path fill=#4758f8 d="M8569 7251l-70-13 25 2 71 13zM8534 7245l25 2"/><path fill=#465efb d="M8499 7238l-70-13 25 2 70 13zM8464 7232l25 2"/><path fill=#4563fd d="M8429 7225l-106-22 25 2 106 22zM8393 7218l26 2M8358 7211l26 2"/><path fill=#20a5e3 d="M7514 7010l-70-1-35 2 25 4 35-3 71-1zM7479 7009l25 2M7444 7009l25 3"/><path fill=#23a0e5 d="M7303 7070l-35-6 25 13 36 6z"/><path fill=#465efb d="M7127 7278l-35 220 26 12 35-220z"/><path fill=#3e26a8 d="M7092 7498l-35 383 25 11 36-382z"/><path fill=#4747eb d="M8876 7296l-35-4 25 2 35 5z"/><path fill=#484df0 d="M8806 7287l-36-5 26 2 35 5z"/><path fill=#484df0 d="M8735 7276l-35-5 25 2 36 6z"/><path fill=#4852f4 d="M8700 7271l-70-12 25 2 70 12zM8665 7265l25 2"/><path fill=#4758f8 d="M8630 7259l-106-19 26 2 105 19zM8595 7253l25 2M8559 7247l26 2"/><path fill=#465efb d="M8524 7240l-70-13 25 2 71 13zM8489 7234l25 2"/><path fill=#4563fd d="M8454 7227l-70-14 25 1 70 15zM8419 7220l25 2"/><path fill=#4269fe d="M8384 7213l-71-15 26 2 70 14zM8348 7205l26 2"/><path fill=#20a5e3 d="M7504 7011l-35 1-35 3 25 5 36-5 35-2zM7469 7012l26 3"/><path fill=#23a0e5 d="M7329 7083l-36-6 26 13 35 5z"/><path fill=#2e87f7 d="M7188 7170l-35 120 25 12 35-120z"/><path fill=#465efb d="M7153 7290l-35 220 25 12 35-220z"/><path fill=#3e26a8 d="M7118 7510l-36 382 26 11 35-381z"/><path fill=#484df0 d="M8796 7284l-35-5 25 2 35 5z"/><path fill=#4852f4 d="M8725 7273l-70-12 25 3 71 11zM8690 7267l26 3"/><path fill=#4758f8 d="M8655 7261l-70-12 25 2 70 13zM8620 7255l25 2"/><path fill=#465efb d="M8585 7249l-71-13 26 2 70 13zM8550 7242l25 2"/><path fill=#4563fd d="M8514 7236l-70-14 25 2 71 14zM8479 7229l25 2"/><path fill=#4269fe d="M8444 7222l-105-22 25 1 105 23zM8409 7214l25 2M8374 7207l25 2"/><path fill=#20a5e3 d="M7565 7012l-35 1 25 2 35-2z"/><path fill=#1ca9df d="M7530 7013l-35 2-36 5 26 5 35-7 35-3zM7495 7015l25 3"/><path fill=#23a0e5 d="M7354 7095l-35-5 25 12 35 6z"/><path fill=#2e87f7 d="M7213 7182l-35 120 25 13 35-120z"/><path fill=#465efb d="M7178 7302l-35 220 25 12 35-219z"/><path fill=#3e26a8 d="M7143 7522l-35 381 25 11 35-380z"/><path fill=#4747eb d="M8962 7305l-71-9 26 3 70 9zM8926 7301l26 2"/><path fill=#484df0 d="M8891 7296l-70-10 25 3 71 10zM8856 7291l25 3"/><path fill=#4852f4 d="M8786 7281l-35-6 25 3 35 5z"/><path fill=#4758f8 d="M8716 7270l-71-13 25 3 71 12zM8680 7264l26 2"/><path fill=#465efb d="M8645 7257l-105-19 25 2 105 20zM8610 7251l25 2M8575 7244l25 2"/><path fill=#4563fd d="M8540 7238l-71-14 26 1 70 15zM8504 7231l26 2"/><path fill=#4269fe d="M8469 7224l-70-15 25 2 71 14zM8434 7216l25 2"/><path fill=#3e6fff d="M8399 7209l-70-15 25 1 70 16zM8364 7201l25 2"/><path fill=#1ca9df d="M7590 7013l-70 5 25 3 70-8zM7555 7015l25 2"/><path fill=#23a0e5 d="M7379 7108l-35-6 25 13 35 5z"/><path fill=#2e87f7 d="M7238 7195l-35 120 26 12 35-120z"/><path fill=#465efb d="M7203 7315l-35 219 25 11 36-218z"/><path fill=#3e26a8 d="M7168 7534l-35 380 25 10 35-379z"/><path fill=#4747eb d="M9022 7312l-35-4 25 2 35 4z"/><path fill=#484df0 d="M8917 7299l-71-10 26 2 70 10zM8881 7294l26 2"/><path fill=#4852f4 d="M8846 7289l-35-6 25 2 36 6z"/><path fill=#4758f8 d="M8776 7278l-35-6 25 2 35 6z"/><path fill=#4758f8 d="M8706 7266l-36-6 26 2 35 6z"/><path fill=#465efb d="M8635 7253l-35-7 25 3 36 6z"/><path fill=#4563fd d="M8600 7246l-70-13 25 2 70 14zM8565 7240l25 2"/><path fill=#4269fe d="M8530 7233l-71-15 26 2 70 15zM8495 7225l25 2"/><path fill=#3e6fff d="M8459 7218l-105-23 25 2 106 23zM8424 7211l26 1M8389 7203l25 2"/><path fill=#3875fe d="M8354 7195l-35-7 25 1 35 8z"/><path fill=#1ca9df d="M7651 7013l-36 0-35 4-35 4-35 8 25 5 35-10 36-6 35-4 35-1zM7615 7013l26 1M7580 7017l26 1M7545 7021l25 3"/><path fill=#23a0e5 d="M7404 7120l-35-5 26 12 35 6z"/><path fill=#2e87f7 d="M7264 7207l-35 120 25 12 35-120z"/><path fill=#465efb d="M7229 7327l-36 218 26 12 35-218z"/><path fill=#3e26a8 d="M7193 7545l-35 379 26 11 35-378z"/><path fill=#4747eb d="M9083 7318l-36-4 26 3 35 4z"/><path fill=#484df0 d="M8977 7306l-70-10 25 2 70 10zM8942 7301l25 2"/><path fill=#4852f4 d="M8836 7285l-35-5 26 2 35 6z"/><path fill=#4758f8 d="M8801 7280l-70-12 25 2 71 12zM8766 7274l25 2"/><path fill=#465efb d="M8731 7268l-70-13 25 2 70 13zM8696 7262l25 2"/><path fill=#4563fd d="M8661 7255l-106-20 25 2 106 20zM8625 7249l26 2M8590 7242l26 2"/><path fill=#4269fe d="M8555 7235l-70-15 25 2 70 15zM8520 7227l25 2"/><path fill=#3e6fff d="M8485 7220l-71-15 26 2 70 15zM8450 7212l25 2"/><path fill=#3875fe d="M8414 7205l-70-16 25 2 71 16zM8379 7197l26 2"/><path fill=#327cfc d="M8344 7189l-35-7 25 1 35 8z"/><path fill=#1ca9df d="M7676 7013l-35 1-35 4-36 6-35 10 26 4 35-11 35-7 35-6 35-2zM7641 7014l25 0M7606 7018l25 2M7570 7024l26 3"/><path fill=#23a0e5 d="M7430 7133l-35-6 25 12 35 6z"/><path fill=#2e87f7 d="M7289 7219l-35 120 25 12 35-120z"/><path fill=#465efb d="M7254 7339l-35 218 25 11 35-217z"/><path fill=#3e26a8 d="M7219 7557l-35 378 25 11 35-378z"/><path fill=#484df0 d="M9002 7308l-70-10 25 3 71 10zM8967 7303l26 3"/><path fill=#4852f4 d="M8932 7298l-70-10 25 2 70 11zM8897 7293l25 2"/><path fill=#4758f8 d="M8862 7288l-71-12 26 2 70 12zM8827 7282l25 2"/><path fill=#465efb d="M8791 7276l-105-19 25 2 106 19zM8756 7270l26 2M8721 7264l25 2"/><path fill=#4563fd d="M8686 7257l-70-13 25 2 70 13zM8651 7251l25 2"/><path fill=#4269fe d="M8616 7244l-71-15 26 2 70 15zM8580 7237l26 1"/><path fill=#3e6fff d="M8545 7229l-70-15 25 2 71 15zM8510 7222l25 2"/><path fill=#3875fe d="M8475 7214l-106-23 26 2 105 23zM8440 7207l25 1M8405 7199l25 1"/><path fill=#327cfc d="M8369 7191l-35-8 26 2 35 8z"/><path fill=#1ca9df d="M7701 7012l-35 2 25 1 36-3z"/><path fill=#18addb d="M7666 7014l-70 13 25 3 70-15zM7631 7020l25 2"/><path fill=#1ca9df d="M7596 7027l-35 11 25 4 35-12z"/><path fill=#23a0e5 d="M7455 7145l-35-6 25 12 35 5z"/><path fill=#2e87f7 d="M7314 7231l-35 120 26 11 35-119z"/><path fill=#465efb d="M7279 7351l-35 217 25 12 36-218z"/><path fill=#3e26a8 d="M7244 7568l-35 378 25 11 35-377z"/><path fill=#4758f8 d="M8922 7295l-105-17 25 3 105 17zM8887 7290l25 2M8852 7284l25 3"/><path fill=#465efb d="M8782 7272l-36-6 26 2 35 7z"/><path fill=#4563fd d="M8746 7266l-70-13 25 2 71 13zM8711 7259l25 3"/><path fill=#4269fe d="M8676 7253l-105-22 25 2 105 22zM8641 7246l25 2M8606 7238l25 2"/><path fill=#3e6fff d="M8571 7231l-71-15 26 2 70 15zM8535 7224l26 1"/><path fill=#3875fe d="M8500 7216l-70-16 25 2 71 16zM8465 7208l25 2"/><path fill=#327cfc d="M8430 7200l-70-15 25 1 70 16zM8395 7193l25 1"/><path fill=#2f81fa d="M8360 7185l-36-8 26 1 35 8z"/><path fill=#18addb d="M7727 7012l-36 3-35 7-35 8-35 12 25 4 35-14 36-9 35-8 35-3zM7691 7015l26 0M7656 7022l26 1M7621 7030l25 2"/><path fill=#23a0e5 d="M7480 7156l-35-5 25 12 36 5z"/><path fill=#2e87f7 d="M7340 7243l-35 119 25 12 35-119z"/><path fill=#465efb d="M7305 7362l-36 218 26 11 35-217z"/><path fill=#3e26a8 d="M7269 7580l-35 377 25 11 36-377z"/><path fill=#4852f4 d="M9053 7313l-35-5 25 3 35 4z"/><path fill=#4852f4 d="M8983 7303l-36-5 26 2 35 5z"/><path fill=#4758f8 d="M8912 7292l-35-5 25 2 36 6z"/><path fill=#465efb d="M8842 7281l-70-13 25 2 70 13zM8807 7275l25 2"/><path fill=#4563fd d="M8772 7268l-71-13 26 2 70 13zM8736 7262l26 2"/><path fill=#4269fe d="M8701 7255l-70-15 25 2 71 15zM8666 7248l25 2"/><path fill=#3e6fff d="M8631 7240l-70-15 25 2 70 15zM8596 7233l25 2"/><path fill=#3875fe d="M8561 7225l-71-15 26 2 70 15zM8526 7218l25 2"/><path fill=#327cfc d="M8490 7210l-70-16 25 2 71 16zM8455 7202l25 2"/><path fill=#2f81fa d="M8420 7194l-106-24 26 2 105 24zM8385 7186l25 2M8350 7178l25 2"/><path fill=#18addb d="M7752 7012l-35 3-35 8-36 9-35 14 25 4 36-15 35-11 35-9 35-4zM7717 7015l25 0M7682 7023l25 1M7646 7032l26 3"/><path fill=#23a0e5 d="M7506 7168l-36-5 26 11 35 5z"/><path fill=#2e87f7 d="M7365 7255l-35 119 25 11 35-119z"/><path fill=#465efb d="M7330 7374l-35 217 25 11 35-217z"/><path fill=#3e26a8 d="M7295 7591l-36 377 26 11 35-377z"/><path fill=#4758f8 d="M9008 7305l-106-16 26 2 105 17zM8973 7300l25 2M8938 7295l25 2"/><path fill=#465efb d="M8902 7289l-35-6 26 2 35 6z"/><path fill=#4563fd d="M8832 7277l-70-13 25 2 70 13zM8797 7270l25 3"/><path fill=#4269fe d="M8762 7264l-71-14 26 2 70 14zM8727 7257l25 2"/><path fill=#3e6fff d="M8691 7250l-105-23 25 2 106 23zM8656 7242l26 2M8621 7235l25 2"/><path fill=#3875fe d="M8586 7227l-70-15 25 1 70 16zM8551 7220l25 1"/><path fill=#327cfc d="M8516 7212l-71-16 26 1 70 16zM8480 7204l26 1"/><path fill=#2f81fa d="M8445 7196l-70-16 25 2 71 15zM8410 7188l25 1"/><path fill=#2e87f7 d="M8375 7180l-35-8 25 1 35 9z"/><path fill=#18addb d="M7777 7011l-35 4-35 9-35 11-36 15 26 4 35-17 35-12 35-9 35-6zM7742 7015l25 1M7707 7024l25 1M7672 7035l25 2"/><path fill=#23a0e5 d="M7531 7179l-35-5 25 11 35 5z"/><path fill=#2e87f7 d="M7390 7266l-35 119 25 11 36-119z"/><path fill=#465efb d="M7355 7385l-35 217 25 11 35-217z"/><path fill=#3e26a8 d="M7320 7602l-35 377 25 11 35-377z"/><path fill=#4852f4 d="M9139 7322l-35-4 25 2 35 5z"/><path fill=#4758f8 d="M9068 7313l-105-16 25 2 106 16zM9033 7308l26 2M8998 7302l25 3"/><path fill=#465efb d="M8963 7297l-70-12 25 2 70 12zM8928 7291l25 2"/><path fill=#4563fd d="M8893 7285l-36-6 26 2 35 6z"/><path fill=#4563fd d="M8822 7273l-35-7 25 2 36 7z"/><path fill=#4269fe d="M8787 7266l-70-14 25 2 70 14zM8752 7259l25 2"/><path fill=#3e6fff d="M8717 7252l-71-15 26 2 70 15zM8682 7244l25 2"/><path fill=#3875fe d="M8646 7237l-70-16 25 2 71 16zM8611 7229l26 2"/><path fill=#327cfc d="M8576 7221l-70-16 25 2 70 16zM8541 7213l25 2"/><path fill=#2f81fa d="M8506 7205l-71-16 26 2 70 16zM8471 7197l25 2"/><path fill=#2e87f7 d="M8435 7189l-70-16 25 2 71 16zM8400 7182l26 1"/><path fill=#2d8cf3 d="M8365 7173l-35-8 25 2 35 8z"/><path fill=#12b1d6 d="M7802 7010l-35 6-70 21 25 2 71-23 35-6zM7767 7016l26 0M7732 7025l25 1"/><path fill=#18addb d="M7697 7037l-35 17 25 3 35-18z"/><path fill=#23a0e5 d="M7556 7190l-35-5 25 10 36 5z"/><path fill=#2e87f7 d="M7416 7277l-36 119 26 10 35-119z"/><path fill=#465efb d="M7380 7396l-35 217 26 11 35-218z"/><path fill=#3e26a8 d="M7345 7613l-35 377 25 11 36-377z"/><path fill=#4852f4 d="M9199 7329l-35-4 25 2 36 5z"/><path fill=#4758f8 d="M9059 7310l-36-5 26 2 35 5z"/><path fill=#465efb d="M8988 7299l-70-12 25 3 71 11zM8953 7293l25 3"/><path fill=#4563fd d="M8918 7287l-70-12 25 2 70 13zM8883 7281l25 2"/><path fill=#4269fe d="M8848 7275l-71-14 26 2 70 14zM8812 7268l26 2"/><path fill=#3e6fff d="M8777 7261l-70-15 25 2 71 15zM8742 7254l25 2"/><path fill=#3875fe d="M8707 7246l-106-23 26 2 105 23zM8672 7239l25 2M8637 7231l25 2"/><path fill=#327cfc d="M8601 7223l-70-16 25 2 71 16zM8566 7215l26 2"/><path fill=#2f81fa d="M8531 7207l-70-16 25 2 70 16zM8496 7199l25 2"/><path fill=#2e87f7 d="M8461 7191l-71-16 26 1 70 17zM8426 7183l25 2"/><path fill=#2d8cf3 d="M8390 7175l-70-16 25 1 71 16zM8355 7167l26 1"/><path fill=#12b1d6 d="M7828 7010l-35 6-71 23 26 2 70-26 35-6zM7793 7016l25-1M7757 7026l26 1"/><path fill=#18addb d="M7722 7039l-35 18 25 3 36-19z"/><path fill=#23a0e5 d="M7582 7200l-36-5 26 10 35 5z"/><path fill=#2e87f7 d="M7441 7287l-35 119 25 10 35-119z"/><path fill=#465efb d="M7406 7406l-35 218 25 10 35-218z"/><path fill=#3e26a8 d="M7371 7624l-36 377 26 11 35-378z"/><path fill=#4852f4 d="M9260 7336l-35-4 25 2 35 4z"/><path fill=#4758f8 d="M9154 7323l-70-11 25 3 71 10zM9119 7318l25 2"/><path fill=#465efb d="M9049 7307l-35-6 25 3 35 5z"/><path fill=#4563fd d="M8978 7296l-70-13 25 2 71 13zM8943 7290l25 2"/><path fill=#4269fe d="M8908 7283l-105-20 25 2 105 20zM8873 7277l25 2M8838 7270l25 2"/><path fill=#3e6fff d="M8803 7263l-71-15 25 2 71 15zM8767 7256l26 2"/><path fill=#3875fe d="M8732 7248l-70-15 25 2 70 15zM8697 7241l25 1"/><path fill=#327cfc d="M8662 7233l-70-16 25 2 70 16zM8627 7225l25 2"/><path fill=#2f81fa d="M8592 7217l-71-16 25 1 71 17zM8556 7209l26 1"/><path fill=#2e87f7 d="M8521 7201l-70-16 25 1 70 16zM8486 7193l25 1"/><path fill=#2d8cf3 d="M8451 7185l-70-17 25 2 70 16zM8416 7176l25 2"/><path fill=#2b91ef d="M8381 7168l-71-16 26 1 70 17zM8345 7160l26 1"/><path fill=#12b1d6 d="M7853 7009l-35 6-35 12-35 14-36 19 26 3 35-21 35-14 35-13 35-7zM7818 7015l25 0M7783 7027l25 1M7748 7041l25 1"/><path fill=#23a0e5 d="M7607 7210l-35-5 25 9 35 6z"/><path fill=#2e87f7 d="M7466 7297l-35 119 25 10 35-119z"/><path fill=#465efb d="M7431 7416l-35 218 25 10 35-218z"/><path fill=#3e26a8 d="M7396 7634l-35 378 25 11 35-379z"/><path fill=#4758f8 d="M9215 7330l-106-15 25 2 106 15zM9180 7325l25 2M9144 7320l26 2"/><path fill=#465efb d="M9109 7315l-35-6 25 3 35 5z"/><path fill=#4563fd d="M9039 7304l-106-19 26 3 105 18zM9004 7298l25 2M8968 7292l26 2"/><path fill=#4269fe d="M8933 7285l-70-13 25 2 71 14zM8898 7279l25 2"/><path fill=#3e6fff d="M8863 7272l-70-14 25 2 70 14zM8828 7265l25 2"/><path fill=#3875fe d="M8793 7258l-71-16 26 2 70 16zM8757 7250l26 2"/><path fill=#327cfc d="M8722 7242l-105-23 25 1 106 24zM8687 7235l25 1M8652 7227l25 1"/><path fill=#2f81fa d="M8617 7219l-71-17 26 2 70 16zM8582 7210l25 2"/><path fill=#2e87f7 d="M8546 7202l-70-16 25 1 71 17zM8511 7194l26 2"/><path fill=#2d8cf3 d="M8476 7186l-70-16 25 1 70 16zM8441 7178l25 1"/><path fill=#2b91ef d="M8406 7170l-70-17 25 1 70 17zM8371 7161l25 2"/><path fill=#08b5d0 d="M7878 7008l-35 7-35 13 25 0 35-14 36-8zM7843 7015l25-1"/><path fill=#12b1d6 d="M7808 7028l-35 14-35 21 25 2 35-22 35-15zM7773 7042l25 1"/><path fill=#20a5e3 d="M7702 7094l-35 63 26 6 35-65z"/><path fill=#23a0e5 d="M7632 7220l-35-6 25 9 35 5z"/><path fill=#2e87f7 d="M7491 7307l-35 119 26 9 35-120z"/><path fill=#465efb d="M7456 7426l-35 218 25 10 36-219z"/><path fill=#3e26a8 d="M7421 7644l-35 379 25 11 35-380z"/><path fill=#465efb d="M9170 7322l-106-16 25 2 106 17zM9134 7317l26 2M9099 7312l26 2"/><path fill=#4563fd d="M9029 7300l-35-6 25 2 35 6z"/><path fill=#4269fe d="M8994 7294l-71-13 26 2 70 13zM8959 7288l25 2"/><path fill=#3e6fff d="M8923 7281l-105-21 25 2 106 21zM8888 7274l26 2M8853 7267l25 2"/><path fill=#3875fe d="M8818 7260l-70-16 25 2 70 16zM8783 7252l25 2"/><path fill=#327cfc d="M8748 7244l-71-16 26 2 70 16zM8712 7236l26 2"/><path fill=#2f81fa d="M8677 7228l-70-16 25 2 71 16zM8642 7220l25 2"/><path fill=#2e87f7 d="M8607 7212l-70-16 25 1 70 17zM8572 7204l25 1"/><path fill=#2d8cf3 d="M8537 7196l-71-17 26 2 70 16zM8501 7187l26 2"/><path fill=#2b91ef d="M8466 7179l-70-16 25 1 71 17zM8431 7171l25 1"/><path fill=#2797eb d="M8396 7163l-70-17 25 1 70 17zM8361 7154l25 2"/><path fill=#08b5d0 d="M7904 7006l-36 8-70 29 25 1 71-31 35-8zM7868 7014l26-1M7833 7028l26 0"/><path fill=#12b1d6 d="M7798 7043l-35 22 25 2 35-23z"/><path fill=#1ca9df d="M7728 7098l-35 65 25 5 35-66z"/><path fill=#23a0e5 d="M7693 7163l-36 65-35-5 26 8 35 5 35-68zM7657 7228l26 8"/><path fill=#2e87f7 d="M7517 7315l-35 120 25 9 35-120z"/><path fill=#465efb d="M7482 7435l-36 219 26 10 35-220z"/><path fill=#3e26a8 d="M7446 7654l-35 380 26 11 35-381z"/><path fill=#4758f8 d="M9265 7334l-70-9 25 2 71 10zM9230 7330l25 2"/><path fill=#465efb d="M9195 7325l-70-11 25 2 70 11zM9160 7319l25 3"/><path fill=#4563fd d="M9125 7314l-71-12 26 2 70 12zM9089 7308l26 2"/><path fill=#4269fe d="M9019 7296l-35-6 25 2 35 6z"/><path fill=#3e6fff d="M8949 7283l-71-14 26 2 70 14zM8914 7276l25 2"/><path fill=#3875fe d="M8878 7269l-70-15 25 2 71 15zM8843 7262l26 2"/><path fill=#327cfc d="M8808 7254l-70-16 25 2 70 16zM8773 7246l25 2"/><path fill=#2f81fa d="M8738 7238l-71-16 26 2 70 16zM8703 7230l25 2"/><path fill=#2e87f7 d="M8667 7222l-70-17 25 2 71 17zM8632 7214l26 1"/><path fill=#2d8cf3 d="M8597 7205l-105-24 25 1 105 25zM8562 7197l25 2M8527 7189l25 1"/><path fill=#2b91ef d="M8492 7181l-71-17 26 1 70 17zM8456 7172l26 2"/><path fill=#2797eb d="M8421 7164l-70-17 25 1 71 17zM8386 7156l25 1"/><path fill=#259be8 d="M8351 7147l-35-9 25 1 35 9z"/><path fill=#01b8ca d="M7929 7005l-35 8 25-1 35-9z"/><path fill=#08b5d0 d="M7894 7013l-71 31-35 23 26 2 35-24 70-33zM7859 7028l25 0M7823 7044l26 1"/><path fill=#23a0e5 d="M7718 7168l-35 68-35-5 25 7 35 5 35-70zM7683 7236l25 7"/><path fill=#2e87f7 d="M7542 7324l-35 120 25 8 35-121z"/><path fill=#465efb d="M7507 7444l-35 220 25 9 35-221z"/><path fill=#3e26a8 d="M7472 7664l-35 381 25 11 35-383z"/><path fill=#465efb d="M9255 7332l-70-10 25 2 71 10zM9220 7327l26 2"/><path fill=#4563fd d="M9185 7322l-105-18 25 3 105 17zM9150 7316l25 2M9115 7310l25 3"/><path fill=#4269fe d="M9080 7304l-71-12 26 2 70 13zM9044 7298l26 3"/><path fill=#3e6fff d="M9009 7292l-105-21 25 2 106 21zM8974 7285l25 2M8939 7278l25 2"/><path fill=#3875fe d="M8904 7271l-71-15 26 2 70 15zM8869 7264l25 2"/><path fill=#327cfc d="M8833 7256l-70-16 25 2 71 16zM8798 7248l26 2"/><path fill=#2f81fa d="M8763 7240l-70-16 25 1 70 17zM8728 7232l25 1"/><path fill=#2e87f7 d="M8693 7224l-71-17 26 1 70 17zM8658 7215l25 2"/><path fill=#2d8cf3 d="M8622 7207l-70-17 25 2 71 16zM8587 7199l26 1"/><path fill=#2b91ef d="M8552 7190l-70-16 25 1 70 17zM8517 7182l25 1"/><path fill=#2797eb d="M8482 7174l-71-17 26 1 70 17zM8447 7165l25 2"/><path fill=#259be8 d="M8411 7157l-70-18 25 2 71 17zM8376 7148l26 1"/><path fill=#01b8ca d="M7954 7003l-35 9-35 16 25-1 35-16 36-10zM7919 7012l25-1"/><path fill=#08b5d0 d="M7884 7028l-35 17-35 24 25 1 35-25 35-18zM7849 7045l25 0"/><path fill=#1ca9df d="M7778 7105l-35 68 26 5 35-71z"/><path fill=#2e87f7 d="M7567 7331l-35 121 26 7 35-121z"/><path fill=#465efb d="M7532 7452l-35 221 25 8 36-222z"/><path fill=#3e26a8 d="M7497 7673l-35 383 25 11 35-386z"/><path fill=#465efb d="M9316 7339l-35-5 25 3 35 5z"/><path fill=#465efb d="M9246 7329l-36-5 26 2 35 6z"/><path fill=#4563fd d="M9210 7324l-70-11 25 2 71 11zM9175 7318l25 3"/><path fill=#4269fe d="M9105 7307l-70-13 25 2 70 13zM9070 7301l25 2"/><path fill=#3e6fff d="M9035 7294l-71-14 26 2 70 14zM8999 7287l26 3"/><path fill=#3875fe d="M8964 7280l-70-14 25 2 71 14zM8929 7273l25 2"/><path fill=#327cfc d="M8894 7266l-70-16 25 2 70 16zM8859 7258l25 2"/><path fill=#2f81fa d="M8824 7250l-71-17 25 2 71 17zM8788 7242l26 1"/><path fill=#2e87f7 d="M8753 7233l-70-16 25 1 70 17zM8718 7225l25 2"/><path fill=#2d8cf3 d="M8683 7217l-70-17 25 1 70 17zM8648 7208l25 2"/><path fill=#2b91ef d="M8613 7200l-71-17 26 2 70 16zM8577 7192l26 1"/><path fill=#2797eb d="M8542 7183l-70-16 25 1 71 17zM8507 7175l25 1"/><path fill=#259be8 d="M8472 7167l-70-18 25 1 70 18zM8437 7158l25 1"/><path fill=#23a0e5 d="M8402 7149l-71-17 25 1 71 17zM8366 7141l26 1"/><path fill=#01b8ca d="M7980 7001l-36 10-70 34 25-1 71-35 35-10zM7944 7011l26-2M7909 7027l25-1"/><path fill=#08b5d0 d="M7874 7045l-35 25 25 0 35-26z"/><path fill=#1ca9df d="M7804 7107l-35 71 25 3 35-72z"/><path fill=#23a0e5 d="M7769 7178l-36 72 26 5 35-74z"/><path fill=#20a5e3 d="M7733 7250l-35-6 25 5 36 6z"/><path fill=#2e87f7 d="M7593 7338l-35 121 25 7 35-123z"/><path fill=#4563fd d="M7558 7459l-36 222 26 8 35-223z"/><path fill=#3e26a8 d="M7522 7681l-35 386 25 11 36-389z"/><path fill=#4758f8 d="M9376 7346l-35-4 25 2 36 5z"/><path fill=#465efb d="M9306 7337l-35-5 25 2 35 5z"/><path fill=#4563fd d="M9236 7326l-71-11 26 2 70 12zM9200 7321l26 2"/><path fill=#4269fe d="M9165 7315l-35-6 25 2 36 6z"/><path fill=#3e6fff d="M9095 7303l-70-13 25 2 70 13zM9060 7296l25 2"/><path fill=#3875fe d="M9025 7290l-106-22 25 1 106 23zM8990 7282l25 3M8954 7275l26 2"/><path fill=#327cfc d="M8919 7268l-70-16 25 1 70 16zM8884 7260l25 2"/><path fill=#2f81fa d="M8849 7252l-71-17 26 2 70 16zM8814 7243l25 2"/><path fill=#2e87f7 d="M8778 7235l-70-17 25 2 71 17zM8743 7227l26 1"/><path fill=#2d8cf3 d="M8708 7218l-70-17 25 2 70 17zM8673 7210l25 1"/><path fill=#2b91ef d="M8638 7201l-70-16 25 1 70 17zM8603 7193l25 1"/><path fill=#2797eb d="M8568 7185l-71-17 25 1 71 17zM8532 7176l26 2"/><path fill=#259be8 d="M8497 7168l-70-18 25 1 70 18zM8462 7159l25 1"/><path fill=#23a0e5 d="M8427 7150l-71-17 26 1 70 17zM8392 7142l25 0"/><path fill=#20a5e3 d="M8356 7133l-35-9 26 1 35 9z"/><path fill=#02bac3 d="M8005 6999l-35 10 25-2 35-11z"/><path fill=#01b8ca d="M7970 7009l-71 35 26-1 70-36zM7934 7026l26-2"/><path fill=#08b5d0 d="M7899 7044l-35 26 25 0 36-27z"/><path fill=#23a0e5 d="M7794 7181l-35 74 25 4 35-76z"/><path fill=#20a5e3 d="M7723 7249l-35 6 26 4 35-6z"/><path fill=#2e87f7 d="M7618 7343l-35 123 25 5 35-123z"/><path fill=#4563fd d="M7583 7466l-35 223 25 8 35-226z"/><path fill=#3e26a8 d="M7548 7689l-36 389 26 11 35-392z"/><path fill=#465efb d="M9331 7339l-35-5 25 2 36 6z"/><path fill=#4563fd d="M9296 7334l-35-5 25 2 35 5z"/><path fill=#4269fe d="M9226 7323l-71-12 26 2 70 12zM9191 7317l25 2"/><path fill=#3e6fff d="M9155 7311l-105-19 25 2 106 19zM9120 7305l26 2M9085 7298l25 3"/><path fill=#3875fe d="M9050 7292l-70-15 25 2 70 15zM9015 7285l25 2"/><path fill=#327cfc d="M8980 7277l-71-15 26 1 70 16zM8944 7269l26 2"/><path fill=#2f81fa d="M8909 7262l-70-17 25 2 71 16zM8874 7253l25 2"/><path fill=#2e87f7 d="M8839 7245l-70-17 25 2 70 17zM8804 7237l25 1"/><path fill=#2d8cf3 d="M8769 7228l-71-17 26 2 70 17zM8733 7220l26 1"/><path fill=#2b91ef d="M8698 7211l-70-17 25 2 71 17zM8663 7203l25 1"/><path fill=#2797eb d="M8628 7194l-70-16 25 1 70 17zM8593 7186l25 1"/><path fill=#259be8 d="M8558 7178l-71-18 26 1 70 18zM8522 7169l26 1"/><path fill=#23a0e5 d="M8487 7160l-70-18 25 1 71 18zM8452 7151l25 1"/><path fill=#20a5e3 d="M8417 7142l-70-17 25 0 70 18zM8382 7134l25 0"/><path fill=#1ca9df d="M8347 7125l-36-9 26 0 35 9z"/><path fill=#02bac3 d="M8030 6996l-35 11-35 17 25-2 35-18 35-11zM7995 7007l25-3"/><path fill=#01b8ca d="M7960 7024l-35 19-36 27 26-1 35-27 35-20zM7925 7043l25-1"/><path fill=#20a5e3 d="M7784 7259l-35-6-35 6 25 3 35-6 35 6zM7749 7253l25 3"/><path fill=#2e87f7 d="M7643 7348l-35 123 25 5 36-124z"/><path fill=#4563fd d="M7608 7471l-35 226 25 7 35-228z"/><path fill=#3e26a8 d="M7573 7697l-35 392 25 11 35-396z"/><path fill=#465efb d="M9462 7355l-35-4 25 2 35 5z"/><path fill=#465efb d="M9392 7346l-35-4 25 2 35 5z"/><path fill=#4563fd d="M9357 7342l-71-11 26 2 70 11zM9321 7336l26 3"/><path fill=#4269fe d="M9286 7331l-35-6 25 3 36 5z"/><path fill=#4269fe d="M9216 7319l-35-6 25 3 35 6z"/><path fill=#3e6fff d="M9146 7307l-36-6 26 2 35 6z"/><path fill=#3875fe d="M9110 7301l-70-14 25 2 71 14zM9075 7294l26 2"/><path fill=#327cfc d="M9040 7287l-70-16 25 2 70 16zM9005 7279l25 2"/><path fill=#2f81fa d="M8970 7271l-106-24 26 2 105 24zM8935 7263l25 2M8899 7255l26 2"/><path fill=#2e87f7 d="M8864 7247l-70-17 25 1 71 18zM8829 7238l25 2"/><path fill=#2d8cf3 d="M8794 7230l-70-17 25 1 70 17zM8759 7221l25 2"/><path fill=#2b91ef d="M8724 7213l-71-17 26 1 70 17zM8688 7204l26 2"/><path fill=#2797eb d="M8653 7196l-70-17 25 1 71 17zM8618 7187l25 1"/><path fill=#259be8 d="M8583 7179l-70-18 25 1 70 18zM8548 7170l25 1"/><path fill=#23a0e5 d="M8513 7161l-71-18 26 1 70 18zM8477 7152l26 1"/><path fill=#20a5e3 d="M8442 7143l-70-18 25 1 71 18zM8407 7134l25 1"/><path fill=#1ca9df d="M8372 7125l-70-19 25 0 70 20zM8337 7116l25 1"/><path fill=#0bbdbd d="M8055 6993l-35 11 26-3 35-12z"/><path fill=#02bac3 d="M8020 7004l-70 38 25-3 71-38zM7985 7022l25-3"/><path fill=#01b8ca d="M7950 7042l-35 27 25-2 35-28z"/><path fill=#08b5d0 d="M7915 7069l-35 41 25-1 35-42z"/><path fill=#20a5e3 d="M7774 7256l-35 6 25 2 35-6z"/><path fill=#2d8cf3 d="M7669 7352l-36 124 26 4 35-126z"/><path fill=#4563fd d="M7633 7476l-35 228 26 6 35-230z"/><path fill=#3e26a8 d="M7598 7704l-35 396 25 11 36-401z"/><path fill=#465efb d="M9523 7362l-36-4 26 2 35 4z"/><path fill=#4269fe d="M9312 7333l-71-11 26 2 70 12zM9276 7328l26 2"/><path fill=#3e6fff d="M9241 7322l-105-19 25 2 106 19zM9206 7316l25 2M9171 7309l25 2"/><path fill=#3875fe d="M9136 7303l-71-14 26 2 70 14zM9101 7296l25 2"/><path fill=#327cfc d="M9065 7289l-70-16 25 2 71 16zM9030 7281l26 2"/><path fill=#2f81fa d="M8995 7273l-70-16 25 2 70 16zM8960 7265l25 2"/><path fill=#2e87f7 d="M8925 7257l-71-17 26 2 70 17zM8890 7249l25 1"/><path fill=#2d8cf3 d="M8854 7240l-70-17 25 1 71 18zM8819 7231l26 2"/><path fill=#2b91ef d="M8784 7223l-70-17 25 1 70 17zM8749 7214l25 1"/><path fill=#2797eb d="M8714 7206l-71-18 26 2 70 17zM8679 7197l25 1"/><path fill=#259be8 d="M8643 7188l-70-17 25 1 71 18zM8608 7180l26 1"/><path fill=#23a0e5 d="M8573 7171l-70-18 25 1 70 18zM8538 7162l25 1"/><path fill=#20a5e3 d="M8503 7153l-71-18 26 1 70 18zM8468 7144l25 1"/><path fill=#1ca9df d="M8432 7135l-70-18 25 0 71 19zM8397 7126l26 0"/><path fill=#18addb d="M8362 7117l-35-11 25 1 35 10z"/><path fill=#0bbdbd d="M8081 6989l-35 12-36 18 26-3 35-19 35-12zM8046 7001l25-4"/><path fill=#02bac3 d="M8010 7019l-35 20-35 28 25-2 36-29 35-20zM7975 7039l26-3"/><path fill=#01b8ca d="M7940 7067l-35 42 25-2 35-42z"/><path fill=#18addb d="M7905 7109l-35 76 25-1 35-77z"/><path fill=#20a5e3 d="M7870 7185l-35 79 25 0 35-80z"/><path fill=#1ca9df d="M7799 7258l-35 6 26 0 35-6z"/><path fill=#259be8 d="M7729 7291l-35 63 25 1 35-64z"/><path fill=#2d8cf3 d="M7694 7354l-35 126 25 2 35-127z"/><path fill=#4563fd d="M7659 7480l-35 230 25 6 35-234z"/><path fill=#3e26a8 d="M7624 7710l-36 401 26 11 35-406z"/><path fill=#4563fd d="M9442 7351l-70-10 25 2 71 11zM9407 7346l25 3"/><path fill=#4269fe d="M9372 7341l-35-5 25 2 35 5z"/><path fill=#4269fe d="M9302 7330l-35-6 25 2 35 6z"/><path fill=#3e6fff d="M9267 7324l-71-13 26 3 70 12zM9231 7318l26 2"/><path fill=#3875fe d="M9196 7311l-70-13 25 2 71 14zM9161 7305l25 2"/><path fill=#327cfc d="M9126 7298l-70-15 25 2 70 15zM9091 7291l25 2"/><path fill=#2f81fa d="M9056 7283l-71-16 25 2 71 16zM9020 7275l26 2"/><path fill=#2e87f7 d="M8985 7267l-70-17 25 2 70 17zM8950 7259l25 1"/><path fill=#2d8cf3 d="M8915 7250l-70-17 25 1 70 18zM8880 7242l25 1"/><path fill=#2b91ef d="M8845 7233l-71-18 26 2 70 17zM8809 7224l26 2"/><path fill=#2797eb d="M8774 7215l-70-17 25 1 71 18zM8739 7207l25 1"/><path fill=#259be8 d="M8704 7198l-70-17 25 1 70 17zM8669 7190l25 1"/><path fill=#23a0e5 d="M8634 7181l-71-18 25 1 71 18zM8598 7172l26 1"/><path fill=#20a5e3 d="M8563 7163l-70-18 25 0 70 19zM8528 7154l25 1"/><path fill=#1ca9df d="M8493 7145l-70-19 25 1 70 18zM8458 7136l25 0"/><path fill=#18addb d="M8423 7126l-71-19 26 0 70 20zM8387 7117l26 0"/><path fill=#12b1d6 d="M8352 7107l-35-12 25 0 36 12z"/><path fill=#0bbdbd d="M8106 6985l-35 12-70 39 25-3 70-40 35-12zM8071 6997l25-4M8036 7016l25-4"/><path fill=#02bac3 d="M8001 7036l-36 29 26-4 35-28z"/><path fill=#01b8ca d="M7965 7065l-35 42 26-3 35-43z"/><path fill=#12b1d6 d="M7930 7107l-35 77 25-2 36-78z"/><path fill=#1ca9df d="M7895 7184l-35 80 25-1 35-81z"/><path fill=#1ca9df d="M7825 7258l-35 6 25-2 35-6z"/><path fill=#23a0e5 d="M7754 7291l-35 64 25 0 36-65z"/><path fill=#2d8cf3 d="M7719 7355l-35 127 25 2 35-129z"/><path fill=#4563fd d="M7684 7482l-35 234 25 5 35-237z"/><path fill=#3e26a8 d="M7649 7716l-35 406 25 10 35-411z"/><path fill=#465efb d="M9538 7363l-35-5 25 3 35 4z"/><path fill=#4269fe d="M9432 7349l-105-17 25 2 106 17zM9397 7343l26 3M9362 7338l25 2"/><path fill=#3e6fff d="M9292 7326l-35-6 25 2 35 6z"/><path fill=#3875fe d="M9257 7320l-106-20 25 2 106 20zM9222 7314l25 2M9186 7307l26 2"/><path fill=#327cfc d="M9151 7300l-70-15 25 2 70 15zM9116 7293l25 2"/><path fill=#2f81fa d="M9081 7285l-71-16 26 2 70 16zM9046 7277l25 2"/><path fill=#2e87f7 d="M9010 7269l-70-17 25 2 71 17zM8975 7260l26 2"/><path fill=#2d8cf3 d="M8940 7252l-70-18 25 2 70 18zM8905 7243l25 2"/><path fill=#2b91ef d="M8870 7234l-70-17 25 1 70 18zM8835 7226l25 1"/><path fill=#2797eb d="M8800 7217l-71-18 25 1 71 18zM8764 7208l26 1"/><path fill=#259be8 d="M8729 7199l-70-17 25 1 70 17zM8694 7191l25 1"/><path fill=#23a0e5 d="M8659 7182l-71-18 26 1 70 18zM8624 7173l25 1"/><path fill=#20a5e3 d="M8588 7164l-70-19 25 1 71 19zM8553 7155l26 0"/><path fill=#1ca9df d="M8518 7145l-70-18 25 0 70 19zM8483 7136l25 0"/><path fill=#18addb d="M8448 7127l-70-20 25-1 70 21zM8413 7117l25 0"/><path fill=#08b5d0 d="M8342 7095l-35-14 25-1 36 14z"/><path fill=#19bfb6 d="M8131 6981l-35 12-35 19 25-5 35-19 36-12zM8096 6993l25-5"/><path fill=#0bbdbd d="M8061 7012l-35 21-35 28 25-4 35-29 35-21zM8026 7033l25-5"/><path fill=#01b8ca d="M7991 7061l-35 43 25-4 35-43z"/><path fill=#1ca9df d="M7920 7182l-35 81 25-3 36-82z"/><path fill=#2d8cf3 d="M7744 7355l-35 129 26 0 35-132z"/><path fill=#4563fd d="M7709 7484l-35 237 25 4 36-241z"/><path fill=#3e26a8 d="M7674 7721l-35 411 25 11 35-418z"/><path fill=#4563fd d="M9493 7356l-35-5 25 2 35 5z"/><path fill=#4269fe d="M9423 7346l-36-6 26 2 35 6z"/><path fill=#3e6fff d="M9387 7340l-105-18 25 2 106 18zM9352 7334l26 3M9317 7328l25 2"/><path fill=#3875fe d="M9282 7322l-70-13 25 2 70 13zM9247 7316l25 2"/><path fill=#327cfc d="M9212 7309l-71-14 26 2 70 14zM9176 7302l26 2"/><path fill=#2f81fa d="M9141 7295l-70-16 25 2 71 16zM9106 7287l25 2"/><path fill=#2e87f7 d="M9071 7279l-70-17 25 2 70 17zM9036 7271l25 1"/><path fill=#2d8cf3 d="M9001 7262l-71-17 26 1 70 18zM8965 7254l26 1"/><path fill=#2b91ef d="M8930 7245l-70-18 25 1 71 18zM8895 7236l25 1"/><path fill=#2797eb d="M8860 7227l-70-18 25 1 70 18zM8825 7218l25 1"/><path fill=#259be8 d="M8790 7209l-71-17 26 1 70 17zM8754 7200l26 2"/><path fill=#23a0e5 d="M8719 7192l-70-18 25 1 71 18zM8684 7183l25 1"/><path fill=#20a5e3 d="M8649 7174l-70-19 25 1 70 19zM8614 7165l25 0"/><path fill=#1ca9df d="M8579 7155l-71-19 26 1 70 19zM8543 7146l26 0"/><path fill=#18addb d="M8508 7136l-70-19 25 0 71 20zM8473 7127l25 0"/><path fill=#08b5d0 d="M8368 7094l-36-14 26-1 35 15z"/><path fill=#19bfb6 d="M8121 6988l-70 40 25-6 71-40zM8086 7007l26-5"/><path fill=#0bbdbd d="M8051 7028l-35 29 25-6 35-29z"/><path fill=#02bac3 d="M8016 7057l-35 43 25-6 35-43z"/><path fill=#18addb d="M7946 7178l-36 82 26-6 35-82z"/><path fill=#1ca9df d="M7840 7258l-35 28 25-5 35-28z"/><path fill=#20a5e3 d="M7805 7286l-35 66 25-3 35-68z"/><path fill=#2b91ef d="M7770 7352l-35 132 25-2 35-133z"/><path fill=#4269fe d="M7735 7484l-36 241 26 3 35-246z"/><path fill=#3e26a8 d="M7699 7725l-35 418 26 11 35-426z"/><path fill=#4269fe d="M9518 7358l-105-16 25 3 106 16zM9483 7353l25 3M9448 7348l25 2"/><path fill=#3e6fff d="M9413 7342l-35-5 25 2 35 6z"/><path fill=#3875fe d="M9342 7330l-70-12 25 2 71 13zM9307 7324l26 2"/><path fill=#327cfc d="M9272 7318l-105-21 25 1 105 22zM9237 7311l25 2M9202 7304l25 2"/><path fill=#2f81fa d="M9167 7297l-71-16 26 2 70 15zM9131 7289l26 2"/><path fill=#2e87f7 d="M9096 7281l-70-17 25 1 71 18zM9061 7272l25 2"/><path fill=#2d8cf3 d="M9026 7264l-70-18 25 2 70 17zM8991 7255l25 2"/><path fill=#2b91ef d="M8956 7246l-71-18 26 2 70 18zM8920 7237l26 2"/><path fill=#2797eb d="M8885 7228l-70-18 25 1 71 19zM8850 7219l25 1"/><path fill=#259be8 d="M8815 7210l-70-17 25 1 70 17zM8780 7202l25 1"/><path fill=#23a0e5 d="M8745 7193l-71-18 26 0 70 19zM8709 7184l26 0"/><path fill=#20a5e3 d="M8674 7175l-70-19 25 0 71 19zM8639 7165l25 1"/><path fill=#1ca9df d="M8604 7156l-35-10 25 1 35 9z"/><path fill=#18addb d="M8569 7146l-71-19 26 0 70 20zM8534 7137l25 0"/><path fill=#12b1d6 d="M8498 7127l-35-10 26 0 35 10z"/><path fill=#01b8ca d="M8358 7079l-35-19 25-2 35 20z"/><path fill=#19bfb6 d="M8112 7002l-36 20-35 29 26-7 35-28 35-21zM8076 7022l26-6"/><path fill=#0bbdbd d="M8041 7051l-35 43 25-7 36-43z"/><path fill=#08b5d0 d="M8006 7094l-35 78 25-7 35-78z"/><path fill=#18addb d="M7971 7172l-35 82 25-7 35-82z"/><path fill=#18addb d="M7865 7253l-35 28 26-7 35-29z"/><path fill=#20a5e3 d="M7830 7281l-35 68 25-6 36-69z"/><path fill=#2b91ef d="M7795 7349l-35 133 25-3 35-136z"/><path fill=#4269fe d="M7760 7482l-35 246 25 2 35-251z"/><path fill=#3e26a8 d="M7725 7728l-35 426 25 11 35-435z"/><path fill=#4269fe d="M9508 7356l-35-6 26 3 35 5z"/><path fill=#3e6fff d="M9473 7350l-70-11 25 2 71 12zM9438 7345l25 2"/><path fill=#3875fe d="M9403 7339l-35-6 25 2 35 6z"/><path fill=#3875fe d="M9333 7326l-36-6 26 2 35 6z"/><path fill=#327cfc d="M9297 7320l-70-14 25 2 71 14zM9262 7313l26 2"/><path fill=#2f81fa d="M9227 7306l-70-15 25 2 70 15zM9192 7298l25 2"/><path fill=#2e87f7 d="M9157 7291l-71-17 26 2 70 17zM9122 7283l25 1"/><path fill=#2d8cf3 d="M9086 7274l-70-17 25 1 71 18zM9051 7265l26 2"/><path fill=#2b91ef d="M9016 7257l-70-18 25 1 70 18zM8981 7248l25 1"/><path fill=#2797eb d="M8946 7239l-71-19 26 2 70 18zM8911 7230l25 1"/><path fill=#259be8 d="M8875 7220l-70-17 25 0 71 19zM8840 7211l26 1"/><path fill=#23a0e5 d="M8805 7203l-70-19 25 1 70 18zM8770 7194l25 0"/><path fill=#20a5e3 d="M8735 7184l-71-18 26 0 70 19zM8700 7175l25 1"/><path fill=#1ca9df d="M8664 7166l-70-19 25 0 71 19zM8629 7156l26 1"/><path fill=#18addb d="M8594 7147l-70-20 25 0 70 20zM8559 7137l25 0"/><path fill=#12b1d6 d="M8524 7127l-35-10 25-1 35 11z"/><path fill=#08b5d0 d="M8489 7117l-71-24 26-1 70 24zM8453 7105l26 0"/><path fill=#0bbdbd d="M8348 7058l-35-21 25-4 35 23z"/><path fill=#19bfb6 d="M8102 7016l-35 28 25-8 35-28z"/><path fill=#0bbdbd d="M8067 7044l-36 43 26-9 35-42z"/><path fill=#01b8ca d="M8031 7087l-35 78 26-9 35-78z"/><path fill=#12b1d6 d="M7996 7165l-35 82 25-10 36-81z"/><path fill=#12b1d6 d="M7891 7245l-35 29 25-10 35-29z"/><path fill=#1ca9df d="M7856 7274l-36 69 26-9 35-70z"/><path fill=#2797eb d="M7820 7343l-35 136 26-5 35-140z"/><path fill=#4269fe d="M7785 7479l-35 251 25 0 36-256z"/><path fill=#3e26a8 d="M7750 7730l-35 435 25 11 35-446z"/><path fill=#4563fd d="M9639 7372l-35-4 25 2 35 5z"/><path fill=#4269fe d="M9569 7363l-35-5 25 2 35 5z"/><path fill=#3e6fff d="M9499 7353l-71-12 26 2 70 12zM9463 7347l26 2"/><path fill=#3875fe d="M9428 7341l-70-13 25 3 71 12zM9393 7335l25 2"/><path fill=#327cfc d="M9358 7328l-70-13 25 2 70 14zM9323 7322l25 2"/><path fill=#2f81fa d="M9288 7315l-106-22 25 1 106 23zM9252 7308l26 2M9217 7300l25 2"/><path fill=#2e87f7 d="M9182 7293l-70-17 25 1 70 17zM9147 7284l25 2"/><path fill=#2d8cf3 d="M9112 7276l-71-18 26 2 70 17zM9077 7267l25 2"/><path fill=#2b91ef d="M9041 7258l-70-18 25 1 71 19zM9006 7249l26 2"/><path fill=#2797eb d="M8971 7240l-35-9 25 1 35 9z"/><path fill=#259be8 d="M8936 7231l-70-19 25 1 70 19zM8901 7222l25 1"/><path fill=#23a0e5 d="M8866 7212l-71-18 25 1 71 18zM8830 7203l26 1"/><path fill=#20a5e3 d="M8795 7194l-70-18 25 0 70 19zM8760 7185l25 1"/><path fill=#1ca9df d="M8725 7176l-70-19 25 0 70 19zM8690 7166l25 1"/><path fill=#18addb d="M8655 7157l-71-20 26-1 70 21zM8619 7147l26 0"/><path fill=#12b1d6 d="M8584 7137l-35-10 25-1 36 10z"/><path fill=#0bbdbd d="M8373 7056l-35-23 25-3 35 23z"/><path fill=#19bfb6 d="M8338 7033l-35-28 25-5 35 30z"/><path fill=#19bfb6 d="M8092 7036l-35 42 25-11 35-41z"/><path fill=#02bac3 d="M8057 7078l-35 78 25-12 35-77z"/><path fill=#12b1d6 d="M7916 7235l-35 29 25-12 35-30z"/><path fill=#1ca9df d="M7881 7264l-35 70 25-10 35-72z"/><path fill=#2797eb d="M7846 7334l-35 140 25-7 35-143z"/><path fill=#3e6fff d="M7811 7474l-36 256 26 0 35-263z"/><path fill=#3e26a8 d="M7775 7730l-35 446 26 11 35-457z"/><path fill=#4563fd d="M9700 7379l-36-4 26 2 35 4z"/><path fill=#3e6fff d="M9559 7360l-35-5 25 2 35 6z"/><path fill=#3875fe d="M9489 7349l-35-6 25 2 35 6z"/><path fill=#327cfc d="M9418 7337l-105-20 25 2 106 20zM9383 7331l25 2M9348 7324l25 2"/><path fill=#2f81fa d="M9313 7317l-71-15 26 2 70 15zM9278 7310l25 2"/><path fill=#2e87f7 d="M9242 7302l-70-16 25 2 71 16zM9207 7294l26 2"/><path fill=#2d8cf3 d="M9172 7286l-70-17 25 1 70 18zM9137 7277l25 2"/><path fill=#2b91ef d="M9102 7269l-70-18 25 1 70 18zM9067 7260l25 1"/><path fill=#2797eb d="M9032 7251l-71-19 25 1 71 19zM8996 7241l26 1"/><path fill=#259be8 d="M8961 7232l-70-19 25 1 70 19zM8926 7223l25 1"/><path fill=#23a0e5 d="M8891 7213l-71-18 26 1 70 18zM8856 7204l25 1"/><path fill=#20a5e3 d="M8820 7195l-70-19 25 1 71 19zM8785 7186l26 0"/><path fill=#1ca9df d="M8750 7176l-70-19 25 0 70 20zM8715 7167l25 0"/><path fill=#18addb d="M8680 7157l-35-10 25-1 35 11z"/><path fill=#12b1d6 d="M8645 7147l-71-21 26 0 70 20zM8610 7136l25 0"/><path fill=#08b5d0 d="M8574 7126l-70-23 25-1 71 24zM8539 7115l25-1"/><path fill=#24c1ae d="M8363 7030l-35-30 25-6 36 31z"/><path fill=#08b5d0 d="M7941 7222l-35 30 25-15 36-31z"/><path fill=#18addb d="M7906 7252l-35 72 25-14 35-73z"/><path fill=#259be8 d="M7871 7324l-35 143 25-10 35-147z"/><path fill=#3e6fff d="M7836 7467l-35 263 25-2 35-271z"/><path fill=#3e26a8 d="M7801 7730l-35 457 25 11 35-470z"/><path fill=#4269fe d="M9655 7373l-36-5 26 2 35 5z"/><path fill=#3e6fff d="M9619 7368l-35-5 26 2 35 5z"/><path fill=#3875fe d="M9549 7357l-105-18 25 2 105 18zM9514 7351l25 3M9479 7345l25 3"/><path fill=#327cfc d="M9408 7333l-35-7 26 2 35 7z"/><path fill=#2f81fa d="M9373 7326l-70-14 25 2 71 14zM9338 7319l25 2"/><path fill=#2e87f7 d="M9303 7312l-70-16 25 2 70 16zM9268 7304l25 2"/><path fill=#2d8cf3 d="M9233 7296l-71-17 26 2 70 17zM9197 7288l26 1"/><path fill=#2b91ef d="M9162 7279l-70-18 25 2 71 18zM9127 7270l25 2"/><path fill=#2797eb d="M9092 7261l-70-19 25 2 70 19zM9057 7252l25 1"/><path fill=#259be8 d="M9022 7242l-71-18 26 1 70 19zM8986 7233l26 1"/><path fill=#23a0e5 d="M8951 7224l-70-19 25 1 71 19zM8916 7214l25 1"/><path fill=#20a5e3 d="M8881 7205l-70-19 25 1 70 19zM8846 7196l25 0"/><path fill=#1ca9df d="M8811 7186l-71-19 26 0 70 20zM8775 7177l26 0"/><path fill=#18addb d="M8740 7167l-70-21 25 0 71 21zM8705 7157l25 0"/><path fill=#12b1d6 d="M8635 7136l-35-10 25-1 35 10z"/><path fill=#08b5d0 d="M8600 7126l-36-12 26-1 35 12z"/><path fill=#31c69f d="M8353 6994l-35-36 26-9 35 39z"/><path fill=#01b8ca d="M7967 7206l-36 31 26-19 35-31z"/><path fill=#12b1d6 d="M7931 7237l-35 73 26-16 35-76z"/><path fill=#23a0e5 d="M7896 7310l-35 147 25-12 36-151z"/><path fill=#3e6fff d="M7861 7457l-35 271 25-4 35-279z"/><path fill=#3e26a8 d="M7826 7728l-35 470 25 11 35-485z"/><path fill=#4269fe d="M9715 7380l-35-5 25 2 35 5z"/><path fill=#3e6fff d="M9680 7375l-106-16 26 3 105 15zM9645 7370l25 2M9610 7365l25 2"/><path fill=#3875fe d="M9539 7354l-35-6 25 2 36 6z"/><path fill=#327cfc d="M9504 7348l-105-20 25 2 105 20zM9469 7341l25 2M9434 7335l25 2"/><path fill=#2f81fa d="M9399 7328l-71-14 26 2 70 14zM9363 7321l26 2"/><path fill=#2e87f7 d="M9328 7314l-70-16 25 2 71 16zM9293 7306l25 2"/><path fill=#2d8cf3 d="M9258 7298l-70-17 25 1 70 18zM9223 7289l25 2"/><path fill=#2b91ef d="M9188 7281l-71-18 26 1 70 18zM9152 7272l26 1"/><path fill=#2797eb d="M9117 7263l-70-19 25 1 71 19zM9082 7253l25 1"/><path fill=#259be8 d="M9047 7244l-70-19 25 0 70 20zM9012 7234l25 1"/><path fill=#23a0e5 d="M8977 7225l-71-19 26 0 70 19zM8941 7215l26 1"/><path fill=#20a5e3 d="M8906 7206l-35-10 25 1 36 9z"/><path fill=#1ca9df d="M8871 7196l-70-19 25 0 70 20zM8836 7187l25 0"/><path fill=#18addb d="M8801 7177l-71-20 26-1 70 21zM8766 7167l25 0"/><path fill=#12b1d6 d="M8695 7146l-35-11 25-1 36 11z"/><path fill=#08b5d0 d="M8660 7135l-35-10 25-2 35 11z"/><path fill=#31c69f d="M8379 6988l-35-39 25-9 35 41z"/><path fill=#37c897 d="M8344 6949l-36-19 26-11 35 21z"/><path fill=#08b5d0 d="M7957 7218l-35 76 25-20 35-78z"/><path fill=#23a0e5 d="M7922 7294l-36 151 26-14 35-157z"/><path fill=#3875fe d="M7886 7445l-35 279 26-5 35-288z"/><path fill=#3e26a8 d="M7851 7724l-35 485 25 11 36-501z"/><path fill=#3875fe d="M9635 7367l-70-11 25 2 70 11zM9600 7362l25 2"/><path fill=#327cfc d="M9529 7350l-70-13 25 2 71 13zM9494 7343l26 2"/><path fill=#2f81fa d="M9459 7337l-70-14 25 2 70 14zM9424 7330l25 2"/><path fill=#2e87f7 d="M9389 7323l-71-15 26 2 70 15zM9354 7316l25 2"/><path fill=#2d8cf3 d="M9318 7308l-70-17 25 2 71 17zM9283 7300l26 1"/><path fill=#2b91ef d="M9248 7291l-70-18 25 2 70 18zM9213 7282l25 2"/><path fill=#2797eb d="M9178 7273l-71-19 26 2 70 19zM9143 7264l25 1"/><path fill=#259be8 d="M9107 7254l-70-19 25 1 71 20zM9072 7245l26 1"/><path fill=#23a0e5 d="M9037 7235l-70-19 25 0 70 20zM9002 7225l25 1"/><path fill=#20a5e3 d="M8967 7216l-71-19 26 0 70 19zM8932 7206l25 1"/><path fill=#1ca9df d="M8896 7197l-70-20 25 0 71 20zM8861 7187l26 0"/><path fill=#18addb d="M8826 7177l-70-21 25 0 70 21zM8791 7167l25-1"/><path fill=#12b1d6 d="M8756 7156l-35-11 25 0 35 11z"/><path fill=#08b5d0 d="M8721 7145l-36-11 26-1 35 12z"/><path fill=#3fca8e d="M8369 6940l-35-21 25-12 35 23z"/><path fill=#01b8ca d="M7982 7196l-35 78 25-23 35-81z"/><path fill=#20a5e3 d="M7947 7274l-35 157 25-18 35-162z"/><path fill=#3875fe d="M7912 7431l-35 288 25-8 35-298z"/><path fill=#3e26a8 d="M7877 7719l-36 501 26 11 35-520z"/><path fill=#3e6fff d="M9766 7384l-106-15 26 3 105 15zM9731 7380l25 2M9695 7375l26 2"/><path fill=#3875fe d="M9625 7364l-35-6 25 2 35 6z"/><path fill=#327cfc d="M9590 7358l-70-13 25 3 70 12zM9555 7352l25 2"/><path fill=#2f81fa d="M9520 7345l-106-20 25 2 106 21zM9484 7339l26 2M9449 7332l25 2"/><path fill=#2e87f7 d="M9414 7325l-70-15 25 1 70 16zM9379 7318l25 1"/><path fill=#2d8cf3 d="M9344 7310l-71-17 26 1 70 17zM9309 7301l25 2"/><path fill=#2b91ef d="M9273 7293l-70-18 25 1 71 18zM9238 7284l26 1"/><path fill=#2797eb d="M9203 7275l-70-19 25 1 70 19zM9168 7265l25 1"/><path fill=#259be8 d="M9133 7256l-35-10 25 1 35 10z"/><path fill=#23a0e5 d="M9098 7246l-71-20 25 1 71 20zM9062 7236l26 1"/><path fill=#20a5e3 d="M9027 7226l-70-19 25 0 70 20zM8992 7216l25 1"/><path fill=#1ca9df d="M8957 7207l-70-20 25 0 70 20zM8922 7197l25 0"/><path fill=#18addb d="M8887 7187l-71-21 26 0 70 21zM8851 7177l26 0"/><path fill=#12b1d6 d="M8816 7166l-70-21 25-1 71 22zM8781 7156l25-1"/><path fill=#4acb84 d="M8359 6907l-35 8 25-14 35-7z"/><path fill=#02bac3 d="M8007 7170l-35 81 25-27 36-84z"/><path fill=#1ca9df d="M7972 7251l-35 162 25-21 35-168z"/><path fill=#327cfc d="M7937 7413l-35 298 25-9 35-310z"/><path fill=#3e26a8 d="M7902 7711l-35 520 25 11 35-540z"/><path fill=#4269fe d="M9896 7398l-70-7 25 2 71 8zM9861 7395l26 2"/><path fill=#3e6fff d="M9756 7382l-35-5 25 2 35 5z"/><path fill=#3875fe d="M9721 7377l-71-11 26 2 70 11zM9686 7372l25 2"/><path fill=#327cfc d="M9615 7360l-70-12 25 2 70 12zM9580 7354l25 2"/><path fill=#2f81fa d="M9545 7348l-71-14 26 2 70 14zM9510 7341l25 2"/><path fill=#2e87f7 d="M9474 7334l-70-15 25 2 71 15zM9439 7327l26 2"/><path fill=#2d8cf3 d="M9404 7319l-70-16 25 2 70 16zM9369 7311l25 2"/><path fill=#2b91ef d="M9334 7303l-70-18 25 2 70 18zM9299 7294l25 2"/><path fill=#2797eb d="M9264 7285l-71-19 25 2 71 19zM9228 7276l26 1"/><path fill=#259be8 d="M9193 7266l-70-19 25 1 70 20zM9158 7257l25 1"/><path fill=#23a0e5 d="M9123 7247l-71-20 26 0 70 21zM9088 7237l25 1"/><path fill=#20a5e3 d="M9052 7227l-70-20 25 0 71 20zM9017 7217l26 0"/><path fill=#1ca9df d="M8982 7207l-35-10 25 0 35 10z"/><path fill=#18addb d="M8947 7197l-70-20 25-1 70 21zM8912 7187l25 0"/><path fill=#4acb84 d="M8384 6894l-35 7-35 15 25-18 35-14 36-5zM8349 6901l25-17"/><path fill=#0bbdbd d="M8033 7140l-36 84 26-32 35-87z"/><path fill=#18addb d="M7997 7224l-35 168 26-25 35-175z"/><path fill=#2f81fa d="M7962 7392l-35 310 25-12 36-323z"/><path fill=#3e26a8 d="M7927 7702l-35 540 25 11 35-563z"/><path fill=#3e6fff d="M9816 7389l-35-5 25 3 36 4z"/><path fill=#3875fe d="M9746 7379l-70-11 25 2 70 12zM9711 7374l25 2"/><path fill=#327cfc d="M9676 7368l-36-6 26 2 35 6z"/><path fill=#2f81fa d="M9605 7356l-70-13 25 2 71 13zM9570 7350l25 2"/><path fill=#2e87f7 d="M9535 7343l-106-22 26 2 105 22zM9500 7336l25 2M9465 7329l25 2"/><path fill=#2d8cf3 d="M9429 7321l-70-16 25 1 71 17zM9394 7313l26 2"/><path fill=#2b91ef d="M9359 7305l-70-18 25 1 70 18zM9324 7296l25 1"/><path fill=#2797eb d="M9289 7287l-35-10 25 2 35 9z"/><path fill=#259be8 d="M9254 7277l-71-19 26 1 70 20zM9218 7268l26 1"/><path fill=#23a0e5 d="M9183 7258l-70-20 25 0 71 21zM9148 7248l25 0"/><path fill=#20a5e3 d="M9113 7238l-70-21 25 1 70 20zM9078 7227l25 1"/><path fill=#1ca9df d="M9043 7217l-71-20 26 0 70 21zM9007 7207l26 0"/><path fill=#18addb d="M8972 7197l-35-10 25-1 36 11z"/><path fill=#12b1d6 d="M8902 7176l-35-11 25-1 35 12z"/><path fill=#08b5d0 d="M8867 7165l-35-11 25-1 35 11z"/><path fill=#57cc7a d="M8374 6884l-35 14-35 10 25-22 36-8 35-12zM8339 6898l26-20"/><path fill=#24c1ae d="M8058 7105l-35 87 25-37 35-90z"/><path fill=#08b5d0 d="M8023 7192l-35 175 25-29 35-183z"/><path fill=#2e87f7 d="M7988 7367l-36 323 26-15 35-337z"/><path fill=#3e26a8 d="M7952 7690l-35 563 26 11 35-589z"/><path fill=#3e6fff d="M9842 7391l-36-4 26 2 35 5z"/><path fill=#3875fe d="M9806 7387l-70-11 25 2 71 11zM9771 7382l26 2"/><path fill=#327cfc d="M9736 7376l-70-12 25 3 70 11zM9701 7370l25 3"/><path fill=#2f81fa d="M9666 7364l-106-19 26 2 105 20zM9631 7358l25 2M9595 7352l26 2"/><path fill=#2e87f7 d="M9560 7345l-70-14 25 2 71 14zM9525 7338l25 2"/><path fill=#2d8cf3 d="M9490 7331l-70-16 25 2 70 16zM9455 7323l25 2"/><path fill=#2b91ef d="M9420 7315l-71-18 26 2 70 18zM9384 7306l26 2"/><path fill=#2797eb d="M9349 7297l-70-18 25 1 71 19zM9314 7288l25 1"/><path fill=#259be8 d="M9279 7279l-70-20 25 1 70 20zM9244 7269l25 1"/><path fill=#23a0e5 d="M9209 7259l-71-21 26 1 70 21zM9173 7248l26 1"/><path fill=#20a5e3 d="M9138 7238l-35-10 25 0 36 11z"/><path fill=#1ca9df d="M9103 7228l-70-21 25 0 70 21zM9068 7218l25 0"/><path fill=#18addb d="M9033 7207l-35-10 25 0 35 10z"/><path fill=#12b1d6 d="M8962 7186l-70-22 25-1 71 23zM8927 7176l26-1"/><path fill=#64cd6f d="M8365 6878l-36 8 26-26 35-4z"/><path fill=#2cc4a7 d="M8083 7065l-35 90 25-42 36-94z"/><path fill=#01b8ca d="M8048 7155l-35 183 25-34 35-191z"/><path fill=#2e87f7 d="M8013 7338l-35 337 25-17 35-354z"/><path fill=#3e26a8 d="M7978 7675l-35 589 25 11 35-617z"/><path fill=#3875fe d="M9832 7389l-35-5 25 2 35 5z"/><path fill=#327cfc d="M9797 7384l-106-17 25 2 106 17zM9761 7378l26 3M9726 7373l26 2"/><path fill=#2f81fa d="M9656 7360l-35-6 25 2 35 6z"/><path fill=#2e87f7 d="M9621 7354l-71-14 26 2 70 14zM9586 7347l25 2"/><path fill=#2d8cf3 d="M9550 7340l-70-15 25 1 71 16zM9515 7333l26 1"/><path fill=#2b91ef d="M9480 7325l-70-17 25 1 70 17zM9445 7317l25 1"/><path fill=#2797eb d="M9410 7308l-71-19 26 2 70 18zM9375 7299l25 1"/><path fill=#259be8 d="M9339 7289l-70-19 25 1 71 20zM9304 7280l26 1"/><path fill=#23a0e5 d="M9269 7270l-70-21 25 1 70 21zM9234 7260l25 0"/><path fill=#20a5e3 d="M9199 7249l-71-21 26 0 70 22zM9164 7239l25 0"/><path fill=#1ca9df d="M9128 7228l-70-21 25 0 71 21zM9093 7218l26 0"/><path fill=#18addb d="M9058 7207l-35-10 25-1 35 11z"/><path fill=#81cc59 d="M8355 6860l-35 9 25-33 35-4z"/><path fill=#37c897 d="M8109 7019l-36 94 26-47 35-99z"/><path fill=#02bac3 d="M8073 7113l-35 191 26-38 35-200z"/><path fill=#2d8cf3 d="M8038 7304l-35 354 25-21 36-371z"/><path fill=#3e26a8 d="M8003 7658l-35 617 25 11 35-649z"/><path fill=#3875fe d="M9892 7396l-35-5 25 3 36 4z"/><path fill=#327cfc d="M9822 7386l-70-11 25 2 70 11zM9787 7381l25 2"/><path fill=#2f81fa d="M9752 7375l-71-13 25 2 71 13zM9716 7369l26 2"/><path fill=#2e87f7 d="M9681 7362l-105-20 25 2 105 20zM9646 7356l25 2M9611 7349l25 2"/><path fill=#2d8cf3 d="M9576 7342l-71-16 26 2 70 16zM9541 7334l25 2"/><path fill=#2b91ef d="M9505 7326l-70-17 25 2 71 17zM9470 7318l26 2"/><path fill=#2797eb d="M9435 7309l-70-18 25 1 70 19zM9400 7300l25 1"/><path fill=#259be8 d="M9365 7291l-71-20 26 1 70 20zM9330 7281l25 1"/><path fill=#23a0e5 d="M9294 7271l-35-11 25 1 36 11z"/><path fill=#20a5e3 d="M9259 7260l-70-21 25 0 70 22zM9224 7250l25 0"/><path fill=#1ca9df d="M9189 7239l-70-21 25 0 70 21zM9154 7228l25 1"/><path fill=#18addb d="M9119 7218l-36-11 26 0 35 11z"/><path fill=#8fcb4e d="M8380 6832l-35 4-35 13 25-44 35-6 35 1zM8345 6836l25-37"/><path fill=#4acb84 d="M8134 6967l-35 99 25-55 35-104z"/><path fill=#19bfb6 d="M8099 7066l-35 200 25-44 35-211z"/><path fill=#2b91ef d="M8064 7266l-36 371 26-24 35-391z"/><path fill=#3e26a8 d="M8028 7637l-35 649 25 11 36-684z"/><path fill=#3875fe d="M9953 7403l-35-5 25 3 35 4z"/><path fill=#327cfc d="M9882 7394l-35-6 25 3 36 5z"/><path fill=#327cfc d="M9812 7383l-35-6 25 2 35 6z"/><path fill=#2f81fa d="M9777 7377l-71-13 26 2 70 13zM9742 7371l25 2"/><path fill=#2e87f7 d="M9706 7364l-70-13 25 1 71 14zM9671 7358l26 1"/><path fill=#2d8cf3 d="M9636 7351l-70-15 25 2 70 14zM9601 7344l25 1"/><path fill=#2b91ef d="M9566 7336l-70-16 25 1 70 17zM9531 7328l25 2"/><path fill=#2797eb d="M9496 7320l-71-19 25 2 71 18zM9460 7311l26 1"/><path fill=#259be8 d="M9425 7301l-70-19 25 1 70 20zM9390 7292l25 1"/><path fill=#23a0e5 d="M9355 7282l-71-21 26 1 70 21zM9320 7272l25 0"/><path fill=#20a5e3 d="M9284 7261l-70-22 25 1 71 22zM9249 7250l26 1"/><path fill=#1ca9df d="M9214 7239l-35-10 25-1 35 12z"/><path fill=#12b1d6 d="M9109 7207l-71-23 26-1 70 23zM9074 7196l25-1"/><path fill=#abc739 d="M8370 6799l-35 6 25-49 35 1z"/><path fill=#64cd6f d="M8159 6907l-35 104 25-62 35-109z"/><path fill=#2cc4a7 d="M8124 7011l-35 211 25-50 35-223z"/><path fill=#259be8 d="M8089 7222l-35 391 25-28 35-413z"/><path fill=#3e26a8 d="M8054 7613l-36 684 26 11 35-723z"/><path fill=#3875fe d="M10013 7409l-35-4 25 3 35 4z"/><path fill=#327cfc d="M9872 7391l-35-6 26 2 35 6z"/><path fill=#2f81fa d="M9837 7385l-70-12 25 2 71 12zM9802 7379l25 2"/><path fill=#2e87f7 d="M9767 7373l-106-21 26 2 105 21zM9732 7366l25 2M9697 7359l25 2"/><path fill=#2d8cf3 d="M9661 7352l-70-14 25 1 71 15zM9626 7345l26 2"/><path fill=#2b91ef d="M9591 7338l-70-17 25 2 70 16zM9556 7330l25 1"/><path fill=#2797eb d="M9521 7321l-71-18 26 1 70 19zM9486 7312l25 1"/><path fill=#259be8 d="M9450 7303l-70-20 25 1 71 20zM9415 7293l26 1"/><path fill=#23a0e5 d="M9380 7283l-35-11 25 1 35 11z"/><path fill=#20a5e3 d="M9345 7272l-70-21 25 0 70 22zM9310 7262l25 0"/><path fill=#1ca9df d="M9275 7251l-71-23 26 0 70 23zM9239 7240l26 0"/><path fill=#18addb d="M9204 7228l-35-11 25 0 36 11z"/><path fill=#c5c22a d="M8360 6756l-35 24 25-65 36-13z"/><path fill=#8fcb4e d="M8184 6840l-35 109 26-69 35-116z"/><path fill=#37c897 d="M8149 6949l-35 223 25-57 36-235z"/><path fill=#23a0e5 d="M8114 7172l-35 413 25-32 35-438z"/><path fill=#3e26a8 d="M8079 7585l-35 723 25 11 35-766z"/><path fill=#327cfc d="M9968 7403l-70-10 25 2 70 10zM9933 7398l25 2"/><path fill=#2f81fa d="M9863 7387l-71-12 26 2 70 12zM9827 7381l26 2"/><path fill=#2e87f7 d="M9792 7375l-70-14 25 2 71 14zM9757 7368l25 2"/><path fill=#2d8cf3 d="M9722 7361l-70-14 25 2 70 14zM9687 7354l25 2"/><path fill=#2b91ef d="M9652 7347l-71-16 26 2 70 16zM9616 7339l26 2"/><path fill=#2797eb d="M9581 7331l-70-18 25 2 71 18zM9546 7323l25 1"/><path fill=#259be8 d="M9511 7313l-70-19 25 1 70 20zM9476 7304l25 1"/><path fill=#23a0e5 d="M9441 7294l-71-21 26 1 70 21zM9405 7284l26 0"/><path fill=#20a5e3 d="M9370 7273l-70-22 25 0 71 23zM9335 7262l25 0"/><path fill=#18addb d="M9265 7240l-71-23 26-1 70 23zM9230 7228l25 0"/><path fill=#12b1d6 d="M9194 7217l-70-23 25-2 71 24zM9159 7205l26-1"/><path fill=#dcbd29 d="M8350 6715l-35 19 26-86 35-7z"/><path fill=#b9c431 d="M8210 6764l-35 116 25-79 35-122z"/><path fill=#4acb84 d="M8175 6880l-36 235 26-64 35-250z"/><path fill=#20a5e3 d="M8139 7115l-35 438 26-37 35-465z"/><path fill=#3e26a8 d="M8104 7553l-35 766 25 11 36-814z"/><path fill=#327cfc d="M10029 7410l-36-5 26 3 35 4z"/><path fill=#327cfc d="M9958 7400l-35-5 25 2 36 6z"/><path fill=#2f81fa d="M9923 7395l-70-12 25 2 70 12zM9888 7389l25 2"/><path fill=#2e87f7 d="M9853 7383l-71-13 26 2 70 13zM9818 7377l25 2"/><path fill=#2d8cf3 d="M9782 7370l-70-14 25 2 71 14zM9747 7363l26 2"/><path fill=#2b91ef d="M9712 7356l-105-23 25 1 105 24zM9677 7349l25 1M9642 7341l25 2"/><path fill=#2797eb d="M9607 7333l-71-18 26 1 70 18zM9571 7324l26 1"/><path fill=#259be8 d="M9536 7315l-35-10 25 1 36 10z"/><path fill=#23a0e5 d="M9501 7305l-70-21 25 1 70 21zM9466 7295l25 1"/><path fill=#20a5e3 d="M9431 7284l-71-22 26 1 70 22zM9396 7274l25 0"/><path fill=#f8ba3d d="M8376 6641l-35 7 25-96 35 6z"/><path fill=#febe3c d="M8341 6648l-36-20 26-99 35 23z"/><path fill=#72cd64 d="M8200 6801l-35 250 25-72 35-266z"/><path fill=#18addb d="M8165 7051l-35 465 25-42 35-495z"/><path fill=#3e26a8 d="M8130 7516l-36 814 26 11 35-867z"/><path fill=#2f81fa d="M9948 7397l-35-6 25 2 36 6z"/><path fill=#2e87f7 d="M9913 7391l-105-19 25 2 105 19zM9878 7385l25 2M9843 7379l25 2"/><path fill=#2d8cf3 d="M9808 7372l-71-14 26 1 70 15zM9773 7365l25 2"/><path fill=#2b91ef d="M9737 7358l-70-15 25 1 71 15zM9702 7350l26 2"/><path fill=#2797eb d="M9667 7343l-70-18 25 1 70 18zM9632 7334l25 2"/><path fill=#259be8 d="M9597 7325l-71-19 26 1 70 19zM9562 7316l25 1"/><path fill=#23a0e5 d="M9526 7306l-70-21 25 0 71 22zM9491 7296l25 0"/><path fill=#20a5e3 d="M9456 7285l-35-11 25 0 35 11z"/><path fill=#1ca9df d="M9421 7274l-35-11 25 0 35 11z"/><path fill=#fad62d d="M8366 6552l-35-23 25-110 35 25z"/><path fill=#9dc943 d="M8225 6713l-35 266 25-82 35-283z"/><path fill=#08b5d0 d="M8190 6979l-35 495 25-48 35-529z"/><path fill=#3e26a8 d="M8155 7474l-35 867 25 11 35-926z"/><path fill=#3875fe d="M10150 7422l-36-3 26 2 35 4z"/><path fill=#327cfc d="M10114 7419l-70-9 25 2 71 9zM10079 7414l25 3"/><path fill=#2f81fa d="M10044 7410l-70-11 25 2 70 11zM10009 7405l25 2"/><path fill=#2e87f7 d="M9938 7393l-70-12 25 2 71 12zM9903 7387l26 2"/><path fill=#2d8cf3 d="M9868 7381l-70-14 25 1 70 15zM9833 7374l25 2"/><path fill=#2b91ef d="M9798 7367l-70-15 25 1 70 15zM9763 7359l25 2"/><path fill=#2797eb d="M9728 7352l-71-16 25 1 71 16zM9692 7344l26 1"/><path fill=#259be8 d="M9657 7336l-70-19 25 1 70 19zM9622 7326l25 2"/><path fill=#23a0e5 d="M9587 7317l-71-21 26 1 70 21zM9552 7307l25 1"/><path fill=#20a5e3 d="M9516 7296l-70-22 25 0 71 23zM9481 7285l26 1"/><path fill=#1ca9df d="M9446 7274l-35-11 25-1 35 12z"/><path fill=#18addb d="M9376 7251l-35-12 25-1 35 12z"/><path fill=#12b1d6 d="M9341 7239l-35-13 25-1 35 13z"/><path fill=#f6ef20 d="M8391 6444l-35-25-35 4 25-124 35-3 35 27zM8356 6419l25-123"/><path fill=#c5c22a d="M8250 6614l-35 283 26-91 35-304z"/><path fill=#02bac3 d="M8215 6897l-35 529 25-54 36-566z"/><path fill=#3e26a8 d="M8180 7426l-35 926 25 10 35-990z"/><path fill=#3875fe d="M10210 7428l-35-3 25 2 35 3z"/><path fill=#327cfc d="M10104 7417l-35-5 26 2 35 5z"/><path fill=#2f81fa d="M10069 7412l-70-11 25 2 71 11zM10034 7407l25 2"/><path fill=#2e87f7 d="M9999 7401l-70-12 25 2 70 12zM9964 7395l25 2"/><path fill=#2d8cf3 d="M9929 7389l-106-21 25 2 106 21zM9893 7383l26 1M9858 7376l26 1"/><path fill=#2b91ef d="M9823 7368l-70-15 25 2 70 15zM9788 7361l25 2"/><path fill=#2797eb d="M9753 7353l-71-16 26 1 70 17zM9718 7345l25 2"/><path fill=#259be8 d="M9682 7337l-70-19 25 1 71 19zM9647 7328l26 1"/><path fill=#23a0e5 d="M9612 7318l-70-21 25 0 70 22zM9577 7308l25 0"/><path fill=#20a5e3 d="M9542 7297l-35-11 25 0 35 11z"/><path fill=#f6ef20 d="M8381 6296l-35 3 25 6 36-22z"/><path fill=#f7f51b d="M8346 6299l-35 56 25-52 35 2z"/><path fill=#f0ba36 d="M8276 6502l-35 304 25-121 35-313z"/><path fill=#24c1ae d="M8241 6806l-36 566 26-95 35-592z"/><path fill=#3e26a8 d="M8205 7372l-35 990 26 11 35-1096z"/><path fill=#2f81fa d="M10130 7419l-71-10 26 2 70 10zM10095 7414l25 2"/><path fill=#2e87f7 d="M10059 7409l-105-18 25 2 106 18zM10024 7403l26 2M9989 7397l25 2"/><path fill=#2d8cf3 d="M9954 7391l-70-14 25 2 70 14zM9919 7384l25 2"/><path fill=#2b91ef d="M9884 7377l-71-14 26 1 70 15zM9848 7370l26 2"/><path fill=#2797eb d="M9813 7363l-70-16 25 1 71 16zM9778 7355l25 1"/><path fill=#259be8 d="M9743 7347l-70-18 25 1 70 18zM9708 7338l25 1"/><path fill=#23a0e5 d="M9673 7329l-71-21 26 1 70 21zM9637 7319l26 1"/><path fill=#20a5e3 d="M9602 7308l-35-11 25 1 36 11z"/><path fill=#18addb d="M9497 7274l-71-24 26-1 70 25zM9462 7262l25 0"/><path fill=#e6bb2d d="M8758 6746l-35-101 25-41 36 110z"/><path fill=#f7f51b d="M8407 6283l-36 22 26-3 35 1z"/><path fill=#f6ef20 d="M8371 6305l-35-2 26 20 35-21z"/><path fill=#f7f51b d="M8336 6303l-35 69 25-50 36 1z"/><path fill=#fccf30 d="M8301 6372l-35 313 25-169 35-194z"/><path fill=#4acb84 d="M8266 6685l-35 592 25-171 35-590z"/><path fill=#3e26a8 d="M8231 7277l-35 1096 25 11 35-1278z"/><path fill=#327cfc d="M10225 7429l-35-3 26 2 35 4z"/><path fill=#2f81fa d="M10190 7426l-105-15 25 2 106 15zM10155 7421l25 2M10120 7416l25 2"/><path fill=#2e87f7 d="M10085 7411l-71-12 26 2 70 12zM10050 7405l25 2"/><path fill=#2d8cf3 d="M10014 7399l-70-13 25 2 71 13zM9979 7393l26 2"/><path fill=#2b91ef d="M9944 7386l-105-22 25 2 105 22zM9909 7379l25 2M9874 7372l25 1"/><path fill=#2797eb d="M9839 7364l-71-16 26 1 70 17zM9803 7356l26 2"/><path fill=#259be8 d="M9768 7348l-70-18 25 0 71 19zM9733 7339l25 1"/><path fill=#23a0e5 d="M9698 7330l-35-10 25 0 35 10z"/><path fill=#20a5e3 d="M9663 7320l-71-22 26 0 70 22zM9628 7309l25 0"/><path fill=#f8ba3d d="M8784 6714l-36-110 26-45 35 118z"/><path fill=#f7f51b d="M8397 6302l-35 21 25-3 35 2z"/><path fill=#f6ef20 d="M8362 6323l-36-1 26 20 35-22z"/><path fill=#f7f51b d="M8326 6322l-35 194 26-176 35 2z"/><path fill=#abc739 d="M8291 6516l-35 590 25-215 36-551z"/><path fill=#3e26a8 d="M8256 7106l-35 1278 25 11 35-1504z"/><path fill=#327cfc d="M10286 7435l-35-3 25 2 35 3z"/><path fill=#2f81fa d="M10180 7423l-35-5 25 3 36 5z"/><path fill=#2e87f7 d="M10145 7418l-35-5 25 2 35 6z"/><path fill=#2d8cf3 d="M10075 7407l-106-19 26 2 105 19zM10040 7401l25 2M10005 7395l25 2"/><path fill=#2b91ef d="M9969 7388l-70-15 25 2 71 15zM9934 7381l26 1"/><path fill=#2797eb d="M9899 7373l-70-15 25 1 70 16zM9864 7366l25 1"/><path fill=#259be8 d="M9829 7358l-71-18 26 1 70 18zM9794 7349l25 1"/><path fill=#23a0e5 d="M9758 7340l-70-20 25 1 71 20zM9723 7330l25 1"/><path fill=#20a5e3 d="M9688 7320l-70-22 25 0 70 23zM9653 7309l25 1"/><path fill=#1ca9df d="M9618 7298l-35-12 25 0 35 12z"/><path fill=#f7f51b d="M8387 6320l-35 22 25-3 35 2z"/><path fill=#f6ef20 d="M8352 6342l-35-2 25 21 35-22z"/><path fill=#fec338 d="M8317 6340l-36 551 26-274 35-256z"/><path fill=#3e26a8 d="M8281 6891l-35 1504 26 11 35-1789z"/><path fill=#2f81fa d="M10241 7430l-35-4 25 2 35 4z"/><path fill=#2e87f7 d="M10206 7426l-106-17 25 2 106 17zM10170 7421l26 2M10135 7415l26 2"/><path fill=#2d8cf3 d="M10100 7409l-70-12 25 1 70 13zM10065 7403l25 2"/><path fill=#2b91ef d="M10030 7397l-70-15 25 2 70 14zM9995 7390l25 1"/><path fill=#2797eb d="M9960 7382l-71-15 25 1 71 16zM9924 7375l26 1"/><path fill=#259be8 d="M9889 7367l-70-17 25 1 70 17zM9854 7359l25 1"/><path fill=#23a0e5 d="M9819 7350l-71-19 26 1 70 19zM9784 7341l25 1"/><path fill=#20a5e3 d="M9748 7331l-70-21 25 0 71 22zM9713 7321l26 0"/><path fill=#1ca9df d="M9643 7298l-35-12 25-1 35 13z"/><path fill=#f7f51b d="M8377 6339l-35 22 25-3 35 1z"/><path fill=#f6ef20 d="M8342 6361l-35 256 25-238 35-21z"/><path fill=#3e26a8 d="M8307 6617l-35 1789 25 11 35-2038z"/><path fill=#2f81fa d="M10301 7436l-70-8 25 2 71 8zM10266 7432l25 2"/><path fill=#2e87f7 d="M10231 7428l-70-11 25 2 70 11zM10196 7423l25 2"/><path fill=#2d8cf3 d="M10161 7417l-71-12 26 2 70 12zM10125 7411l26 2"/><path fill=#2b91ef d="M10090 7405l-105-21 25 1 106 22zM10055 7398l25 2M10020 7391l25 2"/><path fill=#2797eb d="M9985 7384l-71-16 26 1 70 16zM9950 7376l25 1"/><path fill=#259be8 d="M9914 7368l-70-17 25 1 71 17zM9879 7360l26 1"/><path fill=#23a0e5 d="M9844 7351l-70-19 25 0 70 20zM9809 7342l25 0"/><path fill=#20a5e3 d="M9774 7332l-35-11 25 0 35 11z"/><path fill=#f7f51b d="M8367 6358l-35 21 25-3 35 2z"/><path fill=#3e26a8 d="M8332 6379l-35 2038 25 11 35-2052z"/><path fill=#2f81fa d="M10362 7442l-35-4 25 3 35 3z"/><path fill=#2e87f7 d="M10256 7430l-70-11 25 2 71 11zM10221 7425l25 2"/><path fill=#2d8cf3 d="M10186 7419l-70-12 25 1 70 13zM10151 7413l25 2"/><path fill=#2b91ef d="M10116 7407l-71-14 26 1 70 14zM10080 7400l26 2"/><path fill=#2797eb d="M10045 7393l-70-16 25 2 71 15zM10010 7385l25 2"/><path fill=#259be8 d="M9975 7377l-70-16 25 1 70 17zM9940 7369l25 1"/><path fill=#23a0e5 d="M9905 7361l-71-19 26 1 70 19zM9869 7352l26 1"/><path fill=#20a5e3 d="M9834 7342l-70-21 25 0 71 22zM9799 7332l25 1"/><path fill=#2e87f7 d="M10317 7436l-71-9 26 2 70 10zM10282 7432l25 2"/><path fill=#2d8cf3 d="M10246 7427l-70-12 25 2 71 12zM10211 7421l26 2"/><path fill=#2b91ef d="M10176 7415l-70-13 25 1 70 14zM10141 7408l25 2"/><path fill=#2797eb d="M10106 7402l-106-23 26 1 105 23zM10071 7394l25 2M10035 7387l26 1"/><path fill=#259be8 d="M10000 7379l-70-17 25 1 71 17zM9965 7370l25 2"/><path fill=#23a0e5 d="M9930 7362l-70-19 25 1 70 19zM9895 7353l25 1"/><path fill=#20a5e3 d="M9860 7343l-36-10 26 0 35 11z"/><path fill=#1ca9df d="M9824 7333l-70-24 25 0 71 24zM9789 7321l26 0"/><path fill=#2f81fa d="M10483 7452l-71-6 26 3 70 6zM10448 7450l25 2"/><path fill=#2e87f7 d="M10412 7446l-105-12 25 2 106 13zM10377 7443l25 2M10342 7439l25 2"/><path fill=#2d8cf3 d="M10307 7434l-106-17 26 2 105 17zM10272 7429l25 2M10237 7423l25 2"/><path fill=#2b91ef d="M10201 7417l-70-14 25 2 71 14zM10166 7410l26 2"/><path fill=#2797eb d="M10131 7403l-70-15 25 1 70 16zM10096 7396l25 1"/><path fill=#259be8 d="M10061 7388l-71-16 26 1 70 16zM10026 7380l25 1"/><path fill=#23a0e5 d="M9990 7372l-70-18 25 0 71 19zM9955 7363l25 1"/><path fill=#20a5e3 d="M9920 7354l-70-21 25 0 70 21zM9885 7344l25 0"/><path fill=#1ca9df d="M9850 7333l-35-12 25 0 35 12z"/><path fill=#18addb d="M9815 7321l-36-12 26 0 35 12z"/></g><path d="M839.8 846.1L1050.8 800.1M839.8 846.1L688.0 780.4M688.0 780.4L688.0 548.9M839.8 846.1L844.8 848.3M945.3 823.1L950.3 825.3M1050.8 800.1L1055.8 802.3M839.8 846.1L834.4 847.3M763.9 813.2L758.5 814.4M688.0 780.4L682.6 781.6M688.0 780.4L684.8 779.0M688.0 734.1L684.8 732.7M688.0 687.8L684.8 686.4M688.0 641.5L684.8 640.1M688.0 595.2L684.8 593.8M688.0 548.9L684.8 547.5" stroke="#3a3a3a" stroke-width="0.8" fill="none"/><text x="850.7" y="864.7" font-size="13.4" text-anchor="start">0</text><text x="956.2" y="841.7" font-size="13.4" text-anchor="start">0.5</text><text x="1061.7" y="818.7" font-size="13.4" text-anchor="start">1</text><text x="828.3" y="862.9" font-size="13.4" text-anchor="end">0</text><text x="752.4" y="830.0" font-size="13.4" text-anchor="end">0.5</text><text x="676.5" y="797.2" font-size="13.4" text-anchor="end">1</text><text x="677.6" y="782.6" font-size="13.4" text-anchor="end">0</text><text x="677.6" y="736.3" font-size="13.4" text-anchor="end">0.02</text><text x="677.6" y="690.0" font-size="13.4" text-anchor="end">0.04</text><text x="677.6" y="643.7" font-size="13.4" text-anchor="end">0.06</text><text x="677.6" y="597.4" font-size="13.4" text-anchor="end">0.08</text><text x="677.6" y="551.1" font-size="13.4" text-anchor="end">0.1</text><text x="937.0" y="873.6" class="gk" text-anchor="middle">η</text><text x="756.0" y="868.1" class="gk" text-anchor="middle">κ</text><text transform="translate(636.0 665.5) rotate(-90)" font-size="14.7" text-anchor="middle">R<tspan font-size="11.7" dy="7">0</tspan></text><linearGradient id="cbe" x1="0" y1="0" x2="0" y2="1"><stop offset="0.0000" stop-color="#f9fb15"/><stop offset="0.0476" stop-color="#f5e924"/><stop offset="0.0952" stop-color="#fad62d"/><stop offset="0.1429" stop-color="#fec338"/><stop offset="0.1905" stop-color="#f0ba36"/><stop offset="0.2381" stop-color="#d1bf27"/><stop offset="0.2857" stop-color="#abc739"/><stop offset="0.3333" stop-color="#81cc59"/><stop offset="0.3810" stop-color="#57cc7a"/><stop offset="0.4286" stop-color="#37c897"/><stop offset="0.4762" stop-color="#24c1ae"/><stop offset="0.5238" stop-color="#02bac3"/><stop offset="0.5714" stop-color="#12b1d6"/><stop offset="0.6190" stop-color="#20a5e3"/><stop offset="0.6667" stop-color="#2797eb"/><stop offset="0.7143" stop-color="#2e87f7"/><stop offset="0.7619" stop-color="#3875fe"/><stop offset="0.8095" stop-color="#4563fd"/><stop offset="0.8571" stop-color="#4852f4"/><stop offset="0.9048" stop-color="#4741e5"/><stop offset="0.9524" stop-color="#4332cb"/><stop offset="1.0000" stop-color="#3e26a8"/></linearGradient><rect x="1089.2" y="503.9" width="20.3" height="342.4" fill="url(#cbe)" stroke="#3a3a3a" stroke-width="0.8"/><text x="1115.0" y="851.1" font-size="13.4" text-anchor="start">0</text><text x="1115.0" y="813.3" font-size="13.4" text-anchor="start">0.01</text><text x="1115.0" y="775.4" font-size="13.4" text-anchor="start">0.02</text><text x="1115.0" y="737.6" font-size="13.4" text-anchor="start">0.03</text><text x="1115.0" y="699.8" font-size="13.4" text-anchor="start">0.04</text><text x="1115.0" y="661.9" font-size="13.4" text-anchor="start">0.05</text><text x="1115.0" y="624.1" font-size="13.4" text-anchor="start">0.06</text><text x="1115.0" y="586.3" font-size="13.4" text-anchor="start">0.07</text><text x="1115.0" y="548.4" font-size="13.4" text-anchor="start">0.08</text><text x="1115.0" y="510.6" font-size="13.4" text-anchor="start">0.09</text><path d="M1109.5 846.3h-3.5M1109.5 808.5h-3.5M1109.5 770.6h-3.5M1109.5 732.8h-3.5M1109.5 695.0h-3.5M1109.5 657.1h-3.5M1109.5 619.3h-3.5M1109.5 581.5h-3.5M1109.5 543.6h-3.5M1109.5 505.8h-3.5" stroke="#3a3a3a" stroke-width="0.8" fill="none"/>
<path d="M1483.6 846.0L1315.6 818.7M1576.4 834.0L1408.4 806.7M1669.3 821.9L1501.3 794.6M1483.6 846.0L1669.3 821.9M1399.6 832.4L1585.3 808.2M1315.6 818.7L1501.3 794.6M1315.6 818.7L1315.6 526.7M1408.4 806.7L1408.4 514.7M1501.3 794.6L1501.3 502.6M1315.6 818.7L1501.3 794.6M1315.6 770.0L1501.3 745.9M1315.6 721.4L1501.3 697.3M1315.6 672.7L1501.3 648.6M1315.6 624.0L1501.3 599.9M1315.6 575.4L1501.3 551.3M1315.6 526.7L1501.3 502.6M1669.3 821.9L1669.3 529.9M1585.3 808.2L1585.3 516.2M1501.3 794.6L1501.3 502.6M1501.3 794.6L1669.3 821.9M1501.3 745.9L1669.3 773.2M1501.3 697.3L1669.3 724.6M1501.3 648.6L1669.3 675.9M1501.3 599.9L1669.3 627.2M1501.3 551.3L1669.3 578.6M1501.3 502.6L1669.3 529.9" stroke="#e1e1e1" stroke-width="1.1" fill="none"/><g transform="scale(0.1)" stroke="#000" stroke-width="6" stroke-linejoin="round" fill="none"><g stroke-width="6"><path fill=#4741e5 stroke=#4741e5 d="M16413 7915l28-21-31 3-28 21zM16382 7918l28-21-31 3-28 21zM16351 7921l28-21-31 3-28 21zM16320 7924l28-21-31 3-28 21zM16289 7927l28-21-31 3-28 22zM16258 7931l28-22-31 3-28 22zM16227 7934l28-22-31 3-28 22zM16196 7937l28-22-31 3-28 22zM16165 7940l28-22-31 3-28 22zM16134 7943l28-22-31 3-27 23zM16104 7947l27-23-30 3-28 23zM16073 7950l28-23-31 3-28 23zM16014 7969l28-16 28-23-31 4-28 22-28 17zM15983 7973l28-17 28-22-31 3-28 23-28 16zM15952 7976l28-16 28-23-31 3-28 23-28 17zM15921 7980l28-17 28-23-31 3-28 23-28 18zM15890 7984l28-18-31 4-28 17zM15859 7987l28-17-31 3-28 18zM15828 7991l28-18-31 3-28 18zM15797 7994l28-18-31 4-28 18zM15766 7998l28-18-31 3-28 19zM15735 8002l28-19-31 3-28 19zM15704 8005l28-19-31 4-28 19zM15673 8009l28-19-31 3-28 19zM15642 8012l28-19-31 3-28 20zM15611 8016l28-20-31 3-28 20zM15580 8019l28-20-31 3-28 20zM15549 8022l28-20-31 2-28 21zM15518 8025l28-21-31 3-28 21zM15487 8028l28-21-31 2-28 21zM15428 8048l28-18 28-21-30 1-28 22-28 19zM15398 8051l28-19 28-22-31 2-28 22-28 19zM15367 8053l28-19 28-22-31 1-28 23-28 19zM15336 8055l28-19 28-23-31 0-28 24-28 20zM15305 8057l28-20-31 0-28 21zM15274 8058l28-21-31 0-28 21zM15243 8058l28-21-31 0-28 21zM15212 8058l28-21-31-1-28 22zM15153 8076l28-18 28-22-31-2-28 22-28 19zM15122 8075l28-19 28-22-31-2-28 22-28 20zM15091 8074l28-20-31-3-28 20zM15060 8071l28-20-31-3-28 20zM15001 8086l28-18 28-20-31-5-28 21-28 18zM14970 8082l28-18-31-5-28 19zM14911 8094l28-16 28-19-31-7-28 20-28 17zM14880 8089l28-17-31-7-28 17zM14821 8097l28-15 28-17-31-9-28 18-28 16zM14790 8090l28-16-31-10-28 17zM14731 8095l56-31-31-11-56 32zM14672 8098l56-28-30-13-57 29zM14614 8098l56-26-31-15-56 27zM14555 8095l56-23-31-18-56 25zM14468 8097l56-18 28-11-31-21-28 13-56 19zM14381 8093l56-14 28-9-31-23-28 10-56 16zM14266 8086l56-8 56-12-31-28-56 15-56 9zM14123 8069l84-3 56-8-31-32-56 9-84 7zM13840 8036l140 6 84 1-31-37-84 2-140-2zM13669 8002l224 6-31-20-224-1zM13442 7983l224 4-31-27-224 1z"/><path fill=#4747eb stroke=#4747eb d="M16441 7894l28-18-31 3-28 18zM16410 7897l28-18-31 3-28 18zM16379 7900l28-18-31 3-28 18zM16348 7903l28-18-31 3-28 18zM16317 7906l28-18-31 3-28 18zM16286 7909l28-18-31 3-28 18zM16255 7912l28-18-31 2-28 19zM16224 7915l28-19-31 3-28 19zM16193 7918l28-19-31 3-28 19zM16162 7921l28-19-31 3-28 19zM16131 7924l28-19-30 3-28 19zM16101 7927l28-19-31 3-28 19zM16070 7930l28-19-31 3-28 20zM16039 7934l28-20-31 3-28 20zM16008 7937l28-20-31 2-28 21zM15977 7940l28-21-31 3-28 21zM15918 7966l28-23 28-21-31 3-28 21-28 24zM15887 7970l28-24 28-21-31 3-28 21-28 24zM15856 7973l28-24 28-21-31 3-28 21-28 24zM15825 7976l28-24 28-21-31 3-28 21-28 25zM15794 7980l28-25 28-21-31 2-28 22-28 25zM15763 7983l28-25 28-22-31 3-28 22-28 25zM15732 7986l28-25 28-22-31 2-28 23-28 26zM15701 7990l28-26 28-23-31 3-28 23-28 26zM15670 7993l28-26 28-23-31 2-28 24-28 26zM15639 7996l28-26-31 2-28 27zM15608 7999l28-27-31 2-28 28zM15577 8002l28-28-31 3-28 27zM15546 8004l28-27-31 1-28 29zM15515 8007l28-29-31 2-28 29zM15484 8009l28-29-30 1-28 29zM15454 8010l28-29-31 1-28 30zM15423 8012l28-30-31 1-28 30zM15392 8013l28-30-31 0-28 30zM15333 8037l28-24 28-30-31-1-28 32-28 23zM15302 8037l28-23-31-1-28 24zM15271 8037l28-24-31-1-28 25zM15240 8037l28-25-31-1-28 25zM15209 8036l28-25-31-3-28 26zM15178 8034l28-26-31-3-28 27zM15119 8054l28-22 28-27-31-4-28 27-28 23zM15088 8051l28-23-31-4-28 24zM15057 8048l28-24-31-6-28 25zM14998 8064l28-21 28-25-31-6-28 25-28 22zM14967 8059l28-22-31-7-28 22zM14908 8072l28-20 28-22-31-9-28 24-28 20zM14877 8065l28-20-31-10-28 21zM14818 8074l28-18 28-21-31-11-28 22-28 18zM14787 8064l28-18-31-13-28 20zM14728 8070l28-17-30-14-28 18zM14670 8072l28-15 28-18-31-18-28 20-28 16zM14611 8072l56-31-31-20-28 18-28 15zM14552 8068l28-14-31-21-28 14zM14465 8070l56-23-31-26-56 26zM14378 8066l56-19-31-30-56 21zM14263 8058l56-12 28-8-31-37-28 10-56 15zM14064 8043l84-4 56-8-31-43-56 10-84 8zM13893 8008l84 0 84-4-31-24-84 6-84 2zM13666 7987l224 1-31-33-84 3-140 2z"/><path fill=#484df0 stroke=#484df0 d="M16469 7876l28-30-31 3-28 30zM16438 7879l28-30-31 3-28 30zM16407 7882l28-30-31 3-28 30zM16376 7885l28-30-31 2-28 31zM16345 7888l28-31-31 3-28 31zM16314 7891l28-31-31 3-28 31zM16283 7894l28-31-31 2-28 31zM16252 7896l28-31-31 3-28 31zM16221 7899l28-31-31 3-28 31zM16190 7902l28-31-30 2-29 32zM16159 7905l29-32-31 3-28 32zM16129 7908l28-32-31 3-28 32zM16098 7911l28-32-31 2-28 33zM16067 7914l28-33-31 3-28 33zM16036 7917l28-33-31 2-28 33zM16005 7919l28-33-31 3-28 33zM15974 7922l28-33-31 2-28 34zM15943 7925l28-34-31 3-28 34zM15912 7928l28-34-31 2-28 35zM15881 7931l28-35-31 3-28 35zM15850 7934l28-35-31 2-28 35zM15819 7936l28-35-31 2-28 36zM15788 7939l28-36-31 2-28 36zM15757 7941l28-36-31 2-28 37zM15667 7970l28-24-31 2-28 24zM15636 7972l28-24-31 2-28 24zM15605 7974l28-24-31 2-28 25zM15574 7977l28-25-31 1-28 25zM15543 7978l28-25-31 1-28 26zM15512 7980l28-26-30 1-28 26zM15482 7981l28-26-31 1-28 26zM15451 7982l28-26-31 0-28 27zM15420 7983l28-27-31-1-28 28zM15389 7983l28-28-31-1-28 28zM15330 8014l28-32 28-28-31-1-28 28-28 32zM15299 8013l28-32-31-1-28 32zM15268 8012l28-32-31-3-28 34zM15237 8011l28-34-31-3-28 34zM15206 8008l28-34-31-4-28 35zM15116 8028l28-27-31-5-28 28zM15085 8024l28-28-31-6-28 28zM15054 8018l28-28-31-8-28 30zM14995 8037l28-25-31-8-28 26zM14964 8030l28-26-31-10-28 27zM14905 8045l28-24 28-27-31-11-28 28-28 24zM14874 8035l28-24-31-12-28 25zM14815 8046l28-22-31-14-28 23zM14756 8053l28-20 28-23-31-16-27 24-28 21zM14726 8039l28-21-31-19-28 22zM14667 8041l28-20-31-21-28 21zM14580 8054l28-15 28-18-31-25-28 20-28 17zM14521 8047l56-31-31-29-28 18-28 16zM14434 8047l56-26-31-33-56 29zM14347 8038l56-21-31-41-56 25zM14204 8031l56-12 28-8-31-49-28 10-56 16zM14061 8004l56-6 56-10-31-28-56 12-56 8zM13890 7988l84-3 56-5-31-39-56 8-84 6z"/><path fill=#4852f4 stroke=#4852f4 d="M16497 7846l28-41-31 3-28 41zM16466 7849l28-41-31 2-28 42zM16435 7852l28-42-31 3-28 42zM16404 7855l28-42-31 2-28 42zM16373 7857l28-42-31 3-28 42zM16342 7860l28-42-31 2-28 43zM16311 7863l28-43-31 3-28 42zM16280 7865l28-42-31 2-28 43zM16249 7868l28-43-31 2-28 44zM16218 7871l28-44-30 3-28 43zM16188 7873l28-43-31 2-28 44zM16157 7876l28-44-31 2-28 45zM16126 7879l28-45-31 3-28 44zM16095 7881l28-44-31 2-28 45zM16064 7884l28-45-31 2-28 45zM16033 7886l28-45-31 2-28 46zM16002 7889l28-46-31 3-28 45zM15726 7944l28-37-31 2-28 37zM15695 7946l28-37-31 2-28 37zM15664 7948l28-37-31 1-28 38zM15633 7950l28-38-31 1-28 39zM15602 7952l28-39-31 1-28 39zM15571 7953l28-39-31 1-28 39zM15540 7954l28-39-30 0-28 40zM15510 7955l28-40-31 0-28 41zM15479 7956l28-41-31-1-28 42zM15448 7956l28-42-31-1-28 42zM15327 7981l28-28-31-3-28 30zM15296 7980l28-30-31-3-28 30zM15265 7977l28-30-31-3-28 30zM15234 7974l28-30-31-5-28 31zM15175 8005l28-35 28-31-31-6-28 32-28 36zM15144 8001l28-36-31-6-28 37zM15113 7996l28-37-31-7-28 38zM15082 7990l28-38-31-8-28 38zM15023 8012l28-30-31-9-28 31zM14992 8004l28-31-31-10-28 31zM14961 7994l28-31-31-13-28 33zM14902 8011l28-28-31-14-28 30zM14843 8024l28-25 28-30-31-16-28 31-28 26zM14812 8010l28-26-30-18-29 28zM14754 8018l27-24-30-20-28 25zM14695 8021l28-22-31-22-28 23zM14636 8021l28-21-31-26-28 22zM14577 8016l28-20-31-31-28 22zM14490 8021l28-16 28-18-31-38-28 21-28 18zM14403 8017l56-29-31-45-56 33zM14288 8011l56-21-31-54-56 26zM14173 7988l56-16 28-10-31-32-28 12-56 18zM14030 7980l56-8 28-6-31-42-28 7-56 10z"/><path fill=#4758f8 stroke=#4758f8 d="M16525 7805l28-46-31 2-28 47zM16494 7808l28-47-31 3-28 46zM16463 7810l28-46-31 2-28 47zM16432 7813l28-47-31 2-28 47zM16401 7815l28-47-31 2-28 48zM16370 7818l28-48-31 3-28 47zM16339 7820l28-47-31 2-28 48zM16308 7823l28-48-31 2-28 48zM16277 7825l28-48-31 2-28 48zM15971 7891l28-45-31 2-28 46zM15940 7894l28-46-31 2-28 46zM15909 7896l28-46-31 2-28 47zM15878 7899l28-47-31 1-28 48zM15847 7901l28-48-31 2-28 48zM15816 7903l28-48-31 2-28 48zM15785 7905l28-48-31 1-28 49zM15754 7907l28-49-31 1-28 50zM15723 7909l28-50-31 1-28 51zM15692 7911l28-51-31 1-28 51zM15661 7912l28-51-31 1-28 51zM15630 7913l28-51-31 0-28 52zM15599 7914l28-52-31 0-28 53zM15417 7955l28-42-31-2-28 43zM15386 7954l28-43-31-2-28 44zM15355 7953l28-44-31-3-28 44zM15324 7950l28-44-31-4-28 45zM15293 7947l28-45-31-5-28 47zM15172 7965l28-32-31-7-28 33zM15141 7959l28-33-31-8-28 34zM15110 7952l28-34-31-9-28 35zM15051 7982l28-38-31-10-28 39zM15020 7973l28-39-31-12-28 41zM14930 7983l28-33-31-15-28 34zM14899 7969l28-34-31-17-28 35zM14840 7984l28-31-30-19-28 32zM14781 7994l29-28-31-21-28 29zM14723 7999l28-25-31-24-28 27zM14664 8000l28-23 28-27-31-30-28 29-28 25zM14605 7996l28-22-31-33-28 24zM14546 7987l28-22-31-39-28 23zM14459 7988l28-18-31-48-28 21zM14344 7990l28-14-31-56-28 16zM14257 7962l56-26-31-34-56 28zM14114 7966l56-15 28-9-31-48-28 11-56 19z"/><path fill=#4563fd stroke=#4563fd d="M16553 7759l28-70-31 2-28 70zM16522 7761l28-70-31 2-28 71zM16491 7764l28-71-31 2-28 71zM16460 7766l28-71-31 1-28 72zM16429 7768l28-72-31 2-28 72zM16398 7770l28-72-31 2-28 73zM16367 7773l28-73-31 2-28 73zM16336 7775l28-73-31 2-28 73zM15782 7858l28-55-31 0-28 56zM15751 7859l28-56-31 1-28 56zM15720 7860l28-56-31 0-28 57zM15689 7861l28-57-31 0-28 58zM15658 7862l28-58-31-1-28 59zM15627 7862l28-59-31-1-28 60zM15596 7862l28-60-30-1-28 60zM15566 7861l28-60-31-2-28 61zM15383 7909l28-59-31-4-28 60zM15352 7906l28-60-31-5-28 61zM15321 7902l28-61-31-6-28 62zM15290 7897l28-62-31-7-28 63zM15169 7926l28-50-31-9-28 51zM15138 7918l28-51-31-11-28 53zM15107 7909l28-53-31-13-28 54zM15017 7922l28-38-31-15-28 38zM14986 7907l28-38-31-18-28 40zM14927 7935l28-44-31-20-28 47zM14896 7918l28-47-30-23-28 49zM14838 7934l28-37-31-26-28 40zM14779 7945l28-34-31-29-28 37zM14661 7949l28-29-31-38-28 32zM14602 7941l28-27-31-46-28 31zM14515 7949l28-23-31-53-28 26zM14428 7943l28-21-31-65-28 24zM14341 7920l28-18 28-21-31-40-28 23-28 20zM14254 7917l28-15-31-55-28 18z"/><path fill=#3e6fff stroke=#3e6fff d="M16581 7689l28-81-31 2-28 81zM16550 7691l28-81-31 1-28 82zM16519 7693l28-82-31 2-28 82zM16488 7695l28-82-31 1-28 82zM15872 7801l28-81-31 0-28 82zM15841 7802l28-82-31 0-28 83zM15810 7803l28-83-31 0-28 83zM15779 7803l28-83-31-1-28 85zM15748 7804l28-85-31-1-28 86zM15717 7804l28-86-31-1-28 87zM15686 7804l28-87-31-2-28 88zM15655 7803l28-88-31-2-28 89zM15380 7846l28-67-31-7-28 69zM15349 7841l28-69-31-7-28 70zM15318 7835l28-70-31-9-28 72zM15166 7867l28-69-31-13-28 71zM15135 7856l28-71-31-15-28 73zM15014 7869l28-59-31-21-28 62zM14924 7871l28-42-31-26-27 45zM14835 7871l28-52-31-34-28 55zM14776 7882l28-42-31-38-28 45zM14717 7886l28-39-31-44-28 43zM14658 7882l28-36-31-53-28 40zM14571 7899l28-31-31-60-28 34zM14484 7899l28-26-31-74-28 31zM14425 7857l28-27-31-44-28 29zM14338 7864l28-23-31-62-28 25z"/><path fill=#3875fe stroke=#3875fe d="M16457 7696l28-82-31 2-28 82zM16426 7698l28-82-31 1-28 83zM16395 7700l28-83-31 1-28 84zM16364 7702l28-84-31 2-28 84zM16333 7704l28-84-31 1-28 84zM16302 7705l28-84-31 1-28 85zM16271 7707l28-85-30 1-28 85zM16241 7708l28-85-31 1-28 86zM16210 7710l28-86-31 1-28 86zM16179 7711l28-86-31 1-28 87zM16148 7713l28-87-31 0-28 88zM16117 7714l28-88-31 1-28 88zM16086 7715l28-88-31 0-28 89zM15563 7799l28-92-31-4-28 93zM15532 7796l28-93-31-4-28 94zM15287 7828l28-72-31-10-28 73zM15256 7819l28-73-31-11-28 74zM15104 7843l28-73-31-18-28 76zM14983 7851l28-62-31-24-28 64zM14894 7848l27-45-30-30-28 46zM14745 7847l28-45-31-48-28 49zM14686 7846l28-43-31-56-28 46zM14599 7868l28-35-31-64-28 39zM14512 7873l28-31-31-78-28 35zM14453 7830l28-31-31-46-28 33zM14366 7841l28-26-31-66-28 30z"/><path fill=#4269fe stroke=#4269fe d="M16305 7777l28-73-31 1-28 74zM16274 7779l28-74-31 2-27 74zM16244 7781l27-74-30 1-28 75zM16213 7783l28-75-31 2-28 75zM16182 7785l28-75-31 1-28 76zM16151 7787l28-76-31 2-28 76zM16120 7789l28-76-31 1-28 77zM16089 7791l28-77-31 1-28 77zM16058 7792l28-77-31 1-28 78zM16027 7794l28-78-31 1-28 79zM15996 7796l28-79-31 1-28 79zM15965 7797l28-79-31 1-28 80zM15934 7799l28-80-31 0-28 81zM15903 7800l28-81-31 1-28 81zM15535 7860l28-61-31-3-28 62zM15504 7858l28-62-31-3-28 63zM15473 7856l28-63-31-4-28 65zM15442 7854l28-65-31-5-28 66zM15411 7850l28-66-31-5-28 67zM15259 7891l28-63-31-9-28 65zM15228 7884l28-65-31-10-28 67zM15197 7876l28-67-31-11-28 69zM15076 7897l28-54-31-15-28 56zM15045 7884l28-56-31-18-28 59zM14955 7891l28-40-31-22-28 42zM14866 7897l28-49-31-29-28 52zM14807 7911l28-40-31-31-28 42zM14748 7919l28-37-31-35-28 39zM14689 7920l28-34-31-40-28 36zM14630 7914l28-32-31-49-28 35zM14543 7926l28-27-31-57-28 31zM14456 7922l28-23-31-69-28 27zM14397 7881l28-24-31-42-28 26zM14282 7902l28-18 28-20-31-60-28 23-28 20z"/><path fill=#465efb stroke=#465efb d="M16246 7827l28-48-30 2-28 49zM16216 7830l28-49-31 2-28 49zM16185 7832l28-49-31 2-28 49zM16154 7834l28-49-31 2-28 50zM16123 7837l28-50-31 2-28 50zM16092 7839l28-50-31 2-28 50zM16061 7841l28-50-31 1-28 51zM16030 7843l28-51-31 2-28 52zM15999 7846l28-52-31 2-28 52zM15968 7848l28-52-31 1-28 53zM15937 7850l28-53-31 2-28 53zM15906 7852l28-53-31 1-28 53zM15875 7853l28-53-31 1-28 54zM15844 7855l28-54-31 1-28 55zM15813 7857l28-55-31 1-28 55zM15568 7915l28-53-30-1-28 54zM15538 7915l28-54-31-1-28 55zM15507 7915l28-55-31-2-28 56zM15476 7914l28-56-31-2-28 57zM15445 7913l28-57-31-2-28 57zM15414 7911l28-57-31-4-28 59zM15262 7944l28-47-31-6-28 48zM15231 7939l28-48-31-7-28 49zM15200 7933l28-49-31-8-28 50zM15079 7944l28-35-31-12-28 37zM15048 7934l28-37-31-13-28 38zM14989 7963l28-41-31-15-28 43zM14958 7950l28-43-31-16-28 44zM14868 7953l28-35-30-21-28 37zM14810 7966l28-32-31-23-28 34zM14751 7974l28-29-31-26-28 31zM14720 7950l28-31-31-33-28 34zM14633 7974l28-25-31-35-28 27zM14574 7965l28-24-31-42-28 27zM14487 7970l28-21-31-50-28 23zM14372 7976l56-33-31-62-28 21-28 18zM14313 7936l28-16-31-36-28 18zM14198 7942l56-25-31-52-56 29z"/><path fill=#327cfc stroke=#327cfc d="M16055 7716l28-89-31 0-28 90zM16024 7717l28-90-31 1-28 90zM15993 7718l28-90-31 0-28 91zM15962 7719l28-91-31-1-28 92zM15931 7719l28-92-31 0-28 93zM15900 7720l28-93-31-1-28 94zM15869 7720l28-94-31-1-28 95zM15838 7720l28-95-31-1-28 96zM15501 7793l28-94-31-6-28 96zM15470 7789l28-96-31-6-28 97zM15439 7784l28-97-31-7-28 99zM15225 7809l28-74-31-14-28 77zM15194 7798l28-77-31-15-28 79zM15073 7828l28-76-31-20-28 78zM15042 7810l28-78-31-24-28 81zM14952 7829l28-64-30-29-29 67zM14863 7819l28-46-31-38-28 50zM14804 7840l28-55-31-42-28 59zM14627 7833l28-40-31-69-28 45zM14540 7842l28-34-31-83-28 39zM14481 7799l28-35-31-49-28 38zM14394 7815l28-29-31-70-28 33z"/><path fill=#463cde stroke=#463cde d="M15583 8032l28-16-31 3-28 17zM15552 8036l28-17-31 3-28 17zM15521 8039l28-17-31 3-28 17zM15490 8042l28-17-31 3-28 18zM15459 8046l28-18-31 2-28 18zM15370 8067l28-16-31 2-28 16zM15339 8069l28-16-31 2-28 17zM15308 8072l28-17-31 2-28 16zM15249 8088l28-15 28-16-31 1-28 17-28 15zM15218 8090l28-15 28-17-31 0-28 18-28 15zM15187 8091l28-15 28-18-31 0-28 18-28 16zM15156 8092l28-16 28-18-31 0-28 18-28 16zM15125 8092l28-16-31-1-28 17zM15066 8106l56-31-31-1-28 16-28 15zM15035 8105l28-15 28-16-31-3-28 18-28 14zM15004 8103l28-14 28-18-31-3-28 18-28 15zM14945 8114l56-28-31-4-56 30zM14914 8112l56-30-31-4-56 30zM14855 8120l56-26-31-5-56 27zM14824 8116l56-27-31-7-56 28zM14765 8121l56-24-31-7-56 25zM14706 8125l56-22 28-13-31-9-28 14-56 22zM14675 8117l56-22-31-10-56 24zM14616 8118l56-20-31-12-55 21zM14530 8122l56-15 28-9-31-14-28 11-56 16zM14471 8117l56-13 28-9-31-16-28 10-56 15zM14384 8113l56-9 28-7-31-18-28 8-56 11zM14269 8105l56-4 56-8-31-20-56 10-56 5zM14098 8087l84 3 84-4-31-24-84 7-84 0zM13815 8053l196 13 112 3-31-27-112 0-196-9zM13532 8020l308 16-31-30-308-9zM13585 7999l84 3-31-15-84-2zM13218 7975l224 8-31-22-224-5z"/><path fill=#2f81fa stroke=#2f81fa d="M15807 7720l28-96-31-2-28 97zM15776 7719l28-97-31-2-28 98zM15745 7718l28-98-31-2-28 99zM15714 7717l28-99-31-3-28 100zM15683 7715l28-100-31-4-28 102zM15163 7785l28-79-31-18-28 82zM15132 7770l28-82-31-20-28 84zM15011 7789l28-81-31-28-28 85zM14921 7803l29-67-31-34-28 71zM14832 7785l28-50-31-45-28 53zM14773 7802l28-59-31-53-28 64zM14714 7803l28-49-31-61-28 54zM14655 7793l28-46-31-75-28 52zM14568 7808l28-39-31-89-28 45zM14509 7764l28-39-31-53-28 43zM14422 7786l28-33-31-74-28 37z"/><path fill=#2e87f7 stroke=#2e87f7 d="M15591 7707l28-104-31-6-28 106zM15560 7703l28-106-31-6-28 108zM15529 7699l28-108-31-7-28 109zM15284 7746l28-108-31-14-28 111zM15101 7752l28-84-31-24-28 88zM14980 7765l28-85-30-33-28 89zM14891 7773l28-71-31-42-28 75zM14450 7753l28-38-31-78-28 42z"/><path fill=#2d8cf3 stroke=#2d8cf3 d="M15498 7693l28-109-31-8-28 111zM15467 7687l28-111-31-10-28 114zM15253 7735l28-111-31-16-28 113zM15222 7721l28-113-31-19-28 117zM15070 7732l28-88-31-27-28 91zM14950 7736l28-89-31-40-28 95zM14860 7735l28-75-31-52-28 82zM14801 7743l28-53-31-58-28 58zM14742 7754l28-64-31-68-28 71zM14683 7747l28-54-31-82-28 61zM14596 7769l28-45-31-96-28 52zM14537 7725l28-45-31-56-28 48z"/><path fill=#4537d5 stroke=#4537d5 d="M15128 8105l28-13-31 0-28 14zM15097 8106l28-14-31 0-28 14zM15007 8117l28-12-31-2-28 13zM14976 8116l28-13-31-2-28 13zM14917 8126l28-12-31-2-28 11zM14858 8133l56-21-31-4-56 22zM14827 8130l28-10-31-4-28 10zM14768 8135l56-19-31-6-56 21zM14709 8138l56-17-31-6-56 18zM14650 8140l56-15-31-8-56 16zM14591 8139l56-13 28-9-31-8-28 9-56 14zM14532 8136l56-11 28-7-30-11-28 9-57 12zM14474 8132l56-10-31-11-56 11zM14387 8127l56-5 28-5-31-13-28 5-56 7zM14300 8118l56-2 28-3-31-15-28 3-56 4zM14157 8103l56 2 56 0-31-17-56 2-56-1zM13930 8074l168 13-31-18-168-10zM13479 8031l336 22-31-20-336-17zM13280 8005l252 15-31-23-252-11z"/><path fill=#2797eb stroke=#2797eb d="M15343 7651l28-121-31-15-28 123zM15312 7638l28-123-31-18-28 127zM15008 7680l28-96-30-38-28 101zM14919 7702l28-95-31-48-28 101zM14829 7690l28-82-31-64-28 88zM14770 7690l28-58-31-74-28 64zM14711 7693l28-71-31-90-28 79zM14506 7672l28-48-31-89-28 54z"/><path fill=#18addb stroke=#18addb d="M15126 7515l28-148-31-39-28 154zM15006 7546l28-148-31-53-28 156zM14767 7558l28-97-31-109-28 109z"/><path fill=#2b91ef stroke=#2b91ef d="M15039 7708l28-91-31-33-28 96zM14624 7724l28-52-31-104-28 60zM14565 7680l28-52-31-60-28 56zM14478 7715l28-43-31-83-28 48z"/><path fill=#23a0e5 stroke=#23a0e5 d="M15067 7617l28-135-31-38-28 140zM14798 7632l28-88-31-83-28 97zM14739 7622l28-64-31-97-28 71zM14534 7624l28-56-31-95-28 62z"/><path fill=#08b5d0 stroke=#08b5d0 d="M15095 7482l28-154-31-46-28 162zM14885 7500l28-121-31-83-28 131z"/><path fill=#1ca9df stroke=#1ca9df d="M15036 7584l28-140-30-46-28 148zM14916 7559l28-113-31-67-28 121zM14680 7611l28-79-31-125-28 91zM14562 7568l28-65-31-102-28 72z"/><path fill=#259be8 stroke=#259be8 d="M14978 7647l28-101-31-45-28 106zM14888 7660l28-101-31-59-28 108zM14652 7672l28-61-31-113-28 70zM14593 7628l28-60-31-65-28 65z"/><path fill=#20a5e3 stroke=#20a5e3 d="M14947 7607l28-106-31-55-28 113zM14857 7608l28-108-31-73-28 117zM14621 7568l28-70-31-70-28 75z"/><path fill=#24c1ae stroke=#24c1ae d="M14913 7379l28-178-31-99-28 194zM14705 7326l28-124-31-93-28 134zM14646 7330l28-87-31-132-28 97z"/><path fill=#12b1d6 stroke=#12b1d6 d="M14826 7544l28-117-31-94-28 128zM14708 7532l28-71-31-135-28 81zM14649 7498l28-91-31-77-28 98zM14590 7503l28-75-31-111-28 84z"/><path fill=#0bbdbd stroke=#0bbdbd d="M14854 7427l28-131-31-107-28 144z"/><path fill=#37c897 stroke=#37c897 d="M14882 7296l28-194-31-126-28 213z"/><path fill=#c5c22a stroke=#c5c22a d="M14910 7102l28-220-31-327-28 421z"/><path fill=#02bac3 stroke=#02bac3 d="M14795 7461l28-128-31-125-28 144zM14736 7461l28-109-31-150-28 124zM14618 7428l28-98-31-122-28 109z"/><path fill=#abc739 stroke=#abc739 d="M14851 7189l28-213-31-335-28 406z"/><path fill=#f7dc2a stroke=#f7dc2a d="M14879 6976l28-421-31-402-28 488z"/><path fill=#01b8ca stroke=#01b8ca d="M14677 7407l28-81-31-83-28 87z"/><path fill=#3fca8e stroke=#3fca8e d="M14733 7202l28-165-31-106-28 178zM14674 7243l28-134-31-148-28 150z"/><path fill=#81cc59 stroke=#81cc59 d="M14702 7109l28-178-31-168-28 198z"/></g><path d="M14876 6153l31 402 31 327M15092 7282l31 46 31 39M15309 7497l62 33M15464 7566l62 18 93 19M15680 7611l62 7 93 6 93 3 93 1 124-2 154-4 310-14M14848 6641l31 335 31 126 31 99M15003 7345l31 53 30 46 31 38 31 33M15219 7589l31 19 31 16 62 27M15436 7680l62 13 93 14M15652 7713l62 4 93 3 186-2 278-11 310-18M14820 7047l31 142 31 107 31 83 31 67 31 55 31 45 30 38 31 33 31 27 31 24 31 20 31 18 62 29 31 11 62 19 31 7 62 12 62 9 62 6 123 5 124-1 186-7 248-15 309-22M14699 6763l31 168 31 106M14792 7208l31 125 31 94 31 73 31 59 31 48 31 40 30 33 31 28 31 24 31 20 31 18 31 15 62 24 31 10 62 16 93 15 93 8 123 4 124-3 186-9 279-20 309-25M14671 6961l31 148 31 93 31 150 31 109 31 83 31 64 31 52 31 42 31 34 30 29 31 24 31 21 31 18 31 15 31 13 62 20 31 8 62 13 62 9 62 5 62 3 62 1 123-3 155-9 248-19 433-38M14643 7111l31 132 31 83 31 135 31 97 31 74 31 58 31 45 31 38 30 30 31 26 31 22 31 18 31 15 31 13 31 12 62 17 31 7 62 11 62 6 62 4 124 1 123-5 155-11 681-63M14615 7208l31 122 31 77 31 125 31 90 31 68 31 53 31 42 31 34 31 29 30 23 31 20 31 16 62 27 31 10 62 15 31 6 62 9 93 7 62 2 62-1 123-5 124-10 743-73M14587 7317l31 111 31 70 31 113 31 82 31 61 31 48 31 38 31 31 31 26 30 21 31 17 31 15 62 23 31 9 62 14 93 12 93 5 124-1 92-5 124-11 774-81M14559 7401l31 102 31 65 31 104 31 75 31 56 31 44 31 35 31 29 31 23 30 19 31 16 31 14 62 21 31 8 62 12 93 10 62 3 62 0 124-5 123-10 465-53M14531 7473l31 95 31 60 31 96 31 69 31 53 31 40 31 33 31 26 31 21 30 18 31 15 31 12 62 19 62 13 93 11 93 4 93-1 123-9 155-16M14503 7535l31 89 31 56 31 89 31 64 31 49 31 38 31 30 31 24 30 20 31 16 31 14 62 21 62 14 62 9 62 6 93 2 93-3 93-6M14475 7589l31 83 31 53 31 83 31 60 31 46 31 35 31 28 31 22 31 19 30 15 31 13 62 19 62 13 62 8 93 6 62 0 93-4M14447 7637l31 78 31 49 31 78 31 57 31 42 31 33 31 26 31 21 31 18 30 14 31 11 62 18 62 12 62 7 62 4 93 0M14419 7679l31 74 31 46 31 74 31 53 31 39 31 31 31 25 31 20 31 16 30 13 62 20 31 7 62 11 62 6 62 3M14391 7716l31 70 31 44 31 69 31 50 31 38 31 29 31 23 31 18 31 15 30 13 31 10 31 8 62 13 93 10M14363 7749l31 66 31 42 31 65 31 48 31 35 31 28 31 21 31 18 30 14 31 12 31 9 62 14 31 5 62 7M14335 7779l31 62 31 40 31 62 31 45 31 33 31 26 31 21 31 16 31 14 61 19 31 8 62 10M14307 7804l31 60 31 38 31 59 31 42 31 32 31 25 31 19 31 16 31 12 30 11 31 8 62 12M14279 7827l31 57 31 36 31 56 31 41 31 30 31 23 31 19 31 15 31 12 30 9 62 15M14251 7847l31 55 31 34 31 54 31 38 31 29 31 22 31 18 31 14 31 11 61 17M14223 7865l31 52 31 33 31 51 31 37 31 28 31 21 31 17 31 13 61 19M14195 7880l31 50 31 32 31 49 31 35 31 27 31 20 31 16 31 13 31 10M14167 7894l31 48 31 30 31 47 31 34 31 25 31 20 31 15 31 12M14139 7905l31 46 31 30 31 45 31 32 31 25 31 18 31 15 31 11M14111 7915l31 45 31 28 31 43 31 31 31 24 31 17 31 14M14083 7924l31 42 31 28 31 41 31 31 31 22 31 17 31 13M14055 7931l31 41 31 26 31 41 31 29 31 21 31 17M14027 7937l31 39 31 26 31 39 31 28 31 21 31 15M13999 7941l31 39 31 24 31 38 31 27 31 20 31 16M13971 7945l31 38 31 23 31 37 31 26 31 20 31 14M13943 7949l31 36 31 22 31 36 31 26 31 18M13915 7951l31 35 31 22 31 35 31 25 31 18M13887 7953l31 34 31 21 31 34 31 24 31 18M13859 7955l31 33 31 20 31 33 31 24 31 17M13831 7956l31 32 31 20 31 32 31 23 31 16M13803 7957l31 31 31 19 31 32 31 22 31 16M13775 7958l31 30 31 19 31 30 31 22 31 15M13747 7959l31 29 31 18 31 30 31 21M13719 7959l31 29 31 17 31 29 31 21M13691 7960l31 28 31 16 31 29 31 20M13663 7960l31 27 31 16 31 28 31 20M13635 7960l31 27 31 16 31 27 31 19M13607 7961l31 26 31 15 31 27 31 18M13579 7961l31 25 31 15 31 26 31 18M13551 7961l31 25 31 14 31 26 31 17M13523 7961l31 24 31 14 31 25 31 18M13495 7961l31 24M13557 7998l31 25 31 17M13467 7961l31 23M13529 7998l31 24 31 16M13439 7961l31 23M13501 7997l31 23 31 16M13411 7961l31 22M13473 7996l31 23 31 15M13383 7961l31 21M13445 7995l31 22 31 16M13355 7960l31 22M13417 7994l31 22 31 15M13327 7960l31 21M13389 7992l31 22M13299 7959l31 21M13361 7991l31 21M13271 7959l31 20M13333 7990l31 21M13243 7958l31 20M13305 7989l31 20M13215 7957l31 19M13277 7987l31 20M13187 7956l31 19M13249 7986l31 19M14699 6763l-28 198-28 150-28 97-28 109-28 84-28 72-28 62-28 54-28 48-28 42-28 37-28 33-28 30-28 25-28 23-28 20-28 18-28 15-56 25-28 10-56 16-84 14-56 6-56 4-168 5-280 1-224-5M14730 6931l-28 178-28 134-28 87-28 98-28 75-28 65-28 56-28 48-28 43-28 38-28 33-28 29-28 26-28 23-28 20-56 33-28 13-56 21-28 9-56 12-84 11-112 5-140 0-308-5-224-8M14761 7037l-28 165-28 124-28 81-28 91-28 70-28 60-28 52-28 45-28 39-28 35-28 31-28 27-28 24-28 21-28 18-56 30-28 12-56 19-28 7-56 10-84 8-84 2-112-1-364-11-224-10M14876 6153l-28 488-28 406M14792 7208l-28 144-28 109-28 71-28 79-28 61-28 52-28 45-28 39-28 34-28 31-28 26-28 23-28 21-56 33-56 25-28 10-56 15-28 5-56 8-84 4-84-1-84-3-420-22-196-12M14907 6555l-28 421-28 213-28 144-28 128-28 97-28 64-28 71-28 54-28 46-28 40-28 35-28 31-28 27-28 23-28 21-28 18-28 15-28 14-56 21-56 15-56 9-84 7-56 0-56-1-560-37M14938 6882l-28 220-28 194-28 131-28 117-28 88-28 58-28 64-28 49-28 43-28 36-28 32-28 27-28 24-28 22-28 18-56 30-28 12-56 19-28 7-56 10-84 6-56 0-56-2-168-13M14941 7201l-28 178-28 121-28 108-28 82-28 53-28 59-28 45-28 39-28 34-28 29-28 25-28 22-28 20-56 31-56 23-56 17-28 6-56 8-84 5-84-3M14944 7446l-28 113-28 101-28 75-28 50-28 55-28 42-28 37-28 31-28 27-28 23-28 21-28 18-28 15-56 25-56 18-56 12-56 7-56 2M15003 7345l-28 156-28 106-28 95-28 71-28 46-28 52-28 40-28 34-28 29-28 25-28 22-28 20-56 31-56 23-56 16-56 11-56 5M15034 7398l-28 148-28 101-28 89-29 67-27 45-28 49-28 37-28 32-29 28-27 24-28 21-28 18-28 15-29 14-55 21-56 15-56 10M15092 7282l-28 162-28 140-28 96-28 85-28 64-28 42-28 47-28 35-28 31-28 26-28 23-28 20-28 17-28 15-56 24-56 16-56 11M15123 7328l-28 154-28 135-28 91-28 81-28 62-28 40-28 44-28 34-28 30-28 25-28 22-28 18-28 17-56 26-56 19-56 13M15154 7367l-28 148M15098 7644l-28 88-28 78-28 59-28 38-28 43-28 33-28 28-28 24-28 21-28 18-28 16-56 25-28 10-56 15M15129 7668l-28 84-28 76-28 56-28 38-28 41-28 31-28 27-28 24-28 20-28 17-56 28-28 11-56 17M15160 7688l-28 82-28 73-28 54-28 37-28 39-28 31-28 26-28 22-28 20-56 31-28 13-56 19M15219 7589l-28 117-28 79-28 71-28 53-28 35-28 38-28 30-28 25-28 22-28 19-28 16-28 14-56 22M15250 7608l-28 113-28 77-28 69-28 51-28 34-28 38-28 28-28 25-28 21-28 18-28 16-28 14-56 21M15309 7497l-28 127-28 111-28 74-28 67-28 50-28 33-28 37-28 28-28 24-28 20-28 18-28 15-56 25M15340 7515l-28 123-28 108-28 73-28 65-28 49-28 32-28 36-28 27-28 23-28 20-28 18-56 27M15371 7530l-28 121M15315 7756l-28 72-28 63-28 48-28 31-28 35-28 27-28 22-28 20-28 16-56 27M15346 7765l-28 70-28 62-28 47-28 30-28 34-28 26-28 22-28 19-56 31M15377 7772l-28 69-28 61-28 45-28 30-28 34-28 25-28 22-28 18-56 30M15464 7566l-28 114-28 99-28 67-28 60-28 44-28 30-28 32-28 25-28 21-28 18-56 29M15495 7576l-28 111-28 97-28 66-28 59-28 44-28 28-28 32-28 24-28 21-28 18-28 15M15526 7584l-28 109-28 96-28 65-28 57-28 43-28 28-28 32-28 23-28 21-28 17-28 15M15557 7591l-28 108-28 94-28 63-28 57-28 42-28 28-28 30-28 24-28 20-28 16-28 15M15588 7597l-28 106-28 93-28 62-28 56-28 42-28 27-28 30-28 23-28 19-28 17M15619 7603l-28 104-28 92-28 61-28 55-28 41-28 26-28 30-28 22-28 19-28 16M15594 7801l-28 60-28 54-28 40-28 26-28 29-28 22-28 19-28 16M15680 7611l-28 102-28 89-28 60-28 53-28 39-28 26-28 29-28 21-28 18M15711 7615l-28 100-28 88-28 59-28 52-28 39-28 25-28 29-28 21-28 18M15742 7618l-28 99-28 87-28 58-28 51-28 39-28 25-28 27-28 21-28 17M15773 7620l-28 98-28 86-28 57-28 51-28 38-28 24-28 28-28 20-28 17M15804 7622l-28 97-28 85-28 56-28 51-28 37-28 24-28 27-28 20-28 17M15835 7624l-28 96-28 83-28 56-28 50-28 37-28 24-28 26-28 20-28 16M15866 7625l-28 95-28 83-28 55-28 49-28 37-28 23-28 26-28 19M15897 7626l-28 94-28 82-28 55-28 48-28 36-28 23-28 26-28 19M15928 7627l-28 93-28 81-28 54-28 48-28 36-28 22-28 25-28 19M15959 7627l-28 92-28 81-28 53-28 48-28 35-28 22-28 25-28 19M15990 7628l-28 91-28 80-28 53-28 47-28 35-28 21-28 25-28 18M16021 7628l-28 90-28 79-28 53-28 46-28 35-28 21-28 24-28 18M16052 7627l-28 90-28 79-28 52-28 46-28 34-28 21-28 24-28 18M16083 7627l-28 89-28 78-28 52-28 45-28 34-28 21-28 24-28 17M16114 7627l-28 88-28 77-28 51-28 46-28 33-28 21-28 23-28 18M16145 7626l-28 88-28 77-28 50-28 45-28 33-28 21-28 23-28 17M16176 7626l-28 87-28 76-28 50-28 45-28 33-28 20-28 23-28 16M16207 7625l-28 86-28 76-28 50-28 44-28 33-28 20-28 22-28 17M16238 7624l-28 86-28 75-28 49-28 45-28 32-28 19-28 23-28 16M16269 7623l-28 85-28 75-28 49-28 44-28 32-28 19-28 23M16299 7622l-28 85-27 74-28 49-28 43-29 32-28 19-27 23M16330 7621l-28 84-28 74-28 48-28 44-28 31-28 19-28 22M16361 7620l-28 84-28 73-28 48-28 43-28 31-28 19-28 22M16392 7618l-28 84-28 73-28 48-28 42-28 31-28 19-28 22M16423 7617l-28 83-28 73-28 47-28 43-28 31-28 18-28 22M16454 7616l-28 82-28 72-28 48-28 42-28 31-28 18-28 22M16485 7614l-28 82-28 72-28 47-28 42-28 31-28 18-28 21M16516 7613l-28 82-28 71-28 47-28 42-28 30-28 18-28 21M16547 7611l-28 82-28 71-28 46-28 42-28 30-28 18-28 21M16578 7610l-28 81-28 70-28 47-28 41-28 30-28 18-28 21M16609 7608l-28 81-28 70-28 46-28 41-28 30-28 18-28 21"/><path fill=#4332cb d="M16189 7981l56-8-31 3-56 8zM16217 7977l-31 4"/><path fill=#4537d5 d="M16245 7973l56-13 28-8-31 3-28 9-56 12zM16273 7967l-31 3M16301 7960l-31 4"/><path fill=#463cde d="M16329 7952l28-10 28-12 28-15-31 3-28 15-28 12-28 10zM16357 7942l-31 3M16385 7930l-31 3"/><path fill=#2797eb d="M16609 7608l28-258-31 1-28 259z"/><path fill=#4332cb d="M16158 7984l56-8-31 4-56 8zM16186 7981l-31 3"/><path fill=#4537d5 d="M16214 7976l56-12 28-9-31 4-28 8-56 13zM16242 7970l-31 4M16270 7964l-31 3"/><path fill=#463cde d="M16298 7955l28-10 28-12 28-15-31 3-28 15-28 13-28 10zM16326 7945l-31 4M16354 7933l-31 3"/><path fill=#2797eb d="M16578 7610l28-259-31 0-28 260z"/><path fill=#4332cb d="M16155 7984l28-4-31 3-28 5z"/><path fill=#4537d5 d="M16183 7980l56-13 28-8-31 3-28 9-56 12zM16211 7974l-31 4M16239 7967l-31 4"/><path fill=#463cde d="M16267 7959l28-10 28-13-31 3-28 13-28 10zM16295 7949l-31 3"/><path fill=#4741e5 d="M16323 7936l28-15-31 3-28 15z"/><path fill=#2797eb d="M16547 7611l28-260-31 1-28 261z"/><path fill=#4332cb d="M16124 7988l28-5-31 4-28 5z"/><path fill=#4537d5 d="M16180 7978l56-16-31 4-56 15zM16208 7971l-31 3"/><path fill=#463cde d="M16236 7962l28-10 28-13-31 4-28 12-28 11zM16264 7952l-31 3"/><path fill=#4741e5 d="M16292 7939l28-15-31 3-28 16z"/><path fill=#2797eb d="M16516 7613l28-261-31 0-28 262z"/><path fill=#4332cb d="M16093 7992l28-5-31 4-28 4z"/><path fill=#4537d5 d="M16121 7987l56-13 28-8-31 3-28 9-56 13zM16149 7981l-31 4M16177 7974l-31 4"/><path fill=#463cde d="M16205 7966l28-11 28-12-31 3-28 13-28 10zM16233 7955l-31 4"/><path fill=#4741e5 d="M16261 7943l28-16-31 4-28 15z"/><path fill=#2797eb d="M16485 7614l28-262-31 0-28 264z"/><path fill=#4332cb d="M16062 7995l28-4-31 3-28 5z"/><path fill=#4537d5 d="M16090 7991l56-13 28-9-31 3-28 9-56 13zM16118 7985l-31 3M16146 7978l-31 3"/><path fill=#463cde d="M16174 7969l28-10 28-13-31 3-28 13-28 10zM16202 7959l-31 3"/><path fill=#4741e5 d="M16230 7946l28-15-31 3-28 15z"/><path fill=#259be8 d="M16454 7616l28-264-31 0-28 265z"/><path fill=#4332cb d="M16031 7999l28-5-31 4-28 5z"/><path fill=#4537d5 d="M16059 7994l56-13 28-9-31 4-28 9-56 13zM16087 7988l-31 4M16115 7981l-31 4"/><path fill=#463cde d="M16143 7972l28-10 28-13-31 4-28 12-28 11zM16171 7962l-31 3"/><path fill=#4741e5 d="M16199 7949l28-15-31 3-28 16z"/><path fill=#259be8 d="M16423 7617l28-265-31 0-28 266z"/><path fill=#4332cb d="M15972 8007l56-9-31 4-56 9zM16000 8003l-31 4"/><path fill=#4537d5 d="M16028 7998l56-13 28-9-31 4-28 8-56 14zM16056 7992l-31 4M16084 7985l-31 3"/><path fill=#463cde d="M16112 7976l28-11 28-12-31 3-28 13-28 11zM16140 7965l-31 4"/><path fill=#4741e5 d="M16168 7953l28-16-31 3-28 16z"/><path fill=#259be8 d="M16392 7618l28-266-31 0-28 268z"/><path fill=#4332cb d="M15941 8011l56-9-31 4-56 9zM15969 8007l-31 4"/><path fill=#4537d5 d="M15997 8002l56-14 28-8-31 3-28 9-56 14zM16025 7996l-31 4M16053 7988l-31 4"/><path fill=#463cde d="M16081 7980l28-11 28-13-31 3-28 13-28 11zM16109 7969l-31 3"/><path fill=#4741e5 d="M16137 7956l28-16-31 3-28 16z"/><path fill=#259be8 d="M16361 7620l28-268-31 0-28 269z"/><path fill=#4332cb d="M15938 8011l28-5-30 4-28 5z"/><path fill=#4537d5 d="M15966 8006l56-14 28-9-31 4-28 9-55 14zM15994 8000l-30 3M16022 7992l-31 4"/><path fill=#463cde d="M16050 7983l28-11 28-13-30 4-28 13-29 11zM16078 7972l-30 4"/><path fill=#4741e5 d="M16106 7959l28-16-30 4-28 16z"/><path fill=#259be8 d="M16330 7621l28-269-30 0-29 270z"/><path fill=#4332cb d="M15908 8015l28-5-31 4-28 5z"/><path fill=#4537d5 d="M15964 8003l55-16-30 3-56 17zM15991 7996l-30 4"/><path fill=#463cde d="M16019 7987l29-11 28-13-31 3-28 13-28 11zM16048 7976l-31 3"/><path fill=#4741e5 d="M16076 7963l28-16-31 3-28 16z"/><path fill=#259be8 d="M16299 7622l29-270-31-1-28 272z"/><path fill=#4332cb d="M15877 8019l28-5-31 4-28 5z"/><path fill=#4537d5 d="M15905 8014l56-14 28-10-31 4-28 10-56 14zM15933 8007l-31 4M15961 8000l-31 4"/><path fill=#463cde d="M15989 7990l28-11 28-13-31 3-28 14-28 11zM16017 7979l-31 4"/><path fill=#4741e5 d="M16045 7966l28-16-31 3-28 16z"/><path fill=#259be8 d="M16269 7623l28-272-31 0-28 273z"/><path fill=#4332cb d="M15818 8027l28-4-31 4-28 5z"/><path fill=#4537d5 d="M15874 8018l56-14 28-10-31 4-28 9-56 15zM15902 8011l-31 4M15930 8004l-31 3"/><path fill=#463cde d="M15958 7994l28-11 28-14-31 4-28 14-28 11zM15986 7983l-31 4"/><path fill=#259be8 d="M16238 7624l28-273-31-1-28 275z"/><path fill=#4332cb d="M15815 8027l28-5-31 4-28 6z"/><path fill=#4537d5 d="M15843 8022l56-15 28-9-31 4-28 9-56 15zM15871 8015l-31 4M15899 8007l-31 4"/><path fill=#463cde d="M15927 7998l28-11 28-14-31 3-28 14-28 12zM15955 7987l-31 3"/><path fill=#259be8 d="M16207 7625l28-275-31-1-28 277z"/><path fill=#4332cb d="M15784 8032l28-6-31 4-28 6z"/><path fill=#4537d5 d="M15840 8019l56-17-31 4-56 18zM15868 8011l-31 4"/><path fill=#463cde d="M15896 8002l28-12 28-14-31 4-28 14-28 12zM15924 7990l-31 4"/><path fill=#23a0e5 d="M16176 7626l28-277-31-1-28 278z"/><path fill=#4332cb d="M15725 8041l28-5-31 5-28 4z"/><path fill=#4537d5 d="M15781 8030l56-15 28-9-31 4-28 10-56 15zM15809 8024l-31 4M15837 8015l-31 5"/><path fill=#463cde d="M15865 8006l28-12 28-14-31 4-28 14-28 12zM15893 7994l-31 4"/><path fill=#23a0e5 d="M16145 7626l28-278-31-1-28 280z"/><path fill=#4332cb d="M15722 8041l28-6-31 4-28 6z"/><path fill=#4537d5 d="M15750 8035l56-15 28-10-31 4-28 10-56 15zM15778 8028l-31 4M15806 8020l-31 4"/><path fill=#463cde d="M15834 8010l28-12 28-14-31 3-28 15-28 12zM15862 7998l-31 4"/><path fill=#23a0e5 d="M16114 7627l28-280-31-1-28 281z"/><path fill=#4332cb d="M15691 8045l28-6-31 5-28 6z"/><path fill=#4537d5 d="M15719 8039l56-15 28-10-31 4-28 10-56 16zM15747 8032l-31 5M15775 8024l-31 4"/><path fill=#463cde d="M15803 8014l28-12 28-15-31 4-28 14-28 13zM15831 8002l-31 3"/><path fill=#23a0e5 d="M16083 7627l28-281-31-2-28 283z"/><path fill=#4332cb d="M15632 8055l28-5-31 5-28 5z"/><path fill=#4537d5 d="M15688 8044l56-16 28-10-31 4-28 10-56 16zM15716 8037l-31 4M15744 8028l-31 4"/><path fill=#463cde d="M15772 8018l28-13 28-14-31 3-28 15-28 13zM15800 8005l-31 4"/><path fill=#23a0e5 d="M16052 7627l28-283-31-2-28 286z"/><path fill=#4332cb d="M15629 8055l28-7-31 5-28 6z"/><path fill=#4537d5 d="M15657 8048l56-16 28-10-31 4-28 11-56 16zM15685 8041l-31 5M15713 8032l-31 5"/><path fill=#463cde d="M15741 8022l28-13 28-15-31 4-28 15-28 13zM15769 8009l-31 4"/><path fill=#23a0e5 d="M16021 7628l28-286-31-2-28 288z"/><path fill=#4332cb d="M15570 8064l28-5-31 5-28 5z"/><path fill=#4537d5 d="M15654 8046l56-20-31 4-56 20zM15682 8037l-31 4"/><path fill=#463cde d="M15710 8026l28-13 28-15-31 4-28 15-28 13zM15738 8013l-31 4"/><path fill=#20a5e3 d="M15990 7628l28-288-31-2-28 289z"/><path fill=#4332cb d="M15567 8064l28-6-31 4-28 7z"/><path fill=#4537d5 d="M15595 8058l56-17 28-11-31 4-28 11-56 17zM15623 8050l-31 5M15651 8041l-31 4"/><path fill=#463cde d="M15679 8030l28-13 28-15-31 3-28 16-28 13zM15707 8017l-31 4"/><path fill=#20a5e3 d="M15959 7627l28-289-31-3-28 292z"/><path fill=#4332cb d="M15508 8074l28-5-31 5-28 5z"/><path fill=#4537d5 d="M15564 8062l56-17 28-11-31 4-28 11-56 18zM15592 8055l-31 4M15620 8045l-31 4"/><path fill=#463cde d="M15648 8034l28-13 28-16-31 4-28 16-28 13zM15676 8021l-31 4"/><path fill=#20a5e3 d="M15928 7627l28-292-31-3-28 294z"/><path fill=#4332cb d="M15505 8074l56-15-31 5-56 15zM15533 8067l-31 5"/><path fill=#4537d5 d="M15561 8059l56-21-31 4-56 22zM15589 8049l-31 5"/><path fill=#463cde d="M15617 8038l28-13 28-16-31 3-28 16-28 14zM15645 8025l-31 3"/><path fill=#20a5e3 d="M15897 7626l28-294-31-4-28 297z"/><path fill=#4332cb d="M15474 8079l56-15-31 4-56 16zM15502 8072l-31 4"/><path fill=#4537d5 d="M15530 8064l56-22-31 4-56 22zM15558 8054l-31 4"/><path fill=#463cde d="M15586 8042l28-14 28-16-31 4-28 16-28 14zM15614 8028l-31 4"/><path fill=#20a5e3 d="M15866 7625l28-297-31-4-28 300z"/><path fill=#4332cb d="M15387 8094l28-5-31 5-28 5z"/><path fill=#4332cb d="M15443 8084l56-16-31 4-56 16zM15471 8076l-31 5"/><path fill=#4537d5 d="M15499 8068l56-22-31 4-56 22zM15527 8058l-31 4"/><path fill=#463cde d="M15555 8046l28-14-31 4-28 14z"/><path fill=#20a5e3 d="M15835 7624l28-300-31-4-28 302z"/><path fill=#4332cb d="M15384 8094l56-13 28-9-31 5-28 8-56 14zM15412 8088l-31 5M15440 8081l-31 4"/><path fill=#4537d5 d="M15468 8072l56-22-31 4-56 23zM15496 8062l-31 4"/><path fill=#463cde d="M15524 8050l28-14-31 3-28 15z"/><path fill=#1ca9df d="M15804 7622l28-302-31-5-28 305z"/><path fill=#4332cb d="M15325 8104l56-11 56-16-31 4-56 17-56 11zM15353 8099l-31 5M15381 8093l-31 5M15409 8085l-31 5"/><path fill=#4537d5 d="M15437 8077l56-23-31 3-56 24zM15465 8066l-31 4"/><path fill=#463cde d="M15493 8054l28-15-31 3-28 15z"/><path fill=#1ca9df d="M15773 7620l28-305-31-6-28 309z"/><path fill=#4332cb d="M15322 8104l56-14 28-9-31 4-28 9-56 14zM15350 8098l-31 4M15378 8090l-31 4"/><path fill=#4537d5 d="M15406 8081l56-24-31 4-56 24zM15434 8070l-31 4"/><path fill=#463cde d="M15462 8057l28-15-31 4-28 15z"/><path fill=#1ca9df d="M15742 7618l28-309-31-6-28 312z"/><path fill=#422ec0 d="M15263 8114l28-6-31 5-28 5z"/><path fill=#4332cb d="M15291 8108l56-14 28-9-31 3-28 10-56 15zM15319 8102l-31 4M15347 8094l-31 4"/><path fill=#4537d5 d="M15375 8085l56-24-31 3-56 24zM15403 8074l-31 3"/><path fill=#463cde d="M15431 8061l28-15-31 2-28 16z"/><path fill=#18addb d="M15711 7615l28-312-31-7-28 315z"/><path fill=#422ec0 d="M15232 8118l28-5-30 4-28 6z"/><path fill=#4332cb d="M15260 8113l56-15 28-10-30 4-28 10-56 15zM15288 8106l-30 4M15316 8098l-30 4"/><path fill=#4537d5 d="M15344 8088l56-24-30 3-56 25zM15372 8077l-30 3"/><path fill=#463cde d="M15400 8064l28-16-30 3-28 16z"/><path fill=#3875fe d="M15624 7802l28-89-30-2-28 90z"/><path fill=#2f81fa d="M15652 7713l28-102-30-4-28 104z"/><path fill=#18addb d="M15680 7611l28-315-30-8-28 319z"/><path fill=#422ec0 d="M15174 8127l56-10-31 4-56 10zM15202 8123l-31 4"/><path fill=#4332cb d="M15230 8117l56-15-31 3-56 16zM15258 8110l-31 4"/><path fill=#4537d5 d="M15286 8102l56-22 28-13-31 2-28 14-56 22zM15314 8092l-31 3M15342 8080l-31 3"/><path fill=#3875fe d="M15594 7801l28-90-31-4-28 92z"/><path fill=#2e87f7 d="M15622 7711l28-104-31-4-28 104z"/><path fill=#18addb d="M15650 7607l28-319-31-9-28 324z"/><path fill=#4332cb d="M15171 8127l56-13 28-9-31 3-28 9-56 13zM15199 8121l-31 3M15227 8114l-31 3"/><path fill=#4537d5 d="M15255 8105l56-22 28-14-31 3-28 14-56 22zM15283 8095l-31 3M15311 8083l-31 3"/><path fill=#12b1d6 d="M15619 7603l28-324-31-10-28 328z"/><path fill=#422ec0 d="M15112 8135l28-5-31 4-28 5z"/><path fill=#4332cb d="M15140 8130l56-13 28-9-31 3-28 9-56 14zM15168 8124l-31 4M15196 8117l-31 3"/><path fill=#4537d5 d="M15224 8108l56-22-31 2-56 23zM15252 8098l-31 2"/><path fill=#463cde d="M15280 8086l28-14-31 1-28 15z"/><path fill=#12b1d6 d="M15588 7597l28-328-31-11-28 333z"/><path fill=#422ec0 d="M15081 8139l28-5-31 3-28 5z"/><path fill=#4332cb d="M15109 8134l56-14 28-9-31 2-28 10-56 14zM15137 8128l-31 2M15165 8120l-31 3"/><path fill=#4537d5 d="M15193 8111l56-23-31 2-56 23zM15221 8100l-31 2"/><path fill=#12b1d6 d="M15557 7591l28-333-31-12-28 338z"/><path fill=#422ec0 d="M15022 8146l56-9-31 2-56 10zM15050 8142l-31 3"/><path fill=#4332cb d="M15078 8137l56-14 28-10-31 2-28 10-56 14zM15106 8130l-31 3M15134 8123l-31 2"/><path fill=#4537d5 d="M15162 8113l56-23-31 1-56 24zM15190 8102l-31 2"/><path fill=#08b5d0 d="M15526 7584l28-338-31-14-28 344z"/><path fill=#422ec0 d="M14963 8151l56-6 28-6-31 2-28 6-56 7zM14991 8149l-31 2M15019 8145l-31 2"/><path fill=#4332cb d="M15047 8139l56-14 28-10-31 2-28 9-56 15zM15075 8133l-31 2M15103 8125l-31 1"/><path fill=#4537d5 d="M15131 8115l56-24-31 1-56 25zM15159 8104l-31 1"/><path fill=#08b5d0 d="M15495 7576l28-344-31-15-28 349z"/><path fill=#422ec0 d="M14932 8154l56-7 28-6-31 2-28 6-56 7zM14960 8151l-31 2M14988 8147l-31 2"/><path fill=#4332cb d="M15016 8141l56-15 28-9-31 0-28 10-56 16zM15044 8135l-31 1M15072 8126l-31 1"/><path fill=#4537d5 d="M15100 8117l28-12-31 1-28 11z"/><path fill=#327cfc d="M15408 7779l28-99-31-9-28 101z"/><path fill=#2b91ef d="M15436 7680l28-114-31-10-28 115z"/><path fill=#01b8ca d="M15464 7566l28-349-31-17-28 356z"/><path fill=#422ec0 d="M14901 8156l56-7-31 1-56 8zM14929 8153l-31 1"/><path fill=#4332cb d="M14957 8149l56-13 28-9-31 1-28 9-56 13zM14985 8143l-31 1M15013 8136l-31 1"/><path fill=#4537d5 d="M15041 8127l56-21-31 0-56 22zM15069 8117l-31 1"/><path fill=#2f81fa d="M15377 7772l28-101-31-9-28 103z"/><path fill=#2b91ef d="M15405 7671l28-115-31-12-28 118z"/><path fill=#01b8ca d="M15433 7556l28-356-31-20-28 364z"/><path fill=#422ec0 d="M14842 8160l56-6 28-4-31 0-28 5-56 6zM14870 8158l-31 1M14898 8154l-31 1"/><path fill=#4332cb d="M14926 8150l56-13 28-9-31 0-28 9-56 13zM14954 8144l-31 0M14982 8137l-31 0"/><path fill=#4537d5 d="M15010 8128l56-22-31-1-56 23zM15038 8118l-31-1"/><path fill=#2f81fa d="M15346 7765l28-103-31-11-28 105z"/><path fill=#2b91ef d="M15374 7662l28-118-31-14-28 121z"/><path fill=#02bac3 d="M15402 7544l28-364-31-21-28 371z"/><path fill=#422ec0 d="M14755 8163l28-1-31 1-28 0z"/><path fill=#422ec0 d="M14811 8161l56-6 28-5-31 0-28 5-56 7zM14839 8159l-31 0M14867 8155l-31 0"/><path fill=#4332cb d="M14895 8150l56-13 28-9-31-1-28 9-56 14zM14923 8144l-31 0M14951 8137l-31-1"/><path fill=#4537d5 d="M14979 8128l28-11-31-1-28 11z"/><path fill=#2e87f7 d="M15315 7756l28-105-31-13-28 108z"/><path fill=#0bbdbd d="M15371 7530l28-371-31-24-28 380z"/><path fill=#422ec0 d="M14724 8163l28 0-31 0-28 1z"/><path fill=#422ec0 d="M14780 8162l56-7-31 0-56 6zM14808 8159l-31 0"/><path fill=#4332cb d="M14836 8155l56-11 28-8-31-1-28 8-56 12zM14864 8150l-31 0M14892 8144l-31-1"/><path fill=#4537d5 d="M14920 8136l56-20-31-2-56 21zM14948 8127l-31-1"/><path fill=#19bfb6 d="M15340 7515l28-380-31-27-28 389z"/><path fill=#422ec0 d="M14665 8163l28 1-31-1-28 0z"/><path fill=#422ec0 d="M14749 8161l56-6-31-1-56 7zM14777 8159l-31-1"/><path fill=#4332cb d="M14805 8155l56-12 28-8-31-2-28 8-56 13zM14833 8150l-31-2M14861 8143l-31-2"/><path fill=#4537d5 d="M14889 8135l28-9-31-3-28 10z"/><path fill=#259be8 d="M15281 7624l28-127-31-19-28 130z"/><path fill=#24c1ae d="M15309 7497l28-389-31-30-28 400z"/><path fill=#422ec0 d="M14690 8162l56-4-31-2-56 5zM14718 8161l-31-2"/><path fill=#4332cb d="M14746 8158l56-10 56-15-31-3-56 16-56 10zM14774 8154l-31-2M14802 8148l-31-2M14830 8141l-31-2"/><path fill=#23a0e5 d="M15250 7608l28-130-31-23-28 134z"/><path fill=#2cc4a7 d="M15278 7478l28-400-31-34-28 411z"/><path fill=#422ec0 d="M14631 8162l28-1-31-2-28 1z"/><path fill=#4332cb d="M14687 8159l56-7 56-13-31-4-56 14-56 8zM14715 8156l-31-3M14743 8152l-31-3M14771 8146l-31-3"/><path fill=#4537d5 d="M14799 8139l28-9-31-4-28 9z"/><path fill=#2b91ef d="M15191 7706l28-117-31-21-28 120z"/><path fill=#20a5e3 d="M15219 7589l28-134-31-25-28 138z"/><path fill=#31c69f d="M15247 7455l28-411-31-39-28 425z"/><path fill=#422ec0 d="M14544 8160l84-1-31-3-84 1zM14572 8160l-31-2M14600 8160l-31-3"/><path fill=#4332cb d="M14628 8159l56-6 56-10-31-5-56 12-56 6zM14656 8157l-31-4M14684 8153l-31-3M14712 8149l-31-4"/><path fill=#4537d5 d="M14740 8143l28-8-31-4-28 7z"/><path fill=#2797eb d="M15160 7688l28-120-31-25-28 125z"/><path fill=#20a5e3 d="M15188 7568l28-138-31-30-28 143z"/><path fill=#37c897 d="M15216 7430l28-425-31-44-28 439z"/><path fill=#422ec0 d="M14429 8151l28 3-31-3-28-2z"/><path fill=#422ec0 d="M14485 8156l84 1-31-4-84 0zM14513 8157l-31-3M14541 8158l-31-4"/><path fill=#4332cb d="M14569 8157l56-4 56-8-31-5-56 9-56 4zM14597 8156l-31-4M14625 8153l-31-4M14653 8150l-31-5"/><path fill=#4537d5 d="M14681 8145l28-7-31-5-28 7z"/><path fill=#2797eb d="M15129 7668l28-125-31-28-28 129z"/><path fill=#1ca9df d="M15157 7543l28-143-31-33-28 148z"/><path fill=#3fca8e d="M15185 7400l28-439-31-50-28 456z"/><path fill=#422ec0 d="M14398 8149l56 4 56 1-31-4-56-1-56-4zM14426 8151l-31-4M14454 8153l-31-4M14482 8154l-31-4"/><path fill=#4332cb d="M14510 8154l56-2 28-3 56-9-31-7-56 10-28 4-56 3zM14538 8153l-31-4M14566 8152l-31-5M14594 8149l-31-6M14622 8145l-31-6"/><path fill=#259be8 d="M15098 7644l28-129-31-33-28 135z"/><path fill=#57cc7a d="M15154 7367l28-456-31-57-28 474z"/><path fill=#422ec0 d="M14339 8143l84 6-31-5-84-6zM14367 8145l-31-4M14395 8147l-31-5"/><path fill=#4332cb d="M14423 8149l84 0 56-6-31-7-56 6-84 2zM14451 8150l-31-6M14479 8150l-31-6M14507 8149l-31-7M14535 8147l-31-7"/><path fill=#4537d5 d="M14563 8143l28-4-31-7-28 4z"/><path fill=#72cd64 d="M15123 7328l28-474-31-67-28 495z"/><path fill=#422ec0 d="M14252 8132l28 3-30-5-29-3z"/><path fill=#4332cb d="M14280 8135l56 6 56 3 56 0 56-4-30-8-56 4-57 1-55-2-56-5zM14308 8138l-30-5M14336 8141l-30-6M14364 8142l-30-6M14392 8144l-31-7M14420 8144l-30-7M14448 8144l-30-8M14476 8142l-30-7"/><path fill=#4537d5 d="M14504 8140l28-4-31-8-27 4z"/><path fill=#01b8ca d="M15064 7444l28-162-31-53-27 169z"/><path fill=#8fcb4e d="M15092 7282l28-495-30-78-29 520z"/><path fill=#4332cb d="M14138 8117l83 10 85 8 55 2 57-1-31-9-56 2-56-2-84-6-84-10zM14166 8120l-31-5M14194 8124l-31-6M14221 8127l-30-6M14250 8130l-31-7M14278 8133l-31-8M14306 8135l-31-8M14334 8136l-31-8M14361 8137l-30-8M14390 8137l-31-9"/><path fill=#4537d5 d="M14418 8136l56-4-31-10-56 5zM14446 8135l-31-10"/><path fill=#0bbdbd d="M15034 7398l27-169-30-63-28 179z"/><path fill=#abc739 d="M15061 7229l29-520-31-93-28 550z"/><path fill=#422ec0 d="M13575 8055l56 5-31-4-56-5zM13603 8057l-31-3"/><path fill=#422ec0 d="M13687 8065l84 8-31-4-84-8zM13715 8068l-31-4M13743 8071l-31-5"/><path fill=#422ec0 d="M13799 8076l28 3-31-5-28-3z"/><path fill=#4332cb d="M13827 8079l364 42 84 6 56 2-31-11-56 0-84-6-364-38zM13855 8082l-31-5M13883 8085l-31-5M13911 8088l-31-6M13939 8091l-31-6M13967 8094l-31-6M13995 8098l-31-7M14023 8101l-31-6M14051 8104l-31-6M14079 8108l-31-7M14107 8111l-31-7M14135 8115l-31-8M14163 8118l-31-8M14191 8121l-31-9M14219 8123l-31-9M14247 8125l-31-9M14275 8127l-31-9M14303 8128l-31-10"/><path fill=#4537d5 d="M14331 8129l56-2-31-11-56 2zM14359 8128l-31-11"/><path fill=#08b5d0 d="M14975 7501l28-156-31-65-28 166z"/><path fill=#24c1ae d="M15003 7345l28-179-31-76-28 190z"/><path fill=#d1bf27 d="M15031 7166l28-550-31-111-28 585z"/><path fill=#422ec0 d="M13404 8038l252 23-31-5-252-22zM13432 8041l-31-5M13460 8043l-31-4M13488 8046l-31-5M13516 8049l-31-5M13544 8051l-31-5M13572 8054l-31-5M13600 8056l-31-5M13628 8059l-31-6"/><path fill=#4332cb d="M13656 8061l196 19 252 27 84 7-31-11-84-6-252-25-196-16zM13684 8064l-31-6M13712 8066l-31-6M13740 8069l-31-6M13768 8071l-31-6M13796 8074l-31-7M13824 8077l-31-7M13852 8080l-31-8M13880 8082l-31-7M13908 8085l-31-7M13936 8088l-31-8M13964 8091l-31-8M13992 8095l-31-9M14020 8098l-31-9M14048 8101l-31-9M14076 8104l-31-10M14104 8107l-31-10M14132 8110l-31-11M14160 8112l-31-11"/><path fill=#4537d5 d="M14188 8114l56 4 56 0-31-13-56 0-56-2zM14216 8116l-31-11M14244 8118l-31-13M14272 8118l-31-12"/><path fill=#02bac3 d="M14944 7446l28-166-31-79-28 178z"/><path fill=#37c897 d="M14972 7280l28-190-31-93-28 204z"/><path fill=#fec338 d="M15000 7090l28-585-31-217-28 709z"/><path fill=#422ec0 d="M13373 8034l112 10-31-7-112-10zM13401 8036l-31-6M13429 8039l-31-7M13457 8041l-31-6"/><path fill=#4332cb d="M13485 8044l280 23 168 16-31-11-448-35zM13513 8046l-31-7M13541 8049l-31-8M13569 8051l-31-8M13597 8053l-31-8M13625 8056l-31-9M13653 8058l-31-8M13681 8060l-31-8M13709 8063l-31-9M13737 8065l-31-9M13765 8067l-31-9M13793 8070l-31-10M13821 8072l-31-10M13849 8075l-31-10M13877 8078l-31-11M13905 8080l-31-10"/><path fill=#4537d5 d="M13933 8083l140 14 84 6-31-14-84-5-140-12zM13961 8086l-31-12M13989 8089l-31-12M14017 8092l-31-13M14045 8094l-31-12M14073 8097l-31-13M14101 8099l-31-13M14129 8101l-31-14"/><path fill=#57cc7a d="M14941 7201l28-204-31-115-28 220z"/><path fill=#f7f51b d="M14969 6997l28-709-31-324-28 918z"/><path fill=#4332cb d="M13342 8027l364 29-31-13-364-25zM13370 8030l-31-9M13398 8032l-31-9M13426 8035l-31-10M13454 8037l-31-10M13482 8039l-31-10M13510 8041l-31-10M13538 8043l-31-10M13566 8045l-31-11M13594 8047l-31-11M13622 8050l-31-12M13650 8052l-31-12M13678 8054l-31-12"/><path fill=#4537d5 d="M13706 8056l224 18-31-15-224-16zM13734 8058l-31-13M13762 8060l-31-13M13790 8062l-31-13M13818 8065l-31-14M13846 8067l-31-14M13874 8070l-31-15M13902 8072l-31-15"/><path fill=#4332cb d="M13311 8018l168 13-31-15-168-11zM13339 8021l-31-14M13367 8023l-31-14M13395 8025l-31-14M13423 8027l-31-15M13451 8029l-31-15"/><path fill=#2cc4a7 d="M14823 7333l28-144-31-142-28 161z"/><path fill=#31c69f d="M14764 7352l28-144-31-171-28 165z"/><path fill=#c5c22a d="M14792 7208l28-161-31-499-28 489z"/><path fill=#fec934 d="M14820 7047l28-406-31-382-28 289z"/><path fill=#4537d5 d="M13249 7986l140 6-31-11-140-6zM13277 7987l-31-11M13305 7989l-31-11M13333 7990l-31-11M13361 7991l-31-11"/><path fill=#463cde d="M13389 7992l196 7-31-14-196-4zM13417 7994l-31-12M13445 7995l-31-13M13473 7996l-31-13M13501 7997l-31-13M13529 7998l-31-14M13557 7998l-31-13"/><path fill=#f6ef20 d="M14761 7037l28-489-31-542-28 925z"/><path fill=#484df0 d="M13187 7956l56 2-31-136-56 5zM13215 7957l-31-133"/><path fill=#4852f4 d="M13243 7958l140 3-31-152-140 13zM13271 7959l-31-140M13299 7959l-31-142M13327 7960l-31-146M13355 7960l-31-149"/><path fill=#4758f8 d="M13383 7961l84 0-31-160-84 8zM13411 7961l-31-155M13439 7961l-31-157"/></g><path d="M1483.6 846.0L1669.3 821.9M1483.6 846.0L1315.6 818.7M1315.6 818.7L1315.6 526.7M1483.6 846.0L1483.6 853.0M1576.4 834.0L1576.4 841.0M1669.3 821.9L1669.3 828.9M1483.6 846.0L1483.6 853.0M1399.6 832.4L1399.6 839.4M1315.6 818.7L1315.6 825.7M1315.6 818.7L1308.6 818.7M1315.6 770.0L1308.6 770.0M1315.6 721.4L1308.6 721.4M1315.6 672.7L1308.6 672.7M1315.6 624.0L1308.6 624.0M1315.6 575.4L1308.6 575.4M1315.6 526.7L1308.6 526.7" stroke="#3a3a3a" stroke-width="0.8" fill="none"/><text x="1484.1" y="872.8" font-size="13.4" text-anchor="start">0</text><text x="1576.9" y="860.7" font-size="13.4" text-anchor="start">0.5</text><text x="1669.8" y="848.7" font-size="13.4" text-anchor="start">1</text><text x="1483.6" y="872.8" font-size="13.4" text-anchor="end">0</text><text x="1399.6" y="859.1" font-size="13.4" text-anchor="end">0.5</text><text x="1315.6" y="845.5" font-size="13.4" text-anchor="end">1</text><text x="1303.4" y="823.5" font-size="13.4" text-anchor="end">0</text><text x="1303.4" y="774.8" font-size="13.4" text-anchor="end">0.005</text><text x="1303.4" y="726.2" font-size="13.4" text-anchor="end">0.01</text><text x="1303.4" y="677.5" font-size="13.4" text-anchor="end">0.015</text><text x="1303.4" y="628.8" font-size="13.4" text-anchor="end">0.02</text><text x="1303.4" y="580.2" font-size="13.4" text-anchor="end">0.025</text><text x="1303.4" y="531.5" font-size="13.4" text-anchor="end">0.03</text><text x="1576.5" y="882.1" class="gk" text-anchor="middle">η</text><text x="1396.1" y="880.3" class="gk" text-anchor="middle">ρ</text><text transform="translate(1254.9 673.4) rotate(-90)" font-size="14.7" text-anchor="middle">R<tspan font-size="11.7" dy="7">0</tspan></text><linearGradient id="cbf" x1="0" y1="0" x2="0" y2="1"><stop offset="0.0000" stop-color="#f9fb15"/><stop offset="0.0476" stop-color="#f5e924"/><stop offset="0.0952" stop-color="#fad62d"/><stop offset="0.1429" stop-color="#fec338"/><stop offset="0.1905" stop-color="#f0ba36"/><stop offset="0.2381" stop-color="#d1bf27"/><stop offset="0.2857" stop-color="#abc739"/><stop offset="0.3333" stop-color="#81cc59"/><stop offset="0.3810" stop-color="#57cc7a"/><stop offset="0.4286" stop-color="#37c897"/><stop offset="0.4762" stop-color="#24c1ae"/><stop offset="0.5238" stop-color="#02bac3"/><stop offset="0.5714" stop-color="#12b1d6"/><stop offset="0.6190" stop-color="#20a5e3"/><stop offset="0.6667" stop-color="#2797eb"/><stop offset="0.7143" stop-color="#2e87f7"/><stop offset="0.7619" stop-color="#3875fe"/><stop offset="0.8095" stop-color="#4563fd"/><stop offset="0.8571" stop-color="#4852f4"/><stop offset="0.9048" stop-color="#4741e5"/><stop offset="0.9524" stop-color="#4332cb"/><stop offset="1.0000" stop-color="#3e26a8"/></linearGradient><rect x="1708.4" y="503.3" width="19.8" height="342.6" fill="url(#cbf)" stroke="#3a3a3a" stroke-width="0.8"/><text x="1733.7" y="789.0" font-size="13.4" text-anchor="start">0.005</text><text x="1733.7" y="720.5" font-size="13.4" text-anchor="start">0.01</text><text x="1733.7" y="652.0" font-size="13.4" text-anchor="start">0.015</text><text x="1733.7" y="583.5" font-size="13.4" text-anchor="start">0.02</text><text x="1733.7" y="514.9" font-size="13.4" text-anchor="start">0.025</text><path d="M1728.2 784.2h-3.5M1728.2 715.7h-3.5M1728.2 647.2h-3.5M1728.2 578.7h-3.5M1728.2 510.2h-3.5" stroke="#3a3a3a" stroke-width="0.8" fill="none"/>
<path d="M228.8 1346.4L70.1 1259.4M331.1 1313.8L172.4 1226.8M433.3 1281.2L274.6 1194.2M228.8 1346.4L433.3 1281.2M149.5 1302.9L354.0 1237.7M70.1 1259.4L274.6 1194.2M70.1 1259.4L70.1 1069.7M172.4 1226.8L172.4 1037.1M274.6 1194.2L274.6 1004.5M70.1 1259.4L274.6 1194.2M70.1 1231.7L274.6 1166.5M70.1 1203.9L274.6 1138.7M70.1 1176.2L274.6 1111.0M70.1 1148.4L274.6 1083.2M70.1 1120.7L274.6 1055.5M70.1 1092.9L274.6 1027.7M433.3 1281.2L433.3 1091.5M354.0 1237.7L354.0 1048.0M274.6 1194.2L274.6 1004.5M274.6 1194.2L433.3 1281.2M274.6 1166.5L433.3 1253.5M274.6 1138.7L433.3 1225.7M274.6 1111.0L433.3 1198.0M274.6 1083.2L433.3 1170.2M274.6 1055.5L433.3 1142.5M274.6 1027.7L433.3 1114.7" stroke="#e1e1e1" stroke-width="1.1" fill="none"/><g transform="scale(0.1)" stroke="#000" stroke-width="6" stroke-linejoin="round" fill="none"><g stroke-width="6"><path fill=#4852f4 stroke=#4852f4 d="M2746 11663l-437 138 26 10 437-138zM2073 11875l-336 106 26 10 337-106z"/><path fill=#4758f8 stroke=#4758f8 d="M1737 11981l-1009 317 26 10 1009-317zM2772 11673l-471 148 27 11 471-149zM2100 11885l-1346 423 26 10 1346-423zM2799 11683l-505 159 27 10 504-159zM2092 11906l-1312 412 27 10 1312-412zM2825 11693l-504 159 26 10 505-159zM2085 11926l-1278 402 26 10 1279-402zM2852 11703l-538 170 26 9 538-169zM2078 11947l-1245 391 27 10 1245-392zM2878 11713l-538 169 26 10 539-169zM2071 11967l-1211 381 26 9 1211-381zM2905 11723l-572 179 26 10 572-180zM2064 11987l-505 159 27 9 504-159zM2931 11732l-202 63 27 10 202-64z"/><path fill=#465efb stroke=#465efb d="M1559 12146l-673 211 27 9 673-211zM2729 11795l-370 117 27 9 370-116zM2057 12007l-1144 359 26 9 1144-359zM2049 12027l-1110 348 27 9 1110-348zM2042 12046l-1076 338 26 9 1077-338zM2035 12066l-1043 327 27 8 1042-327zM2028 12085l-673 211 26 8 673-211z"/><path fill=#4563fd stroke=#4563fd d="M1355 12296l-336 105 26 9 336-106zM2021 12104l-976 306 26 8 976-306zM2013 12122l-942 296 27 8 942-296zM2006 12141l-908 285 26 7 909-285zM1999 12159l-875 274 27 7 874-274z"/><path fill=#4269fe stroke=#4269fe d="M1992 12177l-841 263 26 7 841-263zM1985 12195l-808 252 27 7 807-253zM1944 12223l-740 231 26 6 740-231zM1937 12240l-640 200 27 6 639-200z"/><path fill=#3e6fff stroke=#3e6fff d="M1297 12440l-67 20 27 6 67-20zM2165 12182l-34 11 27 6 33-11zM1929 12256l-672 210 26 6 673-210zM1922 12273l-639 199 26 5 640-199zM1915 12288l-606 189 27 5 605-189z"/><path fill=#3875fe stroke=#3875fe d="M1908 12304l-572 178 26 4 572-178zM1901 12319l-539 167 27 4 538-167zM1893 12334l-471 146 27 3 471-146z"/><path fill=#327cfc stroke=#327cfc d="M1422 12480l-33 10 26 3 34-10zM1853 12358l-438 135 27 3 101-30 336-105zM1845 12372l-370 114 27 2 370-114z"/><path fill=#2f81fa stroke=#2f81fa d="M1838 12385l-235 73 26 2 236-73z"/><path fill=#1ca9df stroke=#1ca9df d="M1819 12442l-33-1 26-15 34 3z"/><path fill=#18addb stroke=#18addb d="M1846 12429l-34-3 26-19 34 6z"/><path fill=#12b1d6 stroke=#12b1d6 d="M1906 12410l-34 3-34-6 27-21 34 9 33-2zM1966 12387l-34 6 27-19 33-5z"/><path fill=#08b5d0 stroke=#08b5d0 d="M1932 12393l-33 2 26-21 34 0zM2060 12352l-68 17 27-21 67-16z"/><path fill=#01b8ca stroke=#01b8ca d="M1992 12369l-33 5 26-22 34-4zM2254 12281l-134 41-68 19 27-24 67-18 135-40z"/><path fill=#8fcb4e stroke=#8fcb4e d="M4254 11377l-34 10 26 115 34-10z"/></g><path d="M4246 11502l34-10M4220 11387l34-10M2079 12317l67-18 135-40M1985 12352l34-4 33-7 68-19 134-41M1925 12374l34 0 33-5 68-17M1865 12386l34 9 33-2 34-6M1838 12407l34 6 34-3M1812 12426l34 3M1786 12441l33 1M1629 12460l236-73M1502 12488l370-114M1442 12496l101-30 336-105M1415 12493l101-30 404-126M1389 12490l538-167M1362 12486l572-178M1336 12482l605-189M1309 12477l640-199M1283 12472l673-210M2158 12199l33-11M1257 12466l706-220M2131 12193l34-11M1230 12460l740-231M1204 12454l807-253M1177 12447l841-263M1151 12440l874-274M1124 12433l909-285M1098 12426l942-296M1071 12418l976-306M1045 12410l1009-317M1019 12401l1042-327M992 12393l1077-338M966 12384l1110-348M939 12375l1144-359M2386 11921l572-180M913 12366l1177-370M2359 11912l572-180M886 12357l1211-381M2333 11902l572-179M860 12348l1245-392M2340 11882l538-169M833 12338l1279-402M2314 11873l538-170M807 12328l1312-412M2321 11852l504-159M780 12318l1346-423M2294 11842l505-159M754 12308l1346-423M2301 11821l471-148M728 12298l1345-423M2309 11801l437-138M1865 12386l-27 21-26 19-26 15M1442 12496l-80-10-79-14-79-18-80-21-79-23-106-35-106-37-105-40M1925 12374l-26 21-27 18-26 16-27 13M1502 12488l-80-8-79-13-79-17-80-20-79-23-106-33-106-37-132-49M1985 12352l-26 22-27 19-26 17M1535 12479l-79-9-79-13-80-17-79-21-79-22-106-34-106-37-132-49M2019 12348l-27 21-26 18M1569 12468l-79-8-80-14-79-17-79-20-80-23-105-33-106-37-132-50M2079 12317l-27 24-26 20M1629 12460l-79-7-80-12-79-16-79-20-106-29-106-34-106-37-132-49M2112 12309l-26 23-26 20M1663 12449l-80-7-79-12-79-16-106-26-79-23-106-33-106-37-132-50M2146 12299l-26 23M1696 12439l-79-7-79-12-80-16-105-27-80-22-106-34-105-37-133-49M2180 12289l-27 23M1730 12428l-79-7-80-12-79-16-106-26-79-23-106-34-106-36-132-50M2213 12279l-26 23M1764 12418l-80-7-79-12-79-16-106-27-79-23-106-33-106-37-132-49M2247 12269l-26 23M1797 12407l-79-7-79-12-80-16-105-26-80-23-106-34-105-37-133-49M2281 12259l-27 22M1831 12397l-79-7-80-12-79-16-106-27-79-23-106-33-106-37-132-50M1865 12387l-80-8-79-12-79-16-106-26-80-23-105-34-106-37-132-49M1872 12374l-79-9-80-13-79-18-80-20-79-23-106-33-105-37-133-50M1879 12361l-79-10-80-15-79-19-79-21-80-23-105-35-106-37-106-40M1886 12348l-53-8-79-15-79-18-80-21-79-24-106-35-106-37-105-40M1920 12337l-53-7-79-15-80-19-79-21-79-24-106-34-106-38-106-40M1927 12323l-53-9-79-16-80-19-79-22-79-24-106-36-185-68M1934 12308l-53-9-79-17-79-21-80-23-158-51-186-69M1941 12293l-52-10-80-18-132-37-159-52-185-68M1949 12278l-53-11-80-20-132-38-159-53-158-59M1956 12262l-132-32-133-40-132-44-159-60M1963 12246l-106-27-132-39-132-45-159-59M1970 12229l-106-28-132-40-132-46-132-50M1977 12212l-105-29-106-33-132-46-133-49M2011 12201l-106-29-106-32-132-46-132-50M2018 12184l-106-30-105-34-106-37-132-49M2158 12199l-27-6M2025 12166l-79-23-106-33-106-37-132-50M2191 12188l-26-6M2033 12148l-80-23-106-35-105-38-106-40M2040 12130l-80-24-105-36-185-68M2047 12112l-159-52-185-69M2054 12093l-159-53-158-59M2061 12074l-132-45-159-59M2069 12055l-133-46-132-50M2076 12036l-106-37-132-50M2083 12016l-106-38-106-40M2090 11996l-185-68M2097 11976l-158-59M2105 11956l-133-50M2112 11936l-106-40M2119 11916l-79-31M2126 11895l-53-20M2386 11921l-53-19M2419 11910l-105-37M2453 11900l-159-58M2487 11889l-186-68M2520 11879l-106-38-105-40M2554 11868l-106-38-106-40M2588 11858l-106-38-106-41M2621 11847l-106-38-105-40M2655 11836l-106-38-106-40M2688 11826l-105-38-106-40M2722 11815l-106-38-105-40M2756 11805l-106-38-106-41M2789 11794l-105-38-106-40M2823 11784l-106-38-106-41M2857 11773l-106-38-106-40M2890 11762l-105-38-106-40M4246 11502l-26-115M2924 11752l-106-38-106-40M4280 11492l-26-115M2958 11741l-106-38-106-40"/><path fill=#4852f4 d="M2309 11801l-34 10 26 10 34-10z"/><path fill=#4852f4 d="M2140 11854l-67 21 27 10 67-21zM2107 11864l26 10"/><path fill=#4758f8 d="M2301 11821l-33 11 26 10 34-10z"/><path fill=#4758f8 d="M2133 11874l-33 11 26 10 34-11z"/><path fill=#4758f8 d="M2294 11842l-33 11 26 10 34-11z"/><path fill=#4758f8 d="M2126 11895l-34 11 27 10 34-11z"/><path fill=#4758f8 d="M2321 11852l-34 11 27 10 33-11z"/><path fill=#4758f8 d="M2119 11916l-34 10 27 10 33-11z"/><path fill=#4758f8 d="M2314 11873l-34 10 26 10 34-11z"/><path fill=#4758f8 d="M2112 11936l-34 11 27 9 33-10z"/><path fill=#4758f8 d="M2340 11882l-34 11 27 9 33-10z"/><path fill=#4758f8 d="M2105 11956l-34 11 26 9 34-10z"/><path fill=#4758f8 d="M2097 11976l-33 11 26 9 34-10z"/><path fill=#465efb d="M2090 11996l-33 11 26 9 34-10z"/><path fill=#465efb d="M2958 11741l-505 159 26 9 505-159zM2924 11752l26 9M2890 11762l27 9M2857 11773l26 9M2823 11784l26 9M2789 11794l27 9M2756 11805l26 9M2722 11815l27 9M2688 11826l27 9M2655 11836l26 9M2621 11847l27 9M2588 11858l26 9M2554 11868l26 9M2520 11879l27 9M2487 11889l26 9"/><path fill=#465efb d="M2083 12016l-34 11 27 9 33-11z"/><path fill=#465efb d="M2076 12036l-34 10 27 9 33-11z"/><path fill=#465efb d="M2069 12055l-34 11 26 8 34-10z"/><path fill=#465efb d="M2061 12074l-33 11 26 8 34-10z"/><path fill=#4563fd d="M2054 12093l-33 11 26 8 34-11z"/><path fill=#4563fd d="M2047 12112l-34 10 27 8 33-10z"/><path fill=#4563fd d="M2040 12130l-34 11 27 7 33-10z"/><path fill=#4563fd d="M2033 12148l-34 11 26 7 34-10z"/><path fill=#4269fe d="M2025 12166l-33 11 26 7 34-10z"/><path fill=#4269fe d="M2018 12184l-33 11 26 6 34-10z"/><path fill=#4269fe d="M2011 12201l-67 22 26 6 68-21zM1977 12212l27 6"/><path fill=#4269fe d="M2004 12218l-67 22 26 6 67-21zM1970 12229l27 6"/><path fill=#3e6fff d="M1997 12235l-68 21 27 6 67-21zM1963 12246l26 5"/><path fill=#3e6fff d="M1989 12251l-67 22 27 5 67-21zM1956 12262l26 5"/><path fill=#3e6fff d="M1949 12278l-34 10 26 5 34-10z"/><path fill=#3875fe d="M1941 12293l-33 11 26 4 34-10z"/><path fill=#3875fe d="M1934 12308l-33 11 26 4 34-10z"/><path fill=#3875fe d="M1927 12323l-34 11 27 3 34-10z"/><path fill=#327cfc d="M1920 12337l-67 21 26 3 67-21zM1886 12348l27 3"/><path fill=#327cfc d="M1913 12351l-68 21 27 2 67-21zM1879 12361l27 3"/><path fill=#327cfc d="M1475 12486l-33 10 26 2 34-10z"/><path fill=#2f81fa d="M1872 12374l-34 11 27 2 33-11z"/><path fill=#2f81fa d="M1603 12458l-135 40 27 1 134-39zM1569 12468l27 2M1535 12479l27 1M1502 12488l26 2"/><path fill=#2f81fa d="M1865 12387l-269 83-101 29 26 1 101-29 269-83zM1831 12397l26 1M1797 12407l27 2M1764 12418l26 1M1730 12428l27 2M1696 12439l27 1M1663 12449l26 1M1629 12460l27 1M1596 12470l26 1M1562 12480l26 1M1528 12490l27 1"/><path fill=#2e87f7 d="M1824 12409l-202 62-101 29 27-1 100-28 202-62zM1790 12419l27 1M1757 12430l26 0M1723 12440l26 0M1689 12450l27 1M1656 12461l26 0M1622 12471l26 0M1588 12481l27 0M1555 12491l26 0"/><path fill=#2e87f7 d="M1817 12420l-202 61-67 18 26-1 67-17 202-62zM1783 12430l26 0M1749 12440l27 0M1716 12451l26-1M1682 12461l27 0M1648 12471l27 0M1615 12481l26 0M1581 12491l27-1"/><path fill=#2d8cf3 d="M1776 12440l-135 41-67 17 26-2 68-17 134-40zM1742 12450l27-1M1709 12461l26-1M1675 12471l26-1M1641 12481l27-2M1608 12490l26-1"/><path fill=#2d8cf3 d="M1769 12449l-101 30-68 17 27-3 67-16 101-30zM1735 12460l26-3M1701 12470l27-3M1668 12479l26-2M1634 12489l27-3"/><path fill=#2b91ef d="M1661 12486l-34 7 26-5 34-6z"/><path fill=#2797eb d="M1687 12482l-34 6 27-6 33-5z"/><path fill=#2797eb d="M1713 12477l-33 5 26-7 34-4z"/><path fill=#259be8 d="M1807 12454l-67 17-34 4 27-9 33-3 68-16zM1774 12463l26-7M1740 12471l26-8"/><path fill=#259be8 d="M2271 12313l-34 11 27-8 33-10z"/><path fill=#259be8 d="M2002 12397l-168 50 26-8 168-50zM1968 12407l27-8M1935 12417l26-8M1901 12428l26-8M1867 12438l27-9"/><path fill=#23a0e5 d="M1834 12447l-68 16-33 3 26-11 34-2 33-6 34-8zM1800 12456l26-9M1766 12463l27-10"/><path fill=#23a0e5 d="M2196 12337l-269 83-101 27 27-10 34-8 67-19 269-83zM2163 12347l26-9M2129 12358l27-10M2096 12368l26-10M2062 12378l26-9M2028 12389l27-10M1995 12399l26-10M1961 12409l26-9M1927 12420l27-10M1894 12429l26-9M1860 12439l27-10"/><path fill=#20a5e3 d="M1826 12447l-33 6-34 2 27-14 33 1 34-5zM1793 12453l26-11"/><path fill=#20a5e3 d="M2290 12306l-370 114-67 17-34 5 27-13 33-4 68-17 370-113zM2257 12317l26-11M2223 12327l26-11M2189 12338l27-12M2156 12348l26-11M2122 12358l26-11M2088 12369l27-11M2055 12379l26-11M2021 12389l27-11M1987 12400l27-12M1954 12410l26-12M1920 12420l27-12M1887 12429l26-12M1853 12437l26-12"/><path fill=#1ca9df d="M2283 12306l-336 102-68 17-33 4 26-16 34-3 67-15 336-102zM2249 12316l27-13M2216 12326l26-13M2182 12337l27-13M2148 12347l27-13M2115 12358l26-14M2081 12368l27-13M2048 12378l26-13M2014 12388l26-13M1980 12398l27-13M1947 12408l26-13M1913 12417l26-14M1879 12425l27-15"/><path fill=#18addb d="M2276 12303l-269 82-68 18-33 7 26-17 34-6 67-17 269-82zM2242 12313l27-15M2209 12324l26-16M2175 12334l26-15M2141 12344l27-15M2108 12355l26-16M2074 12365l26-15M2040 12375l27-15M2007 12385l26-15M1973 12395l26-16M1939 12403l27-16"/><path fill=#12b1d6 d="M2302 12288l-235 72-101 27 26-18 34-8 67-19 236-72zM2269 12298l26-17M2235 12308l26-17M2201 12319l27-18M2168 12329l26-17M2134 12339l27-17M2100 12350l27-18M2067 12360l26-18M2033 12370l27-18M1999 12379l27-18"/><path fill=#01b8ca d="M1899 12395l-34-9 26-25 34 13z"/><path fill=#08b5d0 d="M2295 12281l-235 71 26-20 236-71zM2261 12291l27-20M2228 12301l26-20M2194 12312l27-20M2161 12322l26-20M2127 12332l26-20M2093 12342l27-20"/><path fill=#01b8ca d="M1959 12374l-34 0 26-25 34 3z"/><path fill=#02bac3 d="M1925 12374l-34-13 27-29 33 17z"/><path fill=#01b8ca d="M2288 12271l-34 10 27-22 33-11z"/><path fill=#02bac3 d="M2052 12341l-33 7-34 4-34-3 27-28 34 6 33-3 34-7zM2019 12348l26-24M1985 12352l27-25"/><path fill=#19bfb6 d="M1951 12349l-33-17 26-34 34 23z"/><path fill=#0bbdbd d="M2281 12259l-135 40-67 18-34 7-33 3 26-29 34-1 33-6 68-18 134-40zM2247 12269l26-26M2213 12279l27-26M2180 12289l26-26M2146 12299l27-26M2112 12309l27-27M2079 12317l26-26M2045 12324l27-27"/><path fill=#19bfb6 d="M2012 12327l-34-6 26-32 34 9z"/><path fill=#24c1ae d="M1978 12321l-34-23 27-39 33 30z"/><path fill=#19bfb6 d="M2307 12233l-134 40-68 18 27-31 67-16 135-41zM2273 12243l27-29M2240 12253l26-29M2206 12263l27-29M2173 12273l26-29M2139 12282l26-29"/><path fill=#24c1ae d="M2105 12291l-33 6-34 1 26-33 34 1 34-6zM2072 12297l26-31"/><path fill=#2cc4a7 d="M2038 12298l-34-9 27-37 33 13z"/><path fill=#31c69f d="M2004 12289l-33-30 26-45 34 38z"/><path fill=#2cc4a7 d="M2300 12214l-135 39-33 7-34 6 27-35 33-4 34-8 134-38zM2266 12224l27-33M2233 12234l26-33M2199 12244l26-34M2165 12253l27-34M2132 12260l26-33"/><path fill=#31c69f d="M2098 12266l-34-1 27-37 34 3z"/><path fill=#37c897 d="M2064 12265l-33-13 26-42 34 18z"/><path fill=#3fca8e d="M2031 12252l-34-38 27-52 33 48z"/><path fill=#31c69f d="M2293 12191l-68 19 27-37 67-19zM2259 12201l27-37"/><path fill=#37c897 d="M2225 12210l-67 17-33 4-34-3 26-42 34 5 34-2 67-16zM2192 12219l26-37M2158 12227l27-38M2125 12231l26-40"/><path fill=#4acb84 d="M2091 12228l-34-18 27-47 33 23z"/><path fill=#64cd6f d="M2057 12210l-33-48 26-59 34 60z"/><path fill=#3fca8e d="M2286 12164l-68 18 27-42 67-17zM2252 12173l26-41"/><path fill=#4acb84 d="M2218 12182l-33 7-34 2-34-5 27-47 33 8 34-1 34-6zM2185 12189l26-43M2151 12191l26-44"/><path fill=#64cd6f d="M2117 12186l-33-23 26-54 34 30z"/><path fill=#8fcb4e d="M2084 12163l-34-60 27-68 33 74z"/><path fill=#57cc7a d="M2278 12132l-33 8 26-45 34-8z"/><path fill=#64cd6f d="M2245 12140l-34 6-34 1 27-48 34 1 33-5zM2211 12146l27-46"/><path fill=#72cd64 d="M2177 12147l-33-8 26-52 34 12z"/><path fill=#81cc59 d="M2144 12139l-34-30 27-60 33 38z"/><path fill=#b9c431 d="M2110 12109l-33-74 26-78 34 92z"/><path fill=#72cd64 d="M2305 12087l-34 8 27-49 33-7z"/><path fill=#81cc59 d="M2271 12095l-33 5-34-1 26-52 34 3 34-4zM2238 12100l26-50"/><path fill=#8fcb4e d="M2204 12099l-34-12 27-57 33 17z"/><path fill=#abc739 d="M2170 12087l-33-38 26-67 34 48z"/><path fill=#dcbd29 d="M2137 12049l-34-92 26-87 34 112z"/><path fill=#9dc943 d="M2298 12046l-34 4-34-3 27-54 33 6 34-3zM2264 12050l26-51"/><path fill=#abc739 d="M2230 12047l-33-17 26-60 34 23z"/><path fill=#d1bf27 d="M2197 12030l-34-48 27-71 33 59z"/><path fill=#febe3c d="M2163 11982l-34-112 27-96 34 137z"/><path fill=#c5c22a d="M2290 11999l-33-6 26-51 34 9z"/><path fill=#d1bf27 d="M2257 11993l-34-23 27-58 33 30z"/><path fill=#f0ba36 d="M2223 11970l-33-59 26-73 34 74z"/><path fill=#fad62d d="M2190 11911l-34-137 26-103 34 167z"/><path fill=#e6bb2d d="M2283 11942l-33-30 26-47 34 37z"/><path fill=#febe3c d="M2250 11912l-34-74 26-64 34 91z"/><path fill=#f5e924 d="M2216 11838l-34-167 27-101 33 204z"/><path fill=#b9c431 d="M4227 11373l-740 221 27 4 740-221zM4194 11383l26 4M4160 11393l26 4M4126 11403l27 4M4093 11413l26 4M4059 11423l26 4M4025 11433l27 4M3992 11443l26 4M3958 11453l27 4M3924 11463l27 4M3891 11473l26 4M3857 11483l27 4M3824 11493l26 4M3790 11503l26 4M3756 11513l27 4M3723 11523l26 5M3689 11533l26 5M3655 11543l27 5M3622 11554l26 4M3588 11564l26 4M3554 11574l27 4M3521 11584l26 4"/><path fill=#c5c22a d="M3487 11594l-942 281-67 19-67 17 26 3 67-16 68-19 942-281zM3453 11604l27 4M3420 11614l26 4M3386 11624l27 4M3353 11634l26 4M3319 11644l26 4M3285 11654l27 4M3252 11664l26 4M3218 11674l26 4M3184 11684l27 4M3151 11694l26 4M3117 11704l27 4M3083 11714l27 4M3050 11724l26 4M3016 11734l27 4M2983 11744l26 4M2949 11754l26 4M2915 11765l27 4M2882 11775l26 4M2848 11785l26 4M2814 11795l27 4M2781 11805l26 4M2747 11815l26 4M2713 11825l27 4M2680 11835l26 4M2646 11845l27 4M2612 11855l27 4M2579 11865l26 4M2545 11875l27 4M2512 11885l26 4M2478 11894l26 4M2444 11903l27 4"/><path fill=#d1bf27 d="M2411 11911l-34 5-34-1 27 2 33 2 34-5zM2377 11916l26 3"/><path fill=#fec338 d="M2276 11865l-34-91 27-11 34 99z"/><path fill=#f7f51b d="M2242 11774l-33-204 26-27 34 220z"/><path fill=#8fcb4e d="M4220 11387l-1278 382 26 116 1278-383zM4186 11397l27 115M4153 11407l26 115M4119 11417l27 115M4085 11427l27 115M4052 11437l26 115M4018 11447l27 115M3985 11457l26 115M3951 11467l26 116M3917 11477l27 116M3884 11487l26 116M3850 11497l26 116M3816 11507l27 116M3783 11517l26 116M3749 11528l26 115M3715 11538l27 115M3682 11548l26 115M3648 11558l27 115M3614 11568l27 115M3581 11578l26 116M3547 11588l27 116M3514 11598l26 116M3480 11608l26 116M3446 11618l27 116M3413 11628l26 116M3379 11638l26 116M3345 11648l27 116M3312 11658l26 116M3278 11668l27 116M3244 11678l27 116M3211 11688l26 117M3177 11698l27 117M3144 11708l26 117M3110 11718l26 117M3076 11728l27 117M3043 11738l26 117M3009 11748l26 117M2975 11758l27 117"/><path fill=#9dc943 d="M2942 11769l-438 129-67 16-34 5 27 118 34-5 67-17 437-130zM2908 11779l26 116M2874 11789l27 116M2841 11799l26 117M2807 11809l27 117M2773 11819l27 117M2740 11829l26 117M2706 11839l27 117M2673 11849l26 117M2639 11859l26 117M2605 11869l27 117M2572 11879l26 117M2538 11889l26 117M2504 11898l27 117M2471 11907l26 117M2437 11914l27 118"/><path fill=#abc739 d="M2403 11919l-33-2-34-14 27 121 33 13 34 0zM2370 11917l26 120"/><path fill=#c5c22a d="M2336 11903l-33-41 26 124 34 38z"/><path fill=#e6bb2d d="M2303 11862l-34-99 26 133 34 90z"/><path fill=#fad62d d="M2269 11763l-34-220 27 150 33 203z"/><path fill=#19bfb6 d="M4280 11492l-1009 302 26 342 1010-308zM4246 11502l27 337M4213 11512l26 337M4179 11522l27 337M4146 11532l26 337M4112 11542l26 338M4078 11552l27 338M4045 11562l26 338M4011 11572l26 338M3977 11583l27 338M3944 11593l26 338M3910 11603l27 338M3876 11613l27 338M3843 11623l26 339M3809 11633l27 339M3775 11643l27 339M3742 11653l26 339M3708 11663l27 340M3675 11673l26 340M3641 11683l26 340M3607 11694l27 339M3574 11704l26 340M3540 11714l26 340M3506 11724l27 340M3473 11734l26 340M3439 11744l27 341M3405 11754l27 341M3372 11764l26 341M3338 11774l27 341M3305 11784l26 342"/><path fill=#24c1ae d="M3271 11794l-740 221-67 17-34 5-34 0 27 350 33-2 34-7 67-17 740-225zM3237 11805l27 341M3204 11815l26 341M3170 11825l26 342M3136 11835l27 342M3103 11845l26 342M3069 11855l27 342M3035 11865l27 343M3002 11875l26 343M2968 11885l27 343M2934 11895l27 343M2901 11905l26 344M2867 11916l27 343M2834 11926l26 343M2800 11936l26 343M2766 11946l27 344M2733 11956l26 344M2699 11966l26 344M2665 11976l27 344M2632 11986l26 345M2598 11996l27 345M2564 12006l27 345M2531 12015l26 346M2497 12024l27 346M2464 12032l26 346M2430 12037l26 348"/><path fill=#2cc4a7 d="M2396 12037l-33-13 26 356 34 7z"/><path fill=#31c69f d="M2363 12024l-34-38 26 369 34 25z"/><path fill=#4acb84 d="M2329 11986l-34-90 27 393 33 66z"/><path fill=#8fcb4e d="M2295 11896l-33-203 26 447 34 149z"/><path fill=#3e26a8 d="M4307 11828l-1682 513-101 29-68 15-33 2-34-7-34-25-33-66-34-149 27 1316 2018-644zM4273 11839l26 984M4239 11849l27 984M4206 11859l26 985M4172 11869l26 986M4138 11880l27 986M4105 11890l26 986M4071 11900l27 987M4037 11910l27 988M4004 11921l26 988M3970 11931l27 988M3937 11941l26 989M3903 11951l26 990M3869 11962l27 989M3836 11972l26 990M3802 11982l26 991M3768 11992l27 992M3735 12003l26 991M3701 12013l26 992M3667 12023l27 993M3634 12033l26 994M3600 12044l27 993M3566 12054l27 994M3533 12064l26 995M3499 12074l27 995M3466 12085l26 995M3432 12095l26 996M3398 12105l27 997M3365 12115l26 997M3331 12126l26 997M3297 12136l27 998M3264 12146l26 998M3230 12156l27 999M3196 12167l27 999M3163 12177l26 1000M3129 12187l27 1000M3096 12197l26 1001M3062 12208l26 1001M3028 12218l27 1002M2995 12228l26 1002M2961 12238l26 1003M2927 12249l27 1003M2894 12259l26 1003M2860 12269l26 1004M2826 12279l27 1005M2793 12290l26 1005M2759 12300l27 1005M2725 12310l27 1006M2692 12320l26 1007M2658 12331l27 1007M2625 12341l26 1007M2591 12351l26 1008M2557 12361l27 1009M2524 12370l26 1010M2490 12378l26 1013M2456 12385l27 1017M2423 12387l26 1026M2389 12380l27 1043M2355 12355l27 1079M2322 12289l26 1156"/></g><path d="M228.8 1346.4L433.3 1281.2M228.8 1346.4L70.1 1259.4M70.1 1259.4L70.1 1069.7M228.8 1346.4L233.2 1348.8M331.1 1313.8L335.4 1316.2M433.3 1281.2L437.7 1283.6M228.8 1346.4L224.0 1347.9M149.5 1302.9L144.7 1304.4M70.1 1259.4L65.3 1260.9M70.1 1259.4L67.2 1257.8M70.1 1231.7L67.2 1230.1M70.1 1203.9L67.2 1202.3M70.1 1176.2L67.2 1174.6M70.1 1148.4L67.2 1146.8M70.1 1120.7L67.2 1119.1M70.1 1092.9L67.2 1091.3" stroke="#3a3a3a" stroke-width="0.8" fill="none"/><text x="237.4" y="1366.1" font-size="13.4" text-anchor="start">0</text><text x="339.7" y="1333.5" font-size="13.4" text-anchor="start">0.5</text><text x="441.9" y="1300.9" font-size="13.4" text-anchor="start">1</text><text x="216.5" y="1364.2" font-size="13.4" text-anchor="end">0</text><text x="137.2" y="1320.7" font-size="13.4" text-anchor="end">0.5</text><text x="57.8" y="1277.2" font-size="13.4" text-anchor="end">1</text><text x="59.9" y="1261.2" font-size="13.4" text-anchor="end">0</text><text x="59.9" y="1233.4" font-size="13.4" text-anchor="end">0.02</text><text x="59.9" y="1205.7" font-size="13.4" text-anchor="end">0.04</text><text x="59.9" y="1177.9" font-size="13.4" text-anchor="end">0.06</text><text x="59.9" y="1150.2" font-size="13.4" text-anchor="end">0.08</text><text x="59.9" y="1122.4" font-size="13.4" text-anchor="end">0.1</text><text x="59.9" y="1094.7" font-size="13.4" text-anchor="end">0.12</text><text x="324.0" y="1370.0" class="gk" text-anchor="middle">δ</text><text x="144.4" y="1365.6" class="gk" text-anchor="middle">η</text><text transform="translate(17.9 1164.9) rotate(-90)" font-size="14.7" text-anchor="middle">R<tspan font-size="11.7" dy="7">0</tspan></text><linearGradient id="cbg" x1="0" y1="0" x2="0" y2="1"><stop offset="0.0000" stop-color="#f9fb15"/><stop offset="0.0476" stop-color="#f5e924"/><stop offset="0.0952" stop-color="#fad62d"/><stop offset="0.1429" stop-color="#fec338"/><stop offset="0.1905" stop-color="#f0ba36"/><stop offset="0.2381" stop-color="#d1bf27"/><stop offset="0.2857" stop-color="#abc739"/><stop offset="0.3333" stop-color="#81cc59"/><stop offset="0.3810" stop-color="#57cc7a"/><stop offset="0.4286" stop-color="#37c897"/><stop offset="0.4762" stop-color="#24c1ae"/><stop offset="0.5238" stop-color="#02bac3"/><stop offset="0.5714" stop-color="#12b1d6"/><stop offset="0.6190" stop-color="#20a5e3"/><stop offset="0.6667" stop-color="#2797eb"/><stop offset="0.7143" stop-color="#2e87f7"/><stop offset="0.7619" stop-color="#3875fe"/><stop offset="0.8095" stop-color="#4563fd"/><stop offset="0.8571" stop-color="#4852f4"/><stop offset="0.9048" stop-color="#4741e5"/><stop offset="0.9524" stop-color="#4332cb"/><stop offset="1.0000" stop-color="#3e26a8"/></linearGradient><rect x="470.9" y="1003.7" width="20.3" height="342.2" fill="url(#cbg)" stroke="#3a3a3a" stroke-width="0.8"/><text x="496.7" y="1350.7" font-size="13.4" text-anchor="start">0</text><text x="496.7" y="1300.9" font-size="13.4" text-anchor="start">0.02</text><text x="496.7" y="1251.1" font-size="13.4" text-anchor="start">0.04</text><text x="496.7" y="1201.3" font-size="13.4" text-anchor="start">0.06</text><text x="496.7" y="1151.5" font-size="13.4" text-anchor="start">0.08</text><text x="496.7" y="1101.6" font-size="13.4" text-anchor="start">0.1</text><text x="496.7" y="1051.8" font-size="13.4" text-anchor="start">0.12</text><path d="M491.2 1345.9h-3.5M491.2 1296.1h-3.5M491.2 1246.3h-3.5M491.2 1196.5h-3.5M491.2 1146.7h-3.5M491.2 1096.8h-3.5M491.2 1047.0h-3.5" stroke="#3a3a3a" stroke-width="0.8" fill="none"/>
<path d="M1461.0 1346.3L1315.7 1332.3M1565.6 1341.8L1420.3 1327.8M1670.2 1337.2L1524.9 1323.2M1461.0 1346.3L1670.2 1337.2M1388.3 1339.3L1597.5 1330.2M1315.7 1332.3L1524.9 1323.2M1315.7 1332.3L1315.7 1011.8M1420.3 1327.8L1420.3 1007.2M1524.9 1323.2L1524.9 1002.7M1315.7 1332.3L1524.9 1323.2M1315.7 1300.2L1524.9 1291.2M1315.7 1268.2L1524.9 1259.1M1315.7 1236.1L1524.9 1227.0M1315.7 1204.1L1524.9 1195.0M1315.7 1172.0L1524.9 1163.0M1315.7 1140.0L1524.9 1130.9M1315.7 1107.9L1524.9 1098.8M1315.7 1075.9L1524.9 1066.8M1315.7 1043.8L1524.9 1034.8M1315.7 1011.8L1524.9 1002.7M1670.2 1337.2L1670.2 1016.7M1597.5 1330.2L1597.5 1009.7M1524.9 1323.2L1524.9 1002.7M1524.9 1323.2L1670.2 1337.2M1524.9 1291.2L1670.2 1305.2M1524.9 1259.1L1670.2 1273.1M1524.9 1227.0L1670.2 1241.0M1524.9 1195.0L1670.2 1209.0M1524.9 1163.0L1670.2 1177.0M1524.9 1130.9L1670.2 1144.9M1524.9 1098.8L1670.2 1112.8M1524.9 1066.8L1670.2 1080.8M1524.9 1034.8L1670.2 1048.8M1524.9 1002.7L1670.2 1016.7" stroke="#e1e1e1" stroke-width="1.1" fill="none"/><g transform="scale(0.1)" stroke="#000" stroke-width="6" stroke-linejoin="round" fill="none"><g stroke-width="6"><path fill=#463cde stroke=#463cde d="M16193 13011l49-24 24-14-35 2-24 14-48 24zM16159 13013l48-24 24-14-35 1-24 14-48 24zM16124 13014l48-24 24-14-34 2-25 14-48 24zM16089 13016l48-24 25-14-35 1-25 14-48 24zM16054 13017l48-24 25-14-35 2-24 14-49 24zM16019 13019l49-24 24-14-35 1-24 14-49 24zM15984 13020l49-24 24-14-35 2-24 14-49 24zM15949 13022l49-24 24-14-35 1-24 14-48 24zM15915 13023l48-24 24-14-35 2-24 14-48 24zM15880 13025l48-24 24-14-35 1-24 15-48 23zM15845 13026l48-23 24-15-34 2-25 14-48 24zM15810 13028l48-24 25-14-35 2-25 14-48 23zM15775 13029l48-23 25-14-35 1-24 14-49 24zM15740 13031l49-24 24-14-35 2-24 14-49 23zM15705 13032l49-23 24-14-35 1-24 14-49 24zM15670 13034l49-24 24-14-35 2-24 14-48 23zM15636 13035l48-23 24-14-35 1-24 14-48 24zM15601 13037l48-24 24-14-34 1-25 14-48 24zM15566 13038l48-24 25-14-35 2-25 14-48 23zM15531 13039l48-23 25-14-35 1-24 14-49 24zM15496 13041l49-24 24-14-35 1-24 14-49 24zM15461 13042l49-24 24-14-35 2-24 14-49 23zM15426 13043l49-23 24-14-35 1-24 14-48 24zM15392 13045l48-24 24-14-35 1-24 14-48 24zM15357 13046l48-24 24-14-35 2-24 14-48 23zM15322 13047l48-23 24-14-34 1-25 14-48 24zM15287 13049l48-24 25-14-35 1-25 14-48 24zM15252 13050l48-24 25-14-35 1-24 14-49 24zM15217 13051l49-24 24-14-35 1-24 15-49 23zM15182 13052l49-23 24-15-35 2-24 14-49 24zM15147 13054l49-24 24-14-35 1-24 14-48 24zM15113 13055l48-24 24-14-35 1-24 14-48 24zM15078 13056l48-24 24-14-34 1-25 14-48 24zM15043 13057l48-24 25-14-35 1-25 14-48 24zM15008 13058l48-24 25-14-35 1-24 14-49 24zM14973 13059l49-24 24-14-35 1-24 14-49 25zM14938 13061l49-25 24-14-35 1-24 14-49 25zM14903 13062l49-25 24-14-35 1-24 14-48 25zM14869 13063l48-25 24-14-35 1-24 14-48 24zM14834 13063l48-24 24-14-35 1-24 14-48 24zM14799 13064l48-24 24-14-34 0-25 15-48 24zM14764 13065l48-24 25-15-35 1-25 14-48 25zM14729 13066l48-25 25-14-35 0-24 15-49 25zM14670 13077l48-22 49-28-35 1-48 27-49 22zM14635 13077l49-22 24-13-35 1-24 13-49 22zM14600 13078l49-22 24-13-35 0-24 13-49 22zM14565 13078l49-22 24-13-35 0-24 13-49 22zM14530 13078l49-22 24-13-35-1-24 14-48 22zM14496 13078l48-22 24-14-35 0-24 13-48 23zM14461 13078l48-23 24-13-34-2-25 14-48 23zM14402 13087l48-21 49-26-35-1-49 26-48 20zM14367 13085l48-20 24-13-34-2-25 12-48 21zM14332 13083l48-21 25-12-35-4-24 13-49 21zM14273 13090l48-20 49-24-35-5-49 25-48 20zM14238 13086l73-32-35-7-24 12-49 20zM14179 13088l73-29-35-12-73 31zM14096 13094l48-16 48-20-34-19-49 21-48 18zM14037 13085l48-16 48-19-34-7-49 19-48 17zM13977 13086l49-15 48-18-35-9-48 18-48 16z"/><path fill=#4741e5 stroke=#4741e5 d="M16266 12973l49-33-35 1-49 34zM16231 12975l49-34-35 2-49 33zM16196 12976l49-33-35 1-48 34zM16162 12978l48-34-35 2-48 33zM16127 12979l48-33-35 1-48 34zM16092 12981l48-34-35 2-48 33zM16057 12982l48-33-35 1-48 34zM16022 12984l48-34-34 2-49 33zM15987 12985l49-33-35 1-49 34zM15952 12987l49-34-35 2-49 33zM15917 12988l49-33-35 1-48 34zM15883 12990l48-34-35 2-48 34zM15848 12992l48-34-35 1-48 34zM15813 12993l48-34-35 2-48 34zM15778 12995l48-34-34 1-49 34zM15743 12996l49-34-35 2-49 34zM15708 12998l49-34-35 1-49 34zM15673 12999l49-34-35 2-48 33zM15639 13000l48-33-35 1-48 34zM15604 13002l48-34-35 1-48 34zM15569 13003l48-34-35 2-48 33zM15534 13004l48-33-35 1-48 34zM15499 13006l48-34-34 1-49 34zM15464 13007l49-34-35 1-49 34zM15429 13008l49-34-35 2-49 34zM15394 13010l49-34-35 1-48 34zM15360 13011l48-34-35 1-48 34zM15325 13012l48-34-35 1-48 34zM15290 13013l48-34-35 1-48 34zM15255 13014l48-34-34 2-49 34zM15220 13016l49-34-35 1-49 34zM15185 13017l49-34-35 1-49 34zM15150 13018l49-34-35 1-48 34zM15116 13019l48-34-35 1-48 34zM15081 13020l48-34-35 1-48 34zM15046 13021l48-34-35 1-48 34zM15011 13022l48-34-35 1-48 34zM14976 13023l48-34-34 1-49 34zM14941 13024l49-34-35 0-49 35zM14906 13025l49-35-35 1-49 35zM14871 13026l49-35-35 1-48 34zM14837 13026l48-34-35 0-48 35zM14802 13027l48-35-35 1-48 34zM14767 13027l48-34-35 0-48 35zM14708 13042l48-31 24-18-34 0-25 19-48 31zM14673 13043l48-31 25-19-35 0-25 19-48 31zM14638 13043l48-31 25-19-35-1-24 19-49 32zM14603 13043l49-32 24-19-35 0-24 19-49 31zM14568 13042l49-31-35-1-49 32zM14533 13042l49-32-35-2-48 32zM14499 13040l48-32-35-2-48 33zM14439 13052l49-29 24-17-35-3-24 18-48 29zM14405 13050l48-29 24-18-35-4-24 18-48 29zM14370 13046l48-29-35-6-48 30zM14311 13054l48-27 24-16-35-9-24 17-48 28zM14252 13059l48-26 24-14-35-13-24 15-48 26zM14192 13058l49-23 24-14-35-22-24 15-48 25zM14133 13050l49-23 24-13-35-9-24 14-48 24zM14074 13053l49-22 24-12-35-10-24 12-49 23z"/><path fill=#4747eb stroke=#4747eb d="M16315 12940l24-21 24-23-35 1-24 24-24 20zM16280 12941l24-20 24-24-35 2-24 23-24 21zM16245 12943l24-21 24-23-35 1-24 24-24 20zM16210 12944l24-20 24-24-34 2-25 23-24 21zM16175 12946l24-21 25-23-35 1-25 24-24 20zM16140 12947l24-20 25-24-35 2-24 23-25 21zM16105 12949l25-21 24-23-35 1-24 24-25 20zM16070 12950l25-20 24-24-35 2-24 23-24 21zM16036 12952l24-21 24-23-35 1-24 24-24 20zM16001 12953l24-20 24-24-35 2-24 23-24 21zM15966 12955l24-21 24-23-35 1-24 24-24 20zM15931 12956l24-20 24-24-34 2-25 23-24 21zM15896 12958l24-21 25-23-35 1-25 24-24 20zM15861 12959l24-20 25-24-35 2-24 23-25 21zM15826 12961l25-21 24-23-35 1-24 24-24 20zM15792 12962l24-20 24-24-35 2-24 23-24 21zM15757 12964l24-21 24-23-35 1-24 24-24 20zM15722 12965l24-20 24-24-35 2-24 23-24 21zM15687 12967l24-21 24-23-35 1-24 23-24 21zM15652 12968l24-21 24-23-34 1-25 24-24 20zM15617 12969l24-20 25-24-35 2-24 23-25 21zM15582 12971l25-21 24-23-35 1-24 23-25 21zM15547 12972l25-21 24-23-35 1-24 24-24 20zM15513 12973l24-20 24-24-35 1-24 24-24 20zM15478 12974l24-20 24-24-35 1-24 24-24 21zM15443 12976l24-21 24-24-35 2-24 23-24 21zM15408 12977l24-21 24-23-34 1-25 23-24 21zM15373 12978l24-21 25-23-35 1-25 24-24 20zM15338 12979l24-20 25-24-35 1-24 24-25 20zM15303 12980l25-20 24-24-35 1-24 24-24 21zM15269 12982l24-21 24-24-35 1-24 24-24 21zM15234 12983l24-21 24-24-35 1-24 24-24 21zM15199 12984l24-21 24-24-35 1-24 24-24 21zM15164 12985l24-21 24-24-34 1-25 24-24 21zM15129 12986l24-21 25-24-35 1-25 24-24 21zM15094 12987l24-21 25-24-35 1-24 24-25 21zM15059 12988l25-21 24-24-35 1-24 24-25 21zM15024 12989l25-21 24-24-35 1-24 24-24 21zM14990 12990l24-21 24-24-35 0-24 24-24 21zM14955 12990l24-21 24-24-35 1-24 24-24 21zM14920 12991l24-21 24-24-35 0-24 25-24 21zM14885 12992l24-21 24-25-34 1-25 24-24 21zM14850 12992l24-21 25-24-35 0-25 24-24 22zM14815 12993l24-22 25-24-35 0-24 25-25 21zM14780 12993l25-21 24-25-35 0-24 25-24 21zM14746 12993l24-21 24-25-35 0-24 24-24 22zM14711 12993l24-22-35 0-24 21zM14676 12992l24-21-35-1-24 22zM14617 13011l24-19 24-22-35-1-24 22-24 19zM14582 13010l24-19 24-22-35-2-24 22-24 19zM14547 13008l24-19 24-22-34-2-25 22-24 19zM14512 13006l24-19 25-22-35-4-25 23-24 19zM14477 13003l24-19 25-23-35-5-24 23-25 20zM14418 13017l49-38-35-7-49 39zM14383 13011l49-39-35-9-49 39zM14324 13019l49-35-35-15-49 37zM14265 13021l49-33-35-24-49 35zM14206 13014l48-31 25-19-35-10-24 19-49 32zM14147 13019l48-29 25-17-35-12-24 18-49 30z"/><path fill=#484df0 stroke=#484df0 d="M16363 12896l24-27 24-32-34 1-25 32-24 27zM16328 12897l24-27 25-32-35 2-25 32-24 27zM16293 12899l24-27 25-32-35 1-24 32-25 27zM16258 12900l25-27 24-32-35 2-24 32-24 27zM16224 12902l24-27 24-32-35 1-24 32-24 27zM16189 12903l24-27 24-32-35 2-24 32-24 27zM16154 12905l24-27 24-32-35 1-24 32-24 27zM16119 12906l24-27 24-32-35 2-24 32-24 27zM16084 12908l24-27 24-32-34 2-25 31-24 27zM16049 12909l24-27 25-31-35 1-24 32-25 27zM16014 12911l25-27 24-32-35 2-24 31-25 27zM15979 12912l25-27 24-31-35 1-24 32-24 27zM15945 12914l24-27 24-32-35 2-24 31-24 27zM15910 12915l24-27 24-31-35 1-24 32-24 27zM15875 12917l24-27 24-32-35 2-24 31-24 27zM15840 12918l24-27 24-31-34 1-25 32-24 27zM15805 12920l24-27 25-32-35 2-25 31-24 27zM15770 12921l24-27 25-31-35 1-24 32-25 27zM15735 12923l25-27 24-32-35 1-24 32-25 27zM15700 12924l25-27 24-32-35 1-24 32-24 27zM15666 12925l24-27 24-32-35 2-24 31-24 28zM15631 12927l24-28 24-31-35 1-24 32-24 27zM15596 12928l24-27 24-32-35 1-24 32-24 27zM15561 12929l24-27 24-32-34 1-25 32-24 27zM15526 12930l24-27 25-32-35 1-24 32-25 27zM15491 12931l25-27 24-32-35 1-24 32-25 28zM15456 12933l25-28 24-32-35 2-24 32-24 27zM15422 12934l24-27 24-32-35 1-24 32-24 27zM15387 12935l24-27-35 1-24 27zM15352 12936l24-27-35 1-24 27zM15317 12937l24-27-35 1-24 27zM15282 12938l24-27-35 1-24 27zM15247 12939l24-27-34 1-25 27zM15212 12940l25-27-35 1-24 27zM15178 12941l24-27-35 1-24 27zM15143 12942l24-27-35 1-24 27zM15108 12943l24-27-35 0-24 28zM15073 12944l24-28-35 1-24 28zM15038 12945l24-28-35 1-24 27zM15003 12945l24-27-34 0-25 28zM14968 12946l25-28-35 1-25 27zM14933 12946l25-27-35 0-24 28zM14899 12947l24-28-35 0-24 28zM14864 12947l24-28-35 0-24 28zM14829 12947l24-28-35 0-24 28zM14794 12947l24-28-35-1-24 29zM14735 12971l24-24 24-29-35 0-24 28-24 25zM14700 12971l24-25 24-28-34-1-25 28-24 25zM14665 12970l24-25 25-28-35-2-25 29-24 25zM14630 12969l24-25 25-29-35-2-24 29-25 25zM14595 12967l25-25 24-29-35-3-24 29-24 26zM14561 12965l24-26-35-4-24 26zM14526 12961l24-26-35-5-24 26zM14467 12979l24-23 24-26-35-8-24 27-24 23zM14432 12972l24-23-35-10-24 24zM14373 12984l24-21 24-24-35-17-24 25-24 22zM14314 12988l48-41-35-26-48 43zM14279 12964l24-20-35-11-24 21zM14220 12973l48-40-35-13-48 41z"/><path fill=#4852f4 stroke=#4852f4 d="M16411 12837l25-38-35 2-24 37zM16377 12838l24-37-35 1-24 38zM16342 12840l24-38-35 2-24 37zM16307 12841l24-37-35 1-24 38zM16272 12843l24-38-35 2-24 37zM16237 12844l24-37-35 2-24 37zM16202 12846l24-37-34 1-25 37zM16167 12847l25-37-35 2-25 37zM16132 12849l25-37-35 1-24 38zM16098 12851l24-38-35 2-24 37zM16063 12852l24-37-35 1-24 38zM16028 12854l24-38-35 2-24 37zM15993 12855l24-37-35 1-24 38zM15958 12857l24-38-35 2-24 37zM15923 12858l24-37-34 1-25 38zM15888 12860l25-38-35 2-24 37zM15854 12861l24-37-35 1-24 38zM15819 12863l24-38-35 1-24 38zM15784 12864l24-38-35 2-24 37zM15749 12865l24-37-35 1-24 37zM15714 12866l24-37-35 1-24 38zM15679 12868l24-38-34 1-25 38zM15644 12869l25-38-35 1-25 38zM15609 12870l25-38-35 2-24 37zM15575 12871l24-37-35 1-24 37zM15540 12872l24-37-35 1-24 37zM15505 12873l24-37-35 1-24 38zM15470 12875l24-38-35 1-24 38zM15411 12908l24-32 24-38-35 1-24 38-24 32zM15376 12909l24-32 24-38-34 1-25 38-24 32zM15341 12910l24-32 25-38-35 1-24 38-25 32zM15306 12911l25-32 24-38-35 1-24 38-25 32zM15271 12912l25-32 24-38-35 1-24 38-24 32zM15237 12913l24-32 24-38-35 1-24 38-24 32zM15202 12914l24-32 24-38-35 0-24 38-24 33zM15167 12915l24-33 24-38-35 1-24 38-24 33zM15132 12916l24-33 24-38-34 1-25 38-24 32zM15097 12916l24-32 25-38-35 0-25 39-24 32zM15062 12917l24-32-34 0-25 33zM15027 12918l25-33-35 1-24 32zM14993 12918l24-32-35 0-24 33zM14958 12919l24-33-35 0-24 33zM14923 12919l24-33-35 0-24 33zM14888 12919l24-33-35 0-24 33zM14853 12919l24-33-35 0-24 33zM14818 12919l24-33-34-1-25 33zM14783 12918l25-33-35-1-25 34zM14748 12918l25-34-35-1-24 34zM14714 12917l24-34-35-2-24 34zM14679 12915l24-34-35-2-24 34zM14644 12913l24-34-35-4-24 35zM14585 12939l24-29 24-35-35-4-24 35-24 29zM14550 12935l24-29-35-6-24 30zM14515 12930l24-30-35-8-24 30zM14456 12949l24-27 24-30-34-12-25 31-24 28zM14421 12939l24-28-35-17-24 28zM14362 12947l24-25-35-28-24 27zM14303 12944l24-23 24-27-35-12-24 27-24 24zM14268 12933l24-24-35-14-24 25z"/><path fill=#4758f8 stroke=#4758f8 d="M16436 12799l24-42-35 1-24 43zM16401 12801l24-43-35 2-24 42zM16366 12802l24-42-35 1-24 43zM16331 12804l24-43-35 2-24 42zM16296 12805l24-42-34 1-25 43zM16261 12807l25-43-35 2-25 43zM16226 12809l25-43-35 1-24 43zM16192 12810l24-43-35 2-24 43zM16157 12812l24-43-35 1-24 43zM16122 12813l24-43-35 2-24 43zM16087 12815l24-43-35 1-24 43zM16052 12816l24-43-35 2-24 43zM16017 12818l24-43-34 2-25 42zM15982 12819l25-42-35 1-25 43zM15947 12821l25-43-35 2-24 42zM15913 12822l24-42-35 1-24 43zM15878 12824l24-43-35 1-24 43zM15843 12825l24-43-35 2-24 42zM15808 12826l24-42-35 1-24 43zM15773 12828l24-43-35 1-24 43zM15738 12829l24-43-34 1-25 43zM15703 12830l25-43-35 1-24 43zM15669 12831l24-43-35 2-24 42zM15634 12832l24-42-35 1-24 43zM15599 12834l24-43-35 1-24 43zM15564 12835l24-43-35 1-24 43zM15529 12836l24-43-35 1-24 43zM15494 12837l24-43-34 1-25 43zM15459 12838l25-43-35 1-25 43zM15424 12839l25-43-35 1-24 43zM15390 12840l24-43-35 1-24 43zM15355 12841l24-43-35 1-24 43zM15320 12842l24-43-35 1-24 43zM15285 12843l24-43-35 0-24 44zM15250 12844l24-44-34 1-25 43zM15215 12844l25-43-35 1-25 43zM15180 12845l25-43-35 0-24 44zM15146 12846l24-44-35 1-24 43zM15086 12885l25-39 24-43-35 0-24 44-24 38zM15052 12885l24-38 24-44-35 1-24 43-24 39zM15017 12886l24-39-35 1-24 38zM14982 12886l24-38-35 0-24 38zM14947 12886l24-38-35 0-24 38zM14912 12886l24-38-35-1-24 39zM14877 12886l24-39-34 0-25 39zM14842 12886l25-39-35-1-24 39zM14808 12885l24-39-35-1-24 39zM14773 12884l24-39-35-1-24 39zM14738 12883l24-39-35-2-24 39zM14703 12881l24-39-35-3-24 40zM14668 12879l24-40-35-4-24 40zM14633 12875l24-40-34-5-25 41zM14574 12906l24-35 25-41-35-7-25 42-24 35zM14539 12900l24-35-34-9-25 36zM14504 12892l25-36-35-13-24 37zM14445 12911l25-31-35-19-25 33zM14386 12922l24-28 25-33-35-32-24 35-25 30zM14351 12894l25-30-35-13-25 31zM14292 12909l24-27 25-31-35-17-24 33-25 28z"/><path fill=#465efb stroke=#465efb d="M16460 12757l24-48-35 2-24 47zM16425 12758l24-47-35 1-24 48zM16390 12760l24-48-35 2-24 47zM16355 12761l24-47-34 1-25 48zM16320 12763l25-48-35 2-24 47zM16286 12764l24-47-35 1-24 48zM16251 12766l24-48-35 2-24 47zM16216 12767l24-47-35 1-24 48zM16181 12769l24-48-35 2-24 47zM16146 12770l24-47-35 2-24 47zM16111 12772l24-47-34 1-25 47zM16076 12773l25-47-35 2-25 47zM16041 12775l25-47-35 1-24 48zM16007 12777l24-48-35 2-24 47zM15972 12778l24-47-35 1-24 48zM15937 12780l24-48-35 2-24 47zM15902 12781l24-47-35 1-24 47zM15867 12782l24-47-35 1-24 48zM15832 12784l24-48-34 1-25 48zM15797 12785l25-48-35 2-25 47zM15762 12786l25-47-35 1-24 47zM15728 12787l24-47-35 1-24 47zM15693 12788l24-47-35 1-24 48zM15658 12790l24-48-35 1-24 48zM15623 12791l24-48-35 1-24 48zM15588 12792l24-48-34 1-25 48zM15553 12793l25-48-35 1-25 48zM15518 12794l25-48-35 1-24 48zM15484 12795l24-48-35 1-24 48zM15449 12796l24-48-35 1-24 48zM15414 12797l24-48-35 1-24 48zM15379 12798l24-48-35 1-24 48zM15344 12799l24-48-35 1-24 48zM15309 12800l24-48-34 0-25 48zM15274 12800l25-48-35 1-24 48zM15240 12801l24-48-35 1-24 48zM15205 12802l24-48-35 0-24 48zM15041 12847l24-43-35 0-24 44zM15006 12848l24-44-35 0-24 44zM14971 12848l24-44-34 0-25 44zM14936 12848l25-44-35-1-25 44zM14901 12847l25-44-35 0-24 44zM14867 12847l24-44-35-1-24 44zM14832 12846l24-44-35-2-24 45zM14797 12845l24-45-35-1-24 45zM14762 12844l24-45-35-3-24 46zM14727 12842l24-46-35-3-24 46zM14692 12839l24-46-34-4-25 46zM14657 12835l25-46-35-6-24 47zM14563 12865l25-42-35-10-24 43zM14529 12856l24-43-35-14-24 44zM14470 12880l24-37-35-21-24 39zM14435 12861l24-39-35-34-24 41zM14376 12864l24-35-35-14-24 36zM14341 12851l24-36-35-18-24 37z"/><path fill=#4563fd stroke=#4563fd d="M16484 12709l24-55-35 1-24 56zM16449 12711l24-56-34 2-25 55zM16414 12712l25-55-35 1-25 56zM16379 12714l25-56-35 2-24 55zM16345 12715l24-55-35 1-24 56zM16310 12717l24-56-35 2-24 55zM16275 12718l24-55-35 1-24 56zM16240 12720l24-56-35 2-24 55zM16205 12721l24-55-35 1-24 56zM16170 12723l24-56-34 2-25 56zM16135 12725l25-56-35 1-24 56zM16101 12726l24-56-35 2-24 56zM16066 12728l24-56-35 1-24 56zM16031 12729l24-56-35 2-24 56zM15996 12731l24-56-35 1-24 56zM15961 12732l24-56-35 2-24 56zM15926 12734l24-56-34 1-25 56zM15891 12735l25-56-35 1-25 56zM15170 12802l24-48-35 0-24 49zM15135 12803l24-49-35 1-24 48zM15100 12803l24-48-35 0-24 49zM15065 12804l24-49-34 0-25 49zM15030 12804l25-49-35 0-25 49zM14995 12804l25-49-35 0-24 49zM14961 12804l24-49-35-1-24 49zM14926 12803l24-49-35-1-24 50zM14891 12803l24-50-35-1-24 50zM14856 12802l24-50-35-1-24 49zM14821 12800l24-49-35-2-24 50zM14786 12799l24-50-34-3-25 50zM14751 12796l25-50-35-4-25 51zM14716 12793l25-51-35-4-24 51zM14682 12789l24-51-35-6-24 51zM14623 12830l24-47-35-7-24 47zM14588 12823l24-47-35-11-24 48zM14553 12813l24-48-35-15-24 49zM14494 12843l24-44-35-22-24 45zM14459 12822l24-45-35-37-24 48zM14400 12829l24-41-35-15-24 42zM14365 12815l24-42-35-19-24 43z"/><path fill=#3e6fff stroke=#3e6fff d="M16508 12654l24-71-34 2-25 70zM16473 12655l25-70-35 1-24 71zM16439 12657l24-71-35 2-24 70zM16404 12658l24-70-35 1-24 71zM16369 12660l24-71-35 2-24 70zM16334 12661l24-70-35 1-24 71zM16299 12663l24-71-35 2-24 70zM16264 12664l24-70-34 2-25 70zM16229 12666l25-70-35 1-25 70zM16194 12667l25-70-35 2-24 70zM16160 12669l24-70-35 1-24 70zM16125 12670l24-70-35 2-24 70zM16090 12672l24-70-35 1-24 70zM16055 12673l24-70-35 2-24 70zM16020 12675l24-70-35 1-24 70zM15985 12676l24-70-34 2-25 70zM15950 12678l25-70-35 1-24 70zM15916 12679l24-70-35 1-24 70zM15881 12680l24-70-35 1-24 71zM15846 12682l24-71-35 1-24 71zM15811 12683l24-71-35 1-24 71zM15776 12684l24-71-35 2-24 70zM15741 12685l24-70-34 1-25 70zM15706 12686l25-70-35 1-25 70zM15671 12687l25-70-35 1-24 70zM15637 12688l24-70-35 1-24 70zM15602 12689l24-70-35 0-24 71zM15567 12690l24-71-35 1-24 71zM15532 12691l24-71-35 1-24 71zM15497 12692l24-71-35 1-24 71zM15462 12693l24-71-34 1-25 71zM15427 12694l25-71-35 0-24 71zM15393 12694l24-71-35 1-24 71zM15358 12695l24-71-35 1-24 71zM15323 12696l24-71-35 0-24 71zM15288 12696l24-71-35 0-24 72zM15253 12697l24-72-35 1-24 71zM15218 12697l24-71-34 0-25 72zM15183 12698l25-72-35 0-25 72zM15148 12698l25-72-35 0-24 72zM15114 12698l24-72-35 0-24 72zM15079 12698l24-72-35-1-24 72zM14741 12742l24-59-35-6-24 61zM14706 12738l24-61-35-6-24 61zM14671 12732l24-61-35-10-24 62zM14636 12723l24-62-35-13-24 64zM14542 12750l24-55-34-26-25 57zM14483 12777l24-51-35-41-24 55zM14448 12740l24-55-34-18-25 56zM14413 12723l25-56-35-22-25 58z"/><path fill=#327cfc stroke=#327cfc d="M16532 12583l25-98-35 1-24 99zM16498 12585l24-99-35 2-24 98zM16463 12586l24-98-35 1-24 99zM16428 12588l24-99-35 2-24 98zM16393 12589l24-98-35 1-24 99zM16358 12591l24-99-34 2-25 98zM16323 12592l25-98-35 1-25 99zM16288 12594l25-99-35 2-24 99zM16254 12596l24-99-35 1-24 99zM16219 12597l24-99-35 2-24 99zM16184 12599l24-99-35 1-24 99zM16149 12600l24-99-35 2-24 99zM16114 12602l24-99-35 1-24 99zM16079 12603l24-99-34 2-25 99zM16044 12605l25-99-35 1-25 99zM16009 12606l25-99-35 2-24 99zM15975 12608l24-99-35 1-24 99zM15940 12609l24-99-35 1-24 99zM15905 12610l24-99-35 1-24 99zM15870 12611l24-99-35 2-24 98zM15835 12612l24-98-35 1-24 98zM15800 12613l24-98-34 1-25 99zM15765 12615l25-99-35 1-24 99zM15731 12616l24-99-35 0-24 100zM15696 12617l24-100-35 1-24 100zM15661 12618l24-100-35 1-24 100zM15626 12619l24-100-35 1-24 99zM15591 12619l24-99-35 1-24 99zM15556 12620l24-99-34 1-25 99zM15521 12621l25-99-35 0-25 100zM15486 12622l25-100-35 1-24 100zM15452 12623l24-100-35 1-24 99zM15417 12623l24-99-35 0-24 100zM15382 12624l24-100-35 1-24 100zM15347 12625l24-100-35 0-24 100zM15312 12625l24-100-34 0-25 100zM15277 12625l25-100-35 0-25 101zM14695 12671l24-77-34-10-25 77zM14660 12661l25-77-35-15-25 79z"/><path fill=#20a5e3 stroke=#20a5e3 d="M16581 12344l24-224-35 2-24 224z"/><path fill=#2d8cf3 stroke=#2d8cf3 d="M16487 12488l24-140-35 1-24 140zM16034 12507l24-140-35 2-24 140zM14650 12569l24-111-35-23-24 114z"/><path fill=#4269fe stroke=#4269fe d="M15856 12736l25-56-35 2-24 55zM15822 12737l24-55-35 1-24 56zM15787 12739l24-56-35 1-24 56zM15752 12740l24-56-35 1-24 56zM15717 12741l24-56-35 1-24 56zM15682 12742l24-56-35 1-24 56zM15647 12743l24-56-34 1-25 56zM15612 12744l25-56-35 1-24 56zM15578 12745l24-56-35 1-24 56zM15543 12746l24-56-35 1-24 56zM15508 12747l24-56-35 1-24 56zM15473 12748l24-56-35 1-24 56zM15438 12749l24-56-35 1-24 56zM15403 12750l24-56-34 0-25 57zM15368 12751l25-57-35 1-25 57zM15333 12752l25-57-35 1-24 56zM15299 12752l24-56-35 0-24 57zM15264 12753l24-57-35 1-24 57zM15229 12754l24-57-35 0-24 57zM15194 12754l24-57-35 1-24 56zM15159 12754l24-56-35 0-24 57zM15124 12755l24-57-34 0-25 57zM15089 12755l25-57-35 0-24 57zM15055 12755l24-57-35-1-24 58zM15020 12755l24-58-35 0-24 58zM14985 12755l24-58-35-1-24 58zM14950 12754l24-58-35-1-24 58zM14915 12753l24-58-35-1-24 58zM14880 12752l24-58-34-2-25 59zM14845 12751l25-59-35-2-25 59zM14810 12749l25-59-35-3-24 59zM14776 12746l24-59-35-4-24 59zM14647 12783l24-51-35-9-24 53zM14612 12776l24-53-35-11-24 53zM14577 12765l24-53-35-17-24 55zM14518 12799l24-49-35-24-24 51zM14424 12788l24-48-35-17-24 50zM14389 12773l24-50-35-20-24 51z"/><path fill=#2f81fa stroke=#2f81fa d="M15242 12626l25-101-35 0-24 101zM15208 12626l24-101-35 0-24 101zM15173 12626l24-101-35 0-24 101zM15138 12626l24-101-35-1-24 102zM15103 12626l24-102-35 0-24 101zM15068 12625l24-101-35-1-24 102zM15033 12625l24-102-34-1-25 102zM14998 12624l25-102-35-2-25 102zM14963 12622l25-102-35-2-24 103zM14929 12621l24-103-35-3-24 104zM14894 12619l24-104-35-3-24 104zM14859 12616l24-104-35-4-24 104zM14824 12612l24-104-35-6-24 106zM14625 12648l25-79-35-20-24 81zM14591 12630l24-81-35-32-24 84zM14556 12601l24-84-35-2-24 85zM14521 12600l24-85-35 2-24 85z"/><path fill=#4537d5 stroke=#4537d5 d="M14844 13073l25-10-35 0-25 11zM14809 13074l25-11-35 1-24 11zM14775 13075l24-11-35 1-24 10zM14740 13075l24-10-35 1-24 10zM14705 13076l24-10-35 1-24 10zM14541 13088l24-10-35 0-24 10zM14506 13088l24-10-34 0-25 10zM14471 13088l25-10-35 0-24 9zM14412 13096l49-18-35-1-49 18zM14377 13095l25-8-35-2-24 9zM14318 13102l49-17-35-2-48 18zM14259 13108l73-25-35-3-73 26zM14176 13119l48-13 49-16-35-4-48 16-49 13zM14117 13121l73-19 48-16-35-7-48 17-73 20zM14058 13121l72-18 49-15-35-10-48 16-73 19zM13975 13123l72-16 49-13-35-16-49 14-72 17zM13915 13114l73-16 49-13-35-6-49 13-72 17zM13832 13118l73-14 72-18-34-8-73 19-73 14z"/><path fill=#3875fe stroke=#3875fe d="M15044 12697l24-72-35 0-24 72zM15009 12697l24-72-35-1-24 72zM14974 12696l24-72-35-2-24 73zM14939 12695l24-73-34-1-25 73zM14904 12694l25-73-35-2-24 73zM14870 12692l24-73-35-3-24 74zM14835 12690l24-74-35-4-24 75zM14800 12687l24-75-35-4-24 75zM14765 12683l24-75-35-6-24 75zM14730 12677l24-75-35-8-24 77zM14601 12712l24-64-34-18-25 65zM14566 12695l25-65-35-29-24 68zM14507 12726l25-57 24-68-35-1-24 24-25 61zM14472 12685l25-61 24-24-35 2-24 3-24 62z"/><path fill=#2e87f7 stroke=#2e87f7 d="M14789 12608l24-106-34-7-25 107zM14754 12602l25-107-35-9-25 108zM14719 12594l25-108-35-12-24 110zM14685 12584l24-110-35-16-24 111z"/><path fill=#4332cb stroke=#4332cb d="M14093 13127l24-6-35-5-24 5zM13913 13146l72-11 73-14-35-8-73 15-72 11zM13781 13150l97-11 97-16-35-14-97 18-97 12zM13808 13122l24-4-35-7-24 5z"/><path fill=#2b91ef stroke=#2b91ef d="M14615 12549l24-114-35-36-24 118zM14438 12667l24-62-35-204-24 244z"/><path fill=#422ec0 stroke=#422ec0 d="M13660 13159l121-9-35-11-121 10z"/><path fill=#18addb stroke=#18addb d="M14569 12362l25-202-35-42-25 245z"/></g><path d="M16570 12122l35-2M14559 12118l35 42M16023 12369l35-2M16476 12349l35-1M16546 12346l35-2M14534 12363l35-1M14604 12399l35 36 35 23 35 16 35 12 35 9 69 13 70 7 105 7 104 2 140 1 348-5 349-10 593-25M14510 12517l35-2 35 2 35 32 35 20 35 15 34 10 35 8 35 6 70 8 139 8 105 2 139 0 349-7 349-10 592-26M14486 12602l35-2 35 1 35 29 34 18 35 13 35 10 35 6 35 6 70 7 139 6 105 2 139-1 349-7 349-11 592-25M14427 12401l35 204 35 19 35 45 34 26 35 17 35 11 35 9 35 6 35 4 69 7 105 4 140 2 174-1 279-7 383-12 593-26M14403 12645l35 22 34 18 35 41 35 24 35 15 35 11 70 13 104 10 105 4 104 1 140-1 209-4 523-17 593-25M14378 12703l35 20 35 17 35 37 35 22 35 14 35 10 69 12 105 9 105 3 104 1 140-2 209-4 523-17 593-26M14354 12754l35 19 35 15 35 34 35 21 35 13 34 9 70 10 105 8 104 3 105 0 349-6 523-17 592-26M14330 12797l35 18 35 14 35 32 35 19 34 12 35 8 70 10 105 7 104 2 105 0 348-7 523-18 593-25M14306 12834l35 17 35 13 34 30 35 17 35 11 35 8 70 9 104 6 105 2 105 0 348-8 523-18 593-25M14282 12867l34 15 35 12 35 28 35 17 35 10 35 7 70 9 104 5 105 2 104-1 349-8 523-18 593-26M14257 12895l35 14 35 12 35 26 35 16 35 9 35 7 69 8 105 5 209 0 349-8 523-19 593-25M14233 12920l35 13 35 11 35 25 35 15 35 9 34 6 70 7 105 5 209 0 349-9 523-19 592-25M14209 12942l35 12 35 10 35 24 34 14 35 9 35 6 70 6 104 4 210 0 348-9 523-19 593-26M14185 12961l35 12 34 10 35 23 35 13 35 8 35 5 70 7 104 3 209-1 349-9 523-19 593-26M14161 12979l34 11 35 9 35 22 35 12 35 8 35 5 69 6 105 4 209-2 349-9 523-19 593-26M14136 12994l35 11 35 9 35 21 35 12 35 7 35 5 69 6 105 2 209-1 349-10 523-19 592-26M14112 13009l35 10 35 8 35 20 35 12 34 7 70 7 70 4 104 1 140-1 174-4M14088 13021l70 18 34 19 35 11 35 7 35 4 70 5 70 2 104 1M14064 13033l69 17 35 19 35 10 35 7 70 6 104 4M14039 13044l70 16 35 18 35 10 35 6 35 4 69 4M14015 13053l70 16 35 17 35 10 35 6 69 6M13991 13062l70 16 35 16 34 9 35 6 35 3M13967 13070l70 15 34 16 35 9 70 9M13943 13078l69 14 35 15 35 9 35 5M13918 13085l70 13 35 15 35 8 35 6M13894 13091l70 13 35 15 35 8M13870 13097l70 12 35 14 34 8M13846 13102l69 12 35 14 35 7M13822 13107l34 7M13891 13119l35 13 35 7M13797 13111l35 7M13867 13123l35 13 35 7M13773 13116l35 6M13843 13127l35 12 35 7M13819 13130l34 12M13794 13134l35 11M13770 13136l35 12M13746 13139l35 11M13722 13142l35 11M13698 13144l34 10M13673 13146l35 10M13649 13148l35 10M13625 13149l35 10M14427 12401l-24 244-25 58-24 51-24 43-24 37-24 33-25 28-24 25-24 22-48 37-49 30-48 24-49 20-72 25-73 19-97 19M14559 12118l-25 245M14510 12517l-24 85-24 3-24 62-25 56-24 50-24 42-24 36-25 31-24 27-24 24-24 21-49 36-48 29-48 24-49 19-48 17-73 19-48 11-73 13M14594 12160l-25 202M14545 12515l-24 85-24 24-25 61-24 55-24 48-24 41-24 35-25 30-24 27-24 23-49 39-48 31-24 13-49 23-48 19-73 23-72 17-97 18-97 12-121 10M14604 12399l-24 118-24 84-24 68-25 57-24 51-24 45-24 39-25 33-24 28-24 25-24 22-49 37-24 15-48 26-73 31-73 23-96 22-97 16-97 11-121 9M14639 12435l-24 114-24 81-25 65-24 55-24 49-24 44-24 37-25 31-24 28-24 24-49 39-48 31-48 26-49 20-48 17-73 20-73 15-96 15M14674 12458l-24 111-25 79-24 64-24 53-24 48-24 43-25 36-24 30-24 27-24 23-24 21-49 34-48 27-49 22-48 18-49 15-72 18M14709 12474l-24 110-25 77-24 62-24 53-24 47-25 42-24 35-24 30-24 26-24 23-25 20-24 18-48 29-49 24-48 20-49 16-48 13M14744 12486l-25 108-24 77-24 61-24 51-24 47-25 41-24 35-24 29-24 26-25 23-48 37-48 29-49 23-48 19-49 16M14779 12495l-25 107-24 75-24 61-24 51-25 46-24 40-24 35-24 29-24 26-25 22-48 36-24 16-49 26-48 20-49 17M14813 12502l-24 106-24 75-24 59-25 51-24 46-24 40-24 34-24 29-25 25-24 22-48 36-24 15-49 26-73 29M14848 12508l-24 104-24 75-24 59-25 50-24 46-24 39-24 34-25 29-24 25-24 22-48 36-25 15-48 25-73 29M14883 12512l-24 104-24 74-25 59-24 50-24 45-24 39-24 34-25 28-24 25-24 22-24 19-25 16-48 29-24 11-49 21M14918 12515l-24 104-24 73-25 59-24 49-24 45-24 39-25 34-24 28-24 25-24 21-24 19-25 17-48 28-24 12-49 20M14953 12518l-24 103-25 73-24 58-24 50-24 44-24 39-25 33-24 29-24 24-24 22-25 19-24 16-48 28-24 12-49 20M14988 12520l-25 102-24 73-24 58-24 50-24 44-25 39-24 33-24 28-24 25-24 21-25 19-48 31-24 13-49 22M15023 12522l-25 102-24 72-24 58-24 49-25 44-24 39-24 33-24 28-24 25-25 21-24 18-48 31-24 13-49 22M15057 12523l-24 102-24 72-24 58-24 49-25 44-24 38-24 33-24 28-25 24-24 22-24 18-48 31-25 13-48 22M15092 12524l-24 101-24 72-24 58-25 49-24 44-24 38-24 33-24 28-25 24-24 21-24 19-49 30-24 13-48 22M15127 12524l-24 102-24 72-24 57-25 49-24 44-24 38-24 33-25 27-24 25-24 21-24 18-49 31-24 13-48 21M15162 12525l-24 101-24 72-25 57-24 49-24 43-24 39-24 32-25 28-24 24-24 21-24 18-49 31-24 13-48 22M15197 12525l-24 101-25 72-24 57-24 48-24 44-24 38-25 33-24 27-24 24-24 21-24 19-49 30-24 13-49 22M15232 12525l-24 101-25 72-24 56-24 49-24 43-25 39-24 32-24 28-24 24-24 21-25 18-48 30-24 13-49 22M15267 12525l-25 101-24 71-24 57-24 48-24 44-25 38-24 32-24 28-24 24-25 21-48 34-24 14-49 25M15302 12525l-25 100-24 72-24 57-24 48-25 43-24 38-24 33-24 27-24 24-25 21-48 34-24 14-49 25M15336 12525l-24 100-24 71-24 57-24 48-25 43-24 38-24 33-24 27-25 24-24 21-48 34-24 14-49 24M15371 12525l-24 100-24 71-24 56-25 48-24 44-24 38-24 32-24 27-25 24-24 21-48 34-25 14-48 24M15406 12524l-24 100-24 71-25 57-24 48-24 43-24 38-24 32-25 27-24 24-24 21-48 34-25 14-48 24M15441 12524l-24 99-24 71-25 57-24 48-24 43-24 38-25 32-24 27-24 24-24 21-49 34-24 14-48 24M15476 12523l-24 100-25 71-24 56-24 48-24 43-24 38-25 32-24 27-24 24-24 21-49 34-24 14-48 24M15511 12522l-25 100-24 71-24 56-24 48-24 43-25 38-24 32-24 27-24 24-24 21-49 34-24 14-49 24M15546 12522l-25 99-24 71-24 56-24 48-25 43-24 38-24 32-24 27-24 24-25 20-48 34-24 15-49 23M15580 12521l-24 99-24 71-24 56-24 48-25 43-24 38-24 32-24 27-25 24-24 20-48 34-24 14-49 24M15615 12520l-24 99-24 71-24 56-25 48-24 43-24 38-24 32-24 27-25 23-24 21-48 34-25 14-48 24M15650 12519l-24 100-24 70-24 56-25 48-24 43-24 37-24 32-25 28-24 23-24 21-48 34-25 14-48 24M15685 12518l-24 100-24 70-25 56-24 48-24 43-24 37-24 32-25 27-24 24-24 21-49 34-24 14-48 23M15720 12517l-24 100-25 70-24 56-24 48-24 43-24 37-25 32-24 27-24 24-24 20-49 34-24 14-48 24M15755 12517l-24 99-25 70-24 56-24 48-24 42-25 38-24 32-24 27-24 24-24 20-49 34-24 14-48 24M15790 12516l-25 99-24 70-24 56-24 47-24 43-25 38-24 32-24 27-24 23-25 21-48 34-24 14-49 23M15824 12515l-24 98-24 71-24 56-24 47-25 43-24 38-24 31-24 28-24 23-25 21-48 33-24 14-49 24M15859 12514l-24 98-24 71-24 56-25 47-24 43-24 37-24 32-24 27-25 24-24 20-48 34-24 14-49 24M15894 12512l-24 99-24 71-24 55-25 48-24 43-24 37-24 32-25 27-24 23-24 21-48 34-25 14-48 23M15929 12511l-24 99-24 70-25 56-24 48-24 42-24 38-24 32-25 27-24 23-24 21-48 33-25 14-48 24M15964 12510l-24 99-24 70-25 56-24 47-24 43-24 38-25 31-24 27-24 24-24 20-49 34-24 14-48 24M16023 12369l-24 140-24 99-25 70-24 56-24 47-24 43-24 37-25 32-24 27-24 23-24 21-49 34-24 14-48 23M16058 12367l-24 140-25 99-24 70-24 56-24 48-24 42-25 38-24 31-24 27-24 24-24 20-49 34-24 14-49 24M16069 12506l-25 99-24 70-24 56-24 47-25 43-24 37-24 32-24 27-24 23-25 21-48 34-24 14-49 23M16103 12504l-24 99-24 70-24 56-24 48-25 42-24 38-24 31-24 27-25 24-24 20-48 34-24 14-49 24M16138 12503l-24 99-24 70-24 56-25 47-24 43-24 37-24 32-24 27-25 23-24 21-48 34-25 14-48 23M16173 12501l-24 99-24 70-24 56-25 47-24 43-24 38-24 31-25 27-24 24-24 20-48 34-25 14-48 24M16208 12500l-24 99-24 70-25 56-24 47-24 43-24 37-24 32-25 27-24 23-24 21-49 33-24 15-48 23M16243 12498l-24 99-25 70-24 56-24 47-24 43-24 38-25 31-24 27-24 24-24 20-49 34-24 14-48 24M16278 12497l-24 99-25 70-24 55-24 48-24 43-25 37-24 32-24 27-24 23-24 21-49 33-24 14-48 24M16313 12495l-25 99-24 70-24 56-24 47-24 43-25 37-24 32-24 27-24 24-25 20-48 34-24 14-49 24M16348 12494l-25 98-24 71-24 55-24 48-25 43-24 37-24 32-24 27-24 23-25 21-48 33-24 14-49 24M16382 12492l-24 99-24 70-24 56-24 47-25 43-24 37-24 32-24 27-25 24-24 20-48 34-24 14-49 24M16417 12491l-24 98-24 71-24 55-25 48-24 42-24 38-24 32-24 27-25 23-24 21-48 33-25 14-48 24M16476 12349l-24 140-24 99-24 70-25 56-24 47-24 43-24 37-24 32-25 27-24 24-24 20-48 34-25 14-48 24M16511 12348l-24 140-24 98-24 71-25 55-24 48-24 42-24 38-25 32-24 27-24 23-24 21-49 33-24 14-48 24M16570 12122l-24 224M16522 12486l-24 99-25 70-24 56-24 47-24 43-24 37-25 32-24 27-24 24-24 20-49 34-24 14-48 24M16605 12120l-24 224M16557 12485l-25 98-24 71-24 55-24 48-24 42-25 38-24 32-24 27-24 23-24 21-49 33-24 14-49 24"/><path fill=#422ec0 d="M15758 13099l48-4-35 1-48 4zM15782 13097l-35 1"/><path fill=#422ec0 d="M15830 13093l121-16-35 2-121 15zM15854 13090l-34 2M15879 13087l-35 2M15903 13084l-35 2M15927 13081l-35 1"/><path fill=#4332cb d="M15951 13077l73-13 73-19-35 2-73 18-73 14zM15976 13073l-35 2M16000 13069l-35 1M16024 13064l-35 1M16048 13058l-35 2M16072 13052l-34 2"/><path fill=#4537d5 d="M16097 13045l48-15 48-19-34 2-49 19-48 15zM16121 13038l-35 2M16145 13030l-35 2M16169 13021l-35 2"/><path fill=#2d8cf3 d="M16557 12485l24-141-35 2-24 140z"/><path fill=#19bfb6 d="M16605 12120l24-390-35 1-24 391z"/><path fill=#d1bf27 d="M16629 11730l25-763-35 1-25 763z"/><path fill=#422ec0 d="M15698 13102l49-4-35 2-48 3zM15723 13100l-35 2"/><path fill=#422ec0 d="M15795 13094l25-2-35 1-25 3z"/><path fill=#422ec0 d="M15844 13089l72-10-34 1-73 10zM15868 13086l-35 1M15892 13082l-35 2"/><path fill=#4332cb d="M15916 13079l73-14 73-18-35 2-73 18-72 13zM15941 13075l-35 1M15965 13070l-35 2M15989 13065l-35 2M16013 13060l-35 1M16038 13054l-35 1"/><path fill=#4537d5 d="M16062 13047l48-15 49-19-35 1-49 19-48 16zM16086 13040l-35 1M16110 13032l-35 1M16134 13023l-34 1"/><path fill=#2d8cf3 d="M16522 12486l24-140-35 2-24 140z"/><path fill=#20a5e3 d="M16546 12346l24-224-35 1-24 225z"/><path fill=#19bfb6 d="M16570 12122l24-391-34 2-25 390z"/><path fill=#d1bf27 d="M16594 11731l25-763-35 2-24 763z"/><path fill=#422ec0 d="M15664 13103l24-1-35 1-24 2z"/><path fill=#422ec0 d="M15760 13096l25-3-35 2-24 2z"/><path fill=#422ec0 d="M15809 13090l73-10-35 2-73 10zM15833 13087l-35 2M15857 13084l-35 1"/><path fill=#4332cb d="M15882 13080l72-13 73-18-35 1-73 18-72 14zM15906 13076l-35 2M15930 13072l-35 1M15954 13067l-35 1M15978 13061l-34 2M16003 13055l-35 2"/><path fill=#4537d5 d="M16027 13049l48-16 49-19-35 2-49 19-48 15zM16051 13041l-35 2M16075 13033l-35 2M16100 13024l-35 2"/><path fill=#20a5e3 d="M16511 12348l24-225-34 2-25 224z"/><path fill=#19bfb6 d="M16535 12123l25-390-35 1-24 391z"/><path fill=#d1bf27 d="M16560 11733l24-763-35 1-24 763z"/><path fill=#422ec0 d="M15726 13097l24-2-35 1-24 3z"/><path fill=#422ec0 d="M15774 13092l73-10-35 1-73 10zM15798 13089l-35 1M15822 13085l-34 2"/><path fill=#4332cb d="M15847 13082l72-14 73-18-35 2-73 18-72 13zM15871 13078l-35 1M15895 13073l-35 2M15919 13068l-35 2M15944 13063l-35 1M15968 13057l-35 1"/><path fill=#4537d5 d="M15992 13050l48-15 49-19-35 1-48 19-49 16zM16016 13043l-35 1M16040 13035l-34 1M16065 13026l-35 1"/><path fill=#2d8cf3 d="M16452 12489l24-140-35 2-24 140z"/><path fill=#20a5e3 d="M16476 12349l25-224-35 1-25 225z"/><path fill=#19bfb6 d="M16501 12125l24-391-35 2-24 390z"/><path fill=#d1bf27 d="M16525 11734l24-763-35 2-24 763z"/><path fill=#422ec0 d="M15691 13099l121-16-35 2-121 15zM15715 13096l-35 2M15739 13093l-35 2M15763 13090l-34 2M15788 13087l-35 1"/><path fill=#4332cb d="M15812 13083l72-13 73-18-35 1-72 18-73 14zM15836 13079l-35 2M15860 13075l-35 1M15884 13070l-34 1M15909 13064l-35 2M15933 13058l-35 2"/><path fill=#4537d5 d="M15957 13052l49-16 48-19-35 2-48 19-49 15zM15981 13044l-35 2M16006 13036l-35 2M16030 13027l-35 2"/><path fill=#2d8cf3 d="M16417 12491l24-140-34 1-25 140z"/><path fill=#20a5e3 d="M16441 12351l25-225-35 2-24 224z"/><path fill=#19bfb6 d="M16466 12126l24-390-35 1-24 391z"/><path fill=#d1bf27 d="M16490 11736l24-763-35 1-24 763z"/><path fill=#422ec0 d="M15632 13102l72-7-35 1-72 8zM15656 13100l-35 2M15680 13098l-35 1"/><path fill=#422ec0 d="M15729 13092l48-7-35 1-48 7zM15753 13088l-35 2"/><path fill=#4332cb d="M15777 13085l73-14 72-18-35 2-72 18-73 13zM15801 13081l-35 1M15825 13076l-34 2M15850 13071l-35 2M15874 13066l-35 1M15898 13060l-35 1"/><path fill=#4537d5 d="M15922 13053l49-15 48-19-35 1-48 19-49 16zM15946 13046l-34 1M15971 13038l-35 1M15995 13029l-35 1"/><path fill=#2d8cf3 d="M16382 12492l25-140-35 2-24 140z"/><path fill=#20a5e3 d="M16407 12352l24-224-35 2-24 224z"/><path fill=#19bfb6 d="M16431 12128l24-391-35 2-24 391z"/><path fill=#d1bf27 d="M16455 11737l24-763-35 2-24 763z"/><path fill=#422ec0 d="M15597 13104l24-2-35 1-24 2z"/><path fill=#422ec0 d="M15645 13099l97-13-35 2-97 13zM15669 13096l-34 2M15694 13093l-35 2M15718 13090l-35 1"/><path fill=#4332cb d="M15742 13086l73-13 72-18-34 1-73 18-73 14zM15766 13082l-35 2M15791 13078l-35 1M15815 13073l-35 1M15839 13067l-35 2M15863 13061l-35 2"/><path fill=#4537d5 d="M15887 13055l49-16 48-19-35 2-48 19-48 15zM15912 13047l-35 2M15936 13039l-35 2M15960 13030l-35 2"/><path fill=#2d8cf3 d="M16348 12494l24-140-35 1-24 140z"/><path fill=#20a5e3 d="M16372 12354l24-224-35 1-24 224z"/><path fill=#19bfb6 d="M16396 12130l24-391-35 1-24 391z"/><path fill=#d1bf27 d="M16420 11739l24-763-34 1-25 763z"/><path fill=#422ec0 d="M15562 13105l24-2-35 2-24 2z"/><path fill=#422ec0 d="M15610 13101l97-13-35 1-97 13zM15635 13098l-35 1M15659 13095l-35 1M15683 13091l-35 2"/><path fill=#4332cb d="M15707 13088l73-14 73-18-35 2-73 18-73 13zM15731 13084l-34 1M15756 13079l-35 2M15780 13074l-35 2M15804 13069l-35 1M15828 13063l-35 1"/><path fill=#4537d5 d="M15853 13056l48-15 48-19-34 1-49 19-48 16zM15877 13049l-35 1M15901 13041l-35 1M15925 13032l-35 1"/><path fill=#2d8cf3 d="M16313 12495l24-140-35 2-24 140z"/><path fill=#20a5e3 d="M16337 12355l24-224-35 2-24 224z"/><path fill=#19bfb6 d="M16361 12131l24-391-35 2-24 391z"/><path fill=#d1bf27 d="M16385 11740l25-763-35 2-25 763z"/><path fill=#422ec0 d="M15527 13107l24-2-35 1-24 2z"/><path fill=#422ec0 d="M15575 13102l97-13-35 2-96 13zM15600 13099l-35 2M15624 13096l-35 2M15648 13093l-35 2"/><path fill=#4332cb d="M15672 13089l73-13 73-18-35 1-73 18-73 14zM15697 13085l-35 2M15721 13081l-35 1M15745 13076l-35 1M15769 13070l-35 2M15793 13064l-34 2"/><path fill=#4537d5 d="M15818 13058l48-16 49-19-35 2-49 19-48 15zM15842 13050l-35 2M15866 13042l-35 2M15890 13033l-35 2"/><path fill=#2d8cf3 d="M16278 12497l24-140-35 1-24 140z"/><path fill=#20a5e3 d="M16302 12357l24-224-35 1-24 224z"/><path fill=#19bfb6 d="M16326 12133l24-391-34 1-25 391z"/><path fill=#d1bf27 d="M16350 11742l25-763-35 1-24 763z"/><path fill=#422ec0 d="M15492 13108l24-2-34 2-25 2z"/><path fill=#422ec0 d="M15541 13104l96-13-34 1-97 13zM15565 13101l-35 1M15589 13098l-35 1M15613 13095l-35 1"/><path fill=#4332cb d="M15637 13091l73-14 73-18-35 2-73 18-72 13zM15662 13087l-35 1M15686 13082l-35 2M15710 13077l-35 2M15734 13072l-35 1M15759 13066l-35 1"/><path fill=#4537d5 d="M15783 13059l48-15 49-19-35 1-49 19-48 16zM15807 13052l-35 1M15831 13044l-35 1M15855 13035l-34 1"/><path fill=#2d8cf3 d="M16243 12498l24-140-35 2-24 140z"/><path fill=#20a5e3 d="M16267 12358l24-224-35 2-24 224z"/><path fill=#19bfb6 d="M16291 12134l25-391-35 2-25 391z"/><path fill=#d1bf27 d="M16316 11743l24-763-35 2-24 763z"/><path fill=#422ec0 d="M15433 13112l49-4-35 1-49 5zM15457 13110l-35 2"/><path fill=#422ec0 d="M15506 13105l97-13-35 2-97 13zM15530 13102l-35 2M15554 13099l-35 2M15578 13096l-34 2"/><path fill=#4332cb d="M15603 13092l72-13 73-18-35 1-73 18-72 14zM15627 13088l-35 2M15651 13084l-35 1M15675 13079l-35 1M15699 13073l-34 2M15724 13067l-35 2"/><path fill=#4537d5 d="M15748 13061l48-16 49-19-35 2-49 19-48 15zM15772 13053l-35 2M15796 13045l-35 2M15821 13036l-35 2"/><path fill=#2d8cf3 d="M16208 12500l24-140-35 1-24 140z"/><path fill=#20a5e3 d="M16232 12360l24-224-34 1-25 224z"/><path fill=#19bfb6 d="M16256 12136l25-391-35 1-24 391z"/><path fill=#d1bf27 d="M16281 11745l24-763-35 1-24 763z"/><path fill=#422ec0 d="M15374 13115l48-3-34 1-49 4zM15398 13114l-35 1"/><path fill=#422ec0 d="M15447 13109l121-15-35 1-121 16zM15471 13107l-35 1M15495 13104l-35 2M15519 13101l-35 1M15544 13098l-35 1"/><path fill=#4332cb d="M15568 13094l72-14 73-18-35 2-72 18-73 13zM15592 13090l-35 1M15616 13085l-35 2M15640 13080l-34 2M15665 13075l-35 1M15689 13069l-35 1"/><path fill=#4537d5 d="M15713 13062l48-15 49-19-35 1-48 19-49 16zM15737 13055l-35 1M15761 13047l-34 1M15786 13038l-35 1"/><path fill=#2d8cf3 d="M16173 12501l24-140-34 2-25 140z"/><path fill=#20a5e3 d="M16197 12361l25-224-35 2-24 224z"/><path fill=#19bfb6 d="M16222 12137l24-391-35 2-24 391z"/><path fill=#d1bf27 d="M16246 11746l24-763-35 2-24 763z"/><path fill=#422ec0 d="M15315 13119l48-4-34 2-49 3zM15339 13117l-35 1"/><path fill=#422ec0 d="M15412 13111l24-3-35 2-24 2z"/><path fill=#422ec0 d="M15460 13106l73-11-35 2-73 10zM15484 13102l-34 2M15509 13099l-35 2"/><path fill=#4332cb d="M15533 13095l73-13 72-18-35 1-72 18-73 14zM15557 13091l-35 2M15581 13087l-35 1M15606 13082l-35 1M15630 13076l-35 2M15654 13070l-35 2"/><path fill=#4537d5 d="M15678 13064l49-16 48-19-35 2-48 19-49 15zM15702 13056l-34 2M15727 13048l-35 2M15751 13039l-35 2"/><path fill=#2d8cf3 d="M16138 12503l25-140-35 1-25 140z"/><path fill=#20a5e3 d="M16163 12363l24-224-35 1-24 224z"/><path fill=#19bfb6 d="M16187 12139l24-391-35 2-24 390z"/><path fill=#d1bf27 d="M16211 11748l24-763-35 1-24 764z"/><path fill=#422ec0 d="M15280 13120l24-2-35 2-24 2z"/><path fill=#422ec0 d="M15377 13112l24-2-35 1-24 3z"/><path fill=#422ec0 d="M15425 13107l73-10-35 1-72 11zM15450 13104l-35 1M15474 13101l-35 1"/><path fill=#4332cb d="M15498 13097l73-14 72-18-35 2-72 18-73 13zM15522 13093l-35 1M15546 13088l-34 2M15571 13083l-35 2M15595 13078l-35 1M15619 13072l-35 1"/><path fill=#4537d5 d="M15643 13065l49-15 48-19-35 1-48 19-49 16zM15668 13058l-35 1M15692 13050l-35 1M15716 13041l-35 1"/><path fill=#2d8cf3 d="M16103 12504l25-140-35 2-24 140z"/><path fill=#20a5e3 d="M16128 12364l24-224-35 2-24 224z"/><path fill=#19bfb6 d="M16152 12140l24-390-35 1-24 391z"/><path fill=#d1bf27 d="M16176 11750l24-764-35 2-24 763z"/><path fill=#422ec0 d="M15342 13114l24-3-35 2-24 2z"/><path fill=#422ec0 d="M15391 13109l72-11-35 2-72 10zM15415 13105l-35 2M15439 13102l-35 2"/><path fill=#4332cb d="M15463 13098l73-13 72-18-34 1-73 18-73 14zM15487 13094l-35 2M15512 13090l-35 1M15536 13085l-35 1M15560 13079l-35 2M15584 13073l-35 2"/><path fill=#4537d5 d="M15608 13067l49-16 48-19-35 2-48 19-48 15zM15633 13059l-35 2M15657 13051l-35 2M15681 13042l-35 2"/><path fill=#2d8cf3 d="M16069 12506l24-140-35 1-24 140z"/><path fill=#20a5e3 d="M16093 12366l24-224-35 1-24 224z"/><path fill=#19bfb6 d="M16117 12142l24-391-35 2-24 390z"/><path fill=#d1bf27 d="M16141 11751l24-763-34 1-25 764z"/><path fill=#422ec0 d="M15307 13115l121-15-35 1-121 16zM15331 13113l-34 1M15356 13110l-35 2M15380 13107l-35 2M15404 13104l-35 1"/><path fill=#4332cb d="M15428 13100l73-14 73-18-35 2-73 18-73 13zM15452 13096l-34 1M15477 13091l-35 2M15501 13086l-35 2M15525 13081l-35 1M15549 13075l-35 1"/><path fill=#4537d5 d="M15574 13068l48-15 48-19-34 1-49 19-48 16zM15598 13061l-35 1M15622 13053l-35 1M15646 13044l-35 1"/><path fill=#20a5e3 d="M16058 12367l24-224-35 2-24 224z"/><path fill=#19bfb6 d="M16082 12143l24-390-35 1-24 391z"/><path fill=#d1bf27 d="M16106 11753l25-764-35 2-25 763z"/><path fill=#422ec0 d="M15248 13119l73-7 72-11-34 2-73 10-73 8zM15272 13117l-35 1M15297 13114l-35 2M15321 13112l-35 1M15345 13109l-35 1M15369 13105l-35 2"/><path fill=#4332cb d="M15393 13101l73-13 73-18-35 1-73 18-72 14zM15418 13097l-35 2M15442 13093l-35 1M15466 13088l-35 1M15490 13082l-35 2M15514 13076l-34 2"/><path fill=#4537d5 d="M15539 13070l48-16 49-19-35 2-49 19-48 15zM15563 13062l-35 2M15587 13054l-35 2M15611 13045l-35 2"/><path fill=#2d8cf3 d="M15999 12509l24-140-35 1-24 140z"/><path fill=#20a5e3 d="M16023 12369l24-224-35 1-24 224z"/><path fill=#19bfb6 d="M16047 12145l24-391-34 1-25 391z"/><path fill=#d1bf27 d="M16071 11754l25-763-35 1-24 763z"/><path fill=#422ec0 d="M15213 13121l24-3-34 2-25 2z"/><path fill=#422ec0 d="M15262 13116l97-13-35 1-97 13zM15286 13113l-35 1M15310 13110l-35 1M15334 13107l-35 1"/><path fill=#4332cb d="M15359 13103l72-14 73-18-35 2-73 18-72 13zM15383 13099l-35 1M15407 13094l-35 2M15431 13089l-35 2M15455 13084l-34 1M15480 13078l-35 1"/><path fill=#4537d5 d="M15504 13071l48-15 49-19-35 1-49 19-48 16zM15528 13064l-35 1M15552 13056l-35 1M15576 13047l-34 1"/><path fill=#2d8cf3 d="M15964 12510l24-140-35 1-24 140z"/><path fill=#20a5e3 d="M15988 12370l24-224-34 1-25 224z"/><path fill=#19bfb6 d="M16012 12146l25-391-35 1-24 391z"/><path fill=#d1bf27 d="M16037 11755l24-763-35 0-24 764z"/><path fill=#422ec0 d="M15178 13122l25-2-35 1-24 2z"/><path fill=#422ec0 d="M15227 13117l97-13-35 2-97 13zM15251 13114l-35 2M15275 13111l-35 2M15299 13108l-34 1"/><path fill=#4332cb d="M15324 13104l72-13 73-18-35 1-73 18-72 14zM15348 13100l-35 2M15372 13096l-35 1M15396 13091l-35 1M15421 13085l-35 2M15445 13079l-35 2"/><path fill=#4537d5 d="M15469 13073l48-16 49-19-35 1-48 19-49 16zM15493 13065l-35 2M15517 13057l-34 1M15542 13048l-35 1"/><path fill=#2d8cf3 d="M15929 12511l24-140-35 1-24 140z"/><path fill=#20a5e3 d="M15953 12371l25-224-35 1-25 224z"/><path fill=#19bfb6 d="M15978 12147l24-391-35 1-24 391z"/><path fill=#dcbd29 d="M16002 11756l24-764-35 1-24 764z"/><path fill=#422ec0 d="M15119 13125l49-4-35 2-49 4zM15144 13123l-35 2"/><path fill=#422ec0 d="M15192 13119l97-13-35 1-97 13zM15216 13116l-35 1M15240 13113l-34 1M15265 13109l-35 2"/><path fill=#4332cb d="M15289 13106l72-14 73-18-35 1-72 19-73 13zM15313 13102l-35 1M15337 13097l-35 1M15361 13092l-34 2M15386 13087l-35 1M15410 13081l-35 1"/><path fill=#4537d5 d="M15434 13074l49-16 48-19-35 2-48 19-49 15zM15458 13067l-35 1M15483 13058l-35 2M15507 13049l-35 2"/><path fill=#2d8cf3 d="M15894 12512l24-140-34 1-25 141z"/><path fill=#20a5e3 d="M15918 12372l25-224-35 1-24 224z"/><path fill=#19bfb6 d="M15943 12148l24-391-35 0-24 392z"/><path fill=#dcbd29 d="M15967 11757l24-764-35 0-24 764z"/><path fill=#422ec0 d="M15060 13129l49-4-35 1-49 4zM15084 13127l-34 1"/><path fill=#422ec0 d="M15133 13123l121-16-35 1-121 16zM15157 13120l-35 1M15181 13117l-35 2M15206 13114l-35 2M15230 13111l-35 1"/><path fill=#4332cb d="M15254 13107l73-13 72-19-35 2-72 18-73 13zM15278 13103l-35 1M15302 13098l-34 2M15327 13094l-35 1M15351 13088l-35 1M15375 13082l-35 1"/><path fill=#4537d5 d="M15399 13075l49-15 48-19-35 1-48 19-49 16zM15423 13068l-34 1M15448 13060l-35 1M15472 13051l-35 1"/><path fill=#2d8cf3 d="M15859 12514l25-141-35 1-25 141z"/><path fill=#20a5e3 d="M15884 12373l24-224-35 0-24 225z"/><path fill=#19bfb6 d="M15908 12149l24-392-35 1-24 391z"/><path fill=#dcbd29 d="M15932 11757l24-764-35 0-24 765z"/><path fill=#422ec0 d="M15025 13130l25-2-35 2-25 2z"/><path fill=#422ec0 d="M15098 13124l24-3-35 2-24 2z"/><path fill=#422ec0 d="M15146 13119l73-11-35 2-72 10zM15171 13116l-35 1M15195 13112l-35 2"/><path fill=#4332cb d="M15219 13108l73-13 72-18-34 1-73 18-73 14zM15243 13104l-35 2M15268 13100l-35 1M15292 13095l-35 1M15316 13089l-35 2M15340 13083l-35 2"/><path fill=#4537d5 d="M15364 13077l49-16 48-19-35 1-48 20-48 15zM15389 13069l-35 2M15413 13061l-35 2M15437 13052l-35 2"/><path fill=#2d8cf3 d="M15824 12515l25-141-35 1-24 141z"/><path fill=#20a5e3 d="M15849 12374l24-225-35 1-24 225z"/><path fill=#19bfb6 d="M15873 12149l24-391-35 0-24 392z"/><path fill=#dcbd29 d="M15897 11758l24-765-35 0-24 765z"/><path fill=#422ec0 d="M15063 13125l121-15-35 1-121 16zM15087 13123l-35 1M15112 13120l-35 1M15136 13117l-35 1M15160 13114l-35 1"/><path fill=#4332cb d="M15184 13110l73-14 73-18-35 1-73 19-73 13zM15208 13106l-34 1M15233 13101l-35 2M15257 13096l-35 2M15281 13091l-35 1M15305 13085l-35 1"/><path fill=#4537d5 d="M15330 13078l48-15 48-20-34 2-49 19-48 15zM15354 13071l-35 1M15378 13063l-35 1M15402 13054l-35 1"/><path fill=#2d8cf3 d="M15790 12516l24-141-35 1-24 141z"/><path fill=#20a5e3 d="M15814 12375l24-225-35 1-24 225z"/><path fill=#19bfb6 d="M15838 12150l24-392-35 1-24 392z"/><path fill=#dcbd29 d="M15862 11758l24-765-34 0-25 766z"/><path fill=#422ec0 d="M15004 13129l73-8 72-10-35 2-72 10-73 7zM15028 13127l-35 1M15052 13124l-34 2M15077 13121l-35 2M15101 13118l-35 2M15125 13115l-35 1"/><path fill=#4332cb d="M15149 13111l73-13 73-19-35 2-73 18-73 14zM15174 13107l-35 2M15198 13103l-35 1M15222 13098l-35 1M15246 13092l-35 2M15270 13086l-34 1"/><path fill=#4537d5 d="M15295 13079l48-15 49-19-35 1-49 19-48 16zM15319 13072l-35 1M15343 13064l-35 1M15367 13055l-35 1"/><path fill=#2d8cf3 d="M15755 12517l24-141-35 1-24 140z"/><path fill=#20a5e3 d="M15779 12376l24-225-35 1-24 225z"/><path fill=#19bfb6 d="M15803 12151l24-392-34 0-25 393z"/><path fill=#dcbd29 d="M15827 11759l25-766-35 0-24 766z"/><path fill=#422ec0 d="M14945 13132l48-4-34 2-49 4zM14969 13130l-35 2"/><path fill=#422ec0 d="M15018 13126l96-13-34 1-97 13zM15042 13123l-35 1M15066 13120l-35 1M15090 13116l-35 2"/><path fill=#4332cb d="M15114 13113l73-14 73-18-35 1-73 18-72 14zM15139 13109l-35 1M15163 13104l-35 1M15187 13099l-35 1M15211 13094l-35 1M15236 13087l-35 2"/><path fill=#4537d5 d="M15260 13081l48-16 49-19-35 1-49 20-48 15zM15284 13073l-35 2M15308 13065l-35 2M15332 13056l-34 1"/><path fill=#2d8cf3 d="M15720 12517l24-140-35 0-24 141z"/><path fill=#20a5e3 d="M15744 12377l24-225-35 0-24 225z"/><path fill=#19bfb6 d="M15768 12152l25-393-35 1-25 392z"/><path fill=#dcbd29 d="M15793 11759l24-766-35 0-24 767z"/><path fill=#422ec0 d="M14886 13136l48-4-35 1-48 4zM14910 13134l-35 1"/><path fill=#422ec0 d="M14959 13130l121-16-35 1-121 16zM14983 13127l-35 1M15007 13124l-35 2M15031 13121l-35 2M15055 13118l-34 1"/><path fill=#4332cb d="M15080 13114l72-14 73-18-35 1-73 19-72 13zM15104 13110l-35 1M15128 13105l-35 2M15152 13100l-35 2M15176 13095l-34 1M15201 13089l-35 1"/><path fill=#4537d5 d="M15225 13082l48-15 49-20-35 2-49 19-48 15zM15249 13075l-35 1M15273 13067l-35 1M15298 13057l-35 2"/><path fill=#2d8cf3 d="M15685 12518l24-141-35 1-24 141z"/><path fill=#20a5e3 d="M15709 12377l24-225-34 1-25 225z"/><path fill=#19bfb6 d="M15733 12152l25-392-35 0-24 393z"/><path fill=#dcbd29 d="M15758 11760l24-767-35 0-24 767z"/><path fill=#422ec0 d="M14827 13139l48-4-35 2-48 3zM14851 13137l-35 1"/><path fill=#422ec0 d="M14924 13131l24-3-35 2-24 2z"/><path fill=#422ec0 d="M14972 13126l73-11-35 2-73 10zM14996 13123l-35 1M15021 13119l-35 1"/><path fill=#4332cb d="M15045 13115l72-13 73-19-35 2-72 18-73 14zM15069 13111l-35 2M15093 13107l-35 1M15117 13102l-34 1M15142 13096l-35 2M15166 13090l-35 1"/><path fill=#4537d5 d="M15190 13083l48-15 49-19-35 1-48 19-49 16zM15214 13076l-35 1M15238 13068l-34 1M15263 13059l-35 1"/><path fill=#2d8cf3 d="M15650 12519l24-141-34 1-25 141z"/><path fill=#20a5e3 d="M15674 12378l25-225-35 0-24 226z"/><path fill=#19bfb6 d="M15699 12153l24-393-35 0-24 393z"/><path fill=#dcbd29 d="M15723 11760l24-767-35-1-24 768z"/><path fill=#422ec0 d="M14792 13140l24-2-35 2-24 2z"/><path fill=#422ec0 d="M14889 13132l121-15-35 1-121 16zM14913 13130l-35 1M14937 13127l-35 1M14961 13124l-34 1M14986 13120l-35 2"/><path fill=#4332cb d="M15010 13117l73-14 72-18-35 1-72 18-73 14zM15034 13113l-35 1M15058 13108l-35 1M15083 13103l-35 1M15107 13098l-35 1M15131 13091l-35 2"/><path fill=#4537d5 d="M15155 13085l49-16 48-19-35 1-48 19-49 16zM15179 13077l-34 2M15204 13069l-35 1M15228 13060l-35 1"/><path fill=#2d8cf3 d="M15615 12520l25-141-35 1-25 141z"/><path fill=#20a5e3 d="M15640 12379l24-226-35 1-24 226z"/><path fill=#24c1ae d="M15664 12153l24-393-35 1-24 393z"/><path fill=#dcbd29 d="M15688 11760l24-768-35 0-24 769z"/><path fill=#422ec0 d="M14830 13136l72-8 73-10-35 1-72 11-73 7zM14854 13134l-35 1M14878 13131l-35 1M14902 13128l-34 2M14927 13125l-35 2M14951 13122l-35 1"/><path fill=#4332cb d="M14975 13118l73-14 72-18-35 1-72 19-73 13zM14999 13114l-35 1M15023 13109l-34 2M15048 13104l-35 2M15072 13099l-35 1M15096 13093l-35 1"/><path fill=#4537d5 d="M15120 13086l49-16 48-19-35 1-48 20-49 15zM15145 13079l-35 1M15169 13070l-35 2M15193 13061l-35 2"/><path fill=#2d8cf3 d="M15580 12521l25-141-35 0-24 142z"/><path fill=#20a5e3 d="M15605 12380l24-226-35 0-24 226z"/><path fill=#24c1ae d="M15629 12154l24-393-35 0-24 393z"/><path fill=#dcbd29 d="M15653 11761l24-769-35-1-24 770z"/><path fill=#422ec0 d="M14771 13139l48-4-35 1-48 5zM14795 13137l-35 2"/><path fill=#422ec0 d="M14843 13132l97-13-35 2-97 13zM14868 13130l-35 1M14892 13127l-35 1M14916 13123l-35 1"/><path fill=#4332cb d="M14940 13119l73-13 72-19-34 2-73 18-73 14zM14964 13115l-35 2M14989 13111l-35 1M15013 13106l-35 1M15037 13100l-35 1M15061 13094l-35 1"/><path fill=#4537d5 d="M15085 13087l49-15 48-20-35 2-48 19-48 16zM15110 13080l-35 1M15134 13072l-35 1M15158 13063l-35 1"/><path fill=#2d8cf3 d="M15546 12522l24-142-35 1-24 141z"/><path fill=#20a5e3 d="M15570 12380l24-226-35 1-24 226z"/><path fill=#24c1ae d="M15594 12154l24-393-35 0-24 394z"/><path fill=#dcbd29 d="M15618 11761l24-770-34 0-25 770z"/><path fill=#422ec0 d="M14736 13141l24-2-35 1-24 2z"/><path fill=#422ec0 d="M14784 13136l121-15-35 1-121 16zM14808 13134l-34 1M14833 13131l-35 1M14857 13128l-35 1M14881 13124l-35 2"/><path fill=#4332cb d="M14905 13121l73-14 73-18-35 1-73 18-73 14zM14929 13117l-34 1M14954 13112l-35 1M14978 13107l-35 1M15002 13101l-35 2M15026 13095l-35 2"/><path fill=#4537d5 d="M15051 13089l48-16 48-19-34 1-49 19-48 16zM15075 13081l-35 1M15099 13073l-35 1M15123 13064l-35 1"/><path fill=#2d8cf3 d="M15511 12522l24-141-35 0-24 142z"/><path fill=#20a5e3 d="M15535 12381l24-226-35 0-24 226z"/><path fill=#24c1ae d="M15559 12155l24-394-35 0-24 394z"/><path fill=#dcbd29 d="M15583 11761l25-770-35-1-25 771z"/><path fill=#422ec0 d="M14652 13146l25-2-35 1-24 2z"/><path fill=#422ec0 d="M14701 13142l24-2-35 1-24 2z"/><path fill=#422ec0 d="M14749 13138l25-3-35 1-25 3z"/><path fill=#422ec0 d="M14798 13132l72-10-34 1-73 11zM14822 13129l-35 1M14846 13126l-35 1"/><path fill=#4332cb d="M14870 13122l73-14 73-18-35 1-73 18-72 14zM14895 13118l-35 1M14919 13113l-35 1M14943 13108l-35 1M14967 13103l-35 1M14991 13097l-34 1"/><path fill=#4537d5 d="M15016 13090l48-16 49-19-35 1-49 19-48 16zM15040 13082l-35 2M15064 13074l-35 1M15088 13065l-34 1"/><path fill=#2d8cf3 d="M15476 12523l24-142-35 1-24 142z"/><path fill=#20a5e3 d="M15500 12381l24-226-35 0-24 227z"/><path fill=#24c1ae d="M15524 12155l24-394-34-1-25 395z"/><path fill=#dcbd29 d="M15548 11761l25-771-35-1-24 771z"/><path fill=#422ec0 d="M14618 13147l24-2-35 2-24 1z"/><path fill=#422ec0 d="M14666 13143l24-2-35 2-24 2z"/><path fill=#422ec0 d="M14714 13139l122-16-35 1-121 16zM14739 13136l-35 2M14763 13134l-35 1M14787 13130l-35 2M14811 13127l-35 1"/><path fill=#4332cb d="M14836 13123l72-14 73-18-35 1-73 19-72 13zM14860 13119l-35 1M14884 13114l-35 2M14908 13109l-35 2M14932 13104l-34 1M14957 13098l-35 1"/><path fill=#4537d5 d="M14981 13091l48-16 49-19-35 1-49 20-48 15zM15005 13084l-35 1M15029 13075l-35 2M15054 13066l-35 1"/><path fill=#2d8cf3 d="M15441 12524l24-142-35 0-24 142z"/><path fill=#20a5e3 d="M15465 12382l24-227-34 0-25 227z"/><path fill=#24c1ae d="M15489 12155l25-395-35 0-24 395z"/><path fill=#dcbd29 d="M15514 11760l24-771-35-2-24 773z"/><path fill=#422ec0 d="M14655 13143l73-8 73-11-35 2-73 10-72 8zM14680 13140l-35 2M14704 13138l-35 1M14728 13135l-35 1M14752 13132l-35 1M14776 13128l-34 2"/><path fill=#4332cb d="M14801 13124l72-13 73-19-35 1-73 19-72 14zM14825 13120l-35 2M14849 13116l-35 1M14873 13111l-35 1M14898 13105l-35 1M14922 13099l-35 1"/><path fill=#4537d5 d="M14946 13092l48-15 49-20-35 1-48 20-49 15zM14970 13085l-35 1M14994 13077l-34 1M15019 13067l-35 2"/><path fill=#2d8cf3 d="M15406 12524l24-142-35 0-24 143z"/><path fill=#20a5e3 d="M15430 12382l25-227-35 0-25 227z"/><path fill=#24c1ae d="M15455 12155l24-395-35-1-24 396z"/><path fill=#dcbd29 d="M15479 11760l24-773-35-1-24 773z"/><path fill=#422ec0 d="M14596 13146l49-4-35 1-49 4zM14621 13144l-35 1"/><path fill=#422ec0 d="M14669 13139l97-13-35 1-97 13zM14693 13136l-35 1M14717 13133l-34 1M14742 13130l-35 1"/><path fill=#4332cb d="M14766 13126l72-14 73-19-35 2-72 18-73 14zM14790 13122l-35 1M14814 13117l-35 1M14838 13112l-34 1M14863 13106l-35 2M14887 13100l-35 1"/><path fill=#4537d5 d="M14911 13093l49-15 48-20-35 1-48 20-49 16zM14935 13086l-35 1M14960 13078l-35 1M14984 13069l-35 1"/><path fill=#2d8cf3 d="M15371 12525l24-143-34 1-25 142z"/><path fill=#20a5e3 d="M15395 12382l25-227-35 0-24 228z"/><path fill=#24c1ae d="M15420 12155l24-396-35 0-24 396z"/><path fill=#dcbd29 d="M15444 11759l24-773-35-2-24 775z"/><path fill=#422ec0 d="M14489 13152l24-1-35 1-24 2z"/><path fill=#422ec0 d="M14537 13149l49-4-35 1-49 4zM14561 13147l-34 1"/><path fill=#422ec0 d="M14610 13143l121-16-35 1-121 16zM14634 13140l-35 1M14658 13137l-35 2M14683 13134l-35 1M14707 13131l-35 1"/><path fill=#4332cb d="M14731 13127l73-14 72-18-35 1-72 18-73 14zM14755 13123l-35 1M14779 13118l-34 1M14804 13113l-35 1M14828 13108l-35 1M14852 13101l-35 2"/><path fill=#4537d5 d="M14876 13095l49-16 48-20-35 2-48 19-49 16zM14900 13087l-34 1M14925 13079l-35 1M14949 13070l-35 1"/><path fill=#2b91ef d="M15336 12525l25-142-35 0-24 142z"/><path fill=#20a5e3 d="M15361 12383l24-228-35 0-24 228z"/><path fill=#24c1ae d="M15385 12155l24-396-35-1-24 397z"/><path fill=#dcbd29 d="M15409 11759l24-775-35-2-24 776z"/><path fill=#422ec0 d="M14454 13154l24-2-35 1-24 2z"/><path fill=#422ec0 d="M14502 13150l25-2-35 2-25 2z"/><path fill=#422ec0 d="M14551 13146l72-7 73-11-35 1-72 11-73 8zM14575 13144l-35 1M14599 13141l-35 2M14623 13139l-34 1M14648 13135l-35 2M14672 13132l-35 1"/><path fill=#4332cb d="M14696 13128l73-14 72-18-34 1-73 18-73 14zM14720 13124l-35 1M14745 13119l-35 1M14769 13114l-35 1M14793 13109l-35 1M14817 13103l-35 1"/><path fill=#4537d5 d="M14841 13096l49-16 48-19-35 1-48 19-48 16zM14866 13088l-35 1M14890 13080l-35 1M14914 13071l-35 1"/><path fill=#2b91ef d="M15302 12525l24-142-35 0-24 142z"/><path fill=#20a5e3 d="M15326 12383l24-228-35-1-24 229z"/><path fill=#24c1ae d="M15350 12155l24-397-35-1-24 397z"/><path fill=#dcbd29 d="M15374 11758l24-776-34-2-25 777z"/><path fill=#422ec0 d="M14492 13150l48-5-35 1-48 5zM14516 13148l-35 1"/><path fill=#422ec0 d="M14564 13143l97-14-35 1-97 14zM14589 13140l-35 1M14613 13137l-35 1M14637 13133l-35 1"/><path fill=#4332cb d="M14661 13129l73-14 73-18-35 1-73 18-73 14zM14685 13125l-34 1M14710 13120l-35 2M14734 13115l-35 1M14758 13110l-35 1M14782 13104l-35 1"/><path fill=#4537d5 d="M14807 13097l48-16 48-19-34 1-49 19-48 16zM14831 13089l-35 1M14855 13081l-35 1M14879 13072l-35 1"/><path fill=#2b91ef d="M15267 12525l24-142-35-1-24 143z"/><path fill=#20a5e3 d="M15291 12383l24-229-35 0-24 228z"/><path fill=#24c1ae d="M15315 12154l24-397-35-1-24 398z"/><path fill=#dcbd29 d="M15339 11757l25-777-35-3-25 779z"/><path fill=#422ec0 d="M14433 13153l48-4-35 1-48 4zM14457 13151l-35 1"/><path fill=#422ec0 d="M14505 13146l97-12-35 1-97 13zM14529 13144l-34 1M14554 13141l-35 1M14578 13138l-35 1"/><path fill=#4332cb d="M14602 13134l97-18 73-18-35 1-73 19-97 17zM14626 13130l-35 2M14651 13126l-35 1M14675 13122l-35 1M14699 13116l-35 2M14723 13111l-35 1M14747 13105l-34 1"/><path fill=#4537d5 d="M14772 13098l72-25-35 1-72 25zM14796 13090l-35 1M14820 13082l-35 1"/><path fill=#2b91ef d="M15232 12525l24-143-35 0-24 143z"/><path fill=#1ca9df d="M15256 12382l24-228-35-1-24 229z"/><path fill=#24c1ae d="M15280 12154l24-398-34-2-25 399z"/><path fill=#e6bb2d d="M15304 11756l25-779-35-3-24 780z"/><path fill=#422ec0 d="M14374 13156l48-4-35 1-48 4zM14398 13154l-35 1"/><path fill=#422ec0 d="M14446 13150l121-15-35 1-121 15zM14470 13148l-34 1M14495 13145l-35 1M14519 13142l-35 1M14543 13139l-35 1"/><path fill=#4332cb d="M14567 13135l97-17 73-19-35 1-73 19-97 17zM14591 13132l-34 1M14616 13127l-35 1M14640 13123l-35 1M14664 13118l-35 1M14688 13112l-35 1M14713 13106l-35 1"/><path fill=#4537d5 d="M14737 13099l72-25-34 1-73 25zM14761 13091l-35 1M14785 13083l-35 1"/><path fill=#2b91ef d="M15197 12525l24-143-35-1-24 144z"/><path fill=#1ca9df d="M15221 12382l24-229-35-1-24 229z"/><path fill=#24c1ae d="M15245 12153l25-399-35-2-25 400z"/><path fill=#e6bb2d d="M15270 11754l24-780-35-3-24 781z"/><path fill=#422ec0 d="M14339 13157l24-2-35 1-24 2z"/><path fill=#422ec0 d="M14387 13153l49-4-35 1-49 4zM14411 13151l-35 1"/><path fill=#422ec0 d="M14460 13146l72-10-34 1-73 10zM14484 13143l-35 1M14508 13140l-35 1"/><path fill=#4332cb d="M14532 13136l73-12 73-17-35 1-73 17-72 12zM14557 13133l-35 1M14581 13128l-35 1M14605 13124l-35 1M14629 13119l-35 1M14653 13113l-34 1"/><path fill=#4537d5 d="M14678 13107l48-15 49-17-35 0-49 18-48 15zM14702 13100l-35 1M14726 13092l-35 1M14750 13084l-35 1"/><path fill=#2b91ef d="M15162 12525l24-144-35 0-24 143z"/><path fill=#1ca9df d="M15186 12381l24-229-34-1-25 230z"/><path fill=#24c1ae d="M15210 12152l25-400-35-2-24 401z"/><path fill=#e6bb2d d="M15235 11752l24-781-35-4-24 783z"/><path fill=#422ec0 d="M14280 13159l24-1-35 1-24 2z"/><path fill=#422ec0 d="M14328 13156l48-4-34 1-49 4zM14352 13154l-35 1"/><path fill=#422ec0 d="M14401 13150l97-13-35 1-97 13zM14425 13147l-35 1M14449 13144l-35 1M14473 13141l-35 1"/><path fill=#4332cb d="M14498 13137l72-12 73-17-35 0-73 18-72 12zM14522 13134l-35 1M14546 13129l-35 1M14570 13125l-35 1M14594 13120l-34 0M14619 13114l-35 1"/><path fill=#4537d5 d="M14643 13108l48-15 49-18-35 1-49 18-48 14zM14667 13101l-35 1M14691 13093l-35 1M14715 13085l-34 1"/><path fill=#2b91ef d="M15127 12524l24-143-34-2-25 145z"/><path fill=#1ca9df d="M15151 12381l25-230-35-2-24 230z"/><path fill=#24c1ae d="M15176 12151l24-401-35-3-24 402z"/><path fill=#e6bb2d d="M15200 11750l24-783-35-5-24 785z"/><path fill=#422ec0 d="M14245 13161l24-2-35 1-24 2z"/><path fill=#422ec0 d="M14293 13157l24-2-35 1-24 2z"/><path fill=#422ec0 d="M14342 13153l121-15-35 1-121 15zM14366 13151l-35 1M14390 13148l-35 1M14414 13145l-35 1M14438 13142l-34 1"/><path fill=#4332cb d="M14463 13138l72-12 73-18-35 1-73 17-72 13zM14487 13135l-35 0M14511 13130l-35 1M14535 13126l-35 0M14560 13120l-35 1M14584 13115l-35 1"/><path fill=#4537d5 d="M14608 13108l48-14 49-18-35 1-48 18-49 14zM14632 13102l-35 0M14656 13094l-34 1M14681 13086l-35 0"/><path fill=#2b91ef d="M15092 12524l25-145-35-1-25 145z"/><path fill=#1ca9df d="M15117 12379l24-230-35-2-24 231z"/><path fill=#24c1ae d="M15141 12149l24-402-35-3-24 403z"/><path fill=#e6bb2d d="M15165 11747l24-785-35-5-24 787z"/><path fill=#422ec0 d="M14282 13156l73-7-35 1-72 7zM14307 13154l-35 1M14331 13152l-35 1"/><path fill=#422ec0 d="M14379 13146l49-7-35 1-49 7zM14404 13143l-35 1"/><path fill=#4332cb d="M14428 13139l72-13 73-17-35 1-72 17-73 13zM14452 13135l-35 1M14476 13131l-35 1M14500 13126l-34 1M14525 13121l-35 1M14549 13116l-35 0"/><path fill=#4537d5 d="M14573 13109l49-14 48-18-35 0-48 18-49 15zM14597 13102l-35 1M14622 13095l-35 0M14646 13086l-35 1"/><path fill=#2b91ef d="M15057 12523l25-145-35-2-24 146z"/><path fill=#1ca9df d="M15082 12378l24-231-35-2-24 231z"/><path fill=#24c1ae d="M15106 12147l24-403-35-4-24 405z"/><path fill=#e6bb2d d="M15130 11744l24-787-35-6-24 789z"/><path fill=#422ec0 d="M14175 13163l24-2-35 1-24 1z"/><path fill=#422ec0 d="M14223 13159l49-4-35 1-48 4zM14248 13157l-35 1"/><path fill=#422ec0 d="M14296 13153l97-13-35 1-97 12zM14320 13150l-35 1M14344 13147l-34 1M14369 13144l-35 1"/><path fill=#4332cb d="M14393 13140l73-13 72-17-35 1-72 17-73 13zM14417 13136l-35 1M14441 13132l-35 1M14466 13127l-35 1M14490 13122l-35 1M14514 13116l-35 1"/><path fill=#4537d5 d="M14538 13110l49-15 48-18-35 1-48 18-49 15zM14562 13103l-34 1M14587 13095l-35 1M14611 13087l-35 0"/><path fill=#2b91ef d="M15023 12522l24-146-35-2-24 146z"/><path fill=#1ca9df d="M15047 12376l24-231-35-3-24 232z"/><path fill=#2cc4a7 d="M15071 12145l24-405-35-4-24 406z"/><path fill=#e6bb2d d="M15095 11740l24-789-34-7-25 792z"/><path fill=#402ab4 d="M14092 13166l24-1-35 1-24 1z"/><path fill=#422ec0 d="M14140 13163l24-1-35 1-24 1z"/><path fill=#422ec0 d="M14189 13160l48-4-35 1-48 4zM14213 13158l-35 1"/><path fill=#422ec0 d="M14261 13153l97-12-35 1-97 12zM14285 13151l-34 0M14310 13148l-35 0M14334 13145l-35 0"/><path fill=#4332cb d="M14358 13141l73-13 72-17-35 0-72 17-73 14zM14382 13137l-35 1M14406 13133l-34 0M14431 13128l-35 0M14455 13123l-35 0M14479 13117l-35 0"/><path fill=#4537d5 d="M14503 13111l49-15 48-18-35 0-48 18-49 15zM14528 13104l-35 0M14552 13096l-35 0M14576 13087l-35 1"/><path fill=#2b91ef d="M14988 12520l24-146-35-2-24 146z"/><path fill=#1ca9df d="M15012 12374l24-232-35-4-24 234z"/><path fill=#2cc4a7 d="M15036 12142l24-406-35-5-24 407z"/><path fill=#f0ba36 d="M15060 11736l25-792-35-9-25 796z"/><path fill=#402ab4 d="M14057 13167l24-1-35 0-24 2z"/><path fill=#422ec0 d="M14105 13164l24-1-34 0-25 2z"/><path fill=#422ec0 d="M14154 13161l24-2-35 0-24 2z"/><path fill=#422ec0 d="M14202 13157l121-15-35 0-121 15zM14226 13154l-35 1M14251 13151l-35 1M14275 13148l-35 1M14299 13145l-35 1"/><path fill=#4332cb d="M14323 13142l73-14 72-17-34 0-73 18-73 13zM14347 13138l-34 0M14372 13133l-35 1M14396 13128l-35 1M14420 13123l-35 1M14444 13117l-35 1"/><path fill=#4537d5 d="M14468 13111l73-23-35 0-72 23zM14493 13104l-35 0M14517 13096l-35 0"/><path fill=#2b91ef d="M14953 12518l24-146-35-4-24 147z"/><path fill=#1ca9df d="M14977 12372l24-234-35-4-24 234z"/><path fill=#2cc4a7 d="M15001 12138l24-407-34-6-25 409z"/><path fill=#f0ba36 d="M15025 11731l25-796-35-9-24 799z"/><path fill=#402ab4 d="M13974 13170l24-1-35 0-24 1z"/><path fill=#422ec0 d="M14046 13166l24-1-34 0-25 2z"/><path fill=#422ec0 d="M14095 13163l48-4-35 1-48 4zM14119 13161l-35 1"/><path fill=#422ec0 d="M14167 13157l97-11-35 0-97 12zM14191 13155l-34 0M14216 13152l-35 0M14240 13149l-35 0"/><path fill=#4332cb d="M14264 13146l97-17 73-18-35 0-73 18-97 17zM14288 13142l-35 0M14313 13138l-35 0M14337 13134l-35 0M14361 13129l-35 0M14385 13124l-35 0M14409 13118l-34 0"/><path fill=#4537d5 d="M14434 13111l72-23-35 0-72 23zM14458 13104l-35 0M14482 13096l-35 0"/><path fill=#2b91ef d="M14918 12515l24-147-35-4-24 148z"/><path fill=#1ca9df d="M14942 12368l24-234-34-6-25 236z"/><path fill=#2cc4a7 d="M14966 12134l25-409-35-8-24 411z"/><path fill=#f0ba36 d="M14991 11725l24-799-35-12-24 803z"/><path fill=#402ab4 d="M13939 13170l24-1-35 1-24 1z"/><path fill=#422ec0 d="M14011 13167l25-2-35 1-25 1z"/><path fill=#422ec0 d="M14060 13164l24-2-35 0-24 2z"/><path fill=#422ec0 d="M14108 13160l121-14-35 0-121 14zM14132 13158l-34 0M14157 13155l-35 0M14181 13152l-35 1M14205 13149l-35 1"/><path fill=#4332cb d="M14229 13146l97-17 73-18-35 0-73 18-97 17zM14253 13142l-34 0M14278 13138l-35 0M14302 13134l-35 0M14326 13129l-35 0M14350 13124l-35 0M14375 13118l-35 0"/><path fill=#4537d5 d="M14399 13111l72-23-34-1-73 24zM14423 13104l-35 0M14447 13096l-35 0"/><path fill=#2b91ef d="M14883 12512l24-148-35-5-24 149z"/><path fill=#1ca9df d="M14907 12364l25-236-35-6-25 237z"/><path fill=#2cc4a7 d="M14932 12128l24-411-35-9-24 414z"/><path fill=#f0ba36 d="M14956 11717l24-803-35-14-24 808z"/><path fill=#402ab4 d="M13831 13173l24-1-35 1-24 0z"/><path fill=#402ab4 d="M13928 13170l24-1-35 0-24 1z"/><path fill=#422ec0 d="M13976 13167l25-1-35 0-24 1z"/><path fill=#422ec0 d="M14025 13164l24-2-35 0-24 2z"/><path fill=#422ec0 d="M14073 13160l121-14-34 0-122 14zM14098 13158l-35 0M14122 13155l-35 0M14146 13153l-35 0M14170 13150l-35-1"/><path fill=#4332cb d="M14194 13146l73-12 73-16-35-1-73 17-72 12zM14219 13142l-35 0M14243 13138l-35 0M14267 13134l-35 0M14291 13129l-35 0M14315 13124l-34-1"/><path fill=#4537d5 d="M14340 13118l72-22-35-1-72 22zM14364 13111l-35 0M14388 13104l-35-1"/><path fill=#2797eb d="M14848 12508l24-149-34-6-25 149z"/><path fill=#18addb d="M14872 12359l25-237-35-9-24 240z"/><path fill=#31c69f d="M14897 12122l24-414-35-12-24 417z"/><path fill=#f8ba3d d="M14921 11708l24-808-35-18-24 814z"/><path fill=#402ab4 d="M13796 13173l24 0-34 0-25 0z"/><path fill=#402ab4 d="M13869 13171l24-1-35 0-24 1z"/><path fill=#422ec0 d="M13942 13167l24-1-35 0-24 1z"/><path fill=#422ec0 d="M13990 13164l48-4-34 0-49 4zM14014 13162l-35 0"/><path fill=#422ec0 d="M14063 13158l97-12-35 0-97 12zM14087 13155l-35 0M14111 13153l-35-1M14135 13149l-35 0"/><path fill=#4332cb d="M14160 13146l72-12 73-17-35-1-73 17-72 13zM14184 13142l-35 0M14208 13138l-35 0M14232 13134l-35-1M14256 13129l-34-1M14281 13123l-35-1"/><path fill=#4537d5 d="M14305 13117l72-22-34-1-73 22zM14329 13111l-35-1M14353 13103l-35-1"/><path fill=#2797eb d="M14813 12502l25-149-35-9-24 151z"/><path fill=#18addb d="M14838 12353l24-240-35-10-24 241z"/><path fill=#31c69f d="M14862 12113l24-417-35-14-24 421z"/><path fill=#f8ba3d d="M14886 11696l24-814-35-21-24 821z"/><path fill=#402ab4 d="M13737 13174l24-1-34 0-25 1z"/><path fill=#402ab4 d="M13834 13171l24-1-35 0-24 1z"/><path fill=#422ec0 d="M13907 13167l24-1-35-1-24 2z"/><path fill=#422ec0 d="M13955 13164l49-4-35-1-49 4zM13979 13162l-35-1"/><path fill=#422ec0 d="M14028 13158l72-9-34-1-73 9zM14052 13155l-35-1M14076 13152l-35-1"/><path fill=#4332cb d="M14100 13149l97-16 73-17-35-1-73 17-96 16zM14125 13146l-35-2M14149 13142l-35-1M14173 13138l-35-2M14197 13133l-35-1M14222 13128l-35-1M14246 13122l-35-1"/><path fill=#4537d5 d="M14270 13116l48-14-34-1-49 14zM14294 13110l-35-2"/><path fill=#2797eb d="M14779 12495l24-151-35-10-24 152z"/><path fill=#18addb d="M14803 12344l24-241-35-13-24 244z"/><path fill=#31c69f d="M14827 12103l24-421-35-18-24 426z"/><path fill=#febe3c d="M14851 11682l24-821-34-28-25 831z"/><path fill=#402ab4 d="M13678 13174l24 0-35-1-24 1z"/><path fill=#402ab4 d="M13775 13172l24-1-35-1-24 1z"/><path fill=#422ec0 d="M13848 13168l24-1-35-1-24 1z"/><path fill=#422ec0 d="M13896 13165l24-2-35-1-24 2z"/><path fill=#422ec0 d="M13944 13161l122-13-35-2-121 14zM13969 13159l-35-1M13993 13157l-35-2M14017 13154l-35-1M14041 13151l-35-1"/><path fill=#4332cb d="M14066 13148l72-12 73-15-35-2-73 15-72 12zM14090 13144l-35-1M14114 13141l-35-2M14138 13136l-35-2M14162 13132l-34-2M14187 13127l-35-3"/><path fill=#4537d5 d="M14211 13121l48-13-35-2-48 13zM14235 13115l-35-3"/><path fill=#2797eb d="M14744 12486l24-152-35-15-24 155z"/><path fill=#12b1d6 d="M14768 12334l24-244-35-18-24 247z"/><path fill=#37c897 d="M14792 12090l24-426-35-23-24 431z"/><path fill=#fec338 d="M14816 11664l25-831-35-35-25 843z"/><path fill=#402ab4 d="M13401 13174l24 0-35-1-24 0z"/><path fill=#402ab4 d="M13546 13175l97-1-35-2-96 1zM13571 13175l-35-2M13595 13174l-35-1M13619 13174l-35-1"/><path fill=#402ab4 d="M13692 13172l48-1-35-2-48 2zM13716 13172l-35-2"/><path fill=#422ec0 d="M13764 13170l49-3-35-2-49 3zM13789 13168l-35-1"/><path fill=#422ec0 d="M13837 13166l24-2-35-2-24 2z"/><path fill=#422ec0 d="M13885 13162l73-7-35-2-72 7zM13910 13160l-35-2M13934 13158l-35-2"/><path fill=#422ec0 d="M13982 13153l24-3-34-3-25 3z"/><path fill=#4332cb d="M14006 13150l97-16 73-15-35-4-73 16-96 16zM14031 13146l-35-2M14055 13143l-35-3M14079 13139l-35-3M14103 13134l-35-3M14128 13130l-35-3M14152 13124l-35-3"/><path fill=#259be8 d="M14709 12474l24-155-35-19-24 158z"/><path fill=#12b1d6 d="M14733 12319l24-247-35-24-24 252z"/><path fill=#3fca8e d="M14757 12072l24-431-34-33-25 440z"/><path fill=#fec934 d="M14781 11641l25-843-35-48-24 858z"/><path fill=#402ab4 d="M13415 13173l97 0-35-2-97 0zM13439 13173l-35-2M13463 13174l-35-3M13487 13173l-35-2"/><path fill=#402ab4 d="M13560 13173l97-2-35-3-97 2zM13584 13173l-35-3M13608 13172l-34-3M13633 13171l-35-2"/><path fill=#422ec0 d="M13681 13170l48-2-34-3-49 2zM13705 13169l-35-3"/><path fill=#422ec0 d="M13754 13167l97-7 96-10-34-4-97 10-97 7zM13778 13165l-35-3M13802 13164l-35-4M13826 13162l-35-4M13851 13160l-35-4M13875 13158l-35-4M13899 13156l-35-4M13923 13153l-35-4"/><path fill=#4332cb d="M13947 13150l73-10 73-13-35-6-73 14-72 11zM13972 13147l-35-4M13996 13144l-35-5M14020 13140l-35-5M14044 13136l-35-5M14068 13131l-34-4"/><path fill=#259be8 d="M14674 12458l24-158-35-27-24 162z"/><path fill=#08b5d0 d="M14698 12300l24-252-35-34-24 259z"/><path fill=#4acb84 d="M14722 12048l25-440-35-45-25 451z"/><path fill=#fccf30 d="M14747 11608l24-858-35-67-24 880z"/><path fill=#402ab4 d="M13331 13171l146 0 121-2-35-5-121 3-146 0zM13356 13171l-35-4M13380 13171l-35-4M13404 13171l-35-4M13428 13171l-35-4M13452 13171l-34-4M13477 13171l-35-4M13501 13171l-35-5M13525 13170l-35-4M13549 13170l-35-5M13574 13169l-35-4"/><path fill=#422ec0 d="M13598 13169l145-7 121-10-35-7-121 11-145 8zM13622 13168l-35-5M13646 13167l-35-5M13670 13166l-34-5M13695 13165l-35-6M13719 13163l-35-5M13743 13162l-35-6M13767 13160l-35-6M13791 13158l-34-5M13816 13156l-35-6M13840 13154l-35-6"/><path fill=#4332cb d="M13864 13152l49-6-35-7-49 6zM13888 13149l-35-7"/><path fill=#23a0e5 d="M14639 12435l24-162-35-43-24 169z"/><path fill=#01b8ca d="M14663 12273l24-259-34-52-25 268z"/><path fill=#57cc7a d="M14687 12014l25-451-35-69-24 468z"/><path fill=#f7dc2a d="M14712 11563l24-880-35-102-24 913z"/><path fill=#402ab4 d="M13296 13167l170-1-35-8-169 2zM13321 13167l-35-7M13345 13167l-35-8M13369 13167l-35-8M13393 13167l-35-8M13418 13167l-35-8M13442 13167l-35-9"/><path fill=#422ec0 d="M13466 13166l194-7-35-10-97 6-97 3zM13490 13166l-35-9M13514 13165l-34-9M13539 13165l-35-9M13563 13164l-35-9M13587 13163l-35-9M13611 13162l-35-10M13636 13161l-35-10"/><path fill=#2797eb d="M14580 12517l24-118-35-37-24 153z"/><path fill=#1ca9df d="M14604 12399l24-169-34-70-25 202z"/><path fill=#0bbdbd d="M14628 12230l25-268-35-87-24 285z"/><path fill=#72cd64 d="M14653 11962l24-468-35-115-24 496z"/><path fill=#f9fb15 d="M14677 11494l24-913-35-210-24 1008z"/><path fill=#402ab4 d="M13310 13159l97-1-35-3-97 2zM13334 13159l-35-3M13358 13159l-34-3M13383 13159l-35-3"/><path fill=#422ec0 d="M13407 13158l169-6 146-10-35-5-145 12-170 6zM13431 13158l-35-3M13455 13157l-35-3M13480 13156l-35-3M13504 13156l-35-4M13528 13155l-35-4M13552 13154l-35-4M13576 13152l-34-3M13601 13151l-35-4M13625 13149l-35-3M13649 13148l-35-4M13673 13146l-35-4M13698 13144l-35-4"/><path fill=#4332cb d="M13722 13142l97-12 96-16-34-5-97 17-97 11zM13746 13139l-35-4M13770 13136l-35-4M13794 13134l-34-5M13819 13130l-35-4M13843 13127l-35-5M13867 13123l-35-5M13891 13119l-35-5"/><path fill=#2797eb d="M14545 12515l24-153-35 1-24 154z"/><path fill=#2cc4a7 d="M14594 12160l24-285-35-164-24 407z"/><path fill=#c5c22a d="M14618 11875l24-496-35-266-24 598z"/><path fill=#402ab4 d="M13227 13157l97-1-35-4-97 1zM13251 13157l-35-4M13275 13157l-35-4M13299 13156l-34-3"/><path fill=#422ec0 d="M13324 13156l169-5 145-9-34-5-146 10-169 5zM13348 13156l-35-4M13372 13155l-35-4M13396 13155l-35-4M13420 13154l-34-4M13445 13153l-35-4M13469 13152l-35-4M13493 13151l-35-4M13517 13150l-35-5M13542 13149l-35-5M13566 13147l-35-5M13590 13146l-35-5M13614 13144l-35-5"/><path fill=#4332cb d="M13638 13142l97-10 73-10-35-6-73 10-96 11zM13663 13140l-35-6M13687 13137l-35-5M13711 13135l-35-6M13735 13132l-35-6M13760 13129l-35-6M13784 13126l-35-7"/><path fill=#4758f8 d="M13192 13153l97-1-35-425-97 31zM13216 13153l-35-403M13240 13153l-35-410M13265 13153l-35-418"/><path fill=#465efb d="M13289 13152l97-2-35-459-97 36zM13313 13152l-35-433M13337 13151l-35-441M13361 13151l-34-451"/><path fill=#4563fd d="M13386 13150l72-3-35-489-72 33zM13410 13149l-35-469M13434 13148l-35-478"/><path fill=#4269fe d="M13458 13147l73-5-35-521-73 37zM13482 13145l-34-499M13507 13144l-35-510"/><path fill=#3e6fff d="M13531 13142l73-5-35-559-73 43zM13555 13141l-35-534M13579 13139l-35-546"/><path fill=#3875fe d="M13604 13137l48-5-35-587-48 33zM13628 13134l-35-572"/><path fill=#327cfc d="M13652 13132l73-9-35-635-73 57zM13676 13129l-35-602M13700 13126l-34-618"/><path fill=#2f81fa d="M13725 13123l48-7-35-671-48 43zM13749 13119l-35-652"/><path fill=#2e87f7 d="M13773 13116l24-5-35-690-24 24z"/><path fill=#2d8cf3 d="M13797 13111l49-9-35-733-49 52zM13822 13107l-35-711"/><path fill=#2b91ef d="M13846 13102l24-5-35-757-24 29z"/><path fill=#2797eb d="M13870 13097l48-12-34-808-49 63zM13894 13091l-35-781"/><path fill=#259be8 d="M13918 13085l25-7-35-836-24 35z"/><path fill=#23a0e5 d="M13943 13078l24-8-35-866-24 38z"/><path fill=#20a5e3 d="M13967 13070l24-8-35-899-24 41z"/><path fill=#1ca9df d="M13991 13062l24-9-35-933-24 43z"/><path fill=#18addb d="M14015 13053l24-9-34-972-25 48z"/><path fill=#12b1d6 d="M14039 13044l25-11-35-1012-24 51z"/><path fill=#08b5d0 d="M14064 13033l24-12-35-1056-24 56z"/><path fill=#02bac3 d="M14088 13021l24-12-35-1105-24 61z"/><path fill=#0bbdbd d="M14112 13009l24-15-35-1157-24 67z"/><path fill=#24c1ae d="M14136 12994l25-15-35-1215-25 73z"/><path fill=#2cc4a7 d="M14161 12979l24-18-35-1279-24 82z"/><path fill=#37c897 d="M14185 12961l24-19-35-1350-24 90z"/><path fill=#57cc7a d="M14209 12942l24-22-35-1428-24 100z"/></g><path d="M1461.0 1346.3L1670.2 1337.2M1461.0 1346.3L1315.7 1332.3M1315.7 1332.3L1315.7 1011.8M1461.0 1346.3L1461.0 1353.3M1565.6 1341.8L1565.6 1348.8M1670.2 1337.2L1670.2 1344.2M1461.0 1346.3L1461.0 1353.3M1388.3 1339.3L1388.3 1346.3M1315.7 1332.3L1315.7 1339.3M1315.7 1332.3L1308.7 1332.3M1315.7 1300.2L1308.7 1300.2M1315.7 1268.2L1308.7 1268.2M1315.7 1236.1L1308.7 1236.1M1315.7 1204.1L1308.7 1204.1M1315.7 1172.0L1308.7 1172.0M1315.7 1140.0L1308.7 1140.0M1315.7 1107.9L1308.7 1107.9M1315.7 1075.9L1308.7 1075.9M1315.7 1043.8L1308.7 1043.8M1315.7 1011.8L1308.7 1011.8" stroke="#3a3a3a" stroke-width="0.8" fill="none"/><text x="1461.4" y="1374.4" font-size="13.4" text-anchor="start">0</text><text x="1566.0" y="1369.8" font-size="13.4" text-anchor="start">0.5</text><text x="1670.6" y="1365.3" font-size="13.4" text-anchor="start">1</text><text x="1461.0" y="1374.4" font-size="13.4" text-anchor="end">0</text><text x="1388.3" y="1367.4" font-size="13.4" text-anchor="end">0.5</text><text x="1315.7" y="1360.4" font-size="13.4" text-anchor="end">1</text><text x="1303.7" y="1337.1" font-size="13.4" text-anchor="end">0</text><text x="1303.7" y="1305.0" font-size="13.4" text-anchor="end">0.005</text><text x="1303.7" y="1273.0" font-size="13.4" text-anchor="end">0.01</text><text x="1303.7" y="1240.9" font-size="13.4" text-anchor="end">0.015</text><text x="1303.7" y="1208.9" font-size="13.4" text-anchor="end">0.02</text><text x="1303.7" y="1176.8" font-size="13.4" text-anchor="end">0.025</text><text x="1303.7" y="1144.8" font-size="13.4" text-anchor="end">0.03</text><text x="1303.7" y="1112.7" font-size="13.4" text-anchor="end">0.035</text><text x="1303.7" y="1080.7" font-size="13.4" text-anchor="end">0.04</text><text x="1303.7" y="1048.6" font-size="13.4" text-anchor="end">0.045</text><text x="1303.7" y="1016.6" font-size="13.4" text-anchor="end">0.05</text><text x="1559.5" y="1384.8" class="gk" text-anchor="middle">δ</text><text x="1378.5" y="1391.2" class="gk" text-anchor="middle">ρ</text><text transform="translate(1254.9 1173.2) rotate(-90)" font-size="14.7" text-anchor="middle">R<tspan font-size="11.7" dy="7">0</tspan></text><linearGradient id="cbi" x1="0" y1="0" x2="0" y2="1"><stop offset="0.0000" stop-color="#f9fb15"/><stop offset="0.0476" stop-color="#f5e924"/><stop offset="0.0952" stop-color="#fad62d"/><stop offset="0.1429" stop-color="#fec338"/><stop offset="0.1905" stop-color="#f0ba36"/><stop offset="0.2381" stop-color="#d1bf27"/><stop offset="0.2857" stop-color="#abc739"/><stop offset="0.3333" stop-color="#81cc59"/><stop offset="0.3810" stop-color="#57cc7a"/><stop offset="0.4286" stop-color="#37c897"/><stop offset="0.4762" stop-color="#24c1ae"/><stop offset="0.5238" stop-color="#02bac3"/><stop offset="0.5714" stop-color="#12b1d6"/><stop offset="0.6190" stop-color="#20a5e3"/><stop offset="0.6667" stop-color="#2797eb"/><stop offset="0.7143" stop-color="#2e87f7"/><stop offset="0.7619" stop-color="#3875fe"/><stop offset="0.8095" stop-color="#4563fd"/><stop offset="0.8571" stop-color="#4852f4"/><stop offset="0.9048" stop-color="#4741e5"/><stop offset="0.9524" stop-color="#4332cb"/><stop offset="1.0000" stop-color="#3e26a8"/></linearGradient><rect x="1708.4" y="1003.4" width="19.8" height="342.9" fill="url(#cbi)" stroke="#3a3a3a" stroke-width="0.8"/><text x="1733.7" y="1326.8" font-size="13.4" text-anchor="start">0.005</text><text x="1733.7" y="1289.9" font-size="13.4" text-anchor="start">0.01</text><text x="1733.7" y="1253.0" font-size="13.4" text-anchor="start">0.015</text><text x="1733.7" y="1216.1" font-size="13.4" text-anchor="start">0.02</text><text x="1733.7" y="1179.3" font-size="13.4" text-anchor="start">0.025</text><text x="1733.7" y="1142.4" font-size="13.4" text-anchor="start">0.03</text><text x="1733.7" y="1105.5" font-size="13.4" text-anchor="start">0.035</text><text x="1733.7" y="1068.7" font-size="13.4" text-anchor="start">0.04</text><text x="1733.7" y="1031.8" font-size="13.4" text-anchor="start">0.045</text><path d="M1728.2 1322.0h-3.5M1728.2 1285.1h-3.5M1728.2 1248.2h-3.5M1728.2 1211.4h-3.5M1728.2 1174.5h-3.5M1728.2 1137.6h-3.5M1728.2 1100.7h-3.5M1728.2 1063.9h-3.5M1728.2 1027.0h-3.5" stroke="#3a3a3a" stroke-width="0.8" fill="none"/>
<text class="cap" x="236.4" y="452.6" text-anchor="middle">(a)</text>
<text class="cap" x="854.2" y="452.6" text-anchor="middle">(b)</text>
<text class="cap" x="1473.2" y="452.6" text-anchor="middle">(c)</text>
<text class="cap" x="236.4" y="952.6" text-anchor="middle">(d)</text>
<text class="cap" x="854.2" y="952.6" text-anchor="middle">(e)</text>
<text class="cap" x="1473.2" y="952.6" text-anchor="middle">(f)</text>
<text class="cap" x="236.4" y="1452.6" text-anchor="middle">(g)</text>
<text class="cap" x="854.2" y="1452.6" text-anchor="middle">(h)</text>
<text class="cap" x="1473.2" y="1452.6" text-anchor="middle">(i)</text>
</svg></body></html>
